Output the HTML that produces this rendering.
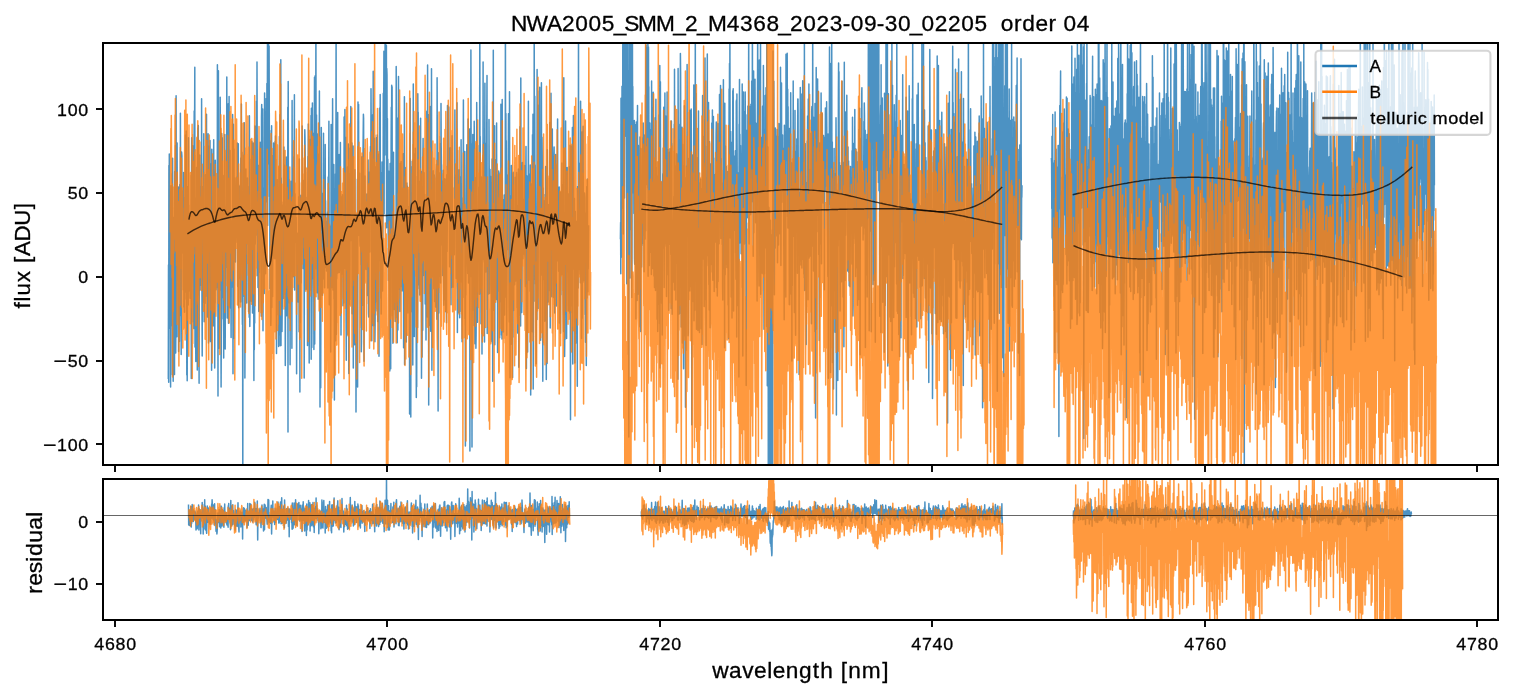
<!DOCTYPE html>
<html lang="en"><head><meta charset="utf-8"><title>NWA2005 order 04</title>
<style>
html,body{margin:0;padding:0;background:#fff;}
body{width:1513px;height:696px;overflow:hidden;}
svg{display:block;}
text{font-family:"Liberation Sans",sans-serif;white-space:pre;fill:#000;stroke:#000;stroke-width:.3px;filter:grayscale(1);}
.tk{font-size:17.2px;}
.lb{font-size:21.3px;}
.a{fill:none;stroke:#1f77b4;stroke-opacity:.8;stroke-linejoin:round;}
.b{fill:none;stroke:#ff7f0e;stroke-opacity:.8;stroke-linejoin:round;}
.m{fill:none;stroke:#000;stroke-opacity:.7;stroke-width:1.45;stroke-linejoin:round;}
.sp{fill:none;stroke:#000;stroke-width:2;}
.t{stroke:#000;stroke-width:1.9;}
</style></head>
<body>
<svg width="1513" height="696" viewBox="0 0 1513 696">
<rect width="1513" height="696" fill="#fff"/>
<defs><clipPath id="ct"><rect x="103.0" y="43.0" width="1395.0" height="422.0"/></clipPath><clipPath id="cr"><rect x="103.0" y="479.0" width="1395.0" height="141.0"/></clipPath></defs>
<g clip-path="url(#ct)" stroke-width="1.50">
<path class="a" d="M168.3 378.9L168.5 265.1L168.7 382.3L168.9 165.5L169.1 261.7L169.3 154.1L169.5 245.8L169.7 328.3L169.9 233.2L170.1 243.3L170.4 297.8L170.6 387.1L170.8 197.2L171 185.8L171.2 218.4L171.4 257.4L171.6 208.1L171.8 289.6L172 325.9L172.2 173.7L172.4 374.8L172.6 158.2L172.8 292.8L173 275.4L173.2 381.3L173.4 217.2L173.6 263.2L173.8 297.1L174 323.4L174.3 243.5L174.5 374.6L174.7 171.5L174.9 191.2L175.1 259.5L175.3 192.4L175.5 145.4L175.7 352.9L175.9 315L176.1 95.8L176.3 316.6L176.5 330.4L176.7 171.8L176.9 336.8L177.1 142.9L177.3 211.3L177.5 234.5L177.7 279.5L178 272.9L178.2 261.1L178.4 187L178.6 351.5L178.8 291.4L179 209.1L179.2 207.1L179.4 341.5L179.6 289.4L179.8 184.4L180 219.3L180.2 315.4L180.4 113.3L180.6 187.2L180.8 294.6L181 163.1L181.2 354.5L181.4 170.3L181.6 152L181.9 155.8L182.1 248.6L182.3 218L182.5 193.6L182.7 253.3L182.9 191.3L183.1 263L183.3 289.8L183.5 270.2L183.7 172.4L183.9 307.1L184.1 256.8L184.3 302.5L184.5 312.2L184.7 219.4L184.9 299.2L185.1 197.5L185.3 285.8L185.5 135.1L185.8 292.1L186 247.6L186.2 131L186.4 268.7L186.6 209.3L186.8 375L187 259.3L187.2 380.8L187.4 295.9L187.6 186.4L187.8 266.6L188 262.2L188.2 304.9L188.4 137.7L188.6 227.8L188.8 205.2L189 261.3L189.2 258.7L189.4 267.3L189.7 291.2L189.9 232.4L190.1 298.3L190.3 217.7L190.5 215.8L190.7 267.8L190.9 257.5L191.1 175.6L191.3 378.4L191.5 176.1L191.7 137.8L191.9 322L192.1 279.8L192.3 270.4L192.5 199.2L192.7 145.8L192.9 227.5L193.1 239.4L193.3 243.3L193.6 248.9L193.8 328.4L194 166L194.2 110.9L194.4 215.5L194.6 126.3L194.8 67.3L195 347L195.2 253.8L195.4 198L195.6 214.2L195.8 361.6L196 319L196.2 302.8L196.4 263.6L196.6 167.4L196.8 231.9L197 175.3L197.3 370L197.5 168.3L197.7 150.4L197.9 128L198.1 294.8L198.3 125.6L198.5 281.2L198.7 259.1L198.9 225.3L199.1 383.3L199.3 201.9L199.5 272.9L199.7 155L199.9 184.7L200.1 290L200.3 186.5L200.5 236.4L200.7 285.2L200.9 244.1L201.2 210.5L201.4 242L201.6 98.7L201.8 219.4L202 309.7L202.2 356L202.4 284.8L202.6 248.3L202.8 249.1L203 186.4L203.2 302.3L203.4 298.2L203.6 201.5L203.8 133.7L204 266.6L204.2 321.7L204.4 207.3L204.6 255L204.8 264.7L205.1 303.2L205.3 271.3L205.5 174.8L205.7 293.4L205.9 216.8L206.1 238.6L206.3 296L206.5 114.3L206.7 294.2L206.9 164.4L207.1 197.5L207.3 317.1L207.5 316.6L207.7 181.1L207.9 167.1L208.1 133.8L208.3 178.6L208.5 343.1L208.7 248.1L209 169L209.2 226.7L209.4 145.9L209.6 229.4L209.8 282.2L210 140.6L210.2 293.6L210.4 341.6L210.6 297.5L210.8 197.9L211 298.2L211.2 169.1L211.4 163.7L211.6 370.3L211.8 149.2L212 180.4L212.2 217.3L212.4 240.4L212.7 323.4L212.9 287.7L213.1 325.9L213.3 286.1L213.5 253.8L213.7 139.8L213.9 243.8L214.1 184.4L214.3 185L214.5 214.3L214.7 367.9L214.9 301.5L215.1 303.3L215.3 160.2L215.5 233.3L215.7 218.4L215.9 253.1L216.1 289.7L216.3 223.6L216.6 241.1L216.8 278.1L217 260.6L217.2 287.6L217.4 64.8L217.6 166L217.8 222.2L218 396L218.2 158.9L218.4 70.8L218.6 277.2L218.8 209.9L219 169.6L219.2 348.3L219.4 200.6L219.6 290.2L219.8 247.6L220 273.7L220.2 97.2L220.5 220.8L220.7 202L220.9 277.7L221.1 387.1L221.3 333.3L221.5 317.5L221.7 133.5L221.9 245.8L222.1 215.6L222.3 137.7L222.5 252.6L222.7 297.5L222.9 252.9L223.1 291.4L223.3 319.1L223.5 206.5L223.7 357.9L223.9 175.5L224.1 216.6L224.4 227.6L224.6 202.6L224.8 134.6L225 298.3L225.2 348.9L225.4 262.5L225.6 237.8L225.8 207.1L226 259.4L226.2 267.3L226.4 218.9L226.6 192.4L226.8 77L227 228.1L227.2 317.9L227.4 233.8L227.6 134L227.8 178.9L228 130.6L228.3 103.8L228.5 323.2L228.7 240.5L228.9 258.3L229.1 96.6L229.3 263.2L229.5 272.6L229.7 306.8L229.9 164.9L230.1 150.5L230.3 308.1L230.5 269.2L230.7 211L230.9 275.9L231.1 337.5L231.3 248.2L231.5 261.8L231.7 287L232 275L232.2 220.5L232.4 234.3L232.6 114.4L232.8 148.5L233 373.8L233.2 191.5L233.4 124.2L233.6 311.2L233.8 338.5L234 148.9L234.2 230.8L234.4 215.4L234.6 210L234.8 177.7L235 178.4L235.2 198.8L235.4 261.9L235.6 217.1L235.9 242.4L236.1 237.8L236.3 216.7L236.5 189.4L236.7 177.1L236.9 206L237.1 227.3L237.3 143L237.5 181.5L237.7 286.4L237.9 179.7L238.1 235.4L238.3 143.8L238.5 302.5L238.7 307.7L238.9 243.1L239.1 235.4L239.3 255.3L239.5 219.9L239.8 186.2L240 278.4L240.2 185.2L240.4 252.1L240.6 302.1L240.8 157.9L241 219.2L241.2 228.4L241.4 104L241.6 198.7L241.8 231.7L242 152.2L242.2 285.7L242.4 324.6L242.6 313.6L242.8 490L243 210.3L243.2 296.8L243.4 247.2L243.7 155.1L243.9 171.9L244.1 203.7L244.3 122.7L244.5 225.9L244.7 229.1L244.9 378.1L245.1 245.2L245.3 309.5L245.5 260.4L245.7 186.1L245.9 169L246.1 192.7L246.3 206.9L246.5 297.6L246.7 303L246.9 203.1L247.1 211.9L247.4 178L247.6 215.3L247.8 244.1L248 192.6L248.2 235.8L248.4 187L248.6 311.8L248.8 241.4L249 190.7L249.2 317.3L249.4 115.7L249.6 218.5L249.8 326.5L250 306.9L250.2 278.9L250.4 224.4L250.6 294.3L250.8 275.2L251 298.8L251.3 159.3L251.5 301.3L251.7 166L251.9 141.2L252.1 226.1L252.3 221.9L252.5 312.9L252.7 212.3L252.9 248.4L253.1 158.2L253.3 143.1L253.5 201.9L253.7 266.2L253.9 380.5L254.1 154.7L254.3 349.8L254.5 207.1L254.7 323.1L254.9 126.1L255.2 244.3L255.4 237.3L255.6 196L255.8 207.8L256 226.3L256.2 235.1L256.4 101.3L256.6 141.9L256.8 167.1L257 61.9L257.2 134.8L257.4 275.4L257.6 246.5L257.8 165.3L258 287.4L258.2 225.8L258.4 165.6L258.6 266.3L258.8 311.4L259.1 203.8L259.3 272.6L259.5 244.5L259.7 246.5L259.9 148.7L260.1 142.2L260.3 158.1L260.5 245.1L260.7 222.2L260.9 215.1L261.1 302.6L261.3 316.2L261.5 116.7L261.7 104.4L261.9 199.5L262.1 251.3L262.3 259L262.5 211.1L262.7 109L263 330.7L263.2 188L263.4 245.7L263.6 227.3L263.8 208.3L264 286L264.2 293.5L264.4 153.2L264.6 93.1L264.8 190.1L265 242.2L265.2 240.6L265.4 234.1L265.6 273.8L265.8 262.6L266 157.2L266.2 98.6L266.4 187L266.7 201.8L266.9 83.4L267.1 158.3L267.3 128.1L267.5 37.2L267.7 225.6L267.9 13L268.1 13L268.3 21.6L268.5 13L268.7 163.8L268.9 78.9L269.1 45.9L269.3 114.2L269.5 196.6L269.7 130.4L269.9 288.8L270.1 151.2L270.3 184.2L270.6 141.2L270.8 325.6L271 317.5L271.2 207.6L271.4 176L271.6 125.8L271.8 307.5L272 261.5L272.2 262.9L272.4 204.3L272.6 296.4L272.8 227.5L273 155.4L273.2 171.7L273.4 241.8L273.6 142.9L273.8 258.1L274 167.5L274.2 196.3L274.5 192.3L274.7 205.1L274.9 258.8L275.1 141.2L275.3 182.6L275.5 136.1L275.7 191.9L275.9 159.6L276.1 234.5L276.3 255.1L276.5 353.5L276.7 193.5L276.9 314.9L277.1 188.6L277.3 179.7L277.5 267.9L277.7 294.5L277.9 299.8L278.1 260.7L278.4 235.8L278.6 346.5L278.8 192.4L279 166.8L279.2 181.7L279.4 136.6L279.6 178.9L279.8 334.8L280 114.7L280.2 345.8L280.4 119.1L280.6 299L280.8 59.7L281 345.4L281.2 178L281.4 239L281.6 220L281.8 202L282 331.5L282.3 299L282.5 221.8L282.7 258.1L282.9 290.7L283.1 205.1L283.3 284.6L283.5 298.3L283.7 185.1L283.9 147L284.1 249L284.3 165L284.5 255.3L284.7 206.9L284.9 294.7L285.1 288.1L285.3 365.4L285.5 311.4L285.7 262.2L286 184.4L286.2 156.9L286.4 262L286.6 315.7L286.8 286.4L287 217.1L287.2 188.3L287.4 304.6L287.6 243.5L287.8 107.2L288 432L288.2 81.4L288.4 173.5L288.6 198.6L288.8 266.9L289 189.6L289.2 179.4L289.4 223.9L289.6 303.2L289.9 203.6L290.1 364.8L290.3 244.2L290.5 192.5L290.7 197.3L290.9 181.2L291.1 270.8L291.3 206.6L291.5 215.1L291.7 183.4L291.9 348.2L292.1 100.5L292.3 203.3L292.5 252.1L292.7 247.5L292.9 228.8L293.1 276.7L293.3 242.9L293.5 212.7L293.8 156.7L294 248.6L294.2 153.2L294.4 94.8L294.6 290.1L294.8 208.5L295 193.7L295.2 213L295.4 216.9L295.6 205L295.8 213.9L296 241.9L296.2 217.5L296.4 260.7L296.6 373.8L296.8 290.6L297 257.2L297.2 233.2L297.4 250.8L297.7 277.7L297.9 255.4L298.1 301.9L298.3 295.6L298.5 214.1L298.7 196.8L298.9 257.7L299.1 331.7L299.3 158.9L299.5 254.6L299.7 223.1L299.9 392L300.1 212.6L300.3 322.9L300.5 292.6L300.7 236L300.9 195.2L301.1 283L301.4 248.3L301.6 200.3L301.8 201.5L302 242.4L302.2 126.1L302.4 217.4L302.6 209.5L302.8 192.3L303 268.4L303.2 180.6L303.4 240.5L303.6 203L303.8 202.7L304 196.8L304.2 378.1L304.4 232.3L304.6 176.4L304.8 129.8L305 137.5L305.3 166.9L305.5 197.2L305.7 214.1L305.9 289.4L306.1 197.2L306.3 248.9L306.5 224.3L306.7 262.8L306.9 256.8L307.1 228.1L307.3 220L307.5 345.6L307.7 232.8L307.9 156.6L308.1 190.7L308.3 123.9L308.5 186.5L308.7 136.1L308.9 289.3L309.2 363L309.4 243.3L309.6 178.9L309.8 180L310 146.7L310.2 139.5L310.4 210.5L310.6 289.9L310.8 201.2L311 115.4L311.2 359.3L311.4 108.2L311.6 264.8L311.8 347.4L312 302.4L312.2 276.5L312.4 102.9L312.6 278.4L312.8 180.7L313.1 225L313.3 133.6L313.5 146.1L313.7 161L313.9 349.6L314.1 168L314.3 137.2L314.5 77.2L314.7 343.9L314.9 270.1L315.1 191.3L315.3 75.6L315.5 156.4L315.7 174.9L315.9 13L316.1 168.7L316.3 269.1L316.5 115.1L316.7 203.3L317 292.7L317.2 185.9L317.4 133.9L317.6 275.5L317.8 264.6L318 245.7L318.2 299.2L318.4 195.9L318.6 250.8L318.8 153.9L319 209.4L319.2 230.8L319.4 90.9L319.6 187.8L319.8 271.6L320 407L320.2 180.9L320.4 233.3L320.7 387.7L320.9 288.5L321.1 191.9L321.3 127.4L321.5 203.8L321.7 228.5L321.9 295.1L322.1 193.3L322.3 278.8L322.5 295.3L322.7 211.7L322.9 274.8L323.1 203.8L323.3 228.2L323.5 133.3L323.7 229.3L323.9 279L324.1 261.9L324.3 211.8L324.6 287.7L324.8 190.8L325 212.6L325.2 144.4L325.4 267.4L325.6 200.7L325.8 240.6L326 238.1L326.2 226.3L326.4 244.9L326.6 271.1L326.8 221.4L327 259.4L327.2 236.9L327.4 261L327.6 212.1L327.8 287.9L328 263.6L328.2 176.9L328.5 217L328.7 182.6L328.9 121.2L329.1 214.1L329.3 304.8L329.5 266.8L329.7 226.1L329.9 251.9L330.1 265.6L330.3 298.5L330.5 276.1L330.7 352L330.9 294.7L331.1 124.5L331.3 234.5L331.5 287.7L331.7 214.9L331.9 135.1L332.1 229.6L332.4 190.8L332.6 98.8L332.8 219.3L333 290.1L333.2 268.6L333.4 268.1L333.6 236.8L333.8 164.6L334 298.9L334.2 213.6L334.4 400L334.6 237.6L334.8 328.1L335 256.6L335.2 247.5L335.4 174L335.6 340.8L335.8 279.6L336.1 13L336.3 334.4L336.5 157.9L336.7 278.9L336.9 273.2L337.1 121.8L337.3 247.9L337.5 200.5L337.7 112.5L337.9 273.1L338.1 215.4L338.3 223.4L338.5 270.7L338.7 231.5L338.9 252.9L339.1 154.6L339.3 272.6L339.5 206L339.7 167.6L340 205.9L340.2 270.4L340.4 142.4L340.6 266.3L340.8 204.8L341 335L341.2 268.9L341.4 245.8L341.6 274.2L341.8 196.7L342 254.5L342.2 215.7L342.4 194.7L342.6 241.9L342.8 219.6L343 305.7L343.2 245.2L343.4 247.1L343.6 217L343.9 303L344.1 117L344.3 117.2L344.5 156.4L344.7 228L344.9 109.4L345.1 162.9L345.3 268.4L345.5 259.5L345.7 137.2L345.9 269.9L346.1 322.4L346.3 360.3L346.5 238L346.7 245.5L346.9 220.6L347.1 334.4L347.3 260.5L347.5 167L347.8 281.2L348 187.4L348.2 265.6L348.4 144L348.6 219.5L348.8 373.4L349 148.1L349.2 242.7L349.4 304.7L349.6 211.4L349.8 299.5L350 258.9L350.2 185.6L350.4 173.5L350.6 240.8L350.8 106.6L351 139.3L351.2 240.5L351.4 143L351.7 209.6L351.9 142.9L352.1 313.7L352.3 289.5L352.5 258.4L352.7 240.2L352.9 189.8L353.1 146.1L353.3 368L353.5 270.1L353.7 215.7L353.9 258.2L354.1 294L354.3 318.6L354.5 344.8L354.7 278.8L354.9 169.7L355.1 232.7L355.4 262.4L355.6 221.4L355.8 233L356 412L356.2 343.7L356.4 216L356.6 346.4L356.8 292.6L357 255.5L357.2 364.7L357.4 179.3L357.6 387.1L357.8 233.7L358 102L358.2 178.5L358.4 235.4L358.6 104.5L358.8 217.6L359 195.5L359.3 178.4L359.5 189.2L359.7 173.3L359.9 240.7L360.1 246.1L360.3 217.9L360.5 231.4L360.7 247.7L360.9 265.1L361.1 242.2L361.3 351.7L361.5 341.2L361.7 157.6L361.9 156.7L362.1 158.8L362.3 278.3L362.5 187.6L362.7 305.3L362.9 166.2L363.2 132.7L363.4 114.3L363.6 118.2L363.8 199.8L364 361.2L364.2 274.2L364.4 235.4L364.6 180.5L364.8 205.2L365 176L365.2 200.9L365.4 240L365.6 269L365.8 203.7L366 269.4L366.2 222.3L366.4 202.2L366.6 255.5L366.8 194L367.1 232.5L367.3 225.8L367.5 295.5L367.7 221.9L367.9 250.4L368.1 159.9L368.3 212.2L368.5 313.1L368.7 316.9L368.9 272.4L369.1 191.3L369.3 173.5L369.5 172L369.7 190L369.9 252L370.1 178.6L370.3 157.4L370.5 146.4L370.8 177.4L371 88.7L371.2 123L371.4 159.3L371.6 203.3L371.8 340.7L372 282L372.2 242.3L372.4 114.9L372.6 190.4L372.8 272.7L373 318.7L373.2 71.2L373.4 325.8L373.6 214.4L373.8 293.9L374 185.3L374.2 222.9L374.4 138.3L374.7 233.8L374.9 341.8L375.1 324.8L375.3 289L375.5 166.9L375.7 209L375.9 183L376.1 253.2L376.3 301.5L376.5 137.8L376.7 186.6L376.9 297.8L377.1 311.1L377.3 135L377.5 221.2L377.7 321.6L377.9 321.2L378.1 199.2L378.3 309.6L378.6 255.5L378.8 154L379 356.2L379.2 195.9L379.4 218.2L379.6 108.1L379.8 189.2L380 172.6L380.2 94.6L380.4 260.5L380.6 172.5L380.8 298.2L381 204.2L381.2 313.9L381.4 231.2L381.6 212.7L381.8 211.1L382 162L382.2 188.9L382.5 290.9L382.7 276.6L382.9 217.1L383.1 204.3L383.3 93.2L383.5 149L383.7 112.7L383.9 51.3L384.1 213.7L384.3 85.5L384.5 59.9L384.7 151.9L384.9 155.1L385.1 37.9L385.3 13L385.5 13L385.7 13L385.9 91.7L386.1 98.3L386.4 45.4L386.6 227.7L386.8 68.6L387 74.5L387.2 194.9L387.4 118.4L387.6 223L387.8 159.2L388 175.3L388.2 233.5L388.4 280.6L388.6 171.1L388.8 216.3L389 262.2L389.2 288.2L389.4 339L389.6 214L389.8 371L390.1 163.5L390.3 295.5L390.5 356.3L390.7 368.7L390.9 219L391.1 143.2L391.3 107.2L391.5 193.3L391.7 85.3L391.9 164.7L392.1 86.7L392.3 254.3L392.5 316.1L392.7 214.9L392.9 343.3L393.1 200.5L393.3 277.9L393.5 152.2L393.7 245.9L394 291.4L394.2 255.2L394.4 309.4L394.6 240.3L394.8 234.9L395 241.3L395.2 321.4L395.4 258.2L395.6 263.8L395.8 243.8L396 317.5L396.2 66.6L396.4 180.5L396.6 231.6L396.8 237.9L397 117.9L397.2 342.7L397.4 241L397.6 187.7L397.9 330L398.1 297L398.3 120.3L398.5 76.4L398.7 164.7L398.9 289.3L399.1 286.5L399.3 251.7L399.5 286L399.7 213.5L399.9 311.6L400.1 287.4L400.3 163.5L400.5 223L400.7 232.7L400.9 286.4L401.1 161.6L401.3 222.1L401.5 266.6L401.8 193.4L402 290.9L402.2 280.2L402.4 187.9L402.6 225.3L402.8 241L403 225.2L403.2 153.7L403.4 174.2L403.6 347.7L403.8 197.3L404 263.4L404.2 191.9L404.4 96.7L404.6 364.4L404.8 169.3L405 232.6L405.2 167.6L405.5 197.4L405.7 219L405.9 194.3L406.1 257.7L406.3 342L406.5 202.7L406.7 309.8L406.9 182.9L407.1 254.1L407.3 185.9L407.5 223.4L407.7 222.1L407.9 313L408.1 272.7L408.3 258.6L408.5 206.8L408.7 285.7L408.9 287.2L409.1 239.4L409.4 189.7L409.6 414L409.8 133.4L410 297.5L410.2 98.6L410.4 305.5L410.6 166.5L410.8 417L411 196.5L411.2 271.8L411.4 192.9L411.6 284.8L411.8 299.4L412 291.1L412.2 161.2L412.4 312.1L412.6 189L412.8 364.9L413 198L413.3 84L413.5 294.4L413.7 211.3L413.9 153.7L414.1 159L414.3 336.5L414.5 213.5L414.7 202L414.9 238.2L415.1 257.5L415.3 148.2L415.5 242.6L415.7 176.6L415.9 224.5L416.1 232.2L416.3 397.4L416.5 309.6L416.7 386.8L416.9 207.4L417.2 291.8L417.4 242.2L417.6 327.6L417.8 93.7L418 135.5L418.2 112.2L418.4 284.7L418.6 169.9L418.8 248L419 248.5L419.2 207.6L419.4 288.8L419.6 211.4L419.8 294.9L420 181.2L420.2 258.3L420.4 271.1L420.6 118.3L420.8 236L421.1 203.2L421.3 171.3L421.5 378.2L421.7 288.1L421.9 304.5L422.1 357L422.3 275.4L422.5 186.6L422.7 330.2L422.9 156.1L423.1 138.6L423.3 251.3L423.5 275.6L423.7 175.5L423.9 194.1L424.1 172.7L424.3 259.5L424.5 224L424.8 194.6L425 218.6L425.2 303.9L425.4 218.5L425.6 214.9L425.8 200.7L426 339.9L426.2 266.3L426.4 315.2L426.6 249.1L426.8 111.2L427 195.2L427.2 238.2L427.4 317.1L427.6 65L427.8 276.3L428 311.2L428.2 149.9L428.4 114.8L428.7 405.1L428.9 223.3L429.1 172.7L429.3 235.1L429.5 298.2L429.7 171.2L429.9 325.6L430.1 106.5L430.3 216.4L430.5 227.7L430.7 331.3L430.9 215.3L431.1 216.9L431.3 202.1L431.5 68.8L431.7 189.4L431.9 370.3L432.1 214.2L432.3 277.3L432.6 203.2L432.8 241.5L433 206.8L433.2 170.7L433.4 253.1L433.6 174.7L433.8 288.8L434 268.5L434.2 175.1L434.4 177.6L434.6 301.4L434.8 291.5L435 202.1L435.2 214.2L435.4 206.5L435.6 306.9L435.8 272.9L436 253.2L436.2 172.1L436.5 164.2L436.7 278.3L436.9 319.2L437.1 77.7L437.3 135.4L437.5 260L437.7 211.4L437.9 173L438.1 411L438.3 152.8L438.5 273.4L438.7 201.2L438.9 313.1L439.1 213.8L439.3 276.3L439.5 200.5L439.7 172.8L439.9 193L440.2 227.8L440.4 143.5L440.6 283L440.8 223L441 103.5L441.2 146L441.4 164.2L441.6 165.4L441.8 234.5L442 214L442.2 245.3L442.4 186.2L442.6 275.6L442.8 187.1L443 180.9L443.2 249L443.4 170.2L443.6 273.4L443.8 305.3L444.1 275.7L444.3 178.7L444.5 196.6L444.7 255.6L444.9 213.3L445.1 298.6L445.3 299.8L445.5 285.5L445.7 311.8L445.9 179L446.1 190.5L446.3 255.8L446.5 322.7L446.7 174.7L446.9 211.9L447.1 251.5L447.3 218.7L447.5 105.5L447.7 193.5L448 199L448.2 203.5L448.4 168.4L448.6 210.2L448.8 106.9L449 172.9L449.2 193.1L449.4 220.6L449.6 266.7L449.8 190.1L450 252.3L450.2 206.4L450.4 147.8L450.6 232.2L450.8 248L451 304.8L451.2 219.7L451.4 241.4L451.6 287.5L451.9 233.9L452.1 135.7L452.3 186.9L452.5 264.6L452.7 219L452.9 250.8L453.1 287.3L453.3 238.7L453.5 233.5L453.7 217L453.9 239.5L454.1 217.7L454.3 254.7L454.5 212.1L454.7 226.2L454.9 110L455.1 217.8L455.3 175.1L455.5 186.9L455.8 209.6L456 208.7L456.2 278.6L456.4 246L456.6 214.4L456.8 169.6L457 102.7L457.2 225L457.4 332.5L457.6 150.6L457.8 285.5L458 196.5L458.2 180.5L458.4 312.6L458.6 267.6L458.8 188.4L459 248.6L459.2 169.7L459.5 285.3L459.7 317.8L459.9 176.7L460.1 311.5L460.3 206.6L460.5 237L460.7 281.7L460.9 248.3L461.1 139.7L461.3 205.4L461.5 197.7L461.7 241.7L461.9 267.2L462.1 341.7L462.3 301L462.5 203.8L462.7 226.9L462.9 297.4L463.1 211L463.4 99.9L463.6 196.2L463.8 191.3L464 232.2L464.2 176.3L464.4 163.6L464.6 190.8L464.8 151.5L465 318.8L465.2 267.1L465.4 446L465.6 214.1L465.8 295.2L466 264.6L466.2 236.8L466.4 221.2L466.6 177.6L466.8 144.7L467 228.2L467.3 240.3L467.5 263.4L467.7 273.6L467.9 264.5L468.1 118.9L468.3 133.1L468.5 282.9L468.7 281.2L468.9 170L469.1 169.9L469.3 229.8L469.5 129.1L469.7 177L469.9 451L470.1 201.5L470.3 258.8L470.5 140L470.7 276.5L470.9 50L471.2 177.2L471.4 267.9L471.6 143.7L471.8 162.4L472 447L472.2 219.9L472.4 183.1L472.6 232.1L472.8 134.4L473 219.5L473.2 310.1L473.4 273L473.6 277L473.8 243.1L474 325.6L474.2 121.3L474.4 158.5L474.6 280.6L474.9 343.8L475.1 267.7L475.3 177.8L475.5 213L475.7 227.4L475.9 348.3L476.1 335.5L476.3 305.5L476.5 303.6L476.7 102.4L476.9 145.6L477.1 223L477.3 212.2L477.5 322.2L477.7 283.7L477.9 250.6L478.1 259.3L478.3 220.1L478.5 217.7L478.8 186.9L479 229.9L479.2 145.6L479.4 294.3L479.6 205L479.8 13L480 176.2L480.2 136.6L480.4 209.4L480.6 216.5L480.8 205L481 323.7L481.2 211L481.4 177.1L481.6 268.1L481.8 227.6L482 354.1L482.2 233.8L482.4 183.2L482.7 259.6L482.9 259L483.1 62L483.3 250.1L483.5 143.1L483.7 233L483.9 245.4L484.1 262.2L484.3 171.8L484.5 342.1L484.7 161.8L484.9 83.2L485.1 259.5L485.3 167.5L485.5 143.3L485.7 272L485.9 161.9L486.1 247.9L486.3 207.9L486.6 157.6L486.8 118.7L487 75.6L487.2 333.4L487.4 290.6L487.6 242.2L487.8 243.5L488 260.2L488.2 240.3L488.4 293.9L488.6 216.8L488.8 281.1L489 119.5L489.2 164.4L489.4 209L489.6 293.6L489.8 284.2L490 169.6L490.2 192.5L490.5 176.2L490.7 200.5L490.9 230.3L491.1 238.3L491.3 222.1L491.5 340L491.7 183.1L491.9 341.8L492.1 159L492.3 174.3L492.5 233.9L492.7 381.3L492.9 199.1L493.1 232.4L493.3 50.2L493.5 235.9L493.7 196.2L493.9 264.4L494.2 310.5L494.4 176.7L494.6 125.7L494.8 344.7L495 198.3L495.2 235.7L495.4 174.5L495.6 207.7L495.8 159.7L496 236.7L496.2 211.8L496.4 299.6L496.6 122.9L496.8 254.2L497 174.4L497.2 198.5L497.4 184.5L497.6 352.5L497.8 272L498.1 267.5L498.3 291.1L498.5 210L498.7 171.1L498.9 210.8L499.1 172.8L499.3 204.3L499.5 259.5L499.7 337.7L499.9 253.1L500.1 301.9L500.3 296.1L500.5 272.5L500.7 264.6L500.9 104.2L501.1 218.1L501.3 184.1L501.5 335.1L501.7 209.2L502 338.9L502.2 99.6L502.4 274.8L502.6 277.8L502.8 233.4L503 207.2L503.2 267L503.4 332.1L503.6 199.5L503.8 210.6L504 238.7L504.2 195L504.4 288.7L504.6 314.9L504.8 272.6L505 243.1L505.2 254.9L505.4 13L505.6 164.8L505.9 113.4L506.1 297.3L506.3 140.8L506.5 234.9L506.7 335.3L506.9 280.1L507.1 230.6L507.3 175.2L507.5 180L507.7 238.8L507.9 249.6L508.1 211.9L508.3 154.2L508.5 113.7L508.7 198.7L508.9 176.1L509.1 306.1L509.3 322.1L509.5 91.7L509.8 233.2L510 377.7L510.2 320.4L510.4 195.8L510.6 290.9L510.8 234.5L511 240.1L511.2 344.3L511.4 165.5L511.6 300.8L511.8 174.5L512 258.3L512.2 215.7L512.4 227.4L512.6 377.5L512.8 173.2L513 337.2L513.2 172.3L513.5 224.8L513.7 310.4L513.9 227.8L514.1 242.6L514.3 219.6L514.5 223.5L514.7 284.8L514.9 272.8L515.1 177.3L515.3 276.1L515.5 250L515.7 280.9L515.9 268.4L516.1 266.4L516.3 189.2L516.5 172.6L516.7 274L516.9 240L517.1 307.7L517.4 291.5L517.6 333.1L517.8 205.5L518 207.2L518.2 230.4L518.4 169L518.6 274.8L518.8 367.3L519 279.5L519.2 315.6L519.4 186.9L519.6 287L519.8 246.9L520 126.7L520.2 217.2L520.4 176.2L520.6 326L520.8 78L521 185.7L521.3 236.7L521.5 165.6L521.7 312.4L521.9 301.5L522.1 255.3L522.3 192.9L522.5 162.4L522.7 249.3L522.9 258.8L523.1 247.9L523.3 217.9L523.5 254.3L523.7 199.2L523.9 252L524.1 248.4L524.3 214.8L524.5 165.4L524.7 188.6L524.9 255.2L525.2 258.7L525.4 286.4L525.6 218.1L525.8 176.8L526 146.5L526.2 233.2L526.4 368.4L526.6 177.4L526.8 243.3L527 176.1L527.2 305L527.4 220.5L527.6 352L527.8 243.1L528 210.5L528.2 215.4L528.4 101.2L528.6 220.6L528.9 280L529.1 196.4L529.3 235.1L529.5 174.6L529.7 221.4L529.9 186L530.1 291.2L530.3 165L530.5 215.5L530.7 395.1L530.9 248.2L531.1 223.7L531.3 183.9L531.5 209.2L531.7 215.7L531.9 318.2L532.1 311.5L532.3 331.8L532.5 134.7L532.8 213.2L533 114.3L533.2 389.1L533.4 256.5L533.6 165.7L533.8 190.4L534 301.3L534.2 21.5L534.4 149.3L534.6 170.8L534.8 96.3L535 279.2L535.2 164.9L535.4 202.8L535.6 284.1L535.8 243.3L536 302.8L536.2 363.8L536.4 245.8L536.7 231.3L536.9 319.5L537.1 69.6L537.3 179.5L537.5 234.5L537.7 104.9L537.9 260.2L538.1 308.5L538.3 195.4L538.5 139.4L538.7 213.3L538.9 222.9L539.1 138.6L539.3 90.9L539.5 147L539.7 87.2L539.9 185.5L540.1 259.7L540.3 300.6L540.6 340.2L540.8 184.4L541 139.6L541.2 226.6L541.4 82.7L541.6 168.6L541.8 274.9L542 137.3L542.2 154.3L542.4 183.5L542.6 195.6L542.8 381.2L543 188.1L543.2 241.2L543.4 234.2L543.6 203.1L543.8 200.8L544 279.6L544.2 265.2L544.5 210.6L544.7 321.3L544.9 250.3L545.1 194.5L545.3 274.1L545.5 287.5L545.7 166.5L545.9 233.1L546.1 222.1L546.3 379.5L546.5 279.6L546.7 203L546.9 256.9L547.1 363.5L547.3 149.8L547.5 286.9L547.7 297.8L547.9 204.5L548.2 302.1L548.4 208.5L548.6 255.8L548.8 284.5L549 204.4L549.2 223.3L549.4 290.5L549.6 204.8L549.8 122.5L550 146.4L550.2 328L550.4 234.5L550.6 285.8L550.8 205.3L551 93.2L551.2 190.8L551.4 151L551.6 232.7L551.8 296.8L552.1 224.5L552.3 128.9L552.5 200L552.7 243.5L552.9 234L553.1 197.5L553.3 216L553.5 297.6L553.7 252.2L553.9 153.9L554.1 147L554.3 265.3L554.5 285.7L554.7 313L554.9 254L555.1 260.8L555.3 251.3L555.5 213.2L555.7 154.6L556 285.8L556.2 202.5L556.4 306.1L556.6 209.4L556.8 165L557 257.6L557.2 224.8L557.4 163.1L557.6 119.1L557.8 260.7L558 197.8L558.2 255.7L558.4 250.4L558.6 271.2L558.8 224.4L559 250.1L559.2 187.1L559.4 322.9L559.6 207.5L559.9 309.4L560.1 245.6L560.3 282L560.5 333.2L560.7 192L560.9 294.9L561.1 207.1L561.3 261.2L561.5 222.3L561.7 252.7L561.9 163L562.1 274.5L562.3 184.5L562.5 262.8L562.7 241.2L562.9 223.1L563.1 292.2L563.3 311.6L563.6 331.6L563.8 77.8L564 308.3L564.2 247.2L564.4 234.6L564.6 356.4L564.8 335.1L565 339.7L565.2 212.7L565.4 296.6L565.6 121L565.8 184.8L566 215.3L566.2 226.5L566.4 180.1L566.6 338.5L566.8 237.9L567 174L567.2 167.6L567.5 251.4L567.7 221.1L567.9 271.5L568.1 207.3L568.3 275.4L568.5 310.9L568.7 193.7L568.9 286.4L569.1 257.7L569.3 264.2L569.5 166.5L569.7 306.7L569.9 313.3L570.1 145.3L570.3 283.6L570.5 419.7L570.7 239L570.9 312.9L571.1 248.9L571.4 146.3L571.6 305.7L571.8 290.3L572 232.4L572.2 224L572.4 127.5L572.6 334.4L572.8 363.9L573 215L573.2 262.4L573.4 115.6L573.6 213.8L573.8 268.9L574 200.3L574.2 201.4L574.4 198.4L574.6 243.3L574.8 363L575 296.3L575.3 211.6L575.5 270.3L575.7 343.2L575.9 221L576.1 221.4L576.3 293.7L576.5 238.1L576.7 272L576.9 241L577.1 226.2L577.3 386.3L577.5 186.8L577.7 215.7L577.9 273.3L578.1 288L578.3 233.1L578.5 13L578.7 239.2L578.9 218.6L579.2 269.4L579.4 163.5L579.6 218.5L579.8 264.2L580 274.3L580.2 234.8L580.4 282.8L580.6 101.2L580.8 235.6L581 192.1L581.2 272.7L581.4 266.6L581.6 338.5L581.8 187.2L582 131.9L582.2 318.3L582.4 238.6L582.6 216L582.9 282.2L583.1 126.3L583.3 201.3L583.5 239.5L583.7 233.4L583.9 244.7L584.1 280.5L584.3 240.2L584.5 193L584.7 196.8L584.9 260.8L585.1 314.6L585.3 226L585.5 342.3L585.7 213.2L585.9 213L586.1 238.2L586.3 365.5L586.5 199.6L586.8 186.6L587 298L587.2 271.5L587.4 179L587.6 263L587.8 291.7L588 239.2L588.2 269L588.4 251.1L588.6 225.3"/>
<path class="a" d="M620.4 239.3L620.6 222.5L620.8 273.7L621 98.2L621.2 139.8L621.4 257.2L621.6 100.6L621.8 200.4L622 86.2L622.2 182.9L622.4 161.3L622.6 202.9L622.8 30.8L623 208.5L623.1 40.2L623.3 233.9L623.5 13L623.7 41.2L623.9 65.1L624.1 50.6L624.3 13L624.5 198L624.7 136.9L624.9 56.3L625.1 136.5L625.3 13L625.5 58.5L625.7 133L625.9 13L626.1 13L626.3 115.4L626.5 13L626.7 283.7L626.9 55L627.1 13L627.3 221.3L627.5 211.8L627.7 13L627.9 44L628.1 13L628.2 97.6L628.4 354.4L628.6 158.4L628.8 437.1L629 70.4L629.2 266.5L629.4 158.4L629.6 181.4L629.8 13L630 278L630.2 65.6L630.4 142.6L630.6 171.3L630.8 13L631 13L631.2 229.5L631.4 181.2L631.6 86.5L631.8 297.6L632 243L632.2 127.2L632.4 14.7L632.6 148.5L632.8 86.6L633 156L633.2 152.8L633.3 192.8L633.5 165.3L633.7 150.3L633.9 213.6L634.1 185L634.3 120.6L634.5 258L634.7 264.3L634.9 213L635.1 184.9L635.3 124.7L635.5 217.2L635.7 200.3L635.9 319L636.1 264.5L636.3 121.9L636.5 160.5L636.7 248.8L636.9 134.3L637.1 300.5L637.3 156.2L637.5 105.5L637.7 268.3L637.9 233.9L638.1 294.3L638.3 229.7L638.4 145.6L638.6 179.3L638.8 202.9L639 236.5L639.2 203.5L639.4 225L639.6 306.7L639.8 326.7L640 136.9L640.2 270.8L640.4 176.5L640.6 331.5L640.8 202.1L641 148.5L641.2 245.3L641.4 235.6L641.6 267.1L641.8 234.1L642 245.5L642.2 194.7L642.4 243.7L642.6 173.3L642.8 137.7L643 169.3L643.2 122.9L643.4 235.6L643.6 176.4L643.7 196.1L643.9 192.5L644.1 271.8L644.3 135.1L644.5 233.9L644.7 234.1L644.9 177.4L645.1 238.9L645.3 156.1L645.5 156.6L645.7 230.7L645.9 61.3L646.1 45L646.3 66.4L646.5 184.4L646.7 53.6L646.9 64.9L647.1 78.7L647.3 47.5L647.5 146.2L647.7 188L647.9 13L648.1 276.2L648.3 112L648.5 47L648.7 137.3L648.8 86.8L649 208.3L649.2 264.7L649.4 265.5L649.6 140.9L649.8 123.1L650 159.1L650.2 129.7L650.4 241L650.6 252.2L650.8 148.1L651 144.2L651.2 160.3L651.4 274.5L651.6 81L651.8 257.8L652 266.6L652.2 267.7L652.4 260.9L652.6 268.6L652.8 185.7L653 161.8L653.2 92.2L653.4 174.5L653.6 224.5L653.8 223.4L653.9 276.1L654.1 200.7L654.3 248.7L654.5 287.6L654.7 220.5L654.9 196.2L655.1 117.7L655.3 148.8L655.5 290.4L655.7 230L655.9 99.3L656.1 229.5L656.3 167.5L656.5 279.1L656.7 176.1L656.9 211.6L657.1 319.3L657.3 274.2L657.5 239.9L657.7 331.6L657.9 306.4L658.1 162.1L658.3 210.9L658.5 241.9L658.7 304.3L658.9 200.1L659 115L659.2 258.5L659.4 199.9L659.6 323.7L659.8 65.6L660 368L660.2 171.3L660.4 81.7L660.6 222.1L660.8 285.6L661 199.7L661.2 286.2L661.4 182.3L661.6 303.2L661.8 196L662 244.2L662.2 335L662.4 249.1L662.6 188.9L662.8 173.8L663 248L663.2 147.9L663.4 203.5L663.6 185.3L663.8 107.3L664 239.4L664.2 287.6L664.3 196.7L664.5 123.8L664.7 246.3L664.9 92.9L665.1 176.2L665.3 211.1L665.5 181.8L665.7 115.9L665.9 243.4L666.1 220.6L666.3 202.9L666.5 296.6L666.7 192.8L666.9 250.2L667.1 91.9L667.3 248.9L667.5 160.1L667.7 266.1L667.9 149.4L668.1 275.1L668.3 208.6L668.5 278.7L668.7 310.2L668.9 241.5L669.1 152.6L669.3 244.6L669.4 160.4L669.6 236.5L669.8 165.3L670 148.8L670.2 161.6L670.4 241.1L670.6 208L670.8 254.4L671 182L671.2 308.5L671.4 121.1L671.6 208.2L671.8 143.6L672 232.7L672.2 314.2L672.4 226.2L672.6 282.6L672.8 250.5L673 224.5L673.2 282L673.4 225.7L673.6 215L673.8 196.6L674 256L674.2 124.2L674.4 290L674.5 69.2L674.7 206.6L674.9 258.8L675.1 167.3L675.3 235.2L675.5 166.6L675.7 177.8L675.9 299.9L676.1 259.7L676.3 170.9L676.5 153.8L676.7 263.3L676.9 155.5L677.1 244L677.3 218.8L677.5 169.6L677.7 266.3L677.9 379.3L678.1 68.5L678.3 156.3L678.5 181.6L678.7 165.5L678.9 314.2L679.1 201.1L679.3 247L679.5 244.8L679.6 313.6L679.8 124.3L680 188.2L680.2 129L680.4 53.5L680.6 71.9L680.8 153.3L681 169.2L681.2 327L681.4 227.3L681.6 199.8L681.8 130.9L682 127.2L682.2 253.9L682.4 342.9L682.6 144.2L682.8 211L683 217.4L683.2 165.4L683.4 330.7L683.6 368.7L683.8 315.2L684 336.3L684.2 267.8L684.4 105.8L684.6 183.3L684.8 196.6L684.9 215.8L685.1 306L685.3 177.8L685.5 407.2L685.7 208.7L685.9 245.6L686.1 350.4L686.3 279.7L686.5 166L686.7 199.6L686.9 213.8L687.1 64.6L687.3 207L687.5 181.2L687.7 200.4L687.9 237.7L688.1 335.8L688.3 333.3L688.5 252L688.7 158.6L688.9 176.4L689.1 273.9L689.3 171.5L689.5 186L689.7 110.3L689.9 291L690 227.3L690.2 285.9L690.4 270.9L690.6 248.4L690.8 251.3L691 286.6L691.2 108.9L691.4 155.5L691.6 233.2L691.8 424.8L692 189.5L692.2 229.1L692.4 155L692.6 240.5L692.8 209.3L693 205.5L693.2 295.9L693.4 301.6L693.6 222.6L693.8 84.9L694 320.7L694.2 291.2L694.4 186L694.6 241.6L694.8 310.2L695 127.6L695.1 152.4L695.3 34.1L695.5 221.9L695.7 134.5L695.9 93.5L696.1 127.1L696.3 264.9L696.5 329.2L696.7 210.6L696.9 281.4L697.1 258.7L697.3 157.7L697.5 323.2L697.7 245.1L697.9 330.5L698.1 204.1L698.3 276.7L698.5 111L698.7 224.6L698.9 199.5L699.1 293.1L699.3 329.7L699.5 332.4L699.7 243.1L699.9 251.1L700.1 182.7L700.2 213.7L700.4 199.6L700.6 178.9L700.8 249.3L701 198.7L701.2 328.7L701.4 189.1L701.6 212.6L701.8 226.4L702 344.5L702.2 201.4L702.4 196.2L702.6 95.5L702.8 206.7L703 258.9L703.2 201.7L703.4 231.5L703.6 226.7L703.8 136.6L704 197.8L704.2 306.5L704.4 196.1L704.6 206.9L704.8 110.1L705 58.1L705.2 299.4L705.4 146L705.5 178.1L705.7 282.3L705.9 281.4L706.1 345.4L706.3 254.4L706.5 246L706.7 265.8L706.9 259.6L707.1 122.9L707.3 54.1L707.5 204.9L707.7 255.6L707.9 171.3L708.1 207.7L708.3 202.1L708.5 102.5L708.7 267.2L708.9 284.8L709.1 198.9L709.3 310L709.5 141.7L709.7 289L709.9 267.3L710.1 327.8L710.3 164L710.5 180.8L710.6 209.2L710.8 264.7L711 264.4L711.2 245.1L711.4 179L711.6 184.3L711.8 123.1L712 212.3L712.2 271.9L712.4 110L712.6 252.4L712.8 280.2L713 278.4L713.2 193.6L713.4 116.5L713.6 207.1L713.8 158.1L714 202.9L714.2 291.6L714.4 235L714.6 174.5L714.8 241.8L715 200.6L715.2 194.6L715.4 225.2L715.6 242.1L715.7 173.8L715.9 232.4L716.1 134.3L716.3 122.1L716.5 287.5L716.7 171L716.9 167.7L717.1 142.6L717.3 296L717.5 278.1L717.7 159.5L717.9 123.5L718.1 281.6L718.3 210.9L718.5 178.2L718.7 155.9L718.9 134.4L719.1 243.8L719.3 209.6L719.5 94.6L719.7 138.6L719.9 181.2L720.1 136.8L720.3 201.1L720.5 85.5L720.7 144.8L720.8 238.5L721 217.6L721.2 158.4L721.4 182.8L721.6 183.4L721.8 206.2L722 224.7L722.2 244.6L722.4 182.9L722.6 286.7L722.8 300.1L723 238.3L723.2 138.7L723.4 79.7L723.6 186.4L723.8 268.6L724 252.2L724.2 180.3L724.4 215.5L724.6 347.7L724.8 103.2L725 265.4L725.2 274.7L725.4 145.9L725.6 199.2L725.8 244.6L725.9 173.6L726.1 264.2L726.3 166.4L726.5 242.8L726.7 201.7L726.9 267.4L727.1 258.7L727.3 212.9L727.5 234.5L727.7 171.6L727.9 197.1L728.1 305.1L728.3 185.9L728.5 300.5L728.7 338.7L728.9 191.9L729.1 88.9L729.3 165.7L729.5 63.5L729.7 208.5L729.9 27.5L730.1 140.2L730.3 238.1L730.5 218L730.7 131.5L730.9 196.5L731.1 195.6L731.2 297L731.4 219.2L731.6 142.6L731.8 166.3L732 318.1L732.2 159.8L732.4 181.2L732.6 215.9L732.8 90.7L733 182.7L733.2 88.7L733.4 160.3L733.6 311.1L733.8 180.4L734 176.2L734.2 175.8L734.4 156.2L734.6 230.3L734.8 179.5L735 211.1L735.2 202.7L735.4 150.7L735.6 253L735.8 241.6L736 279.3L736.2 250.1L736.3 101.6L736.5 100L736.7 337L736.9 94.1L737.1 145L737.3 199L737.5 191.4L737.7 305.4L737.9 231.7L738.1 172.9L738.3 223.4L738.5 200.3L738.7 279.5L738.9 377L739.1 124.3L739.3 131.3L739.5 79.4L739.7 242.9L739.9 134.3L740.1 213.4L740.3 147.8L740.5 145.5L740.7 161.2L740.9 169.8L741.1 253.8L741.3 220.1L741.4 251.2L741.6 200.4L741.8 236.6L742 245.6L742.2 83.9L742.4 287.6L742.6 106.1L742.8 356.1L743 286.2L743.2 176.2L743.4 92L743.6 161.3L743.8 121.7L744 201.9L744.2 170.9L744.4 244L744.6 130.2L744.8 111.7L745 217L745.2 92.1L745.4 176.7L745.6 125.7L745.8 114.8L746 283.7L746.2 385.6L746.4 163.1L746.5 164L746.7 130.5L746.9 184.5L747.1 168.6L747.3 217.8L747.5 143L747.7 182.1L747.9 105.9L748.1 164.2L748.3 184.6L748.5 165.2L748.7 13L748.9 199.7L749.1 243.9L749.3 137.5L749.5 182.3L749.7 106.5L749.9 130.2L750.1 173.3L750.3 148.1L750.5 160.5L750.7 214.8L750.9 104.3L751.1 211L751.3 150.3L751.5 139.7L751.7 80.9L751.8 201.8L752 101.3L752.2 188.5L752.4 14.3L752.6 184.8L752.8 108.7L753 107.7L753.2 256.2L753.4 84.5L753.6 71.1L753.8 232.8L754 156.3L754.2 90.2L754.4 113.1L754.6 195.8L754.8 185.9L755 79.3L755.2 131.1L755.4 180.1L755.6 222.8L755.8 213.1L756 123.2L756.2 159.5L756.4 125.1L756.6 213.5L756.8 215.8L756.9 250.5L757.1 301L757.3 145.6L757.5 101.4L757.7 22.9L757.9 157.5L758.1 172.6L758.3 185.6L758.5 98L758.7 129.7L758.9 268.9L759.1 286.1L759.3 59.9L759.5 255.5L759.7 143.3L759.9 91.9L760.1 135.8L760.3 228L760.5 16.1L760.7 294.2L760.9 229.1L761.1 264.1L761.3 137.2L761.5 208.5L761.7 257.4L761.9 154.5L762 273.1L762.2 213.7L762.4 239.5L762.6 106.2L762.8 194.8L763 170.9L763.2 274L763.4 65.4L763.6 107.4L763.8 252.3L764 329.2L764.2 182.7L764.4 274L764.6 202.3L764.8 212.9L765 247.9L765.2 95.5L765.4 194.4L765.6 203L765.8 232.5L766 87.7L766.2 134.9L766.4 243.5L766.6 326.5L766.8 40.6L767 135.7L767.1 151.3L767.3 385.7L767.5 306.2L767.7 168.4L767.9 147L768.1 215.9L768.3 490L768.5 207.1L768.7 490L768.9 207.4L769.1 490L769.3 210.5L769.5 490L769.7 224.9L769.9 490L770.1 256.9L770.3 490L770.5 220.2L770.7 490L770.9 234.4L771.1 490L771.3 248.5L771.5 490L771.7 249.3L771.9 490L772.1 239.4L772.3 490L772.4 229.9L772.6 490L772.8 231.8L773 51L773.2 179.4L773.4 235.6L773.6 98.6L773.8 81.3L774 132L774.2 254.7L774.4 294.7L774.6 142.5L774.8 248.4L775 201.8L775.2 247.9L775.4 127.9L775.6 158.8L775.8 194L776 162.2L776.2 136.4L776.4 171.2L776.6 222.1L776.8 236.1L777 151.7L777.2 129.4L777.4 170.6L777.5 262.7L777.7 229.8L777.9 191L778.1 137.1L778.3 154.9L778.5 244.9L778.7 213.7L778.9 123.6L779.1 128.3L779.3 162.6L779.5 217.3L779.7 124.2L779.9 233.7L780.1 201.1L780.3 221.9L780.5 67.3L780.7 149.3L780.9 265.4L781.1 222.2L781.3 141.3L781.5 83L781.7 162.1L781.9 202.2L782.1 137.6L782.3 190.9L782.5 170.9L782.6 134.9L782.8 181.7L783 157.6L783.2 148.3L783.4 157.4L783.6 205.9L783.8 247.1L784 273.1L784.2 319.8L784.4 125.2L784.6 263.6L784.8 159L785 209.2L785.2 194.6L785.4 257.5L785.6 205.1L785.8 297L786 54.3L786.2 160.5L786.4 127.5L786.6 90.2L786.8 125.8L787 112.3L787.2 53.3L787.4 124L787.6 216.7L787.7 89.2L787.9 228.1L788.1 106.8L788.3 192.2L788.5 150.9L788.7 217.2L788.9 222.1L789.1 178.8L789.3 304.5L789.5 128.5L789.7 304.8L789.9 187.1L790.1 168.1L790.3 154.3L790.5 143.6L790.7 92.8L790.9 154.9L791.1 294L791.3 176.3L791.5 175.9L791.7 163.1L791.9 360.9L792.1 174.1L792.3 285.4L792.5 195.4L792.7 219.5L792.9 169.8L793 193.2L793.2 81L793.4 209.3L793.6 236.3L793.8 130.9L794 155L794.2 139.9L794.4 312.6L794.6 230.4L794.8 201.3L795 110.4L795.2 296.9L795.4 300L795.6 335.2L795.8 205.5L796 190.5L796.2 207.1L796.4 151.3L796.6 217.5L796.8 139.1L797 182.1L797.2 201.2L797.4 273.3L797.6 140.5L797.8 99L798 99.1L798.1 109.5L798.3 197.7L798.5 192.6L798.7 252.7L798.9 215.9L799.1 374.6L799.3 204.5L799.5 259.3L799.7 192L799.9 205.8L800.1 196.8L800.3 87.6L800.5 261L800.7 171L800.9 265.1L801.1 93.9L801.3 201.8L801.5 258.4L801.7 194.1L801.9 267.9L802.1 168.3L802.3 259.7L802.5 179.5L802.7 80.8L802.9 137.2L803.1 186.4L803.2 133.5L803.4 130.4L803.6 129.2L803.8 274L804 203.9L804.2 277.8L804.4 34.3L804.6 290.4L804.8 210.3L805 197.6L805.2 143.5L805.4 216.4L805.6 194.9L805.8 281.5L806 202.3L806.2 344.6L806.4 186.1L806.6 182.4L806.8 242.7L807 207.5L807.2 140.9L807.4 177.5L807.6 116L807.8 245.2L808 299.8L808.2 139.4L808.3 99L808.5 247L808.7 249L808.9 83.9L809.1 257.9L809.3 194.2L809.5 227L809.7 171.9L809.9 256.3L810.1 190.7L810.3 212.2L810.5 169.3L810.7 239.8L810.9 133.2L811.1 225.6L811.3 204.7L811.5 323.8L811.7 111L811.9 106.5L812.1 177.5L812.3 149.6L812.5 246L812.7 15.7L812.9 157.2L813.1 208.1L813.3 117.1L813.5 271L813.6 187.3L813.8 131L814 142.4L814.2 178.2L814.4 117.2L814.6 130.1L814.8 331.6L815 103.4L815.2 157L815.4 173.5L815.6 418.1L815.8 223.3L816 289.3L816.2 67.4L816.4 329.3L816.6 112.2L816.8 145.3L817 231.7L817.2 169.1L817.4 143.3L817.6 79.1L817.8 189.8L818 215.2L818.2 161.5L818.4 91.4L818.6 138.7L818.7 254.6L818.9 217L819.1 208.3L819.3 340.5L819.5 224.2L819.7 297.7L819.9 143.1L820.1 160.9L820.3 219.3L820.5 243.7L820.7 204.3L820.9 191.1L821.1 93.1L821.3 163.2L821.5 263.8L821.7 144.7L821.9 144.5L822.1 173.4L822.3 113.4L822.5 187L822.7 174.3L822.9 188L823.1 202.9L823.3 193.8L823.5 135.6L823.7 199.5L823.8 137.1L824 175.1L824.2 176.5L824.4 289.8L824.6 140.1L824.8 159.5L825 186.4L825.2 191.1L825.4 108.1L825.6 158L825.8 163.4L826 146.4L826.2 185.8L826.4 171.4L826.6 101.7L826.8 127L827 210.9L827.2 184.7L827.4 214.3L827.6 237.9L827.8 276.4L828 133.9L828.2 187.7L828.4 378.3L828.6 264.1L828.8 140.1L828.9 161.4L829.1 186.5L829.3 136.6L829.5 47L829.7 196.9L829.9 146.1L830.1 204.9L830.3 202.2L830.5 372.4L830.7 224.5L830.9 63.6L831.1 244.9L831.3 305.7L831.5 293.9L831.7 13L831.9 158.5L832.1 155.8L832.3 141.9L832.5 362.5L832.7 187.1L832.9 294.1L833.1 170.9L833.3 273L833.5 389L833.7 184.3L833.9 251.4L834.1 148.6L834.2 258.1L834.4 231.2L834.6 290.4L834.8 274.7L835 173.8L835.2 332.2L835.4 188.4L835.6 234.8L835.8 189.6L836 117.8L836.2 156.5L836.4 415L836.6 192.5L836.8 190.3L837 278.7L837.2 236.4L837.4 244.3L837.6 243.3L837.8 380.4L838 207.1L838.2 246.2L838.4 91.6L838.6 63L838.8 211.8L839 71.7L839.2 171.1L839.3 239.6L839.5 162.5L839.7 192.4L839.9 261.9L840.1 311L840.3 281.6L840.5 165.8L840.7 240.4L840.9 275.5L841.1 178.7L841.3 246.7L841.5 281.8L841.7 182.4L841.9 95.6L842.1 81.3L842.3 183.6L842.5 166.6L842.7 232.6L842.9 223.5L843.1 297L843.3 209.8L843.5 162.2L843.7 217.9L843.9 346.8L844.1 257.5L844.3 62.3L844.4 222.1L844.6 218.3L844.8 217.8L845 280.6L845.2 136.2L845.4 112L845.6 235.2L845.8 224.8L846 191.1L846.2 159.9L846.4 185.2L846.6 197.4L846.8 95.3L847 187.8L847.2 184.9L847.4 150.8L847.6 270.9L847.8 251.1L848 147L848.2 202.5L848.4 179.7L848.6 161.1L848.8 272.6L849 220.1L849.2 285.7L849.4 170.6L849.5 286.1L849.7 237.6L849.9 190.2L850.1 286.7L850.3 225.2L850.5 166.6L850.7 227.3L850.9 205.7L851.1 193.1L851.3 189.7L851.5 211.4L851.7 209.1L851.9 263.9L852.1 150.8L852.3 251.3L852.5 117.3L852.7 161L852.9 316L853.1 305.6L853.3 173.9L853.5 239.1L853.7 143.4L853.9 229.7L854.1 225L854.3 188.5L854.5 173.9L854.7 224L854.8 109.4L855 231.4L855.2 243.5L855.4 188.8L855.6 276.6L855.8 149.1L856 267.7L856.2 201.5L856.4 267.7L856.6 211.8L856.8 151.9L857 196.1L857.2 161.5L857.4 268.3L857.6 305.3L857.8 194.6L858 286.9L858.2 180.8L858.4 227.6L858.6 299.4L858.8 275.9L859 129.6L859.2 268L859.4 257.9L859.6 108.2L859.8 286.7L859.9 224.1L860.1 354.7L860.3 199.3L860.5 200.6L860.7 207.1L860.9 138.2L861.1 194.1L861.3 210.1L861.5 226.1L861.7 93.1L861.9 87.8L862.1 191.6L862.3 197.8L862.5 210.6L862.7 172.4L862.9 196.9L863.1 240.1L863.3 210.9L863.5 234.3L863.7 178.8L863.9 121.4L864.1 227.7L864.3 103.1L864.5 115.2L864.7 158.8L864.9 216L865 181.3L865.2 130.3L865.4 347.4L865.6 139.3L865.8 151.9L866 267.6L866.2 192.5L866.4 194.7L866.6 274.8L866.8 193L867 134.4L867.2 296.9L867.4 164.3L867.6 140L867.8 210.7L868 156.7L868.2 107.7L868.4 13L868.6 217.6L868.8 113.4L869 134.8L869.2 330.7L869.4 216.4L869.6 80.2L869.8 110.6L870 30.4L870.1 143.8L870.3 231.1L870.5 15.6L870.7 76.7L870.9 175.2L871.1 101.3L871.3 331.8L871.5 123L871.7 13L871.9 127.1L872.1 13L872.3 13L872.5 99.2L872.7 13L872.9 13L873.1 284.5L873.3 227.9L873.5 13L873.7 280.5L873.9 221.9L874.1 253.2L874.3 13L874.5 162.5L874.7 13L874.9 13L875.1 165.9L875.3 342.3L875.4 153.3L875.6 24.8L875.8 165.7L876 13L876.2 111.9L876.4 13L876.6 123.5L876.8 24L877 170.5L877.2 102.5L877.4 18.6L877.6 25.9L877.8 80.8L878 164.5L878.2 76.6L878.4 182.5L878.6 149L878.8 13L879 190.8L879.2 124.6L879.4 136.5L879.6 152.2L879.8 316.2L880 128.1L880.2 191.3L880.4 144.2L880.5 116.2L880.7 105.3L880.9 332.4L881.1 64.8L881.3 198.8L881.5 147.5L881.7 98.9L881.9 246.6L882.1 195.8L882.3 97.9L882.5 139.6L882.7 302.2L882.9 205.1L883.1 198.8L883.3 165.5L883.5 251.1L883.7 218.9L883.9 225.5L884.1 134.5L884.3 352.2L884.5 93.3L884.7 124.3L884.9 139.7L885.1 305.6L885.3 269.5L885.5 236.8L885.6 98.1L885.8 208.7L886 38.7L886.2 106.9L886.4 276.5L886.6 116.9L886.8 149.8L887 196.7L887.2 206.4L887.4 13L887.6 318.6L887.8 365.9L888 164.7L888.2 180.9L888.4 93.8L888.6 229.9L888.8 211L889 254.8L889.2 251.3L889.4 184L889.6 168.3L889.8 208.7L890 316.9L890.2 219.2L890.4 235.2L890.6 165L890.7 321.5L890.9 216.2L891.1 160.1L891.3 306.5L891.5 223.5L891.7 179.9L891.9 32.3L892.1 350.4L892.3 180.8L892.5 85.3L892.7 228.7L892.9 224.7L893.1 192.4L893.3 181.6L893.5 178.9L893.7 317.6L893.9 272.5L894.1 132.4L894.3 104.7L894.5 266.7L894.7 199L894.9 121.8L895.1 171.3L895.3 170.8L895.5 136.1L895.7 242.4L895.9 165.9L896 125.6L896.2 95.3L896.4 230.7L896.6 284.1L896.8 44.1L897 169.4L897.2 311.2L897.4 246.9L897.6 151.3L897.8 313.4L898 217.8L898.2 246.3L898.4 300L898.6 209L898.8 334.5L899 234.2L899.2 273.9L899.4 266L899.6 356.4L899.8 175.4L900 146.5L900.2 120.4L900.4 227.8L900.6 171.7L900.8 210.9L901 337.7L901.1 184L901.3 206.8L901.5 135.6L901.7 221.8L901.9 161.6L902.1 215.3L902.3 187.3L902.5 159.3L902.7 74.8L902.9 278.6L903.1 262.1L903.3 275.4L903.5 233.8L903.7 181.2L903.9 259L904.1 164.5L904.3 199.3L904.5 175.8L904.7 174.2L904.9 169L905.1 193.7L905.3 253.5L905.5 232L905.7 204.3L905.9 207.2L906.1 97.2L906.2 317.4L906.4 278.4L906.6 236.5L906.8 158.3L907 141.3L907.2 275.7L907.4 308.1L907.6 110.9L907.8 356.2L908 313.7L908.2 390L908.4 173L908.6 130.4L908.8 159.3L909 254.7L909.2 85.7L909.4 183.7L909.6 240.4L909.8 283.1L910 193.4L910.2 238.4L910.4 218.1L910.6 199L910.8 226.2L911 222L911.2 316.6L911.3 265.7L911.5 334.8L911.7 273.2L911.9 260.6L912.1 251.1L912.3 98.8L912.5 240.3L912.7 13L912.9 207.3L913.1 234.1L913.3 180.3L913.5 293.2L913.7 220.7L913.9 158.7L914.1 297.3L914.3 124.6L914.5 207.4L914.7 149.1L914.9 240.2L915.1 206.6L915.3 213.7L915.5 318.5L915.7 259.8L915.9 247.7L916.1 267.5L916.3 143.8L916.5 296.3L916.6 207.8L916.8 326.9L917 95.1L917.2 198L917.4 216.9L917.6 214.8L917.8 256.1L918 185.4L918.2 83.2L918.4 158.7L918.6 160.8L918.8 260.2L919 227.6L919.2 203.8L919.4 248.5L919.6 252.8L919.8 205.4L920 205.7L920.2 287.3L920.4 225.2L920.6 228.6L920.8 318.7L921 251.9L921.2 228.5L921.4 246.2L921.6 170.1L921.7 251.2L921.9 41.3L922.1 285.9L922.3 285.6L922.5 275.4L922.7 204.3L922.9 223.6L923.1 237.2L923.3 140.9L923.5 41.5L923.7 245.1L923.9 128.5L924.1 278.6L924.3 205.7L924.5 110L924.7 199.5L924.9 197.6L925.1 142.8L925.3 228.3L925.5 298.1L925.7 157.5L925.9 204.1L926.1 160.8L926.3 311.4L926.5 275.3L926.7 245.6L926.8 242.1L927 228.9L927.2 229.5L927.4 193.8L927.6 259.8L927.8 213.2L928 264.3L928.2 125.9L928.4 320.3L928.6 214.1L928.8 382.6L929 165.7L929.2 236.5L929.4 274.4L929.6 194.4L929.8 49.5L930 125.6L930.2 167.7L930.4 287.9L930.6 133.6L930.8 196.4L931 237.7L931.2 203.7L931.4 130.1L931.6 259.6L931.8 266L931.9 333.7L932.1 236.2L932.3 209.4L932.5 398.6L932.7 343.3L932.9 262.5L933.1 278.3L933.3 156.5L933.5 228.3L933.7 150.9L933.9 170.6L934.1 188.1L934.3 247.5L934.5 206.4L934.7 148.1L934.9 215.1L935.1 204.2L935.3 313.6L935.5 233.8L935.7 129.7L935.9 216.5L936.1 301.9L936.3 292.8L936.5 334.3L936.7 207.1L936.9 132.7L937 240.5L937.2 55.9L937.4 188.2L937.6 221.5L937.8 322.6L938 263.2L938.2 147.9L938.4 65.6L938.6 191.4L938.8 233.5L939 129.3L939.2 247.8L939.4 233.1L939.6 319.6L939.8 120.4L940 179.8L940.2 244L940.4 174.7L940.6 180.4L940.8 274.1L941 159.3L941.2 321.5L941.4 206.3L941.6 198.9L941.8 112.3L942 150.1L942.2 182.2L942.3 294.9L942.5 207.8L942.7 203.9L942.9 238.6L943.1 306.2L943.3 282.1L943.5 333.7L943.7 331.6L943.9 279.7L944.1 263.6L944.3 247.5L944.5 143.8L944.7 174.7L944.9 186.7L945.1 277.5L945.3 186L945.5 229.8L945.7 331.5L945.9 189.9L946.1 194.7L946.3 147.1L946.5 337.6L946.7 312.6L946.9 262.1L947.1 331.3L947.3 238.8L947.4 215.4L947.6 422.9L947.8 252.4L948 194.9L948.2 103.2L948.4 264.2L948.6 250L948.8 155.6L949 295.9L949.2 194L949.4 91.7L949.6 288.5L949.8 206.4L950 297.4L950.2 195.9L950.4 255.7L950.6 370.2L950.8 187.3L951 203.7L951.2 129.5L951.4 322.7L951.6 132.8L951.8 248.2L952 244.4L952.2 138.8L952.4 201.1L952.5 110.7L952.7 46.2L952.9 180.1L953.1 102.5L953.3 243.2L953.5 156.7L953.7 113.4L953.9 167.1L954.1 224.9L954.3 233.3L954.5 259.5L954.7 231.7L954.9 122.2L955.1 240.4L955.3 238.7L955.5 69.2L955.7 178.1L955.9 318L956.1 171.4L956.3 283L956.5 185.9L956.7 305.2L956.9 318.3L957.1 200.3L957.3 156.8L957.5 185.9L957.6 253.8L957.8 212.4L958 199.7L958.2 259.5L958.4 222.2L958.6 59.1L958.8 218.4L959 221.2L959.2 280.7L959.4 247.5L959.6 171.4L959.8 133.1L960 286.7L960.2 287.9L960.4 99.2L960.6 216.3L960.8 281L961 180.9L961.2 239.8L961.4 71.7L961.6 176.8L961.8 196.9L962 224.6L962.2 142.1L962.4 261.6L962.6 200.2L962.8 173.8L962.9 266.3L963.1 207.1L963.3 385.6L963.5 98.5L963.7 219.5L963.9 252.8L964.1 194L964.3 277.1L964.5 166.4L964.7 304.2L964.9 208.7L965.1 246.5L965.3 221.2L965.5 317.1L965.7 299.1L965.9 239.7L966.1 245.2L966.3 259.6L966.5 263.2L966.7 159.2L966.9 270.7L967.1 247.7L967.3 206.3L967.5 282.3L967.7 212.7L967.9 321.3L968 330.4L968.2 168.9L968.4 13L968.6 295L968.8 129.8L969 249.4L969.2 281.8L969.4 253.6L969.6 289.3L969.8 233.2L970 176.1L970.2 195.7L970.4 241.5L970.6 108.7L970.8 152.5L971 232.1L971.2 195.9L971.4 233.7L971.6 183.8L971.8 253.4L972 188.1L972.2 196.9L972.4 246.1L972.6 313.6L972.8 344.7L973 224.3L973.1 233.9L973.3 297.4L973.5 250L973.7 229.5L973.9 146.1L974.1 192L974.3 149.1L974.5 182.5L974.7 272.9L974.9 132.3L975.1 234.4L975.3 355.1L975.5 257.2L975.7 136.9L975.9 217L976.1 247.2L976.3 290.1L976.5 155.6L976.7 265.1L976.9 217.9L977.1 194.6L977.3 141.3L977.5 177.5L977.7 291.8L977.9 261.9L978.1 232.7L978.2 291.6L978.4 243.1L978.6 201.8L978.8 133.2L979 200.3L979.2 115.9L979.4 141.1L979.6 300.6L979.8 335.8L980 184.8L980.2 226.8L980.4 212.6L980.6 208.3L980.8 237.3L981 292.5L981.2 96L981.4 209L981.6 244.4L981.8 147.3L982 256.2L982.2 217.8L982.4 174.8L982.6 407.8L982.8 118.8L983 186.5L983.2 173.8L983.4 201.6L983.5 26.7L983.7 249L983.9 160.2L984.1 168.5L984.3 236.5L984.5 128.6L984.7 243.9L984.9 277.7L985.1 236.8L985.3 218.5L985.5 138.9L985.7 213L985.9 198.8L986.1 248.4L986.3 240.8L986.5 160.2L986.7 273.5L986.9 245.1L987.1 122.2L987.3 133.1L987.5 244.3L987.7 279.8L987.9 220.3L988.1 294.5L988.3 191.5L988.5 196.4L988.6 199.6L988.8 221.7L989 224.2L989.2 218.7L989.4 363L989.6 301.7L989.8 216.9L990 86.4L990.2 198.6L990.4 223L990.6 212L990.8 217L991 290L991.2 329.2L991.4 155.9L991.6 225.8L991.8 197.1L992 172.6L992.2 138.8L992.4 249L992.6 21.6L992.8 165.7L993 101.4L993.2 232L993.4 123.4L993.6 13L993.7 14.1L993.9 203.8L994.1 293.5L994.3 323.2L994.5 235.8L994.7 264.3L994.9 169.8L995.1 166.5L995.3 57.5L995.5 150.2L995.7 69.1L995.9 43.3L996.1 64.1L996.3 13L996.5 13L996.7 13L996.9 152.3L997.1 212.9L997.3 391.2L997.5 165.9L997.7 159.3L997.9 263.9L998.1 128.7L998.3 57.4L998.5 162.6L998.7 251L998.8 13L999 13L999.2 13L999.4 313.3L999.6 149.2L999.8 57.9L1000 13L1000.2 274.4L1000.4 87.3L1000.6 197.1L1000.8 160L1001 13L1001.2 84.2L1001.4 287.4L1001.6 13L1001.8 172.5L1002 22.3L1002.2 13L1002.4 13L1002.6 89.1L1002.8 357.8L1003 13L1003.2 191.6L1003.4 312.7L1003.6 235.1L1003.8 376.5L1004 210.7L1004.1 167.3L1004.3 115.5L1004.5 143.3L1004.7 85.7L1004.9 235.4L1005.1 186.8L1005.3 108.7L1005.5 13L1005.7 109.2L1005.9 39.6L1006.1 201.8L1006.3 287.6L1006.5 85.5L1006.7 269L1006.9 13L1007.1 199.5L1007.3 13L1007.5 150.8L1007.7 127.7L1007.9 118L1008.1 323.3L1008.3 228L1008.5 243.9L1008.7 167.1L1008.9 153.4L1009.1 238.9L1009.2 88.9L1009.4 301.2L1009.6 351.1L1009.8 267.5L1010 120.2L1010.2 230L1010.4 277.7L1010.6 187.2L1010.8 252.3L1011 120.4L1011.2 193.6L1011.4 231.8L1011.6 29.1L1011.8 248.4L1012 305.9L1012.2 119.3L1012.4 307.3L1012.6 212L1012.8 261.3L1013 223L1013.2 179.7L1013.4 138L1013.6 241.9L1013.8 117L1014 248.3L1014.2 215.3L1014.3 286.4L1014.5 121.7L1014.7 166.8L1014.9 255.7L1015.1 182.4L1015.3 279L1015.5 185.4L1015.7 172.2L1015.9 141.9L1016.1 127L1016.3 85.4L1016.5 191.7L1016.7 164.4L1016.9 227.8L1017.1 57.9L1017.3 271.7L1017.5 228.8L1017.7 195.3L1017.9 178L1018.1 149.5L1018.3 352.9L1018.5 195.2L1018.7 208.5L1018.9 316.2L1019.1 223.3L1019.3 216.8L1019.4 161.5L1019.6 375.5L1019.8 145L1020 238.6L1020.2 224.3L1020.4 222.1L1020.6 204.2L1020.8 201.8L1021 58.7L1021.2 156L1021.4 239.7L1021.6 194.4L1021.8 197.9L1022 185.2"/>
<path class="a" d="M1051.4 158L1051.6 163L1051.8 208.8L1052 136.2L1052.1 238.1L1052.3 157.8L1052.5 239.2L1052.7 114.4L1052.9 262.7L1053.1 226.9L1053.3 163L1053.5 172.8L1053.6 200.1L1053.8 208.9L1054 250L1054.2 192.8L1054.4 296.2L1054.6 160.4L1054.8 352.4L1055 166.2L1055.1 112.1L1055.3 266.8L1055.5 265.9L1055.7 261.2L1055.9 279.9L1056.1 149.3L1056.3 166.4L1056.5 225.6L1056.6 215.6L1056.8 188.6L1057 284.5L1057.2 191.2L1057.4 167L1057.6 169.9L1057.8 181.5L1057.9 275L1058.1 145.6L1058.3 353.1L1058.5 189.2L1058.7 189.7L1058.9 436.6L1059.1 145.2L1059.3 185.1L1059.4 200L1059.6 199.6L1059.8 105.5L1060 208.8L1060.2 128.3L1060.4 97.6L1060.6 70.9L1060.8 308.2L1060.9 227L1061.1 191.1L1061.3 195.6L1061.5 197.7L1061.7 208L1061.9 289.9L1062.1 206.3L1062.3 201.3L1062.4 177.2L1062.6 292.6L1062.8 131.9L1063 284.6L1063.2 283.1L1063.4 253.7L1063.6 123.1L1063.7 248.8L1063.9 190.7L1064.1 192L1064.3 109.1L1064.5 172.5L1064.7 194.1L1064.9 214.8L1065.1 185.1L1065.2 205.1L1065.4 184.9L1065.6 175.1L1065.8 221.5L1066 254.5L1066.2 166.9L1066.4 97.1L1066.6 151.6L1066.7 239L1066.9 284.1L1067.1 98.2L1067.3 265.8L1067.5 206.5L1067.7 180.1L1067.9 162.3L1068.1 260.8L1068.2 129.1L1068.4 201.7L1068.6 178L1068.8 237.6L1069 185.3L1069.2 133.7L1069.4 271.5L1069.5 280.8L1069.7 190.3L1069.9 171.8L1070.1 182.9L1070.3 250.6L1070.5 328.2L1070.7 184.1L1070.9 178.5L1071 169.8L1071.2 149.5L1071.4 173.1L1071.6 190.3L1071.8 46L1072 318.9L1072.2 107.7L1072.4 208.2L1072.5 163.9L1072.7 84.2L1072.9 280.6L1073.1 85.2L1073.3 193.1L1073.5 169.8L1073.7 99.6L1073.9 77.1L1074 219.3L1074.2 202.2L1074.4 277.4L1074.6 84.2L1074.8 157.2L1075 58.2L1075.2 141.5L1075.3 92.5L1075.5 299.3L1075.7 236.4L1075.9 245.8L1076.1 190.7L1076.3 265.1L1076.5 186L1076.7 69.2L1076.8 178.1L1077 324.5L1077.2 317.9L1077.4 30.8L1077.6 223.1L1077.8 313L1078 118.5L1078.2 59.7L1078.3 191.6L1078.5 222.9L1078.7 67L1078.9 55.3L1079.1 109.9L1079.3 110.7L1079.5 192.3L1079.7 315.8L1079.8 130.3L1080 180.3L1080.2 302.7L1080.4 194L1080.6 59.7L1080.8 13L1081 189.4L1081.1 155L1081.3 146.5L1081.5 208L1081.7 13L1081.9 110.7L1082.1 190L1082.3 130.8L1082.5 102.9L1082.6 65.5L1082.8 117.5L1083 147.1L1083.2 245L1083.4 136.5L1083.6 46.7L1083.8 438.4L1084 192.8L1084.1 41.8L1084.3 160.5L1084.5 111.1L1084.7 241.7L1084.9 205.6L1085.1 124.5L1085.3 100.2L1085.5 145.9L1085.6 175.6L1085.8 189L1086 184.5L1086.2 310.2L1086.4 139.3L1086.6 83.5L1086.8 149.4L1086.9 13L1087.1 235.7L1087.3 166.7L1087.5 312L1087.7 219.6L1087.9 219.9L1088.1 181.8L1088.3 312.5L1088.4 285.1L1088.6 149.8L1088.8 219.2L1089 236L1089.2 136.7L1089.4 222.4L1089.6 182.2L1089.8 226.6L1089.9 186.8L1090.1 95.5L1090.3 119.4L1090.5 97.7L1090.7 257.6L1090.9 124.8L1091.1 276.6L1091.3 175.7L1091.4 239.3L1091.6 154.8L1091.8 207.9L1092 252.8L1092.2 290.5L1092.4 102L1092.6 56.2L1092.7 256L1092.9 164.8L1093.1 141.3L1093.3 203L1093.5 252.1L1093.7 96.8L1093.9 263.4L1094.1 127.7L1094.2 227.7L1094.4 236.3L1094.6 286.7L1094.8 183.1L1095 262L1095.2 196.2L1095.4 89.3L1095.6 212.2L1095.7 170.2L1095.9 98L1096.1 201.8L1096.3 95.1L1096.5 172.2L1096.7 293.7L1096.9 191.7L1097.1 83.9L1097.2 246.1L1097.4 120.6L1097.6 89.3L1097.8 245L1098 221.7L1098.2 170.5L1098.4 13L1098.5 13L1098.7 283.4L1098.9 36.3L1099.1 165.6L1099.3 145.7L1099.5 281.6L1099.7 77.9L1099.9 312.4L1100 202L1100.2 208.3L1100.4 145.5L1100.6 159.8L1100.8 328.1L1101 230.4L1101.2 100.4L1101.4 284.4L1101.5 247.1L1101.7 204.8L1101.9 158.7L1102.1 179.8L1102.3 101.3L1102.5 348.6L1102.7 328.8L1102.9 157.1L1103 321.3L1103.2 59.7L1103.4 177.1L1103.6 63L1103.8 195.2L1104 198.1L1104.2 274.8L1104.4 219.1L1104.5 312.1L1104.7 94.1L1104.9 246.9L1105.1 14.9L1105.3 332.6L1105.5 209.7L1105.7 162L1105.8 273.4L1106 93.1L1106.2 276.5L1106.4 118.5L1106.6 256.8L1106.8 127.1L1107 19.4L1107.2 224.4L1107.3 124.7L1107.5 97.3L1107.7 206.6L1107.9 236.4L1108.1 163.2L1108.3 190.6L1108.5 244.2L1108.7 222.9L1108.8 245.8L1109 397.7L1109.2 210.9L1109.4 128.8L1109.6 305.1L1109.8 233.9L1110 179.2L1110.2 172.3L1110.3 246L1110.5 182.3L1110.7 194.7L1110.9 126.1L1111.1 196.1L1111.3 248.8L1111.5 244.3L1111.6 214.2L1111.8 42.6L1112 177.1L1112.2 145.8L1112.4 278.8L1112.6 129L1112.8 241.1L1113 81.9L1113.1 200.3L1113.3 244.4L1113.5 223L1113.7 276.9L1113.9 116.3L1114.1 117.1L1114.3 152.8L1114.5 173.4L1114.6 206.6L1114.8 191.9L1115 208.8L1115.2 293.7L1115.4 108.3L1115.6 252.1L1115.8 148.5L1116 265.1L1116.1 191.1L1116.3 228.7L1116.5 174.2L1116.7 111L1116.9 101.1L1117.1 167.8L1117.3 148.2L1117.4 279.7L1117.6 243.2L1117.8 58.6L1118 162.4L1118.2 196.1L1118.4 197.4L1118.6 44.1L1118.8 59.1L1118.9 231.8L1119.1 185.2L1119.3 254.7L1119.5 192.4L1119.7 159.5L1119.9 156.9L1120.1 114L1120.3 268.5L1120.4 293.1L1120.6 135.5L1120.8 13L1121 98.7L1121.2 354.7L1121.4 244.2L1121.6 183.7L1121.8 105.9L1121.9 326.8L1122.1 124L1122.3 142.4L1122.5 64.4L1122.7 261.1L1122.9 315.4L1123.1 138.8L1123.2 262.2L1123.4 225.6L1123.6 182.1L1123.8 176.1L1124 345L1124.2 196.4L1124.4 283.3L1124.6 128.3L1124.7 122.7L1124.9 181.9L1125.1 191.8L1125.3 120.1L1125.5 183.3L1125.7 216.8L1125.9 206.6L1126.1 211.9L1126.2 123.6L1126.4 417.6L1126.6 128.1L1126.8 218.5L1127 208L1127.2 93.7L1127.4 183.1L1127.6 13L1127.7 176.8L1127.9 209L1128.1 262.6L1128.3 255.2L1128.5 215.8L1128.7 59L1128.9 158.1L1129 77.7L1129.2 262.7L1129.4 201.6L1129.6 94.2L1129.8 287.1L1130 158.5L1130.2 45.5L1130.4 287L1130.5 199.5L1130.7 291.5L1130.9 13L1131.1 41.8L1131.3 43.3L1131.5 138.5L1131.7 209.6L1131.9 52.8L1132 212.7L1132.2 194.3L1132.4 212.5L1132.6 143.4L1132.8 230.7L1133 105.9L1133.2 299.6L1133.4 265.2L1133.5 89.6L1133.7 86.4L1133.9 187.2L1134.1 158.3L1134.3 293.6L1134.5 62.1L1134.7 158.6L1134.8 270.4L1135 190.2L1135.2 109.4L1135.4 107.4L1135.6 204.6L1135.8 184.7L1136 157.9L1136.2 217.9L1136.3 266.3L1136.5 60.7L1136.7 267.8L1136.9 167.4L1137.1 74.3L1137.3 267.5L1137.5 85.8L1137.7 117.7L1137.8 292.8L1138 140.9L1138.2 286.4L1138.4 202.9L1138.6 220.9L1138.8 247.6L1139 97.2L1139.2 266.4L1139.3 231L1139.5 210.1L1139.7 352.9L1139.9 333.2L1140.1 375L1140.3 85.2L1140.5 36.3L1140.6 121L1140.8 297.5L1141 148L1141.2 164.2L1141.4 163.2L1141.6 138.5L1141.8 247.2L1142 139.9L1142.1 278.3L1142.3 246.7L1142.5 198.7L1142.7 96.5L1142.9 126.2L1143.1 191.9L1143.3 382.4L1143.5 127.7L1143.6 102.2L1143.8 199.3L1144 161.2L1144.2 234.7L1144.4 295.5L1144.6 96.7L1144.8 222.9L1145 242.8L1145.1 249.3L1145.3 206.2L1145.5 141.7L1145.7 237.7L1145.9 183.5L1146.1 251.7L1146.3 104L1146.4 181L1146.6 83.4L1146.8 121.8L1147 350.4L1147.2 326.7L1147.4 213.8L1147.6 114.3L1147.8 151.3L1147.9 323.7L1148.1 308.7L1148.3 170L1148.5 260.9L1148.7 197.1L1148.9 144.1L1149.1 214.7L1149.3 282.2L1149.4 239.5L1149.6 280.7L1149.8 235.6L1150 207.5L1150.2 292.9L1150.4 312.1L1150.6 187.2L1150.8 177.5L1150.9 127.4L1151.1 138.1L1151.3 155.6L1151.5 194.3L1151.7 304.8L1151.9 212.2L1152.1 171.8L1152.2 186.3L1152.4 55.7L1152.6 213.6L1152.8 119.9L1153 77.3L1153.2 169.3L1153.4 266.5L1153.6 182.1L1153.7 209.3L1153.9 235.4L1154.1 164.7L1154.3 270.4L1154.5 143.7L1154.7 273.5L1154.9 126.3L1155.1 205.3L1155.2 195.4L1155.4 181L1155.6 223.9L1155.8 149.8L1156 298.1L1156.2 117.8L1156.4 359.3L1156.6 139.9L1156.7 194.5L1156.9 108.1L1157.1 193.6L1157.3 166.2L1157.5 228.4L1157.7 167L1157.9 196.6L1158 164.4L1158.2 186.3L1158.4 210.8L1158.6 247L1158.8 186.4L1159 201.4L1159.2 160.6L1159.4 186.2L1159.5 92.9L1159.7 164.1L1159.9 167.4L1160.1 115.5L1160.3 155.3L1160.5 202.1L1160.7 155.4L1160.9 182.3L1161 142.9L1161.2 137.8L1161.4 201.7L1161.6 241.7L1161.8 103.1L1162 289.4L1162.2 202.4L1162.4 205.1L1162.5 128.3L1162.7 152.1L1162.9 156.7L1163.1 98.8L1163.3 136.7L1163.5 221.5L1163.7 200.2L1163.8 246.3L1164 162.2L1164.2 33.2L1164.4 196.5L1164.6 114.9L1164.8 193.3L1165 118.8L1165.2 156.3L1165.3 354.4L1165.5 166.8L1165.7 180.1L1165.9 226.4L1166.1 218.6L1166.3 93.8L1166.5 329.2L1166.7 243.3L1166.8 165.4L1167 168.9L1167.2 328.7L1167.4 102.7L1167.6 13L1167.8 113.1L1168 192.6L1168.2 97.2L1168.3 365.4L1168.5 236.2L1168.7 129.4L1168.9 178.8L1169.1 201.4L1169.3 267.1L1169.5 140.7L1169.6 246L1169.8 190.9L1170 151.9L1170.2 154.2L1170.4 101.9L1170.6 227.6L1170.8 47.9L1171 210.2L1171.1 186.3L1171.3 243.2L1171.5 133.5L1171.7 229.1L1171.9 236.3L1172.1 138.2L1172.3 175.7L1172.5 108.4L1172.6 234.5L1172.8 230.9L1173 233.2L1173.2 150.1L1173.4 174.1L1173.6 230L1173.8 251.9L1174 179L1174.1 64.1L1174.3 73.2L1174.5 109.2L1174.7 169L1174.9 44.5L1175.1 301.4L1175.3 47L1175.4 116.6L1175.6 281.9L1175.8 68.1L1176 353.1L1176.2 19.8L1176.4 63.5L1176.6 296.4L1176.8 256.3L1176.9 273L1177.1 248.9L1177.3 130.1L1177.5 248.4L1177.7 157.4L1177.9 213.1L1178.1 174.4L1178.3 335.6L1178.4 173.1L1178.6 250.4L1178.8 151.3L1179 166.8L1179.2 199.8L1179.4 122.4L1179.6 301.6L1179.8 159.4L1179.9 161.8L1180.1 211.1L1180.3 265.5L1180.5 159.1L1180.7 126.5L1180.9 282L1181.1 129.2L1181.2 123.9L1181.4 169L1181.6 30.6L1181.8 266.5L1182 240.1L1182.2 141.2L1182.4 72.4L1182.6 239.7L1182.7 81.6L1182.9 161.5L1183.1 13L1183.3 72.4L1183.5 181.4L1183.7 138.9L1183.9 233L1184.1 132.6L1184.2 110.4L1184.4 192.6L1184.6 158.8L1184.8 91.6L1185 237.7L1185.2 263.6L1185.4 91.8L1185.6 258.2L1185.7 134.8L1185.9 102.2L1186.1 199.2L1186.3 182.4L1186.5 151.4L1186.7 163.4L1186.9 89L1187 280.3L1187.2 213.3L1187.4 124.2L1187.6 13L1187.8 144.9L1188 128.3L1188.2 91.5L1188.4 225.7L1188.5 105L1188.7 156L1188.9 262.8L1189.1 101.8L1189.3 274L1189.5 13L1189.7 199.4L1189.9 230.6L1190 224.8L1190.2 79.5L1190.4 141.2L1190.6 187L1190.8 197.1L1191 151.5L1191.2 54.6L1191.4 268.9L1191.5 205L1191.7 146.6L1191.9 18.4L1192.1 160L1192.3 294L1192.5 209.7L1192.7 13L1192.8 376.5L1193 185.3L1193.2 245.9L1193.4 181.8L1193.6 95.7L1193.8 181.1L1194 46.3L1194.2 200.2L1194.3 190.3L1194.5 119.6L1194.7 419.2L1194.9 198.5L1195.1 124L1195.3 296.6L1195.5 302.5L1195.7 84.2L1195.8 208.8L1196 131.7L1196.2 116.3L1196.4 130.1L1196.6 254.7L1196.8 208.3L1197 220.1L1197.2 193.3L1197.3 193.5L1197.5 186.3L1197.7 162.6L1197.9 92L1198.1 232.6L1198.3 170.1L1198.5 244.5L1198.7 136.1L1198.8 161L1199 115.6L1199.2 305L1199.4 246L1199.6 222.7L1199.8 199.6L1200 146.4L1200.1 184L1200.3 103.8L1200.5 173.6L1200.7 86.6L1200.9 155.4L1201.1 192.2L1201.3 170.2L1201.5 164.9L1201.6 13L1201.8 218.1L1202 13L1202.2 56.8L1202.4 267.1L1202.6 269L1202.8 353.5L1203 235.5L1203.1 165.4L1203.3 220.9L1203.5 117.6L1203.7 91.8L1203.9 82.7L1204.1 211.2L1204.3 106.3L1204.5 95.9L1204.6 312.5L1204.8 93.6L1205 193.9L1205.2 13L1205.4 160.4L1205.6 144.8L1205.8 72.9L1205.9 307.5L1206.1 179.2L1206.3 183.4L1206.5 272.6L1206.7 165.5L1206.9 41.8L1207.1 85.4L1207.3 180.4L1207.4 211L1207.6 181.6L1207.8 184.3L1208 178.2L1208.2 147.2L1208.4 215.1L1208.6 277.6L1208.8 117.9L1208.9 13L1209.1 290.5L1209.3 109.1L1209.5 225.9L1209.7 264.3L1209.9 144L1210.1 148.8L1210.3 74.8L1210.4 15.3L1210.6 177.7L1210.8 187.3L1211 99.2L1211.2 196L1211.4 295.2L1211.6 169L1211.7 104.9L1211.9 253.6L1212.1 126.2L1212.3 151.2L1212.5 108.1L1212.7 236.3L1212.9 263.3L1213.1 296.1L1213.2 207.4L1213.4 88.1L1213.6 357.1L1213.8 135L1214 357.3L1214.2 125.2L1214.4 208.4L1214.6 88.1L1214.7 220.8L1214.9 136.8L1215.1 328.8L1215.3 158.8L1215.5 190.4L1215.7 163.2L1215.9 210.4L1216.1 274.7L1216.2 259.9L1216.4 219.2L1216.6 215.2L1216.8 160.9L1217 50.4L1217.2 247.9L1217.4 264.2L1217.5 296L1217.7 111.8L1217.9 356.7L1218.1 115.6L1218.3 56.1L1218.5 195.1L1218.7 166.5L1218.9 255.4L1219 191.5L1219.2 166L1219.4 302.5L1219.6 176.8L1219.8 173.3L1220 289L1220.2 207.1L1220.4 186.1L1220.5 225.1L1220.7 233.3L1220.9 251.2L1221.1 121.3L1221.3 241.9L1221.5 96.3L1221.7 277.2L1221.9 311.7L1222 103.1L1222.2 126.8L1222.4 205.5L1222.6 168.5L1222.8 187.4L1223 256.7L1223.2 278.8L1223.3 37L1223.5 174.7L1223.7 13L1223.9 111.4L1224.1 282.3L1224.3 59.8L1224.5 213.7L1224.7 176.7L1224.8 163.4L1225 162.4L1225.2 200L1225.4 171.3L1225.6 178.6L1225.8 60.4L1226 242.5L1226.2 128L1226.3 48.1L1226.5 73.2L1226.7 123.1L1226.9 268.1L1227.1 269L1227.3 238.3L1227.5 51L1227.7 181.8L1227.8 245.7L1228 238.6L1228.2 102.6L1228.4 126L1228.6 258.3L1228.8 13L1229 290.5L1229.1 159.8L1229.3 124.9L1229.5 172.1L1229.7 149.5L1229.9 96.8L1230.1 182.1L1230.3 201.5L1230.5 74.4L1230.6 156L1230.8 168.9L1231 261.3L1231.2 93L1231.4 116.6L1231.6 141.9L1231.8 304.6L1232 91.1L1232.1 284.3L1232.3 76.5L1232.5 237.1L1232.7 187.4L1232.9 145.6L1233.1 141L1233.3 157.5L1233.5 155.8L1233.6 190.2L1233.8 157.9L1234 232L1234.2 326.8L1234.4 194.1L1234.6 189.3L1234.8 138.8L1234.9 200.3L1235.1 247.6L1235.3 135.2L1235.5 117.4L1235.7 359.6L1235.9 189.3L1236.1 48.8L1236.3 83.8L1236.4 218.8L1236.6 266.1L1236.8 102.6L1237 170.9L1237.2 64.5L1237.4 201.2L1237.6 175.2L1237.8 70.7L1237.9 190.2L1238.1 200.4L1238.3 166.5L1238.5 68L1238.7 39.3L1238.9 161.1L1239.1 126.9L1239.3 168.7L1239.4 173L1239.6 165.1L1239.8 309.8L1240 263.1L1240.2 212.1L1240.4 262.1L1240.6 113.4L1240.7 267.9L1240.9 178.9L1241.1 163.5L1241.3 212.5L1241.5 252.1L1241.7 84.8L1241.9 358.5L1242.1 237.5L1242.2 58.8L1242.4 162.2L1242.6 164.3L1242.8 128.8L1243 53.1L1243.2 228L1243.4 148.5L1243.6 149.6L1243.7 13L1243.9 115.8L1244.1 13L1244.3 483.6L1244.5 109.8L1244.7 133.3L1244.9 61.7L1245.1 151.8L1245.2 267.9L1245.4 218.6L1245.6 213L1245.8 100.9L1246 250.4L1246.2 372.5L1246.4 363L1246.5 84.8L1246.7 230.4L1246.9 232.6L1247.1 319.9L1247.3 172.5L1247.5 297.6L1247.7 116.2L1247.9 280.8L1248 254.9L1248.2 167.5L1248.4 234.4L1248.6 181.4L1248.8 183.7L1249 192.9L1249.2 238.2L1249.4 156L1249.5 224.9L1249.7 192.8L1249.9 116.1L1250.1 270.5L1250.3 148.5L1250.5 260.6L1250.7 199.1L1250.9 213.9L1251 241.5L1251.2 184.9L1251.4 280.3L1251.6 126.6L1251.8 90.9L1252 148.8L1252.2 197.1L1252.3 243.3L1252.5 245.5L1252.7 261.8L1252.9 158.6L1253.1 328.9L1253.3 166.9L1253.5 256.7L1253.7 183.4L1253.8 13L1254 60.6L1254.2 295.1L1254.4 203.3L1254.6 205.2L1254.8 283.4L1255 165.4L1255.2 198.2L1255.3 232.7L1255.5 189.3L1255.7 223.2L1255.9 120.1L1256.1 394L1256.3 44.6L1256.5 183.7L1256.7 134.4L1256.8 61.7L1257 316.2L1257.2 224.4L1257.4 82.5L1257.6 187.3L1257.8 97.3L1258 178L1258.1 138.6L1258.3 365.3L1258.5 130.9L1258.7 162.5L1258.9 277.8L1259.1 230.1L1259.3 66.1L1259.5 222.6L1259.6 148.3L1259.8 124.2L1260 71.3L1260.2 212.3L1260.4 13L1260.6 228.1L1260.8 298.5L1261 104.1L1261.1 123.3L1261.3 341.9L1261.5 179.4L1261.7 221.7L1261.9 286L1262.1 291L1262.3 165.5L1262.5 164.2L1262.6 160.2L1262.8 161.9L1263 158L1263.2 228.9L1263.4 130L1263.6 122.7L1263.8 141.3L1263.9 138.1L1264.1 384.7L1264.3 59.7L1264.5 257.5L1264.7 80.7L1264.9 193.7L1265.1 73.1L1265.3 129.1L1265.4 154.6L1265.6 195.9L1265.8 163.2L1266 200.5L1266.2 261.8L1266.4 167.2L1266.6 228.1L1266.8 76.3L1266.9 264.6L1267.1 232.9L1267.3 317.5L1267.5 253.9L1267.7 152.8L1267.9 245.5L1268.1 99.2L1268.3 63L1268.4 193.3L1268.6 255.2L1268.8 260.2L1269 155.6L1269.2 265.7L1269.4 205.8L1269.6 177.6L1269.7 116.9L1269.9 324.2L1270.1 106.8L1270.3 105L1270.5 153.6L1270.7 204.9L1270.9 110.8L1271.1 182.3L1271.2 181.2L1271.4 84.1L1271.6 256.7L1271.8 74.5L1272 226L1272.2 108.5L1272.4 348.3L1272.6 226.3L1272.7 335L1272.9 287.7L1273.1 47.6L1273.3 89.2L1273.5 175.3L1273.7 131.8L1273.9 332.7L1274.1 167L1274.2 233.1L1274.4 144.6L1274.6 256L1274.8 149.7L1275 249.3L1275.2 132.6L1275.4 387.6L1275.5 262.6L1275.7 241.7L1275.9 240.6L1276.1 176.6L1276.3 125.2L1276.5 111.1L1276.7 197.3L1276.9 108.1L1277 297.4L1277.2 207.5L1277.4 322.3L1277.6 171.8L1277.8 196L1278 185.5L1278.2 258.5L1278.4 182L1278.5 108.6L1278.7 277L1278.9 134L1279.1 126.6L1279.3 113.5L1279.5 262.4L1279.7 94.9L1279.9 247.7L1280 337.5L1280.2 191.6L1280.4 139.6L1280.6 268.8L1280.8 198.8L1281 114.2L1281.2 188.5L1281.3 164.5L1281.5 68.3L1281.7 149.2L1281.9 313.9L1282.1 280.2L1282.3 221.5L1282.5 240.9L1282.7 210.2L1282.8 200.8L1283 92.7L1283.2 191.4L1283.4 110L1283.6 220.2L1283.8 104.7L1284 260L1284.2 85.8L1284.3 170.7L1284.5 204.4L1284.7 74.6L1284.9 140.7L1285.1 210.9L1285.3 210.5L1285.5 149.4L1285.7 118.5L1285.8 102.8L1286 203L1286.2 152.5L1286.4 372.2L1286.6 365.4L1286.8 169.4L1287 156.4L1287.1 213.5L1287.3 246.1L1287.5 299.1L1287.7 52.3L1287.9 278.8L1288.1 183L1288.3 145.5L1288.5 134.7L1288.6 92.4L1288.8 267.9L1289 98.2L1289.2 192.4L1289.4 267.7L1289.6 162.8L1289.8 158.9L1290 167.9L1290.1 321.8L1290.3 114.7L1290.5 201.9L1290.7 299.8L1290.9 217.7L1291.1 23.4L1291.3 169.3L1291.5 177.1L1291.6 355.8L1291.8 192L1292 131.1L1292.2 169.5L1292.4 231.9L1292.6 159.7L1292.8 227L1293 93.1L1293.1 174L1293.3 142.2L1293.5 162.5L1293.7 254.5L1293.9 159.3L1294.1 142.8L1294.3 315.3L1294.4 220.8L1294.6 210.5L1294.8 88.3L1295 180.8L1295.2 160.5L1295.4 195.7L1295.6 179.1L1295.8 151.2L1295.9 80.4L1296.1 157.9L1296.3 74.6L1296.5 289.6L1296.7 138L1296.9 241.5L1297.1 140L1297.3 184.6L1297.4 13L1297.6 87L1297.8 166.6L1298 208.5L1298.2 224.1L1298.4 319.1L1298.6 236.2L1298.8 55.7L1298.9 100.1L1299.1 265.6L1299.3 165.6L1299.5 293.4L1299.7 151.7L1299.9 129.2L1300.1 154.9L1300.2 116.9L1300.4 175.8L1300.6 346.8L1300.8 62L1301 296.4L1301.2 132.6L1301.4 120.9L1301.6 117.8L1301.7 143.1L1301.9 207.6L1302.1 137.6L1302.3 210.4L1302.5 121.3L1302.7 271.9L1302.9 217.5L1303.1 122.9L1303.2 98.4L1303.4 226.1L1303.6 345.6L1303.8 33.5L1304 240.3L1304.2 149.7L1304.4 198.4L1304.6 164.6L1304.7 82.1L1304.9 205.8L1305.1 272.9L1305.3 188.6L1305.5 234.8L1305.7 157.9L1305.9 83.9L1306 135.7L1306.2 238.2L1306.4 248.9L1306.6 325.1L1306.8 138L1307 160.1L1307.2 143.8L1307.4 246.2L1307.5 90.8L1307.7 183.4L1307.9 240.4L1308.1 175.8L1308.3 236.6L1308.5 245.1L1308.7 268.6L1308.9 215.2L1309 200.2L1309.2 174.5L1309.4 167L1309.6 179.6L1309.8 150.8L1310 171.2L1310.2 148.2L1310.4 212.1L1310.5 176.8L1310.7 260.7L1310.9 223.9L1311.1 207.6L1311.3 252.1L1311.5 144.4L1311.7 93.1L1311.8 223.1L1312 175.5L1312.2 194.1L1312.4 259.6L1312.6 177.3L1312.8 206.1L1313 168.8L1313.2 199.4L1313.3 103.1L1313.5 140.7L1313.7 151.4L1313.9 159.3L1314.1 368.4L1314.3 215.1L1314.5 354.1L1314.7 204.6L1314.8 92.5L1315 206.3L1315.2 159.9L1315.4 375.6L1315.6 150.3L1315.8 192.6L1316 265.9L1316.2 245.4L1316.3 61.3L1316.5 223.1L1316.7 222L1316.9 167.6L1317.1 99.7L1317.3 279.3L1317.5 104.5L1317.6 231.1L1317.8 275.3L1318 155.7L1318.2 106.6L1318.4 114.3L1318.6 142.1L1318.8 81.7L1319 181.2L1319.1 265L1319.3 139.2L1319.5 226.4L1319.7 133.6L1319.9 168.1L1320.1 167.3L1320.3 366.3L1320.5 347.4L1320.6 243.2L1320.8 20.2L1321 146.2L1321.2 180.4L1321.4 249.7L1321.6 13L1321.8 180.1L1322 76.6L1322.1 241.1L1322.3 232.9L1322.5 229.3L1322.7 283.3L1322.9 172L1323.1 142.5L1323.3 131.3L1323.4 260L1323.6 118.3L1323.8 261.8L1324 119.4L1324.2 247.6L1324.4 105.2L1324.6 232.9L1324.8 267.2L1324.9 141.9L1325.1 168.3L1325.3 164.1L1325.5 123.6L1325.7 148.5L1325.9 214.4L1326.1 239.5L1326.3 75.9L1326.4 352L1326.6 167.6L1326.8 139.7L1327 249L1327.2 292.4L1327.4 77.1L1327.6 138.2L1327.8 248L1327.9 339.8L1328.1 236.4L1328.3 238.5L1328.5 322.9L1328.7 275.9L1328.9 157.1L1329.1 210.6L1329.2 253.8L1329.4 316.8L1329.6 156.6L1329.8 198.8L1330 250.6L1330.2 86.2L1330.4 75.8L1330.6 259.5L1330.7 126.3L1330.9 130.2L1331.1 148.7L1331.3 281.8L1331.5 162.4L1331.7 179.4L1331.9 265L1332.1 238.8L1332.2 258.8L1332.4 274.4L1332.6 255.6L1332.8 244.6L1333 408.7L1333.2 182L1333.4 84.2L1333.6 205.7L1333.7 325L1333.9 217.6L1334.1 322.9L1334.3 273.3L1334.5 59.3L1334.7 139.9L1334.9 164.5L1335 147.6L1335.2 149.6L1335.4 233.7L1335.6 225.3L1335.8 197.8L1336 236.3L1336.2 260.8L1336.4 179.1L1336.5 167.3L1336.7 325.7L1336.9 213.7L1337.1 272.2L1337.3 217.7L1337.5 202.8L1337.7 295L1337.9 275.7L1338 219.7L1338.2 232.3L1338.4 180.6L1338.6 181.7L1338.8 85.5L1339 158.2L1339.2 257.3L1339.4 178.4L1339.5 163.4L1339.7 185.6L1339.9 113.7L1340.1 140.2L1340.3 196.1L1340.5 316.7L1340.7 217.4L1340.8 178.1L1341 157.4L1341.2 72.5L1341.4 109.4L1341.6 174.2L1341.8 203L1342 163.4L1342.2 182L1342.3 111.8L1342.5 322.5L1342.7 159.9L1342.9 164.4L1343.1 185.4L1343.3 111.7L1343.5 195.1L1343.7 283.6L1343.8 326.8L1344 180.5L1344.2 276.8L1344.4 124.3L1344.6 270.1L1344.8 211.7L1345 227L1345.2 230.6L1345.3 141.3L1345.5 142.8L1345.7 131.3L1345.9 148.3L1346.1 208.2L1346.3 218.3L1346.5 100.7L1346.6 319.8L1346.8 186.1L1347 128.7L1347.2 135.3L1347.4 69.5L1347.6 203.4L1347.8 229.3L1348 219.3L1348.1 163.6L1348.3 289.5L1348.5 233.9L1348.7 235L1348.9 67.5L1349.1 215.2L1349.3 124L1349.5 156L1349.6 123.6L1349.8 220.4L1350 93.8L1350.2 67.2L1350.4 243.4L1350.6 169.6L1350.8 128L1351 350.1L1351.1 210.6L1351.3 191L1351.5 330.3L1351.7 317.6L1351.9 302.8L1352.1 166.2L1352.3 257.7L1352.4 191.8L1352.6 203.3L1352.8 206.7L1353 199.7L1353.2 188.8L1353.4 230.4L1353.6 193.3L1353.8 281L1353.9 151.8L1354.1 235.5L1354.3 217.5L1354.5 342.2L1354.7 247.6L1354.9 220.4L1355.1 154.1L1355.3 163.4L1355.4 120.1L1355.6 219.8L1355.8 155L1356 117.9L1356.2 260.1L1356.4 295.9L1356.6 241.5L1356.8 143.5L1356.9 282.4L1357.1 173.1L1357.3 168.6L1357.5 206.9L1357.7 137.2L1357.9 195.5L1358.1 113.9L1358.2 157.1L1358.4 176.1L1358.6 103.8L1358.8 89.3L1359 140.8L1359.2 239L1359.4 187.3L1359.6 206L1359.7 164L1359.9 167.4L1360.1 147.6L1360.3 29.4L1360.5 123.6L1360.7 143.9L1360.9 193.4L1361.1 225.6L1361.2 241.6L1361.4 258.4L1361.6 291.4L1361.8 126.2L1362 158.3L1362.2 204.2L1362.4 87.1L1362.6 169.8L1362.7 159.9L1362.9 180.8L1363.1 160.6L1363.3 193.4L1363.5 118.1L1363.7 158.1L1363.9 283.1L1364 200.9L1364.2 42.5L1364.4 140.1L1364.6 165.7L1364.8 200.8L1365 182.9L1365.2 280.1L1365.4 341.3L1365.5 136L1365.7 18.9L1365.9 175.4L1366.1 196.9L1366.3 133.3L1366.5 110.8L1366.7 218L1366.9 201L1367 122.8L1367.2 197.3L1367.4 43L1367.6 198.1L1367.8 187.1L1368 337.2L1368.2 82.7L1368.4 124.6L1368.5 103.1L1368.7 308.2L1368.9 172.3L1369.1 132.4L1369.3 242.7L1369.5 13L1369.7 184L1369.8 28.9L1370 227.1L1370.2 330.8L1370.4 273.5L1370.6 107.7L1370.8 169.5L1371 206.3L1371.2 199.4L1371.3 260.3L1371.5 214.2L1371.7 260.6L1371.9 163.2L1372.1 150.7L1372.3 189.4L1372.5 249.7L1372.7 93.5L1372.8 265.9L1373 32.1L1373.2 198.5L1373.4 210.8L1373.6 209L1373.8 223.7L1374 150.8L1374.2 252.7L1374.3 195.4L1374.5 139.4L1374.7 165.9L1374.9 193L1375.1 244L1375.3 241.3L1375.5 213.4L1375.6 212.8L1375.8 172L1376 247.5L1376.2 140.6L1376.4 95.9L1376.6 244.5L1376.8 290L1377 243.8L1377.1 288.4L1377.3 182.7L1377.5 99.7L1377.7 169.4L1377.9 282.5L1378.1 171.6L1378.3 172.1L1378.5 108.6L1378.6 89L1378.8 210.3L1379 294.8L1379.2 191.8L1379.4 85.3L1379.6 204.4L1379.8 130.6L1380 192.8L1380.1 282.9L1380.3 153.5L1380.5 165.1L1380.7 199.7L1380.9 89.6L1381.1 116.3L1381.3 246.6L1381.4 278.5L1381.6 161.1L1381.8 81L1382 160L1382.2 219.3L1382.4 120.6L1382.6 309.4L1382.8 117.9L1382.9 241.4L1383.1 120.3L1383.3 338.5L1383.5 67.4L1383.7 111.3L1383.9 217.2L1384.1 180.1L1384.3 26.4L1384.4 41.5L1384.6 204.6L1384.8 173.2L1385 161.2L1385.2 71.9L1385.4 171.4L1385.6 65.3L1385.8 60.6L1385.9 111.1L1386.1 186.6L1386.3 286.1L1386.5 51.2L1386.7 188.5L1386.9 133.1L1387.1 88.6L1387.3 171.4L1387.4 169.2L1387.6 265.8L1387.8 229.9L1388 172.6L1388.2 110.2L1388.4 233.9L1388.6 232.7L1388.7 166.4L1388.9 13L1389.1 267.1L1389.3 126.1L1389.5 190.7L1389.7 213.8L1389.9 188.5L1390.1 205.8L1390.2 162.2L1390.4 207.1L1390.6 106.7L1390.8 285.2L1391 225.4L1391.2 198L1391.4 36.7L1391.6 122.6L1391.7 135.5L1391.9 196.7L1392.1 260.1L1392.3 231.5L1392.5 117L1392.7 166.7L1392.9 42.1L1393.1 223.4L1393.2 273.8L1393.4 198.5L1393.6 253.1L1393.8 221.8L1394 67.6L1394.2 65L1394.4 227.3L1394.5 224.8L1394.7 360.8L1394.9 122.1L1395.1 219.3L1395.3 181.7L1395.5 271.6L1395.7 174.7L1395.9 112.8L1396 228.1L1396.2 269.1L1396.4 233.6L1396.6 167L1396.8 156.2L1397 166.8L1397.2 137.8L1397.4 128.2L1397.5 207.2L1397.7 297.9L1397.9 242L1398.1 184.7L1398.3 218.4L1398.5 149.7L1398.7 278.1L1398.9 210.6L1399 33.2L1399.2 94.8L1399.4 172.9L1399.6 104.5L1399.8 185.1L1400 100L1400.2 94.7L1400.3 179L1400.5 279.5L1400.7 208.2L1400.9 180.4L1401.1 207.5L1401.3 203.5L1401.5 111.4L1401.7 285.6L1401.8 108.8L1402 51L1402.2 220.1L1402.4 193.2L1402.6 310.6L1402.8 70L1403 13L1403.2 107.8L1403.3 102L1403.5 111.8L1403.7 212.5L1403.9 142.3L1404.1 277.1L1404.3 188.2L1404.5 203.6L1404.7 160.3L1404.8 226.5L1405 13L1405.2 163.1L1405.4 141.2L1405.6 169.9L1405.8 231.6L1406 286.1L1406.1 137.5L1406.3 121.8L1406.5 188.3L1406.7 292.9L1406.9 204.2L1407.1 150.7L1407.3 256.8L1407.5 112.3L1407.6 133.7L1407.8 243.9L1408 51.1L1408.2 13L1408.4 136.3L1408.6 86.4L1408.8 166L1409 288.4L1409.1 112.7L1409.3 116.3L1409.5 100.3L1409.7 245.2L1409.9 29.6L1410.1 224.6L1410.3 133L1410.5 288.1L1410.6 73L1410.8 151.2L1411 218L1411.2 196.4L1411.4 108.4L1411.6 161.9L1411.8 68.1L1411.9 323.1L1412.1 218.6L1412.3 201.7L1412.5 161.7L1412.7 13L1412.9 230.2L1413.1 183.1L1413.3 296.7L1413.4 185L1413.6 175.8L1413.8 202.9L1414 113.2L1414.2 350L1414.4 107.3L1414.6 161.2L1414.8 364.2L1414.9 180.9L1415.1 79.2L1415.3 71L1415.5 122L1415.7 136.2L1415.9 90.1L1416.1 129.9L1416.3 163.3L1416.4 195.3L1416.6 141.4L1416.8 258.2L1417 181.4L1417.2 107.3L1417.4 241.1L1417.6 209.8L1417.7 173.9L1417.9 120.9L1418.1 171.9L1418.3 225.2L1418.5 71.4L1418.7 52.8L1418.9 64.3L1419.1 98.6L1419.2 93.2L1419.4 214.5L1419.6 238.2L1419.8 144.1L1420 182.6L1420.2 94.8L1420.4 97.9L1420.6 178.7L1420.7 92.8L1420.9 115.4L1421.1 168.3L1421.3 95L1421.5 144.9L1421.7 116.5L1421.9 249.5L1422.1 31.7L1422.2 147.7L1422.4 128.4L1422.6 286.6L1422.8 153L1423 172.8L1423.2 232.1L1423.4 153.4L1423.5 156.2L1423.7 170.9L1423.9 185.1L1424.1 52.2L1424.3 224.3L1424.5 201.8L1424.7 157.8L1424.9 107.7L1425 138.3L1425.2 152L1425.4 194L1425.6 152.5L1425.8 99.7L1426 117.1L1426.2 156.2L1426.4 127.7L1426.5 260.7L1426.7 222.2L1426.9 133.4L1427.1 182.3L1427.3 117.6L1427.5 62.5L1427.7 168.1L1427.9 69.5L1428 126.6L1428.2 116.1L1428.4 221.2L1428.6 99.3L1428.8 300.2L1429 212.4L1429.2 234L1429.3 177.7L1429.5 162.7L1429.7 256.8L1429.9 200.7L1430.1 231.4L1430.3 123.2L1430.5 268.7L1430.7 288.4L1430.8 287.3L1431 202.9L1431.2 101.6L1431.4 237.5L1431.6 167.9L1431.8 189.9L1432 160.1L1432.2 163.3L1432.3 147.8L1432.5 107.1L1432.7 159.6L1432.9 290.7L1433.1 200.6L1433.3 274.2L1433.5 129.3L1433.7 220.2L1433.8 114L1434 210.7L1434.2 95.1L1434.4 185.2"/>
<path class="b" d="M170.3 232.5L170.5 194.9L170.7 159.9L170.9 128.6L171.1 264.3L171.3 115.4L171.5 148.3L171.7 233.8L171.9 221.1L172.1 277.4L172.4 183.9L172.6 377.1L172.8 234.4L173 247.4L173.2 311.4L173.4 218.3L173.6 239.8L173.8 253L174 187L174.2 198.1L174.4 236L174.6 218.2L174.8 214.8L175 115.1L175.2 239.3L175.4 98.5L175.6 251.1L175.8 235.8L176 226.8L176.3 240.8L176.5 265.4L176.7 181.4L176.9 197.7L177.1 324.5L177.3 172.3L177.5 201.5L177.7 244.3L177.9 227.8L178.1 244.9L178.3 247.2L178.5 201.8L178.7 247.9L178.9 366.1L179.1 259.5L179.3 244L179.5 233.9L179.7 189.6L180 305.3L180.2 248.3L180.4 147.5L180.6 241.6L180.8 267.9L181 204.2L181.2 238L181.4 158.3L181.6 233L181.8 254.7L182 307.6L182.2 247.8L182.4 189.5L182.6 188.1L182.8 347.9L183 238.1L183.2 221L183.4 329.1L183.6 327.6L183.9 307.3L184.1 236.4L184.3 208.1L184.5 247.2L184.7 110.3L184.9 208.9L185.1 339.9L185.3 216.5L185.5 269.1L185.7 282L185.9 100L186.1 333.7L186.3 137.9L186.5 159.9L186.7 181.4L186.9 300L187.1 314.8L187.3 114.3L187.5 320.1L187.8 270.3L188 224.6L188.2 278.8L188.4 167.6L188.6 299.9L188.8 356.3L189 124.9L189.2 231.4L189.4 193.3L189.6 206.9L189.8 247.5L190 280.8L190.2 299.1L190.4 323.8L190.6 172.5L190.8 252.5L191 270.9L191.2 192.4L191.4 307.6L191.7 293.7L191.9 217L192.1 124.3L192.3 378.4L192.5 134.4L192.7 343.5L192.9 174.5L193.1 248.8L193.3 261.9L193.5 177.2L193.7 161.5L193.9 254.1L194.1 239.5L194.3 194.6L194.5 223L194.7 152.3L194.9 188.9L195.1 149.8L195.3 246.1L195.6 155.4L195.8 217.7L196 325.6L196.2 297L196.4 246.9L196.6 301.1L196.8 138L197 137.2L197.2 150.3L197.4 242.4L197.6 189.5L197.8 120.7L198 304.3L198.2 284.8L198.4 239.6L198.6 366.4L198.8 273L199 223.1L199.3 140.5L199.5 253.6L199.7 239.6L199.9 141.9L200.1 277.6L200.3 197L200.5 211.4L200.7 202.8L200.9 202.1L201.1 245.8L201.3 234.3L201.5 290.4L201.7 177.8L201.9 238L202.1 229L202.3 164.2L202.5 218.9L202.7 173.1L202.9 191.5L203.2 254.3L203.4 234.5L203.6 311.3L203.8 201.1L204 242.6L204.2 215.9L204.4 194.7L204.6 172.2L204.8 292.1L205 146.2L205.2 339.2L205.4 229L205.6 108L205.8 235.1L206 271.2L206.2 218.4L206.4 388.2L206.6 230.1L206.8 187.6L207.1 140.6L207.3 190.5L207.5 263L207.7 206.4L207.9 169.5L208.1 205.9L208.3 208.5L208.5 197.6L208.7 359.8L208.9 238.3L209.1 340.3L209.3 134.9L209.5 217.5L209.7 251.2L209.9 234.4L210.1 202.1L210.3 176.9L210.5 247.5L210.7 244L211 310.1L211.2 274.9L211.4 223.3L211.6 252.6L211.8 213.3L212 231.7L212.2 362.9L212.4 165.4L212.6 153.9L212.8 314.1L213 209.8L213.2 190.2L213.4 268L213.6 195.9L213.8 176.7L214 241.9L214.2 312L214.4 282.4L214.7 210.2L214.9 252.9L215.1 235.4L215.3 164.6L215.5 191.8L215.7 271.6L215.9 316.3L216.1 303.3L216.3 258.4L216.5 253L216.7 173.8L216.9 281.9L217.1 243.4L217.3 203L217.5 193.3L217.7 188.6L217.9 208.8L218.1 268.5L218.3 303.4L218.6 228.4L218.8 211.2L219 291.1L219.2 253.7L219.4 141.1L219.6 226.9L219.8 354.5L220 206.7L220.2 180.3L220.4 261.4L220.6 261.5L220.8 114.7L221 184.9L221.2 128.2L221.4 281.1L221.6 134.9L221.8 188.5L222 263.7L222.2 214.2L222.5 251.3L222.7 222.6L222.9 211.7L223.1 161L223.3 203.7L223.5 225.2L223.7 269.9L223.9 115.2L224.1 300.1L224.3 259.8L224.5 170.2L224.7 312.6L224.9 219.1L225.1 150.6L225.3 161.3L225.5 252.1L225.7 227L225.9 229L226.1 161.6L226.4 170.3L226.6 201.3L226.8 212.1L227 285.8L227.2 239.2L227.4 256.3L227.6 135.6L227.8 229.1L228 219.6L228.2 305.6L228.4 178.3L228.6 232.9L228.8 228.3L229 283.9L229.2 323L229.4 232.2L229.6 242L229.8 197.6L230 111.8L230.3 189.6L230.5 217.5L230.7 252.9L230.9 106.5L231.1 212.7L231.3 278.6L231.5 222.3L231.7 188.9L231.9 281.1L232.1 263.6L232.3 141.6L232.5 119.1L232.7 210.8L232.9 270.1L233.1 176.8L233.3 260.1L233.5 250.9L233.7 140.3L234 225.3L234.2 152.9L234.4 190.4L234.6 263.1L234.8 379.9L235 246.9L235.2 64.8L235.4 236.2L235.6 239.1L235.8 232.3L236 167.4L236.2 248.3L236.4 153.9L236.6 118.9L236.8 178.4L237 212.5L237.2 209.5L237.4 305.1L237.6 282.6L237.9 180.3L238.1 263L238.3 177.4L238.5 299.8L238.7 164.1L238.9 344.7L239.1 281.3L239.3 240.6L239.5 208.1L239.7 206.8L239.9 210.9L240.1 248L240.3 190.9L240.5 172.7L240.7 307.1L240.9 214L241.1 95.2L241.3 118.7L241.5 273.7L241.8 198.4L242 247L242.2 220.2L242.4 280L242.6 224.8L242.8 265.4L243 123.2L243.2 223.1L243.4 175.5L243.6 123L243.8 205L244 294.5L244.2 282L244.4 262.2L244.6 168.1L244.8 234.7L245 155.2L245.2 184.6L245.4 352.6L245.7 148.1L245.9 239.4L246.1 102.6L246.3 148.8L246.5 191L246.7 199.1L246.9 243.5L247.1 162.3L247.3 254.3L247.5 181.3L247.7 263.7L247.9 116L248.1 203.3L248.3 275.2L248.5 223.1L248.7 147.1L248.9 313.5L249.1 195.1L249.4 293.3L249.6 300.3L249.8 254.9L250 243L250.2 194.9L250.4 264.3L250.6 139.5L250.8 161.8L251 149.2L251.2 179.9L251.4 304.2L251.6 138.4L251.8 138.6L252 249.6L252.2 226.1L252.4 155.6L252.6 179.7L252.8 196.9L253 244.6L253.3 207.4L253.5 293.8L253.7 245.4L253.9 230.6L254.1 181.9L254.3 138.8L254.5 197L254.7 95.6L254.9 189.9L255.1 305.7L255.3 277.6L255.5 248.5L255.7 210.8L255.9 275.9L256.1 248L256.3 175L256.5 267.9L256.7 230.8L256.9 202.1L257.2 219.3L257.4 228.6L257.6 205.5L257.8 213.1L258 200.1L258.2 191.5L258.4 252L258.6 245.9L258.8 260.3L259 126.6L259.2 203.5L259.4 343.7L259.6 189.4L259.8 235.8L260 220.7L260.2 259.5L260.4 246.6L260.6 148.4L260.8 269.2L261.1 312.7L261.3 198.9L261.5 256L261.7 306.3L261.9 319.6L262.1 302.3L262.3 218.4L262.5 312.6L262.7 222.5L262.9 230.9L263.1 246L263.3 302.7L263.5 249L263.7 223.1L263.9 240.9L264.1 214.9L264.3 196.9L264.5 288.7L264.7 284.4L265 196.8L265.2 275.7L265.4 239.9L265.6 210L265.8 266.5L266 343.2L266.2 303.6L266.4 433L266.6 292.7L266.8 337.6L267 350.3L267.2 149.2L267.4 398.5L267.6 390.6L267.8 269.3L268 292.3L268.2 490L268.4 314.5L268.7 317.7L268.9 373.9L269.1 400.4L269.3 291L269.5 323.3L269.7 345L269.9 388.7L270.1 265.6L270.3 246.3L270.5 296.5L270.7 361.8L270.9 260L271.1 133.5L271.3 412L271.5 304.3L271.7 257.4L271.9 353.3L272.1 148.6L272.3 301.7L272.6 250.1L272.8 307.8L273 245.6L273.2 359.2L273.4 253.4L273.6 363.9L273.8 418L274 201.2L274.2 250.7L274.4 187L274.6 331.8L274.8 208.1L275 230.4L275.2 329.3L275.4 159.6L275.6 111.3L275.8 123.4L276 339.1L276.2 308.4L276.5 217.5L276.7 122.1L276.9 295.2L277.1 168.2L277.3 261L277.5 144.9L277.7 330.4L277.9 238.9L278.1 324.3L278.3 216.6L278.5 166.2L278.7 265.6L278.9 254.6L279.1 300.3L279.3 178.1L279.5 244L279.7 157.3L279.9 64L280.1 83.4L280.4 314.9L280.6 84L280.8 235.2L281 216.7L281.2 210.1L281.4 241.5L281.6 235.1L281.8 184.2L282 242L282.2 263.5L282.4 192.6L282.6 185.7L282.8 213L283 189.4L283.2 150.4L283.4 120.3L283.6 208.6L283.8 189.9L284 309.1L284.3 189.9L284.5 164.4L284.7 216.4L284.9 306.3L285.1 150.6L285.3 292.2L285.5 277L285.7 288L285.9 202.8L286.1 204.8L286.3 166.3L286.5 273.3L286.7 189.8L286.9 221.9L287.1 187.6L287.3 246.2L287.5 257.7L287.7 285.4L288 279.4L288.2 296.5L288.4 200.1L288.6 298.6L288.8 204.5L289 279.1L289.2 318.1L289.4 306.4L289.6 211L289.8 167.1L290 231.5L290.2 330.6L290.4 191.7L290.6 215.1L290.8 255.7L291 280.9L291.2 201.8L291.4 269.9L291.6 209.9L291.9 301.6L292.1 299.9L292.3 254.4L292.5 197.3L292.7 209.4L292.9 287.5L293.1 196.7L293.3 260.5L293.5 170.3L293.7 140.8L293.9 148.6L294.1 275.8L294.3 167.7L294.5 229L294.7 189.4L294.9 241.3L295.1 275.7L295.3 184.6L295.5 217.3L295.8 183L296 242.7L296.2 185.5L296.4 129L296.6 314.3L296.8 249.9L297 241.2L297.2 175.8L297.4 205.8L297.6 211L297.8 155.1L298 264.3L298.2 231.8L298.4 284L298.6 256.1L298.8 235.6L299 121L299.2 123.1L299.4 173.3L299.7 339.4L299.9 197.8L300.1 216.3L300.3 337.5L300.5 203.4L300.7 226.9L300.9 244.2L301.1 210.6L301.3 264.6L301.5 182.8L301.7 378.3L301.9 55L302.1 188.3L302.3 257.5L302.5 264L302.7 158L302.9 248.1L303.1 195.7L303.4 229.7L303.6 206.5L303.8 174L304 237.1L304.2 202L304.4 181.8L304.6 145.2L304.8 258.2L305 225.9L305.2 156.4L305.4 238.2L305.6 172.9L305.8 291.3L306 267.8L306.2 185.1L306.4 214.4L306.6 249.7L306.8 167.9L307 212.8L307.3 240.6L307.5 268.3L307.7 308.3L307.9 263.5L308.1 250.7L308.3 341.6L308.5 152L308.7 58.3L308.9 205.1L309.1 235.2L309.3 130.3L309.5 231.9L309.7 174.4L309.9 246.7L310.1 146.7L310.3 210.7L310.5 225.3L310.7 296L310.9 273.4L311.2 170.7L311.4 131.2L311.6 185.2L311.8 152.5L312 263.5L312.2 195.8L312.4 231.3L312.6 255.9L312.8 136.4L313 159.9L313.2 225.7L313.4 159.4L313.6 209.3L313.8 249.9L314 293.1L314.2 198.1L314.4 245.4L314.6 329.9L314.8 185L315.1 197.8L315.3 225.6L315.5 219.1L315.7 233.8L315.9 197L316.1 296.7L316.3 216.6L316.5 186.2L316.7 228.6L316.9 231.9L317.1 165.3L317.3 237.9L317.5 162.7L317.7 194.9L317.9 146.4L318.1 175.9L318.3 198.7L318.5 122.9L318.7 249.7L319 259.1L319.2 311L319.4 260.3L319.6 247.8L319.8 137.1L320 250.1L320.2 186.2L320.4 179.1L320.6 185L320.8 307.6L321 233.9L321.2 264.3L321.4 247.9L321.6 266.3L321.8 254.6L322 260.5L322.2 285.2L322.4 321.3L322.7 261.9L322.9 280.4L323.1 251.5L323.3 292.9L323.5 287.7L323.7 179.6L323.9 271.8L324.1 235.1L324.3 189.2L324.5 275.1L324.7 273.8L324.9 443L325.1 255.6L325.3 276.3L325.5 286.9L325.7 275.4L325.9 312L326.1 217.9L326.3 372.1L326.6 334.9L326.8 346L327 274.7L327.2 317.9L327.4 247.7L327.6 327.2L327.8 319.1L328 402L328.2 183.4L328.4 299.3L328.6 371.6L328.8 342.6L329 388.9L329.2 416.1L329.4 283.5L329.6 224.2L329.8 425L330 288.1L330.2 304.5L330.5 337.1L330.7 374.2L330.9 336.6L331.1 490L331.3 277.3L331.5 333.1L331.7 398L331.9 323.6L332.1 248.7L332.3 331.4L332.5 389.2L332.7 391L332.9 277.6L333.1 339.3L333.3 275.4L333.5 242.7L333.7 221.8L333.9 377.7L334.1 233.7L334.4 269.7L334.6 372.1L334.8 210.9L335 303.8L335.2 213L335.4 375L335.6 308.7L335.8 270.1L336 305.5L336.2 204.6L336.4 239.6L336.6 275.3L336.8 345.1L337 293.2L337.2 310.8L337.4 245.2L337.6 272.8L337.8 213.8L338.1 322L338.3 308L338.5 326.5L338.7 372.9L338.9 232.9L339.1 185.3L339.3 300.2L339.5 263.4L339.7 220.1L339.9 250.9L340.1 226.7L340.3 315.4L340.5 166.8L340.7 243.8L340.9 287.1L341.1 290L341.3 313L341.5 239.3L341.7 191.8L342 250.2L342.2 256.7L342.4 277.1L342.6 183.2L342.8 272.2L343 220.2L343.2 298.9L343.4 168.4L343.6 212.4L343.8 236L344 378.8L344.2 278.4L344.4 265L344.6 173L344.8 306.4L345 224.7L345.2 308.3L345.4 232.9L345.6 291.1L345.9 223.1L346.1 253.1L346.3 249.6L346.5 107.3L346.7 243L346.9 154.4L347.1 270L347.3 254.6L347.5 80.8L347.7 318.2L347.9 335.7L348.1 267.1L348.3 159.8L348.5 274.8L348.7 213.9L348.9 192.4L349.1 274.7L349.3 394.7L349.5 123.9L349.8 134.4L350 192.9L350.2 150.1L350.4 306L350.6 127.8L350.8 208.4L351 263.4L351.2 253.4L351.4 180.7L351.6 286.2L351.8 107.9L352 346.9L352.2 251.6L352.4 246.9L352.6 285.4L352.8 198.8L353 214.1L353.2 243.9L353.4 156.7L353.7 261.4L353.9 279.7L354.1 199.6L354.3 164.1L354.5 180.2L354.7 333.3L354.9 63.7L355.1 188.2L355.3 229.9L355.5 212.1L355.7 342.7L355.9 260.9L356.1 270.1L356.3 260.5L356.5 240.2L356.7 379L356.9 212.9L357.1 275.7L357.4 233L357.6 212.2L357.8 146.7L358 236L358.2 270.1L358.4 191.6L358.6 273.6L358.8 206.5L359 142.3L359.2 269.7L359.4 198L359.6 362.6L359.8 222L360 327.6L360.2 321.1L360.4 147.8L360.6 194.5L360.8 249.4L361 196.1L361.3 234L361.5 195.9L361.7 245.5L361.9 252.2L362.1 153L362.3 289L362.5 268.2L362.7 329.6L362.9 157.6L363.1 328.9L363.3 208.2L363.5 300.6L363.7 184.2L363.9 294.6L364.1 366.1L364.3 186.3L364.5 148.5L364.7 281.9L364.9 205.1L365.2 139.5L365.4 235.5L365.6 220.4L365.8 214.8L366 283.6L366.2 209.2L366.4 331L366.6 201.7L366.8 303.7L367 246.4L367.2 138.4L367.4 147.8L367.6 255.9L367.8 262.1L368 185.5L368.2 258.6L368.4 239.9L368.6 266.7L368.8 238L369.1 183.7L369.3 264.2L369.5 348.3L369.7 247.6L369.9 251.9L370.1 152.3L370.3 173.8L370.5 193.4L370.7 262.7L370.9 340.8L371.1 322.9L371.3 289.3L371.5 240L371.7 131.7L371.9 198.7L372.1 141.2L372.3 312.5L372.5 121.8L372.8 216.4L373 323.6L373.2 276.9L373.4 159.4L373.6 213.8L373.8 349L374 260.3L374.2 233.7L374.4 313.2L374.6 13L374.8 252.1L375 134.9L375.2 232.4L375.4 251.3L375.6 238.9L375.8 248.9L376 279.4L376.2 162.8L376.4 242.5L376.7 208.9L376.9 309.1L377.1 237.4L377.3 315L377.5 108.4L377.7 291L377.9 353.7L378.1 229L378.3 291.5L378.5 286.2L378.7 253.8L378.9 151.8L379.1 168.4L379.3 270.8L379.5 230.2L379.7 190.4L379.9 206.3L380.1 199L380.3 221.9L380.6 338.6L380.8 293.7L381 206.8L381.2 201.7L381.4 273.8L381.6 293.7L381.8 236.8L382 264.9L382.2 336.9L382.4 320.2L382.6 184.3L382.8 268.1L383 242.4L383.2 327.8L383.4 267.3L383.6 238.5L383.8 335.5L384 326.5L384.2 308.2L384.5 391.1L384.7 359.5L384.9 315.4L385.1 313.3L385.3 223L385.5 269.3L385.7 365.6L385.9 303.6L386.1 377.6L386.3 233.9L386.5 490L386.7 326.8L386.9 361.1L387.1 405L387.3 490L387.5 341.8L387.7 385L387.9 490L388.1 326.7L388.4 248.2L388.6 440L388.8 235.8L389 355.3L389.2 300.1L389.4 221.3L389.6 291L389.8 257.7L390 279.6L390.2 234.4L390.4 319.1L390.6 311.7L390.8 273.7L391 306.2L391.2 266.3L391.4 229L391.6 298.5L391.8 304.8L392.1 327.5L392.3 279.2L392.5 276.3L392.7 243.2L392.9 248.9L393.1 211.8L393.3 253.8L393.5 342.3L393.7 195.6L393.9 226.4L394.1 302L394.3 272.4L394.5 237.3L394.7 250.5L394.9 295L395.1 255.6L395.3 313.5L395.5 319.6L395.7 307.1L396 214.7L396.2 343.1L396.4 246.6L396.6 301.2L396.8 297.3L397 248.6L397.2 206.9L397.4 206.6L397.6 280.9L397.8 237.4L398 305.4L398.2 193.2L398.4 323.1L398.6 180.3L398.8 299L399 295.1L399.2 149.9L399.4 230.5L399.6 90.1L399.9 178.2L400.1 268.6L400.3 287.8L400.5 202.2L400.7 154.8L400.9 246.4L401.1 338.6L401.3 124.9L401.5 266L401.7 279.3L401.9 206.7L402.1 265.5L402.3 149.1L402.5 244.4L402.7 134.1L402.9 197.7L403.1 191.6L403.3 225.7L403.5 272.5L403.8 282.9L404 218.7L404.2 188.5L404.4 204.6L404.6 240.5L404.8 290.7L405 365.6L405.2 176.7L405.4 263.4L405.6 169.6L405.8 359L406 239L406.2 214.6L406.4 232.6L406.6 103.3L406.8 218.6L407 332.2L407.2 223.7L407.5 335.2L407.7 320.7L407.9 295.2L408.1 286.8L408.3 187.6L408.5 321.8L408.7 200.9L408.9 356.9L409.1 280.4L409.3 260.7L409.5 228.7L409.7 91L409.9 240L410.1 318.8L410.3 298.5L410.5 258.1L410.7 374.5L410.9 284.4L411.1 295.4L411.4 211.7L411.6 257.1L411.8 296.6L412 212.5L412.2 173.6L412.4 194.8L412.6 159.2L412.8 208L413 144.5L413.2 191.7L413.4 132L413.6 209.3L413.8 253.5L414 111.6L414.2 251.6L414.4 194.3L414.6 198.1L414.8 123.2L415 270L415.3 230.2L415.5 165.6L415.7 276.3L415.9 67L416.1 327L416.3 250L416.5 53.1L416.7 233L416.9 271.1L417.1 291.6L417.3 196.8L417.5 342.4L417.7 266.8L417.9 265L418.1 195.3L418.3 159.9L418.5 221L418.7 206.1L418.9 192.1L419.2 243L419.4 126.1L419.6 252.5L419.8 212L420 272.2L420.2 301.2L420.4 169L420.6 176.1L420.8 250.2L421 173.8L421.2 220.6L421.4 261.3L421.6 357.5L421.8 234.1L422 261.6L422.2 263L422.4 256.6L422.6 156.9L422.8 214.9L423.1 254.9L423.3 189.9L423.5 148.2L423.7 260.7L423.9 156.1L424.1 164.1L424.3 293.5L424.5 156.5L424.7 184.8L424.9 192.3L425.1 75.3L425.3 196.4L425.5 226.7L425.7 270.1L425.9 188.2L426.1 231L426.3 214.5L426.5 118.5L426.8 199.5L427 281.6L427.2 327.3L427.4 213.8L427.6 197.1L427.8 219.8L428 254.2L428.2 214.8L428.4 225.2L428.6 258.8L428.8 387.1L429 122.8L429.2 192.5L429.4 92.2L429.6 283.4L429.8 257.7L430 257L430.2 147.9L430.4 192.8L430.7 207.2L430.9 189.7L431.1 278.1L431.3 245.5L431.5 224.8L431.7 240.1L431.9 267.7L432.1 176.5L432.3 151.7L432.5 347.5L432.7 291.7L432.9 141.1L433.1 194.2L433.3 203.5L433.5 157.9L433.7 193.1L433.9 375.6L434.1 285.9L434.3 279.8L434.6 229L434.8 254.1L435 143.9L435.2 311.3L435.4 178.8L435.6 237.3L435.8 223.3L436 288.1L436.2 180.3L436.4 204.3L436.6 190.7L436.8 160.5L437 242.4L437.2 336.8L437.4 349.4L437.6 287.7L437.8 293.3L438 166.1L438.2 279.7L438.5 181.9L438.7 212.7L438.9 287.5L439.1 112.1L439.3 246.8L439.5 245.1L439.7 136.8L439.9 247L440.1 292.7L440.3 171.1L440.5 398.8L440.7 314.2L440.9 240.7L441.1 192L441.3 326.2L441.5 271.2L441.7 266.8L441.9 223.5L442.2 203L442.4 245L442.6 234.5L442.8 227.4L443 173.8L443.2 255.6L443.4 329.3L443.6 138.3L443.8 236.3L444 209.6L444.2 322.1L444.4 228L444.6 188.2L444.8 257.9L445 129.4L445.2 272.2L445.4 228.4L445.6 310.9L445.8 111.6L446.1 224L446.3 166.2L446.5 316.4L446.7 334.6L446.9 199.2L447.1 170.9L447.3 312.8L447.5 284.3L447.7 246.2L447.9 207.1L448.1 179.2L448.3 100.3L448.5 217.3L448.7 346.3L448.9 164.1L449.1 232.5L449.3 261.8L449.5 279.4L449.7 462L450 160.9L450.2 184.6L450.4 273.5L450.6 55L450.8 137.9L451 254.5L451.2 254.6L451.4 234.7L451.6 216.4L451.8 195.5L452 192.6L452.2 258.9L452.4 130.6L452.6 311.8L452.8 63.8L453 207.5L453.2 210.3L453.4 188L453.6 261.1L453.9 199.1L454.1 348.8L454.3 257.6L454.5 207.2L454.7 211L454.9 240.4L455.1 220.6L455.3 209L455.5 164L455.7 309.9L455.9 289.7L456.1 285.9L456.3 180.1L456.5 244L456.7 88.5L456.9 246.2L457.1 128.9L457.3 256.3L457.5 282.3L457.8 264.5L458 220.9L458.2 184.6L458.4 298.8L458.6 287.9L458.8 273.8L459 314L459.2 225.4L459.4 147.2L459.6 251.1L459.8 288.9L460 255.3L460.2 210.8L460.4 232.6L460.6 261.6L460.8 243L461 277.7L461.2 253.3L461.5 314.1L461.7 311L461.9 282.5L462.1 338.6L462.3 302.2L462.5 219.8L462.7 215.8L462.9 462L463.1 277.9L463.3 152.9L463.5 184.5L463.7 230.8L463.9 330.6L464.1 337.7L464.3 224.1L464.5 210L464.7 270.3L464.9 204.4L465.1 213.2L465.4 324L465.6 291.9L465.8 401.6L466 441L466.2 209.3L466.4 308.4L466.6 281.9L466.8 246.4L467 259.7L467.2 338.7L467.4 272.5L467.6 247.3L467.8 257.5L468 260.9L468.2 98.5L468.4 277.4L468.6 321L468.8 334.6L469 306L469.3 335L469.5 302.4L469.7 189.8L469.9 328.7L470.1 289L470.3 246.8L470.5 307.6L470.7 359.6L470.9 334.5L471.1 330.1L471.3 212.5L471.5 318.3L471.7 315.5L471.9 192.3L472.1 272.6L472.3 344.7L472.5 418L472.7 377.8L472.9 181.6L473.2 208.5L473.4 350.4L473.6 362.6L473.8 261.9L474 300.1L474.2 218.3L474.4 265.7L474.6 227.7L474.8 158L475 149.3L475.2 264L475.4 158.8L475.6 326.2L475.8 143.1L476 141.4L476.2 306.3L476.4 182.9L476.6 297.4L476.9 143.6L477.1 235.8L477.3 258.2L477.5 175.6L477.7 120L477.9 291.6L478.1 231.7L478.3 304.4L478.5 307.5L478.7 195.6L478.9 175.2L479.1 173L479.3 413.8L479.5 152.5L479.7 227.7L479.9 292.6L480.1 152.9L480.3 288.5L480.5 204.7L480.8 228.9L481 259.8L481.2 177.5L481.4 223.4L481.6 162.7L481.8 333.8L482 307.7L482.2 254.9L482.4 342.1L482.6 160L482.8 155.2L483 197.1L483.2 154L483.4 144.4L483.6 157L483.8 335.7L484 250.8L484.2 219.3L484.4 218.6L484.7 180.9L484.9 177.1L485.1 230.4L485.3 276.3L485.5 295.8L485.7 327.6L485.9 230.4L486.1 309.4L486.3 205L486.5 241.5L486.7 251.1L486.9 266.2L487.1 201.9L487.3 212.2L487.5 177.1L487.7 211.9L487.9 202.5L488.1 251.6L488.3 326.8L488.6 309.3L488.8 359L489 421L489.2 384.5L489.4 352.8L489.6 429.3L489.8 309.9L490 283.3L490.2 251.5L490.4 325.8L490.6 342.4L490.8 343.7L491 279.4L491.2 221.6L491.4 329.5L491.6 209.9L491.8 279.1L492 292.2L492.2 321.2L492.5 102L492.7 330.8L492.9 275.3L493.1 203.8L493.3 318L493.5 227.4L493.7 203.8L493.9 225.8L494.1 407L494.3 254.1L494.5 285.8L494.7 143.3L494.9 228L495.1 237.2L495.3 233.5L495.5 298.5L495.7 302.3L495.9 293.7L496.2 240.2L496.4 241.3L496.6 222.8L496.8 257.8L497 222.2L497.2 163.9L497.4 171.4L497.6 251.3L497.8 197.8L498 237.7L498.2 249L498.4 229.2L498.6 302L498.8 373L499 272.4L499.2 371.8L499.4 190.5L499.6 260.3L499.8 174.5L500.1 231.5L500.3 242.3L500.5 233.2L500.7 213.5L500.9 328.5L501.1 238.3L501.3 168.2L501.5 309.4L501.7 330.6L501.9 316.2L502.1 299.6L502.3 120.7L502.5 244.7L502.7 272.4L502.9 229.4L503.1 361.9L503.3 312.6L503.5 260.1L503.7 276.7L504 268.4L504.2 338L504.4 291.6L504.6 323.7L504.8 219.2L505 342.9L505.2 209.9L505.4 372.8L505.6 397.9L505.8 490L506 184.7L506.2 343.2L506.4 255.9L506.6 241.1L506.8 430.8L507 490L507.2 406.1L507.4 324.5L507.6 362.5L507.9 278.3L508.1 259.3L508.3 490L508.5 160.9L508.7 265.8L508.9 329.5L509.1 419.7L509.3 307L509.5 415.5L509.7 381.5L509.9 398.6L510.1 303.7L510.3 283L510.5 379.4L510.7 291.2L510.9 384.2L511.1 341.7L511.3 199.5L511.5 208.9L511.8 295.5L512 263.6L512.2 379.4L512.4 296.1L512.6 195.5L512.8 137.6L513 214.6L513.2 217.7L513.4 299.4L513.6 269.1L513.8 216.5L514 294.4L514.2 185L514.4 338.6L514.6 365.7L514.8 145.6L515 280.4L515.2 172.6L515.5 251.5L515.7 157.9L515.9 355.1L516.1 329.4L516.3 192.3L516.5 251.3L516.7 180.9L516.9 129.2L517.1 175.6L517.3 229.6L517.5 298.2L517.7 323.5L517.9 188.9L518.1 180L518.3 174.3L518.5 324.7L518.7 155.4L518.9 284L519.1 382.5L519.4 338.2L519.6 234.7L519.8 262L520 103.9L520.2 229.4L520.4 278.6L520.6 221.7L520.8 217L521 246.3L521.2 221.7L521.4 252.3L521.6 170.8L521.8 301.8L522 191.9L522.2 239.8L522.4 246.4L522.6 178.6L522.8 265.7L523 127.9L523.3 209L523.5 194.7L523.7 188.2L523.9 314.6L524.1 93.4L524.3 268.6L524.5 284.7L524.7 311.1L524.9 279.2L525.1 330.5L525.3 298.2L525.5 211.8L525.7 348.1L525.9 391.1L526.1 313.9L526.3 284.7L526.5 337.6L526.7 307.8L526.9 357.7L527.2 342.4L527.4 299.5L527.6 235.6L527.8 266L528 286.2L528.2 302.9L528.4 242.8L528.6 332.5L528.8 260.7L529 232.3L529.2 198.7L529.4 296.2L529.6 196.6L529.8 181.9L530 342.1L530.2 306.9L530.4 273.5L530.6 240.8L530.9 186.6L531.1 389L531.3 300.1L531.5 264.8L531.7 156L531.9 273.5L532.1 247.1L532.3 252.2L532.5 191.6L532.7 192L532.9 340.7L533.1 232.2L533.3 168.7L533.5 264.4L533.7 170.3L533.9 229.6L534.1 162.3L534.3 222.4L534.5 238.9L534.8 230L535 255.1L535.2 284.9L535.4 366.1L535.6 339.2L535.8 327.7L536 319.9L536.2 291.2L536.4 262.1L536.6 377.2L536.8 281.9L537 220.7L537.2 249.6L537.4 311.1L537.6 248.4L537.8 221.9L538 77.3L538.2 186.3L538.4 274.5L538.7 252.4L538.9 186.3L539.1 298.3L539.3 193.6L539.5 343.5L539.7 215.2L539.9 186.9L540.1 265.7L540.3 211.8L540.5 306.8L540.7 337.7L540.9 230.2L541.1 252.8L541.3 208.6L541.5 217.8L541.7 245.9L541.9 243.5L542.1 332.8L542.3 279.1L542.6 169.4L542.8 195.3L543 284.4L543.2 338L543.4 342.5L543.6 134.1L543.8 263.7L544 344.7L544.2 285.1L544.4 243.2L544.6 328.1L544.8 331.8L545 364.8L545.2 269.6L545.4 197.5L545.6 239.5L545.8 202.4L546 232.4L546.2 205.8L546.5 86.2L546.7 311.1L546.9 362.2L547.1 138.8L547.3 124.6L547.5 249.9L547.7 181.9L547.9 175.9L548.1 179.4L548.3 226.4L548.5 261.5L548.7 183L548.9 304.8L549.1 205.7L549.3 258.4L549.5 226.8L549.7 79.9L549.9 293.1L550.2 209.4L550.4 316.7L550.6 216.8L550.8 186.4L551 103.8L551.2 249.7L551.4 207.3L551.6 207.7L551.8 169.4L552 202L552.2 281.7L552.4 333L552.6 240.3L552.8 233.3L553 359.3L553.2 300.1L553.4 204.1L553.6 181L553.8 205L554.1 304L554.3 263.7L554.5 179.2L554.7 155.3L554.9 201.6L555.1 346.2L555.3 323.4L555.5 230.8L555.7 241.5L555.9 174.4L556.1 174.7L556.3 259L556.5 163.9L556.7 192.1L556.9 283.1L557.1 129.7L557.3 239.2L557.5 219.5L557.7 329.1L558 286.7L558.2 321.9L558.4 226L558.6 227.7L558.8 219.7L559 258.5L559.2 394L559.4 230.3L559.6 191L559.8 228.4L560 234.2L560.2 220.3L560.4 231.5L560.6 345.7L560.8 278.9L561 206.5L561.2 128.1L561.4 229.3L561.6 275.8L561.9 247.9L562.1 140.7L562.3 49.1L562.5 199.8L562.7 290.8L562.9 285.9L563.1 386.1L563.3 333.8L563.5 167.7L563.7 324.5L563.9 148.5L564.1 338.6L564.3 272.7L564.5 310L564.7 245.6L564.9 250.7L565.1 147.8L565.3 161.6L565.6 226.8L565.8 225.4L566 264.4L566.2 193.6L566.4 311.5L566.6 272.1L566.8 255.9L567 171.2L567.2 193.6L567.4 219.9L567.6 252.6L567.8 242.8L568 324.3L568.2 294.6L568.4 311.6L568.6 131.3L568.8 271.6L569 262.5L569.2 319.2L569.5 198.7L569.7 227.3L569.9 297.8L570.1 280.7L570.3 138L570.5 310.5L570.7 223.5L570.9 234.1L571.1 256.3L571.3 331.5L571.5 351.9L571.7 196.4L571.9 144.2L572.1 281.1L572.3 217.4L572.5 257.4L572.7 325.9L572.9 260.5L573.1 243.2L573.4 330.8L573.6 249.5L573.8 136.3L574 215.9L574.2 279.6L574.4 218.7L574.6 106.5L574.8 168.6L575 416L575.2 354.4L575.4 284L575.6 314.7L575.8 98.1L576 188.3L576.2 318.1L576.4 206.4L576.6 222.5L576.8 285.9L577 188.8L577.3 218.5L577.5 207.9L577.7 324.9L577.9 277.9L578.1 306.3L578.3 211.2L578.5 276.5L578.7 172.5L578.9 205.1L579.1 221.6L579.3 276.7L579.5 227.5L579.7 237.8L579.9 275.6L580.1 210.1L580.3 369.7L580.5 228.9L580.7 155L580.9 240.8L581.2 223.5L581.4 363L581.6 200.6L581.8 283.9L582 109.4L582.2 273.6L582.4 293.8L582.6 209.7L582.8 363.4L583 229.7L583.2 261.1L583.4 173.2L583.6 404L583.8 259.7L584 113.8L584.2 258.1L584.4 255.2L584.6 298.8L584.9 249.6L585.1 239.7L585.3 120.1L585.5 203.1L585.7 144L585.9 216.8L586.1 253.1L586.3 243.4L586.5 356.2L586.7 180L586.9 247.8L587.1 196.1L587.3 243.8L587.5 210.1L587.7 285.6L587.9 332.9L588.1 136.5L588.3 225.3L588.5 275.2L588.8 47.9L589 93.9L589.2 294.7L589.4 278.7L589.6 175.6L589.8 245.7L590 103.3L590.2 270.4L590.4 329L590.6 271.9"/>
<path class="b" d="M622.4 233.8L622.6 186.7L622.8 369.4L623 353L623.2 341.9L623.4 369.4L623.6 343.4L623.8 417.9L624 119.2L624.2 403.2L624.4 284.6L624.6 307.4L624.8 495L625 363.8L625.1 478.8L625.3 296.8L625.5 495L625.7 495L625.9 341.5L626.1 495L626.3 495L626.5 448L626.7 455.8L626.9 495L627.1 495L627.3 495L627.5 193.5L627.7 386.8L627.9 495L628.1 495L628.3 445.4L628.5 325.8L628.7 495L628.9 255.5L629.1 379.1L629.3 495L629.5 495L629.7 495L629.9 495L630.1 377.5L630.2 495L630.4 495L630.6 457.3L630.8 494.7L631 495L631.2 343.1L631.4 125.7L631.6 231.6L631.8 294.1L632 431.8L632.2 321.2L632.4 352.7L632.6 388.8L632.8 364.4L633 272L633.2 276.3L633.4 392.7L633.6 369.7L633.8 341.9L634 364.2L634.2 307.7L634.4 321.7L634.6 293.5L634.8 440L635 189.8L635.2 184.1L635.3 390.7L635.5 325.6L635.7 238L635.9 133.1L636.1 174.8L636.3 345.3L636.5 342L636.7 386L636.9 281.5L637.1 201L637.3 156.6L637.5 197.2L637.7 209.5L637.9 211.4L638.1 272.3L638.3 196.2L638.5 317.9L638.7 325.4L638.9 339.1L639.1 303.2L639.3 366.4L639.5 293.4L639.7 211.3L639.9 289.3L640.1 155.2L640.3 177L640.4 262.1L640.6 115.1L640.8 132.4L641 170.3L641.2 199.8L641.4 195L641.6 391.5L641.8 182.3L642 102.9L642.2 220.5L642.4 188.8L642.6 208.6L642.8 222.9L643 177.7L643.2 144.3L643.4 213.6L643.6 208.9L643.8 305.9L644 204.9L644.2 441.6L644.4 172.1L644.6 216.7L644.8 152.5L645 161.3L645.2 95L645.4 199.5L645.6 13L645.7 334.8L645.9 260.4L646.1 258.8L646.3 339.4L646.5 357.9L646.7 422.8L646.9 347.5L647.1 146.8L647.3 171.3L647.5 495L647.7 138.4L647.9 266L648.1 383.3L648.3 351L648.5 310.7L648.7 273L648.9 309.8L649.1 190.7L649.3 257.9L649.5 210.2L649.7 260.5L649.9 275.3L650.1 199.1L650.3 346L650.5 179.3L650.7 262.2L650.8 313.2L651 208.5L651.2 380.9L651.4 352.5L651.6 135.9L651.8 224.6L652 305L652.2 182.3L652.4 276.4L652.6 371.9L652.8 238.5L653 197.2L653.2 283.4L653.4 436.4L653.6 93.8L653.8 337.6L654 495L654.2 330.5L654.4 206.7L654.6 159.8L654.8 163.1L655 158.1L655.2 282.8L655.4 355L655.6 321.2L655.8 283.3L655.9 120.7L656.1 301.5L656.3 300.3L656.5 401.1L656.7 188.4L656.9 363.1L657.1 328.5L657.3 162L657.5 344.4L657.7 254.5L657.9 216.1L658.1 191.2L658.3 16.5L658.5 218L658.7 236.2L658.9 399.6L659.1 297.5L659.3 216.5L659.5 147.7L659.7 187L659.9 292.6L660.1 294.2L660.3 348.4L660.5 387L660.7 204.8L660.9 190.6L661 275.1L661.2 181.4L661.4 221.7L661.6 181.9L661.8 310.7L662 363.8L662.2 305.5L662.4 210.7L662.6 266.2L662.8 268.3L663 397.2L663.2 484.2L663.4 262.3L663.6 110.2L663.8 296.1L664 325.1L664.2 148.5L664.4 210.2L664.6 147.9L664.8 298.2L665 483.8L665.2 164.9L665.4 338.8L665.6 160.1L665.8 255.4L666 206.5L666.2 258L666.3 220.2L666.5 293.3L666.7 325.5L666.9 177.4L667.1 218L667.3 411.9L667.5 286.3L667.7 180.8L667.9 335.8L668.1 225.4L668.3 348.8L668.5 45.3L668.7 190.1L668.9 288.2L669.1 313.3L669.3 217.3L669.5 258.4L669.7 302.5L669.9 221.5L670.1 266.5L670.3 170.9L670.5 273.7L670.7 121.1L670.9 378.2L671.1 319.6L671.3 260.8L671.4 271.5L671.6 193.7L671.8 303.9L672 198.9L672.2 150.8L672.4 146.1L672.6 196.1L672.8 382.3L673 128.8L673.2 205.4L673.4 219.2L673.6 200.2L673.8 192.2L674 386.9L674.2 151.2L674.4 192L674.6 396.5L674.8 139L675 155.7L675.2 106L675.4 204.4L675.6 217.3L675.8 284.8L676 370.9L676.2 215.6L676.4 432.2L676.5 266.1L676.7 109.4L676.9 283L677.1 361.8L677.3 177.9L677.5 209.3L677.7 423.1L677.9 298.5L678.1 300.7L678.3 163L678.5 227L678.7 355.4L678.9 289.7L679.1 330.2L679.3 212.8L679.5 171.4L679.7 295.1L679.9 300.2L680.1 202.6L680.3 305.1L680.5 220.3L680.7 261.3L680.9 274.4L681.1 380.3L681.3 473.3L681.5 329.8L681.6 217.5L681.8 188.1L682 348L682.2 218.8L682.4 288.6L682.6 128.3L682.8 312.5L683 183.8L683.2 326.1L683.4 353.2L683.6 272.7L683.8 277.9L684 267.5L684.2 100.4L684.4 123.4L684.6 339.7L684.8 189.1L685 318.8L685.2 197.2L685.4 71L685.6 340.4L685.8 167L686 292.6L686.2 489.7L686.4 207.7L686.6 271.3L686.8 212.4L686.9 391.5L687.1 291.9L687.3 181.8L687.5 136.2L687.7 191.2L687.9 172.5L688.1 175.1L688.3 112.4L688.5 377.5L688.7 327.8L688.9 87.4L689.1 15.9L689.3 166.8L689.5 186.7L689.7 289.6L689.9 207L690.1 299.7L690.3 192.8L690.5 340.4L690.7 192.3L690.9 226.8L691.1 341L691.3 174.9L691.5 151.9L691.7 346L691.9 172.1L692 407.2L692.2 495L692.4 335.8L692.6 276L692.8 201.6L693 344.2L693.2 192.8L693.4 298.2L693.6 173.4L693.8 173.7L694 357.3L694.2 146L694.4 447.5L694.6 186.8L694.8 388.2L695 312.1L695.2 427.2L695.4 181.5L695.6 291.8L695.8 338.9L696 154.5L696.2 221L696.4 84.8L696.6 441.2L696.8 401L697 375.5L697.1 304.2L697.3 128.6L697.5 157.9L697.7 462.3L697.9 211.8L698.1 342.7L698.3 228.2L698.5 255.9L698.7 394.7L698.9 366.8L699.1 315.7L699.3 495L699.5 419.6L699.7 173.1L699.9 429.9L700.1 268.9L700.3 419.2L700.5 425.4L700.7 211L700.9 258.5L701.1 187.9L701.3 177.3L701.5 290.5L701.7 347.3L701.9 116L702.1 334L702.2 123.9L702.4 246.1L702.6 153.2L702.8 304.5L703 204.1L703.2 177.6L703.4 385L703.6 46.1L703.8 196.4L704 219L704.2 218.5L704.4 167.2L704.6 207.8L704.8 181.6L705 325.2L705.2 459.9L705.4 163L705.6 378.7L705.8 80.9L706 205.1L706.2 320.6L706.4 399.6L706.6 369.3L706.8 327.6L707 379L707.2 366.3L707.4 193.5L707.5 322.6L707.7 428.7L707.9 121.9L708.1 356.5L708.3 339.2L708.5 319.1L708.7 215.8L708.9 110.2L709.1 218.7L709.3 154.1L709.5 143.5L709.7 368.8L709.9 339.7L710.1 230.9L710.3 278.3L710.5 223.5L710.7 495L710.9 361.5L711.1 329.3L711.3 320.8L711.5 182.5L711.7 164.8L711.9 129.3L712.1 166.1L712.3 284.6L712.5 258.9L712.6 206.9L712.8 359.4L713 272.7L713.2 193.1L713.4 303.8L713.6 204.6L713.8 476.5L714 300.9L714.2 280.6L714.4 209.3L714.6 213.8L714.8 261.4L715 351.8L715.2 316.4L715.4 290.4L715.6 152.6L715.8 495L716 279.8L716.2 370.5L716.4 170.2L716.6 309.9L716.8 303.9L717 162.1L717.2 229L717.4 305.9L717.6 379.1L717.7 340.3L717.9 114.2L718.1 223.2L718.3 211.3L718.5 326.6L718.7 288.5L718.9 356.2L719.1 326.3L719.3 410.5L719.5 142.4L719.7 194.5L719.9 163.2L720.1 192.5L720.3 309L720.5 338L720.7 291L720.9 386L721.1 495L721.3 221.4L721.5 448.1L721.7 89.3L721.9 258.8L722.1 170.2L722.3 226.6L722.5 334.8L722.7 407.7L722.8 404.7L723 293.9L723.2 291.2L723.4 296.2L723.6 426.7L723.8 352.3L724 190.6L724.2 494.7L724.4 366.9L724.6 260.1L724.8 182.9L725 180.1L725.2 261.4L725.4 313.6L725.6 350.4L725.8 183.1L726 125.3L726.2 328.3L726.4 213.2L726.6 332.6L726.8 301.1L727 217.2L727.2 339.9L727.4 305.8L727.6 264.5L727.8 193.7L727.9 337.3L728.1 165.2L728.3 321.6L728.5 125.5L728.7 279.4L728.9 273.3L729.1 342.5L729.3 155L729.5 278.6L729.7 268.3L729.9 229.1L730.1 195.1L730.3 282.6L730.5 207.6L730.7 495L730.9 165.3L731.1 314.2L731.3 195L731.5 340.1L731.7 207.3L731.9 298.6L732.1 224.2L732.3 363.1L732.5 401.2L732.7 321.6L732.9 184.8L733.1 202.9L733.2 190.1L733.4 362.7L733.6 210.6L733.8 207.7L734 311.2L734.2 241.1L734.4 236.6L734.6 252.5L734.8 378.4L735 395.4L735.2 313.8L735.4 217.7L735.6 184.9L735.8 212L736 401.8L736.2 357.8L736.4 253.8L736.6 384.9L736.8 174.5L737 246.9L737.2 312.4L737.4 346.9L737.6 361L737.8 416.1L738 199.2L738.2 237.4L738.3 379.1L738.5 423.4L738.7 297.4L738.9 296.9L739.1 259.6L739.3 263.1L739.5 466.1L739.7 396.7L739.9 398L740.1 396.8L740.3 495L740.5 477.1L740.7 276.7L740.9 261.4L741.1 329.7L741.3 383.6L741.5 383.4L741.7 433.6L741.9 187.4L742.1 368.2L742.3 340.3L742.5 366L742.7 473.4L742.9 345.2L743.1 214.9L743.3 317.7L743.4 208.5L743.6 385.4L743.8 321.3L744 379.4L744.2 429.7L744.4 373L744.6 180.4L744.8 167.8L745 459.9L745.2 325.8L745.4 296.7L745.6 323.7L745.8 495L746 394.3L746.2 495L746.4 495L746.6 495L746.8 495L747 330.1L747.2 335.4L747.4 493.1L747.6 228.9L747.8 439L748 495L748.2 222.9L748.4 495L748.5 487.3L748.7 80.8L748.9 311L749.1 388.9L749.3 227.3L749.5 164.1L749.7 163.1L749.9 300.8L750.1 125.2L750.3 495L750.5 495L750.7 196.1L750.9 286.7L751.1 415.9L751.3 257.7L751.5 179.1L751.7 318.2L751.9 170L752.1 365L752.3 383.1L752.5 382.2L752.7 435.9L752.9 355.3L753.1 245.9L753.3 340.1L753.5 249.5L753.7 258.9L753.8 137.7L754 147.8L754.2 150.8L754.4 150L754.6 363.8L754.8 314.3L755 392.1L755.2 339.3L755.4 209L755.6 176.1L755.8 495L756 175.4L756.2 316L756.4 183.3L756.6 261.5L756.8 229.3L757 385.3L757.2 285.5L757.4 407L757.6 277.6L757.8 195.2L758 260.2L758.2 270.9L758.4 456.2L758.6 147.5L758.8 294.4L758.9 300.3L759.1 295.7L759.3 134.5L759.5 115.4L759.7 336.6L759.9 90.4L760.1 235.3L760.3 135.3L760.5 201.7L760.7 210.7L760.9 297.2L761.1 230.7L761.3 166.9L761.5 328.6L761.7 438.7L761.9 341.2L762.1 325.7L762.3 270.8L762.5 263.7L762.7 198.5L762.9 148.3L763.1 277.1L763.3 157.6L763.5 195.9L763.7 212.2L763.9 144.2L764 149.7L764.2 227.5L764.4 134.6L764.6 308.9L764.8 351.4L765 266.6L765.2 186.4L765.4 203.2L765.6 331.8L765.8 370.7L766 191.1L766.2 224L766.4 140.7L766.6 237.6L766.8 178.8L767 223.4L767.2 18L767.4 332.2L767.6 18L767.8 306.3L768 18L768.2 299.9L768.4 18L768.6 293L768.8 18L769 344.3L769.1 18L769.3 326.6L769.5 18L769.7 317.9L769.9 18L770.1 303.4L770.3 18L770.5 294.6L770.7 18L770.9 307.8L771.1 18L771.3 304.2L771.5 18L771.7 306.9L771.9 18L772.1 310.2L772.3 18L772.5 309.4L772.7 18L772.9 323.6L773.1 18L773.3 330.2L773.5 18L773.7 316.2L773.9 218L774.1 344.1L774.3 285.6L774.4 493.8L774.6 405.2L774.8 427.7L775 495L775.2 495L775.4 495L775.6 219.7L775.8 377.1L776 284.4L776.2 333.8L776.4 495L776.6 186L776.8 405.9L777 277.7L777.2 306.8L777.4 346L777.6 44.7L777.8 402.7L778 495L778.2 403.8L778.4 191.9L778.6 222.5L778.8 254.5L779 428.2L779.2 322.6L779.4 185.2L779.5 396.9L779.7 311.5L779.9 350.4L780.1 478.9L780.3 211.1L780.5 320.4L780.7 317.1L780.9 165.3L781.1 495L781.3 495L781.5 495L781.7 163L781.9 384.3L782.1 284.3L782.3 244.3L782.5 325.1L782.7 273.4L782.9 150.5L783.1 280.8L783.3 413.6L783.5 429.1L783.7 385.3L783.9 266.3L784.1 495L784.3 160.6L784.5 480.5L784.6 274.7L784.8 360.5L785 260.9L785.2 215.9L785.4 443L785.6 338.4L785.8 174.5L786 315.5L786.2 332.2L786.4 326.2L786.6 414.4L786.8 291.1L787 207.3L787.2 209.7L787.4 196.1L787.6 280.7L787.8 223.4L788 370.9L788.2 289.5L788.4 364L788.6 147.9L788.8 195.7L789 289.8L789.2 214.6L789.4 301.3L789.6 243.4L789.7 417.1L789.9 495L790.1 399.7L790.3 333.5L790.5 402.2L790.7 134L790.9 343.9L791.1 287.3L791.3 302.6L791.5 186.7L791.7 208.1L791.9 315L792.1 399.5L792.3 341.4L792.5 158.9L792.7 271.8L792.9 495L793.1 188L793.3 202.7L793.5 150.8L793.7 269.2L793.9 130.1L794.1 187.2L794.3 358.1L794.5 267.7L794.7 213L794.9 217L795 278.6L795.2 313L795.4 183.6L795.6 201.2L795.8 342.9L796 345.7L796.2 212.2L796.4 171.2L796.6 220L796.8 372.7L797 179.6L797.2 269.5L797.4 188.3L797.6 222.2L797.8 355.1L798 172.5L798.2 360.3L798.4 215.5L798.6 191.8L798.8 157.5L799 317.2L799.2 266.5L799.4 225L799.6 197.3L799.8 380.1L800 221.9L800.1 293.5L800.3 230.9L800.5 441.8L800.7 201L800.9 186.2L801.1 172.9L801.3 308.5L801.5 429.4L801.7 171.7L801.9 356.6L802.1 262.4L802.3 209.9L802.5 474.7L802.7 367.6L802.9 217.9L803.1 186L803.3 196.4L803.5 367.5L803.7 290.7L803.9 162.3L804.1 206.5L804.3 75.8L804.5 150.9L804.7 265.7L804.9 256.4L805.1 220.9L805.2 217.4L805.4 306.2L805.6 374.1L805.8 332L806 202L806.2 293L806.4 324.3L806.6 220.5L806.8 228.2L807 264.8L807.2 231.6L807.4 129.7L807.6 306.1L807.8 277.2L808 312.7L808.2 194.4L808.4 364.5L808.6 361.8L808.8 292.7L809 228.2L809.2 348.1L809.4 361.3L809.6 94.4L809.8 283.5L810 373.9L810.2 120.1L810.3 149L810.5 201.3L810.7 195L810.9 269.2L811.1 263.6L811.3 311.7L811.5 131.8L811.7 179.8L811.9 351L812.1 189.2L812.3 200.9L812.5 270L812.7 261.1L812.9 288.5L813.1 376L813.3 215L813.5 183.5L813.7 232.2L813.9 312.6L814.1 286.3L814.3 146.8L814.5 403.3L814.7 131.2L814.9 297.9L815.1 138.9L815.3 279.6L815.5 263.6L815.6 259.9L815.8 263.2L816 162.4L816.2 211.2L816.4 284.4L816.6 300L816.8 373.1L817 188.8L817.2 148.3L817.4 468.7L817.6 256.1L817.8 173.6L818 258L818.2 199.2L818.4 91.5L818.6 276.7L818.8 152.6L819 226.1L819.2 263.9L819.4 228.3L819.6 164.4L819.8 366.4L820 371.8L820.2 114.6L820.4 269L820.6 134.1L820.7 259.4L820.9 281L821.1 112.2L821.3 316.2L821.5 223.9L821.7 212.6L821.9 224.5L822.1 112.8L822.3 134.2L822.5 282.4L822.7 163L822.9 205.2L823.1 217.2L823.3 276.5L823.5 161.7L823.7 294.7L823.9 351.6L824.1 229.3L824.3 295.5L824.5 274.5L824.7 257L824.9 287.3L825.1 347.3L825.3 309.2L825.5 202.8L825.7 385.1L825.8 315.4L826 297.4L826.2 337.1L826.4 169.5L826.6 312.9L826.8 195.4L827 149.8L827.2 348.3L827.4 261.2L827.6 360.4L827.8 407.1L828 260.9L828.2 481.1L828.4 176.1L828.6 212.3L828.8 217.2L829 235.5L829.2 278.8L829.4 463.8L829.6 441.3L829.8 461.7L830 292.2L830.2 378.6L830.4 368.5L830.6 199.1L830.8 362.9L830.9 224.4L831.1 377.5L831.3 169.1L831.5 241.9L831.7 188.9L831.9 178.3L832.1 347.5L832.3 269.5L832.5 254L832.7 333.4L832.9 413.8L833.1 310.4L833.3 196.2L833.5 312.6L833.7 318.6L833.9 162.6L834.1 283.2L834.3 311.1L834.5 298.4L834.7 318.4L834.9 259.1L835.1 214.4L835.3 191.2L835.5 255L835.7 261.5L835.9 176.5L836.1 276.2L836.2 352.5L836.4 218.9L836.6 176.7L836.8 137L837 266.6L837.2 184.3L837.4 226.3L837.6 256.3L837.8 201.3L838 326.8L838.2 351.2L838.4 190.5L838.6 176.1L838.8 270.3L839 288.5L839.2 339.9L839.4 230.1L839.6 369.5L839.8 197.4L840 285L840.2 195.8L840.4 190.3L840.6 328.6L840.8 222.7L841 269.7L841.2 295.6L841.3 204.4L841.5 135.9L841.7 81.1L841.9 284.3L842.1 426.7L842.3 294.8L842.5 221.4L842.7 291.9L842.9 195.5L843.1 203.7L843.3 325.4L843.5 320.5L843.7 185.8L843.9 280.2L844.1 326.5L844.3 136.2L844.5 266.5L844.7 305.7L844.9 228L845.1 156.6L845.3 326L845.5 197.6L845.7 203.5L845.9 269.7L846.1 260.8L846.3 372.6L846.4 166.8L846.6 224.4L846.8 200.8L847 268.2L847.2 155.6L847.4 131.1L847.6 190.4L847.8 259.8L848 222.1L848.2 211.4L848.4 192.7L848.6 221.3L848.8 166.1L849 219.4L849.2 280.8L849.4 226.5L849.6 228.1L849.8 256.2L850 194.1L850.2 295.5L850.4 257.4L850.6 330.3L850.8 253.9L851 312.5L851.2 184.4L851.4 365.6L851.5 290.6L851.7 269.8L851.9 334.8L852.1 200.9L852.3 195.3L852.5 224.2L852.7 267.4L852.9 260.5L853.1 168.6L853.3 179.6L853.5 263.2L853.7 276.3L853.9 280.7L854.1 220.4L854.3 223.3L854.5 278.1L854.7 328.6L854.9 193.5L855.1 224.6L855.3 178.8L855.5 322.2L855.7 335.2L855.9 149.8L856.1 202.8L856.3 371.6L856.5 390.4L856.7 208L856.8 294.2L857 294.4L857.2 396.1L857.4 209.7L857.6 319.9L857.8 183.1L858 308L858.2 303.3L858.4 125.4L858.6 96.2L858.8 340.5L859 185.6L859.2 151.2L859.4 75L859.6 274.7L859.8 367.5L860 378.9L860.2 284.6L860.4 209.8L860.6 118.7L860.8 228.5L861 284.8L861.2 160.8L861.4 357.8L861.6 213.4L861.8 198.7L861.9 336.3L862.1 327.5L862.3 161.2L862.5 224.8L862.7 365.9L862.9 202.6L863.1 416L863.3 199L863.5 170.9L863.7 295.6L863.9 192.6L864.1 355.6L864.3 285.9L864.5 352.5L864.7 195.1L864.9 360.8L865.1 461.9L865.3 281.8L865.5 249.7L865.7 367.5L865.9 492.7L866.1 168.8L866.3 201.1L866.5 352.1L866.7 330.1L866.9 243.5L867 182.9L867.2 379.1L867.4 380.4L867.6 418.2L867.8 220.6L868 374.8L868.2 325.6L868.4 338.6L868.6 454.8L868.8 87.1L869 262L869.2 455.5L869.4 464.2L869.6 470L869.8 142.9L870 403L870.2 406.5L870.4 489.3L870.6 432.9L870.8 495L871 495L871.2 495L871.4 495L871.6 199.8L871.8 368L872 323.5L872.1 303.6L872.3 487.8L872.5 495L872.7 482.7L872.9 495L873.1 495L873.3 330.6L873.5 287.9L873.7 495L873.9 495L874.1 275.1L874.3 495L874.5 495L874.7 221.9L874.9 495L875.1 495L875.3 337.5L875.5 273.4L875.7 440.4L875.9 495L876.1 336.3L876.3 411L876.5 142.6L876.7 384.4L876.9 476.6L877.1 425.3L877.3 356.3L877.4 495L877.6 323.3L877.8 403.2L878 286L878.2 400.7L878.4 332.7L878.6 391.8L878.8 495L879 456.7L879.2 472.4L879.4 291.3L879.6 211.6L879.8 321.5L880 372.5L880.2 193.5L880.4 401.5L880.6 286L880.8 302.6L881 170.9L881.2 190.1L881.4 372.7L881.6 286.9L881.8 199.4L882 206.3L882.2 180.5L882.4 332.8L882.5 312.1L882.7 218.2L882.9 220.1L883.1 260.4L883.3 155.2L883.5 151.6L883.7 172.5L883.9 360.1L884.1 180.3L884.3 329.7L884.5 184.8L884.7 111.1L884.9 160.8L885.1 388L885.3 207.4L885.5 229.6L885.7 200.7L885.9 219.1L886.1 180L886.3 283L886.5 262.8L886.7 270.3L886.9 158.8L887.1 189.6L887.3 105.1L887.5 95.2L887.6 202.1L887.8 183.3L888 363L888.2 315.5L888.4 223.2L888.6 174.4L888.8 178.6L889 358.5L889.2 280.8L889.4 296.9L889.6 374.4L889.8 130.1L890 114.7L890.2 459.7L890.4 160.4L890.6 175.7L890.8 61L891 379.8L891.2 440.6L891.4 391L891.6 187.6L891.8 174.3L892 325.4L892.2 205.2L892.4 423.6L892.6 273.8L892.7 322.6L892.9 275.4L893.1 420.4L893.3 336.6L893.5 257.5L893.7 472.6L893.9 158.5L894.1 265.6L894.3 350L894.5 214.3L894.7 137.2L894.9 285.1L895.1 414.4L895.3 282.1L895.5 203.2L895.7 310.5L895.9 166.5L896.1 151.4L896.3 338.3L896.5 412.3L896.7 228.3L896.9 395.5L897.1 228.7L897.3 208.1L897.5 134.9L897.7 127.4L897.9 402.1L898 228.4L898.2 318.9L898.4 162.6L898.6 382.8L898.8 136.4L899 100.4L899.2 278.9L899.4 360L899.6 328.6L899.8 289.2L900 281.8L900.2 320.9L900.4 289.4L900.6 320.3L900.8 273.8L901 175.9L901.2 281.9L901.4 206.1L901.6 220.4L901.8 197.9L902 195.7L902.2 201.5L902.4 214.7L902.6 230.3L902.8 264.6L903 228.8L903.1 152L903.3 409L903.5 299.6L903.7 188.1L903.9 161.7L904.1 154L904.3 202.8L904.5 215L904.7 338.5L904.9 286.4L905.1 265.9L905.3 295.2L905.5 156.8L905.7 302.9L905.9 352L906.1 56.2L906.3 297.2L906.5 150.5L906.7 163L906.9 206.6L907.1 340.5L907.3 380.8L907.5 193.2L907.7 169L907.9 306L908.1 176.9L908.2 466.4L908.4 280.5L908.6 212.1L908.8 227.9L909 192.9L909.2 203.9L909.4 281.8L909.6 259.6L909.8 357.7L910 175.3L910.2 299.2L910.4 200.9L910.6 300.6L910.8 184.8L911 353.8L911.2 141.7L911.4 326L911.6 219L911.8 274.7L912 328.3L912.2 339.7L912.4 363.6L912.6 203.7L912.8 360.8L913 273.4L913.2 379.3L913.3 257.5L913.5 221.7L913.7 332.5L913.9 316L914.1 255L914.3 349.3L914.5 257.1L914.7 244L914.9 345.3L915.1 315L915.3 214.5L915.5 300.7L915.7 255.8L915.9 347.6L916.1 270.4L916.3 227.1L916.5 226.2L916.7 223.5L916.9 260.2L917.1 204L917.3 229.7L917.5 268.5L917.7 206.2L917.9 288.6L918.1 167.4L918.3 320.9L918.5 252.2L918.6 206.7L918.8 308.8L919 312L919.2 215.5L919.4 295.2L919.6 144.9L919.8 338L920 258.7L920.2 217.5L920.4 208.8L920.6 194.6L920.8 300.8L921 170.8L921.2 302.2L921.4 191.1L921.6 327.7L921.8 174.5L922 205.5L922.2 311.3L922.4 267L922.6 315.3L922.8 215.1L923 295.2L923.2 310.5L923.4 284.7L923.6 66.3L923.7 277.2L923.9 270.2L924.1 146.2L924.3 216.8L924.5 178.1L924.7 202.7L924.9 198.2L925.1 311.8L925.3 262L925.5 335L925.7 303.3L925.9 267.2L926.1 325.1L926.3 368.1L926.5 190.1L926.7 340.5L926.9 226.4L927.1 263.7L927.3 171.1L927.5 300L927.7 312.4L927.9 307.9L928.1 170.3L928.3 194L928.5 283.7L928.7 124.9L928.8 303.7L929 230.9L929.2 122.3L929.4 296.6L929.6 305.6L929.8 162.1L930 275.3L930.2 312.8L930.4 300.6L930.6 140.1L930.8 228.2L931 270.3L931.2 269L931.4 142.2L931.6 314.4L931.8 162.5L932 204.3L932.2 332.5L932.4 344.7L932.6 320.4L932.8 294.8L933 308.1L933.2 172.8L933.4 209.2L933.6 270.4L933.8 200.6L933.9 281.2L934.1 68.6L934.3 261.9L934.5 224.7L934.7 133.8L934.9 267.9L935.1 225.2L935.3 186.6L935.5 283.4L935.7 171.5L935.9 268L936.1 388.5L936.3 263.5L936.5 173.4L936.7 299.5L936.9 351.4L937.1 402.7L937.3 425.1L937.5 192.2L937.7 282.2L937.9 339.4L938.1 325.3L938.3 278.1L938.5 287.2L938.7 163.1L938.9 310.2L939 264.1L939.2 380.4L939.4 163.8L939.6 230.1L939.8 125.9L940 189.7L940.2 184.6L940.4 141.9L940.6 200.9L940.8 325.5L941 202.9L941.2 198.6L941.4 137.5L941.6 257.6L941.8 321.6L942 290.5L942.2 305.3L942.4 190.7L942.6 265.1L942.8 326L943 265.7L943.2 225.6L943.4 185.3L943.6 323.6L943.8 133.9L944 395.7L944.2 291.9L944.3 221.6L944.5 223.1L944.7 359.5L944.9 321.6L945.1 264.9L945.3 274.7L945.5 392L945.7 225.5L945.9 203.3L946.1 269.8L946.3 310.2L946.5 392.7L946.7 95.2L946.9 456.5L947.1 220.3L947.3 276.6L947.5 322.8L947.7 137.6L947.9 192.5L948.1 203.3L948.3 275.9L948.5 279.7L948.7 265.1L948.9 319.1L949.1 262.3L949.3 173.8L949.4 224.6L949.6 349.4L949.8 135L950 275.6L950.2 324.1L950.4 282L950.6 143L950.8 231L951 285.6L951.2 152.9L951.4 334L951.6 279.5L951.8 358.6L952 175L952.2 333.7L952.4 214.5L952.6 208.2L952.8 307.8L953 173.3L953.2 383.9L953.4 199.1L953.6 220.4L953.8 157.2L954 116.7L954.2 349L954.4 185.8L954.5 294.1L954.7 202.1L954.9 235.4L955.1 201.3L955.3 240.2L955.5 203.2L955.7 410.3L955.9 218.4L956.1 221.7L956.3 339.6L956.5 233.7L956.7 312L956.9 296.3L957.1 72.8L957.3 366.2L957.5 182.8L957.7 335.4L957.9 450.5L958.1 337.4L958.3 348.4L958.5 324.9L958.7 347L958.9 256.3L959.1 202.1L959.3 282.1L959.5 375.5L959.6 262.9L959.8 254.6L960 259.3L960.2 410.1L960.4 375.7L960.6 94.3L960.8 399.4L961 437.9L961.2 337.8L961.4 237.6L961.6 418L961.8 202.5L962 266.7L962.2 240.5L962.4 295.9L962.6 353.7L962.8 297.8L963 305.2L963.2 300.8L963.4 157.3L963.6 258.1L963.8 191.9L964 278L964.2 206.8L964.4 270.5L964.6 276.3L964.8 124.1L964.9 280.6L965.1 318.9L965.3 144.1L965.5 208L965.7 287.7L965.9 322.5L966.1 152L966.3 163.2L966.5 347.4L966.7 268.9L966.9 298.7L967.1 187.3L967.3 290.6L967.5 339.1L967.7 314.6L967.9 223.6L968.1 303.8L968.3 166.3L968.5 281.5L968.7 276.7L968.9 149.3L969.1 305.1L969.3 351.7L969.5 272.5L969.7 301L969.9 175L970 240.3L970.2 289L970.4 166.4L970.6 185.6L970.8 336.8L971 195.1L971.2 320.2L971.4 237.4L971.6 386.2L971.8 280.8L972 341.2L972.2 270.1L972.4 219L972.6 304.9L972.8 358.4L973 266.2L973.2 321.9L973.4 237.9L973.6 326.9L973.8 273.4L974 320L974.2 299.5L974.4 288.5L974.6 220L974.8 176.1L975 270.9L975.1 235.2L975.3 318.9L975.5 186.4L975.7 263.6L975.9 287.6L976.1 319.9L976.3 379L976.5 233.8L976.7 315.5L976.9 318.6L977.1 280.6L977.3 153.5L977.5 219.5L977.7 213.8L977.9 331.9L978.1 354.5L978.3 299.7L978.5 269.7L978.7 322.2L978.9 309.6L979.1 123.1L979.3 221.9L979.5 291.3L979.7 309.2L979.9 201.5L980.1 277L980.2 212.2L980.4 363.2L980.6 274.6L980.8 202.5L981 228.7L981.2 199.9L981.4 366L981.6 203.3L981.8 309.1L982 333.4L982.2 158L982.4 368.8L982.6 269.8L982.8 207.4L983 311.5L983.2 324.3L983.4 401.5L983.6 277.4L983.8 347.7L984 272.5L984.2 138.5L984.4 179.7L984.6 398.1L984.8 219.3L985 422.8L985.2 336.4L985.4 279.3L985.5 228.8L985.7 225.1L985.9 443.6L986.1 103.7L986.3 185.8L986.5 161.5L986.7 175.8L986.9 181.9L987.1 215.2L987.3 232.7L987.5 495L987.7 189.7L987.9 218.8L988.1 178.8L988.3 165.7L988.5 279.9L988.7 228L988.9 121.2L989.1 319.2L989.3 165.4L989.5 117.4L989.7 184.3L989.9 400.8L990.1 236L990.3 280.7L990.5 304.2L990.6 452L990.8 391.3L991 201.1L991.2 325.7L991.4 231L991.6 305.9L991.8 166.5L992 290.5L992.2 209.6L992.4 323.5L992.6 373.4L992.8 407.4L993 336.4L993.2 175.5L993.4 329L993.6 327.4L993.8 235L994 459.6L994.2 495L994.4 380L994.6 130.8L994.8 229.4L995 240.7L995.2 395.4L995.4 408.8L995.6 203.7L995.7 310.8L995.9 364.9L996.1 251.3L996.3 427.2L996.5 243.2L996.7 155.6L996.9 378.5L997.1 387.7L997.3 470.6L997.5 376.1L997.7 457.4L997.9 189.5L998.1 375L998.3 358.2L998.5 394.3L998.7 462.1L998.9 495L999.1 452.9L999.3 320.2L999.5 495L999.7 495L999.9 327.6L1000.1 495L1000.3 451.7L1000.5 269.5L1000.7 369.2L1000.8 369.9L1001 290.6L1001.2 150.3L1001.4 316.7L1001.6 495L1001.8 465.4L1002 371.3L1002.2 495L1002.4 495L1002.6 495L1002.8 495L1003 495L1003.2 495L1003.4 464.6L1003.6 469.9L1003.8 373.7L1004 495L1004.2 446.8L1004.4 495L1004.6 441.2L1004.8 435.1L1005 495L1005.2 368.6L1005.4 354L1005.6 384.4L1005.8 434.4L1006 374.2L1006.1 171.4L1006.3 393.8L1006.5 386.5L1006.7 289.1L1006.9 318.8L1007.1 385.3L1007.3 324.2L1007.5 427.1L1007.7 304L1007.9 277.3L1008.1 450.9L1008.3 343.5L1008.5 203.9L1008.7 317.9L1008.9 319.3L1009.1 155.7L1009.3 225.1L1009.5 326.2L1009.7 182.9L1009.9 322.9L1010.1 213.6L1010.3 201L1010.5 226.1L1010.7 251L1010.9 312.8L1011.1 419.4L1011.2 194.3L1011.4 202.3L1011.6 180.4L1011.8 232.2L1012 216.4L1012.2 185.5L1012.4 350.7L1012.6 236.6L1012.8 214.5L1013 244.2L1013.2 282.4L1013.4 309.3L1013.6 340.6L1013.8 283.8L1014 196.2L1014.2 366.8L1014.4 198.8L1014.6 224.9L1014.8 211.3L1015 301L1015.2 243.2L1015.4 342L1015.6 250L1015.8 293.7L1016 147.6L1016.2 222.8L1016.3 240.9L1016.5 104.3L1016.7 308.3L1016.9 305.4L1017.1 234.1L1017.3 495L1017.5 493.2L1017.7 493.1L1017.9 226.6L1018.1 448.7L1018.3 452.8L1018.5 479.6L1018.7 475.4L1018.9 332.6L1019.1 495L1019.3 220L1019.5 179.8L1019.7 495L1019.9 495L1020.1 495L1020.3 495L1020.5 495L1020.7 495L1020.9 495L1021.1 473.3L1021.3 333.5L1021.4 381.2L1021.6 495L1021.8 495L1022 495L1022.2 430.5L1022.4 280.6L1022.6 468L1022.8 460.1L1023 389.2L1023.2 309L1023.4 428.4L1023.6 378L1023.8 333.8L1024 425.4"/>
<path class="b" d="M1053.4 239.1L1053.6 217.9L1053.8 310.7L1054 287.5L1054.1 407.5L1054.3 323.7L1054.5 229.3L1054.7 354.7L1054.9 270.4L1055.1 227.4L1055.3 313.3L1055.5 198.4L1055.6 369.8L1055.8 127.8L1056 358.7L1056.2 269.4L1056.4 284.6L1056.6 331.8L1056.8 250.8L1057 289.1L1057.1 265.6L1057.3 212.6L1057.5 270.6L1057.7 322.1L1057.9 330.2L1058.1 363.2L1058.3 271.7L1058.5 337.4L1058.6 264.7L1058.8 363.9L1059 349.5L1059.2 236.8L1059.4 228.5L1059.6 345.4L1059.8 342L1059.9 286.7L1060.1 361.4L1060.3 245.5L1060.5 228L1060.7 250L1060.9 375.9L1061.1 195.5L1061.3 208.8L1061.4 162.4L1061.6 113.4L1061.8 350.4L1062 372L1062.2 220.8L1062.4 336L1062.6 319.4L1062.8 200L1062.9 99.6L1063.1 166.2L1063.3 278.9L1063.5 365.6L1063.7 377.2L1063.9 396.2L1064.1 336L1064.3 349L1064.4 320.4L1064.6 248.4L1064.8 279.4L1065 258.1L1065.2 411.7L1065.4 390.3L1065.6 386.8L1065.7 235.3L1065.9 272.7L1066.1 332.5L1066.3 370.6L1066.5 268.4L1066.7 224.5L1066.9 137.6L1067.1 370.3L1067.2 467L1067.4 217.5L1067.6 362L1067.8 431L1068 389.4L1068.2 377.8L1068.4 234.4L1068.6 361.9L1068.7 481.5L1068.9 102.8L1069.1 197.9L1069.3 430.8L1069.5 340.7L1069.7 469.9L1069.9 335.9L1070.1 159.3L1070.2 331.1L1070.4 164.5L1070.6 244.2L1070.8 373.2L1071 283.5L1071.2 212L1071.4 333.7L1071.5 173.9L1071.7 316.8L1071.9 340.6L1072.1 393.1L1072.3 348.4L1072.5 358.1L1072.7 244.7L1072.9 355.5L1073 363.8L1073.2 404.4L1073.4 238.5L1073.6 217.6L1073.8 284.6L1074 321.5L1074.2 249.9L1074.4 234.1L1074.5 366.4L1074.7 233.4L1074.9 347.3L1075.1 232.6L1075.3 317.6L1075.5 495L1075.7 289L1075.9 285.7L1076 195.7L1076.2 365.7L1076.4 221L1076.6 387.5L1076.8 285.3L1077 345.2L1077.2 273.6L1077.3 243.9L1077.5 161.6L1077.7 339.5L1077.9 224.3L1078.1 371.6L1078.3 285.7L1078.5 285.5L1078.7 330.3L1078.8 495L1079 254.3L1079.2 190L1079.4 336.9L1079.6 323.8L1079.8 110.8L1080 470.3L1080.2 185.5L1080.3 226.3L1080.5 390.7L1080.7 375.3L1080.9 324.6L1081.1 275.7L1081.3 186.7L1081.5 245.6L1081.7 164.1L1081.8 277.5L1082 266.2L1082.2 355.4L1082.4 391.1L1082.6 339.8L1082.8 323.5L1083 458L1083.1 349L1083.3 315L1083.5 372.2L1083.7 229.1L1083.9 338L1084.1 182.6L1084.3 338.4L1084.5 399.3L1084.6 316.6L1084.8 232.2L1085 155L1085.2 450.6L1085.4 146.8L1085.6 354.6L1085.8 370.7L1086 355.4L1086.1 336.9L1086.3 193.4L1086.5 392.7L1086.7 434.2L1086.9 285.5L1087.1 286.7L1087.3 315.3L1087.5 447.1L1087.6 208.6L1087.8 281.5L1088 210.3L1088.2 413.6L1088.4 425.7L1088.6 281.5L1088.8 183.3L1088.9 219.9L1089.1 169.3L1089.3 361.9L1089.5 193.2L1089.7 188L1089.9 246.4L1090.1 383L1090.3 275.7L1090.4 143.7L1090.6 407.2L1090.8 127.3L1091 288.2L1091.2 349.2L1091.4 344.6L1091.6 216.6L1091.8 212.9L1091.9 353.4L1092.1 202.8L1092.3 412.8L1092.5 268.2L1092.7 161L1092.9 393.6L1093.1 329.9L1093.3 249.2L1093.4 323L1093.6 257.6L1093.8 320.8L1094 458.2L1094.2 157.4L1094.4 328.1L1094.6 480.4L1094.7 288.6L1094.9 333.4L1095.1 439.8L1095.3 394.4L1095.5 356.4L1095.7 335.3L1095.9 289.7L1096.1 399.4L1096.2 344.4L1096.4 358.9L1096.6 292.2L1096.8 244.8L1097 332.5L1097.2 376.1L1097.4 359.6L1097.6 188.2L1097.7 366.3L1097.9 236.7L1098.1 466.7L1098.3 223.6L1098.5 367.3L1098.7 242.7L1098.9 323.3L1099.1 348.3L1099.2 289.8L1099.4 324.3L1099.6 275.8L1099.8 481L1100 471.3L1100.2 244.9L1100.4 278.7L1100.5 260.7L1100.7 250.9L1100.9 424.5L1101.1 323.5L1101.3 291.5L1101.5 286.2L1101.7 398.9L1101.9 254.4L1102 227.7L1102.2 199.3L1102.4 212.1L1102.6 321.1L1102.8 254.8L1103 348.8L1103.2 231L1103.4 277.1L1103.5 381.6L1103.7 192L1103.9 336.2L1104.1 246.9L1104.3 417.8L1104.5 346L1104.7 106.4L1104.9 364.6L1105 330.4L1105.2 456.4L1105.4 334.1L1105.6 286.7L1105.8 436.9L1106 254.7L1106.2 331.3L1106.4 287.7L1106.5 271.4L1106.7 339.4L1106.9 294.8L1107.1 333.1L1107.3 374.1L1107.5 494.8L1107.7 261.5L1107.8 259.7L1108 178L1108.2 429.1L1108.4 371.1L1108.6 238.3L1108.8 431L1109 138.4L1109.2 232.1L1109.3 266.8L1109.5 458.8L1109.7 419.8L1109.9 254.8L1110.1 297.3L1110.3 261.5L1110.5 392.3L1110.7 285.5L1110.8 289.9L1111 173.8L1111.2 341.9L1111.4 331.6L1111.6 188.8L1111.8 207.3L1112 329.8L1112.2 364.3L1112.3 375.4L1112.5 434L1112.7 262.6L1112.9 196.7L1113.1 242.3L1113.3 389.3L1113.5 265L1113.6 495L1113.8 215.7L1114 342.6L1114.2 271.9L1114.4 434.9L1114.6 165.8L1114.8 376.7L1115 392.7L1115.1 256.9L1115.3 381.8L1115.5 327.4L1115.7 339L1115.9 286.2L1116.1 293.3L1116.3 363.2L1116.5 373.7L1116.6 357L1116.8 384L1117 259.5L1117.2 274.3L1117.4 412.1L1117.6 365.5L1117.8 145.6L1118 224.8L1118.1 215.7L1118.3 368.7L1118.5 267.6L1118.7 343.4L1118.9 301.2L1119.1 276.4L1119.3 352.8L1119.4 259.5L1119.6 380.5L1119.8 342.1L1120 332.9L1120.2 400.2L1120.4 229.5L1120.6 334.5L1120.8 167.5L1120.9 402.9L1121.1 333.8L1121.3 370.9L1121.5 299L1121.7 384.6L1121.9 335L1122.1 357.6L1122.3 370L1122.4 284.3L1122.6 195.1L1122.8 291.9L1123 216L1123.2 298.2L1123.4 465.2L1123.6 276L1123.8 244.9L1123.9 332L1124.1 397.3L1124.3 365.2L1124.5 368.3L1124.7 345L1124.9 208.1L1125.1 263.5L1125.2 420L1125.4 290.3L1125.6 236.5L1125.8 188.2L1126 222.7L1126.2 222.1L1126.4 286.6L1126.6 333.1L1126.7 349.4L1126.9 284.9L1127.1 232.5L1127.3 415.1L1127.5 423.2L1127.7 324.4L1127.9 251.8L1128.1 288.8L1128.2 322.4L1128.4 408.1L1128.6 295.2L1128.8 264.3L1129 332.1L1129.2 462.6L1129.4 495L1129.6 396.5L1129.7 244L1129.9 350.5L1130.1 143.1L1130.3 325.5L1130.5 295.8L1130.7 204.5L1130.9 286.5L1131 387.2L1131.2 134.3L1131.4 189.1L1131.6 219.6L1131.8 274.8L1132 122.6L1132.2 495L1132.4 338.5L1132.5 208.9L1132.7 342.1L1132.9 282.6L1133.1 299.8L1133.3 377L1133.5 283.3L1133.7 344.9L1133.9 234.7L1134 478.6L1134.2 442.1L1134.4 229.8L1134.6 374.6L1134.8 269.6L1135 245L1135.2 383.1L1135.4 458.3L1135.5 297L1135.7 323L1135.9 392.7L1136.1 286L1136.3 179.3L1136.5 123.2L1136.7 380.4L1136.8 348.4L1137 343.6L1137.2 423.9L1137.4 325.2L1137.6 236.1L1137.8 217.4L1138 468.1L1138.2 399.6L1138.3 328.4L1138.5 333.7L1138.7 336.9L1138.9 442.1L1139.1 198.7L1139.3 216.4L1139.5 326L1139.7 335.7L1139.8 260.6L1140 272.2L1140.2 370.3L1140.4 291.1L1140.6 271.5L1140.8 281L1141 231.2L1141.2 389.5L1141.3 404.9L1141.5 348L1141.7 334.2L1141.9 413.4L1142.1 371.4L1142.3 361.2L1142.5 221.6L1142.6 450.8L1142.8 275.7L1143 255.9L1143.2 451.8L1143.4 258.1L1143.6 191L1143.8 332.5L1144 356.1L1144.1 324.6L1144.3 487.8L1144.5 185.2L1144.7 477.6L1144.9 289.7L1145.1 287.1L1145.3 372.8L1145.5 254.1L1145.6 358.9L1145.8 371.6L1146 365.4L1146.2 327.6L1146.4 468.2L1146.6 433.7L1146.8 268.9L1147 393L1147.1 376.8L1147.3 239.6L1147.5 340.7L1147.7 246.1L1147.9 227.5L1148.1 396.1L1148.3 341.7L1148.4 229.6L1148.6 340.3L1148.8 297.9L1149 395.8L1149.2 223.6L1149.4 334.1L1149.6 210.4L1149.8 300.9L1149.9 409.7L1150.1 208.4L1150.3 248L1150.5 244.8L1150.7 369.4L1150.9 351L1151.1 377.3L1151.3 201L1151.4 281.9L1151.6 214.3L1151.8 359.1L1152 234.6L1152.2 495L1152.4 217.8L1152.6 492.6L1152.8 279L1152.9 253.1L1153.1 338.6L1153.3 396.4L1153.5 250.5L1153.7 358.6L1153.9 364.3L1154.1 340.4L1154.2 299.8L1154.4 327L1154.6 401L1154.8 261.9L1155 394.4L1155.2 297.4L1155.4 448.3L1155.6 408.6L1155.7 460.1L1155.9 394.8L1156.1 274.3L1156.3 323.1L1156.5 374.3L1156.7 248.6L1156.9 339.4L1157.1 427L1157.2 274.6L1157.4 352.6L1157.6 376.4L1157.8 250.3L1158 289.2L1158.2 357.5L1158.4 469.3L1158.6 254L1158.7 292.9L1158.9 301.7L1159.1 250.4L1159.3 326.6L1159.5 185.7L1159.7 281.5L1159.9 270.4L1160 233.8L1160.2 287L1160.4 327.9L1160.6 271.6L1160.8 417L1161 353.2L1161.2 272.7L1161.4 288.8L1161.5 330.8L1161.7 428.1L1161.9 297.4L1162.1 474.5L1162.3 346.1L1162.5 329.9L1162.7 439L1162.9 425L1163 195.1L1163.2 326.9L1163.4 359.9L1163.6 245.5L1163.8 237.4L1164 433.1L1164.2 389.7L1164.4 283L1164.5 251.7L1164.7 294.4L1164.9 286.7L1165.1 259.4L1165.3 206.5L1165.5 279.6L1165.7 334.2L1165.8 261L1166 363.9L1166.2 375L1166.4 260.3L1166.6 215.6L1166.8 278L1167 343.5L1167.2 209.6L1167.3 211.4L1167.5 193.7L1167.7 277.7L1167.9 480.8L1168.1 263.5L1168.3 420.5L1168.5 440.7L1168.7 231.7L1168.8 285.9L1169 325.5L1169.2 298.1L1169.4 286.8L1169.6 212.6L1169.8 203.8L1170 440.8L1170.2 333.5L1170.3 402.3L1170.5 323.5L1170.7 492.2L1170.9 205.7L1171.1 281.6L1171.3 354.9L1171.5 320.7L1171.6 289.7L1171.8 371.4L1172 344.4L1172.2 167.8L1172.4 322.5L1172.6 277.7L1172.8 346.5L1173 107L1173.1 365.3L1173.3 327.2L1173.5 348.4L1173.7 253.9L1173.9 429.5L1174.1 246.4L1174.3 273.7L1174.5 224L1174.6 234.5L1174.8 361.1L1175 175.9L1175.2 343.5L1175.4 373.4L1175.6 296L1175.8 344.2L1176 367.3L1176.1 329.2L1176.3 188.7L1176.5 349.9L1176.7 415.7L1176.9 370.6L1177.1 385.1L1177.3 336L1177.4 410.1L1177.6 191.3L1177.8 242.4L1178 460L1178.2 339.5L1178.4 387.9L1178.6 268.6L1178.8 254.4L1178.9 320.6L1179.1 351.3L1179.3 335.4L1179.5 327.6L1179.7 291.4L1179.9 285.3L1180.1 286.2L1180.3 268.2L1180.4 268.3L1180.6 332.2L1180.8 359.1L1181 277.1L1181.2 232.5L1181.4 376.7L1181.6 286.6L1181.8 220.9L1181.9 405.5L1182.1 363.3L1182.3 295.1L1182.5 293.1L1182.7 269.7L1182.9 277.7L1183.1 242.6L1183.2 265.9L1183.4 383.1L1183.6 360.9L1183.8 195.5L1184 319.9L1184.2 336.3L1184.4 329L1184.6 348.9L1184.7 270.8L1184.9 378.5L1185.1 225.1L1185.3 360.6L1185.5 260.2L1185.7 322.9L1185.9 402.2L1186.1 287.5L1186.2 393.6L1186.4 281.2L1186.6 339.4L1186.8 419.6L1187 293.3L1187.2 301.3L1187.4 384.2L1187.6 295.1L1187.7 268L1187.9 384.3L1188.1 353.4L1188.3 375.6L1188.5 254.8L1188.7 348.4L1188.9 269.6L1189 401L1189.2 345.3L1189.4 413.5L1189.6 343.1L1189.8 279.6L1190 250.1L1190.2 277.9L1190.4 374.4L1190.5 238.9L1190.7 374.1L1190.9 442.5L1191.1 423.3L1191.3 277.2L1191.5 289.6L1191.7 173.4L1191.9 283.4L1192 346L1192.2 341.1L1192.4 269.8L1192.6 293.7L1192.8 401.9L1193 194L1193.2 133.8L1193.4 221L1193.5 195.8L1193.7 212.1L1193.9 279.3L1194.1 296.8L1194.3 233.4L1194.5 194.9L1194.7 278.7L1194.8 277.5L1195 255.8L1195.2 457.6L1195.4 438L1195.6 241.5L1195.8 495L1196 431.5L1196.2 264L1196.3 262.6L1196.5 250.9L1196.7 409.2L1196.9 396.1L1197.1 267.6L1197.3 323.7L1197.5 226.4L1197.7 258.2L1197.8 205.8L1198 356.5L1198.2 187.3L1198.4 345.3L1198.6 495L1198.8 258.6L1199 331.1L1199.2 351.7L1199.3 248.7L1199.5 399.1L1199.7 247.2L1199.9 277.1L1200.1 495L1200.3 337.1L1200.5 190.7L1200.7 212.9L1200.8 495L1201 327.2L1201.2 255.3L1201.4 251.5L1201.6 432.2L1201.8 319.1L1202 412.2L1202.1 139.4L1202.3 495L1202.5 231.4L1202.7 371L1202.9 280.7L1203.1 495L1203.3 338.9L1203.5 379.9L1203.6 198.2L1203.8 235.6L1204 265.7L1204.2 365.9L1204.4 390L1204.6 352.5L1204.8 326.2L1205 275.3L1205.1 203.2L1205.3 409.8L1205.5 435.5L1205.7 351.9L1205.9 273.7L1206.1 292.8L1206.3 359.8L1206.5 434.1L1206.6 232L1206.8 348.1L1207 352.2L1207.2 228.2L1207.4 154.2L1207.6 418.4L1207.8 217L1207.9 345L1208.1 495L1208.3 372.8L1208.5 162L1208.7 480.4L1208.9 365.2L1209.1 360.4L1209.3 279.7L1209.4 206.5L1209.6 237.4L1209.8 198.3L1210 384.9L1210.2 381.3L1210.4 182.8L1210.6 380.3L1210.8 225.9L1210.9 326.5L1211.1 383.7L1211.3 473.2L1211.5 495L1211.7 191.6L1211.9 252.8L1212.1 367.4L1212.3 168.1L1212.4 194.1L1212.6 418.7L1212.8 338L1213 210.8L1213.2 273.4L1213.4 395.1L1213.6 229.9L1213.7 411.4L1213.9 288.6L1214.1 383.7L1214.3 376L1214.5 258L1214.7 378.3L1214.9 405.9L1215.1 358.7L1215.2 184.1L1215.4 273.6L1215.6 288.6L1215.8 367.5L1216 393.6L1216.2 350.4L1216.4 184.6L1216.6 458L1216.7 399.2L1216.9 487.8L1217.1 411L1217.3 475.7L1217.5 264.2L1217.7 381.3L1217.9 222.7L1218.1 292.7L1218.2 352.7L1218.4 260.5L1218.6 157.5L1218.8 284.6L1219 273L1219.2 272.4L1219.4 332.7L1219.5 331L1219.7 261.9L1219.9 245.1L1220.1 267.9L1220.3 150L1220.5 425.2L1220.7 202.5L1220.9 202.4L1221 418.8L1221.2 364.2L1221.4 367.8L1221.6 402.8L1221.8 348.5L1222 361.2L1222.2 336.1L1222.4 461.5L1222.5 372.2L1222.7 381.3L1222.9 214.9L1223.1 279.5L1223.3 119.8L1223.5 471.7L1223.7 252.4L1223.9 267.6L1224 378.9L1224.2 259.8L1224.4 206.1L1224.6 265.2L1224.8 462L1225 280.7L1225.2 282.3L1225.3 426.9L1225.5 226.7L1225.7 181.8L1225.9 107.6L1226.1 184.7L1226.3 265.9L1226.5 363.2L1226.7 224.5L1226.8 208.4L1227 278.3L1227.2 211.2L1227.4 126.9L1227.6 390.7L1227.8 293.4L1228 270.8L1228.2 279.9L1228.3 430.9L1228.5 204.2L1228.7 390.5L1228.9 168.8L1229.1 338.4L1229.3 398.2L1229.5 163.3L1229.7 372.4L1229.8 370.6L1230 329.5L1230.2 461.9L1230.4 357.8L1230.6 232.2L1230.8 211.4L1231 203.2L1231.1 404.6L1231.3 388.3L1231.5 335.6L1231.7 337.2L1231.9 233.1L1232.1 495L1232.3 355.8L1232.5 172.8L1232.6 263.3L1232.8 254L1233 335.6L1233.2 379.5L1233.4 455.2L1233.6 455.4L1233.8 402.2L1234 455.4L1234.1 238.6L1234.3 283.2L1234.5 495L1234.7 142.3L1234.9 235.6L1235.1 271L1235.3 254.7L1235.5 165.3L1235.6 185.7L1235.8 452.1L1236 419.8L1236.2 238.1L1236.4 241.3L1236.6 141.1L1236.8 267.4L1236.9 263.4L1237.1 257.8L1237.3 185L1237.5 234.6L1237.7 495L1237.9 362L1238.1 356.6L1238.3 462.6L1238.4 371.4L1238.6 197.4L1238.8 399.5L1239 283.3L1239.2 434.6L1239.4 271.9L1239.6 188L1239.8 268.5L1239.9 264.6L1240.1 289.1L1240.3 355L1240.5 231.8L1240.7 273.7L1240.9 341.7L1241.1 495L1241.3 356.9L1241.4 166.5L1241.6 292.8L1241.8 236.1L1242 71.5L1242.2 224.5L1242.4 360.1L1242.6 436.2L1242.7 189.2L1242.9 332.3L1243.1 452.2L1243.3 223.7L1243.5 284.7L1243.7 111.8L1243.9 264.1L1244.1 329.5L1244.2 317.8L1244.4 290.3L1244.6 235.4L1244.8 259.1L1245 384L1245.2 374.4L1245.4 228.1L1245.6 176.7L1245.7 241.6L1245.9 292L1246.1 423.6L1246.3 325.4L1246.5 429.2L1246.7 348L1246.9 234.7L1247.1 335.4L1247.2 247.4L1247.4 372.9L1247.6 330.7L1247.8 186.8L1248 425.6L1248.2 335.7L1248.4 215L1248.5 398.9L1248.7 254.3L1248.9 382.7L1249.1 407.4L1249.3 428.6L1249.5 243.3L1249.7 264.2L1249.9 242.3L1250 442.1L1250.2 354.9L1250.4 290.2L1250.6 352.3L1250.8 124.3L1251 362L1251.2 233.2L1251.4 317.7L1251.5 272.3L1251.7 122.1L1251.9 332.9L1252.1 184.5L1252.3 391.4L1252.5 410.2L1252.7 369.8L1252.9 264L1253 325.5L1253.2 382.5L1253.4 217.3L1253.6 280.5L1253.8 199.1L1254 257.4L1254.2 257.9L1254.3 290.9L1254.5 362.8L1254.7 366.1L1254.9 263.6L1255.1 280.7L1255.3 429.6L1255.5 225.5L1255.7 226L1255.8 368.4L1256 192.1L1256.2 350.2L1256.4 389.5L1256.6 367.4L1256.8 182.7L1257 227.4L1257.2 469.4L1257.3 176.1L1257.5 382.1L1257.7 270L1257.9 230.1L1258.1 396.9L1258.3 204.5L1258.5 400.5L1258.7 429.1L1258.8 235.6L1259 243.2L1259.2 249.9L1259.4 320.3L1259.6 328.1L1259.8 424L1260 148.1L1260.1 184.8L1260.3 410.7L1260.5 263.7L1260.7 243.8L1260.9 254L1261.1 220.8L1261.3 347L1261.5 213.8L1261.6 390.1L1261.8 279.2L1262 374.4L1262.2 196.3L1262.4 251.6L1262.6 286.8L1262.8 349.1L1263 427L1263.1 318L1263.3 251.2L1263.5 278.6L1263.7 327.5L1263.9 79.7L1264.1 439.5L1264.3 292.7L1264.5 165.3L1264.6 400.7L1264.8 335L1265 399.4L1265.2 261.5L1265.4 269.4L1265.6 324.8L1265.8 405.3L1265.9 426.2L1266.1 165.5L1266.3 318.9L1266.5 468.6L1266.7 366.1L1266.9 245.9L1267.1 150.9L1267.3 317.6L1267.4 255.1L1267.6 365.3L1267.8 349.2L1268 278L1268.2 422.4L1268.4 360L1268.6 410.1L1268.8 245.8L1268.9 390.4L1269.1 238.2L1269.3 385.5L1269.5 338.8L1269.7 317.1L1269.9 253.6L1270.1 258L1270.3 329.8L1270.4 220.2L1270.6 376.4L1270.8 216.8L1271 475.1L1271.2 406.9L1271.4 355.8L1271.6 269.5L1271.7 335.8L1271.9 316.6L1272.1 351.8L1272.3 330.5L1272.5 272.7L1272.7 379.9L1272.9 262.4L1273.1 414.9L1273.2 273.6L1273.4 376.1L1273.6 287L1273.8 412.6L1274 280.5L1274.2 275.8L1274.4 290.5L1274.6 319.8L1274.7 222.1L1274.9 278.4L1275.1 330.6L1275.3 358.5L1275.5 282.1L1275.7 255.9L1275.9 377.3L1276.1 318.6L1276.2 275.3L1276.4 175.3L1276.6 193.4L1276.8 322.4L1277 329.9L1277.2 261.9L1277.4 292.2L1277.5 259.9L1277.7 334.1L1277.9 170.3L1278.1 259L1278.3 238.2L1278.5 358.3L1278.7 337L1278.9 416.8L1279 272.2L1279.2 345.8L1279.4 351.8L1279.6 409.7L1279.8 251.2L1280 261.6L1280.2 328.5L1280.4 213.4L1280.5 349L1280.7 292.2L1280.9 345L1281.1 272.8L1281.3 393.3L1281.5 268.9L1281.7 356.2L1281.9 180.5L1282 422.3L1282.2 332L1282.4 251.8L1282.6 224.5L1282.8 203.6L1283 272.3L1283.2 248.8L1283.3 238.3L1283.5 352.3L1283.7 251.2L1283.9 341.4L1284.1 248.6L1284.3 423.3L1284.5 377.3L1284.7 347.5L1284.8 347.6L1285 424.3L1285.2 292.6L1285.4 352.2L1285.6 292.3L1285.8 318.7L1286 375.7L1286.2 495L1286.3 368.2L1286.5 402.3L1286.7 265.5L1286.9 467L1287.1 145.1L1287.3 184L1287.5 266.8L1287.7 210.4L1287.8 248.5L1288 254.3L1288.2 100.8L1288.4 206.3L1288.6 247.8L1288.8 250.5L1289 400.3L1289.1 236.2L1289.3 170.3L1289.5 467.5L1289.7 240.2L1289.9 185.9L1290.1 322.4L1290.3 189.6L1290.5 215.4L1290.6 471.2L1290.8 330.6L1291 279.2L1291.2 334.8L1291.4 495L1291.6 269L1291.8 357.4L1292 247.2L1292.1 458.9L1292.3 243.1L1292.5 462.9L1292.7 289L1292.9 286.6L1293.1 155.2L1293.3 174.1L1293.5 177L1293.6 213.8L1293.8 266.9L1294 295.7L1294.2 221.7L1294.4 366.6L1294.6 258.8L1294.8 320.8L1295 266.2L1295.1 327.6L1295.3 180.1L1295.5 170L1295.7 290.3L1295.9 409.6L1296.1 339.7L1296.3 342L1296.4 253.6L1296.6 248.3L1296.8 228.5L1297 430.2L1297.2 443.1L1297.4 426.4L1297.6 192.8L1297.8 408.2L1297.9 423.2L1298.1 249.5L1298.3 320.2L1298.5 366.3L1298.7 297L1298.9 235.9L1299.1 289.8L1299.3 222.8L1299.4 181.3L1299.6 320.1L1299.8 264.1L1300 324.9L1300.2 260.5L1300.4 295.7L1300.6 389.8L1300.8 368.9L1300.9 229.4L1301.1 236.5L1301.3 390.4L1301.5 387.7L1301.7 433.6L1301.9 332.3L1302.1 351.7L1302.2 252L1302.4 350L1302.6 339.5L1302.8 448.3L1303 201.6L1303.2 416.1L1303.4 286.7L1303.6 495L1303.7 332.5L1303.9 200.5L1304.1 248.1L1304.3 208.8L1304.5 405.7L1304.7 358.4L1304.9 232.3L1305.1 320.6L1305.2 296.8L1305.4 459.1L1305.6 328.1L1305.8 290.1L1306 291.3L1306.2 212.7L1306.4 439.5L1306.6 209.1L1306.7 410.2L1306.9 232.8L1307.1 325L1307.3 211L1307.5 213L1307.7 322.9L1307.9 474L1308 325.6L1308.2 223.6L1308.4 367.2L1308.6 238.6L1308.8 298.9L1309 321.2L1309.2 286.1L1309.4 377.7L1309.5 242.1L1309.7 206L1309.9 380.5L1310.1 341.8L1310.3 288.3L1310.5 258.2L1310.7 370.8L1310.9 284.3L1311 273.1L1311.2 255.8L1311.4 240.8L1311.6 334.1L1311.8 350.9L1312 242.5L1312.2 291.9L1312.4 429.5L1312.5 334.6L1312.7 331.8L1312.9 218.8L1313.1 322.6L1313.3 439.8L1313.5 102.5L1313.7 332.1L1313.8 347.8L1314 329.8L1314.2 213.2L1314.4 402.3L1314.6 412.6L1314.8 279.4L1315 258.8L1315.2 275.2L1315.3 372.5L1315.5 363.4L1315.7 338.7L1315.9 363.1L1316.1 399.9L1316.3 490L1316.5 286.9L1316.7 321.1L1316.8 291.3L1317 183.9L1317.2 265.5L1317.4 295.7L1317.6 169.8L1317.8 488.3L1318 372L1318.2 329.6L1318.3 208.8L1318.5 411.2L1318.7 353.9L1318.9 214L1319.1 191L1319.3 441.3L1319.5 495L1319.6 210.6L1319.8 319.4L1320 338.5L1320.2 284.1L1320.4 260.8L1320.6 292.3L1320.8 327.4L1321 196L1321.1 325.7L1321.3 339.3L1321.5 361.4L1321.7 281.6L1321.9 322.1L1322.1 470.3L1322.3 326.4L1322.5 186.1L1322.6 495L1322.8 327L1323 262.6L1323.2 265.8L1323.4 183.3L1323.6 264.4L1323.8 351L1324 342.4L1324.1 338.8L1324.3 329.1L1324.5 473.5L1324.7 254.3L1324.9 230.7L1325.1 286.8L1325.3 354.7L1325.4 266.5L1325.6 321.8L1325.8 215.3L1326 390.9L1326.2 326.6L1326.4 217.5L1326.6 285.1L1326.8 328.1L1326.9 206.4L1327.1 373L1327.3 438.8L1327.5 472.8L1327.7 252.8L1327.9 321.9L1328.1 467.9L1328.3 336.3L1328.4 232.2L1328.6 257.4L1328.8 217.5L1329 404.9L1329.2 264.8L1329.4 233.6L1329.6 267.3L1329.8 342L1329.9 416.9L1330.1 205.5L1330.3 402L1330.5 495L1330.7 229.5L1330.9 339.3L1331.1 345.5L1331.2 217.4L1331.4 298.3L1331.6 248.6L1331.8 375.2L1332 263L1332.2 353.3L1332.4 281.1L1332.6 204.6L1332.7 260.4L1332.9 261.6L1333.1 294.7L1333.3 46.3L1333.5 495L1333.7 252.3L1333.9 322.9L1334.1 380.2L1334.2 482.6L1334.4 334.6L1334.6 265.8L1334.8 271.6L1335 369.8L1335.2 280.9L1335.4 361.9L1335.6 396.6L1335.7 333L1335.9 296.9L1336.1 243.1L1336.3 362.9L1336.5 249.5L1336.7 357.8L1336.9 131.8L1337 333L1337.2 388.7L1337.4 287.1L1337.6 166.2L1337.8 261.1L1338 300.1L1338.2 266.9L1338.4 274L1338.5 386.6L1338.7 258.5L1338.9 365.9L1339.1 403.2L1339.3 239.7L1339.5 421.5L1339.7 236.7L1339.9 468.2L1340 341.6L1340.2 342.8L1340.4 217.2L1340.6 348.2L1340.8 236.6L1341 359.6L1341.2 256.6L1341.4 289.1L1341.5 495L1341.7 292.2L1341.9 345.7L1342.1 341.8L1342.3 392.3L1342.5 378.7L1342.7 331.8L1342.8 420.6L1343 253.4L1343.2 293.3L1343.4 244.6L1343.6 465.9L1343.8 297.9L1344 373.2L1344.2 362.2L1344.3 288.1L1344.5 283.9L1344.7 186.1L1344.9 373.4L1345.1 202.4L1345.3 220.1L1345.5 256.6L1345.7 264.5L1345.8 457L1346 256.7L1346.2 360.1L1346.4 268L1346.6 374.7L1346.8 444.3L1347 222.5L1347.2 325.2L1347.3 302.4L1347.5 295.7L1347.7 412.4L1347.9 330L1348.1 363.4L1348.3 280.9L1348.5 442.9L1348.6 261.7L1348.8 389.7L1349 407.3L1349.2 267L1349.4 209.4L1349.6 193.3L1349.8 302.5L1350 297.2L1350.1 474.5L1350.3 302.9L1350.5 495L1350.7 244L1350.9 230.1L1351.1 282.4L1351.3 220.8L1351.5 407L1351.6 220.6L1351.8 244.2L1352 268L1352.2 119.9L1352.4 378.4L1352.6 419.6L1352.8 369.2L1353 189.8L1353.1 239.4L1353.3 347.7L1353.5 351.1L1353.7 300.6L1353.9 370.8L1354.1 162L1354.3 378L1354.4 330.6L1354.6 406.4L1354.8 333.7L1355 331.2L1355.2 393L1355.4 329.8L1355.6 362L1355.8 371.8L1355.9 290.8L1356.1 286.3L1356.3 464.4L1356.5 223.5L1356.7 417.4L1356.9 355.6L1357.1 183.2L1357.3 237.1L1357.4 292.9L1357.6 476L1357.8 290.7L1358 290.2L1358.2 476.7L1358.4 327.5L1358.6 392.6L1358.8 158.1L1358.9 364.8L1359.1 347.3L1359.3 369.3L1359.5 273.1L1359.7 370.1L1359.9 243.4L1360.1 372.3L1360.2 159L1360.4 495L1360.6 437.5L1360.8 415.6L1361 448.6L1361.2 331.3L1361.4 250L1361.6 368L1361.7 423.3L1361.9 262.4L1362.1 226.4L1362.3 426.6L1362.5 495L1362.7 406.5L1362.9 282.5L1363.1 487.3L1363.2 299.4L1363.4 125.5L1363.6 306.1L1363.8 495L1364 239.9L1364.2 495L1364.4 484.3L1364.6 280.7L1364.7 243.4L1364.9 262.7L1365.1 375.9L1365.3 395.4L1365.5 183.4L1365.7 401.7L1365.9 305L1366 246.2L1366.2 215.1L1366.4 191.4L1366.6 495L1366.8 290L1367 202L1367.2 266.6L1367.4 202.1L1367.5 334.4L1367.7 352.4L1367.9 407L1368.1 361.5L1368.3 228L1368.5 301.2L1368.7 230.9L1368.9 355.9L1369 400.3L1369.2 495L1369.4 344L1369.6 400.8L1369.8 366.3L1370 260.5L1370.2 495L1370.4 295.7L1370.5 248L1370.7 231.5L1370.9 135.6L1371.1 346.2L1371.3 424.2L1371.5 374.2L1371.7 179L1371.8 489.7L1372 381.2L1372.2 269.8L1372.4 474.9L1372.6 182.9L1372.8 448.1L1373 262.6L1373.2 182.6L1373.3 336L1373.5 447.6L1373.7 395.5L1373.9 282.5L1374.1 212L1374.3 375.3L1374.5 399.2L1374.7 464.8L1374.8 424.8L1375 381.6L1375.2 443.3L1375.4 250.8L1375.6 294.9L1375.8 261.4L1376 346.5L1376.2 390.6L1376.3 413.1L1376.5 363L1376.7 271L1376.9 214.5L1377.1 214.7L1377.3 340.3L1377.5 266.9L1377.6 370.3L1377.8 299.4L1378 237.2L1378.2 306.5L1378.4 293.3L1378.6 303.4L1378.8 437.2L1379 365.4L1379.1 200.7L1379.3 239.5L1379.5 254.9L1379.7 495L1379.9 308L1380.1 256.5L1380.3 191.7L1380.5 106.4L1380.6 453.9L1380.8 396.6L1381 332L1381.2 367.3L1381.4 263.7L1381.6 365.7L1381.8 221.7L1382 266.4L1382.1 472.4L1382.3 199.7L1382.5 373.8L1382.7 287.5L1382.9 167L1383.1 432.3L1383.3 299.3L1383.4 280.3L1383.6 249.2L1383.8 243.4L1384 259.2L1384.2 389.5L1384.4 228.5L1384.6 224.7L1384.8 268.4L1384.9 416L1385.1 267.3L1385.3 267.8L1385.5 495L1385.7 273.1L1385.9 269.2L1386.1 275.1L1386.3 373L1386.4 291L1386.6 278.7L1386.8 274.6L1387 413.2L1387.2 432.9L1387.4 269.1L1387.6 381.8L1387.8 337.5L1387.9 416.2L1388.1 284.6L1388.3 302L1388.5 424.5L1388.7 402.4L1388.9 270.1L1389.1 263L1389.3 311.2L1389.4 395L1389.6 273.8L1389.8 306.1L1390 283L1390.2 254L1390.4 227.9L1390.6 387.2L1390.7 249.2L1390.9 382.1L1391.1 170.1L1391.3 350.3L1391.5 215.4L1391.7 353.9L1391.9 441.3L1392.1 381.7L1392.2 312.9L1392.4 257.1L1392.6 270L1392.8 362.6L1393 495L1393.2 298.6L1393.4 281.7L1393.6 392.3L1393.7 313.4L1393.9 353L1394.1 217.1L1394.3 277.1L1394.5 290.8L1394.7 306.6L1394.9 487.1L1395.1 296L1395.2 235.9L1395.4 495L1395.6 307.1L1395.8 306.4L1396 337.6L1396.2 219.5L1396.4 365.4L1396.5 495L1396.7 299.5L1396.9 188.9L1397.1 376.3L1397.3 274.3L1397.5 495L1397.7 364.7L1397.9 318.4L1398 277.3L1398.2 242.4L1398.4 358.1L1398.6 274.3L1398.8 290.3L1399 495L1399.2 259.4L1399.4 289.7L1399.5 386.2L1399.7 438.1L1399.9 312.5L1400.1 387.8L1400.3 409.6L1400.5 347.3L1400.7 255.6L1400.9 286.8L1401 457.5L1401.2 230.4L1401.4 241.6L1401.6 277L1401.8 302.5L1402 382.9L1402.2 340.6L1402.3 289.8L1402.5 382.4L1402.7 495L1402.9 394.4L1403.1 354.9L1403.3 246.3L1403.5 340.7L1403.7 262.5L1403.8 371.8L1404 378.7L1404.2 265.3L1404.4 437L1404.6 353.9L1404.8 313.2L1405 374.1L1405.2 159.5L1405.3 316.5L1405.5 449.2L1405.7 379.7L1405.9 395.5L1406.1 378.2L1406.3 358.8L1406.5 456.1L1406.7 251.9L1406.8 147.2L1407 476.6L1407.2 308L1407.4 226.4L1407.6 362.3L1407.8 119.2L1408 368.3L1408.1 267.9L1408.3 293L1408.5 268.2L1408.7 216.6L1408.9 302L1409.1 315.7L1409.3 365.2L1409.5 289.2L1409.6 312.4L1409.8 342.5L1410 300.1L1410.2 276.7L1410.4 301.4L1410.6 425.1L1410.8 364.6L1411 239.6L1411.1 431.1L1411.3 294.2L1411.5 410L1411.7 373.5L1411.9 375.6L1412.1 368.3L1412.3 452.3L1412.5 314.6L1412.6 301.6L1412.8 140.8L1413 381.3L1413.2 276.6L1413.4 284.3L1413.6 301.2L1413.8 430.9L1413.9 372.5L1414.1 251.6L1414.3 209.4L1414.5 279L1414.7 376.6L1414.9 387.7L1415.1 363.6L1415.3 309.8L1415.4 485.5L1415.6 272.5L1415.8 264.2L1416 232.6L1416.2 443.1L1416.4 352.9L1416.6 311.7L1416.8 271.4L1416.9 144.8L1417.1 488.4L1417.3 218.5L1417.5 386.3L1417.7 416.4L1417.9 352.5L1418.1 348.8L1418.3 257.9L1418.4 274.1L1418.6 264.3L1418.8 288.9L1419 272L1419.2 226.8L1419.4 431.6L1419.6 237.3L1419.7 267.7L1419.9 232.3L1420.1 377.1L1420.3 186L1420.5 219.4L1420.7 456.2L1420.9 217.4L1421.1 281.6L1421.2 434.3L1421.4 200.1L1421.6 383.4L1421.8 446.1L1422 377.2L1422.2 415.7L1422.4 304.7L1422.6 241.4L1422.7 363.4L1422.9 289.4L1423.1 316.2L1423.3 274.6L1423.5 314.3L1423.7 365.5L1423.9 344.9L1424.1 344.6L1424.2 307.8L1424.4 229L1424.6 473.8L1424.8 211.4L1425 371L1425.2 346L1425.4 237.6L1425.5 491.6L1425.7 377.2L1425.9 352.4L1426.1 209.2L1426.3 360.7L1426.5 435.5L1426.7 345.5L1426.9 292.5L1427 273.8L1427.2 405.6L1427.4 302.4L1427.6 360.2L1427.8 244.3L1428 138.9L1428.2 232L1428.4 474.4L1428.5 407.7L1428.7 343.8L1428.9 433.8L1429.1 308.1L1429.3 429.5L1429.5 123.2L1429.7 216.3L1429.9 304.3L1430 207.1L1430.2 308.6L1430.4 372.2L1430.6 391.4L1430.8 349L1431 388.3L1431.2 495L1431.3 247.6L1431.5 359.9L1431.7 402.3L1431.9 306.3L1432.1 494.6L1432.3 216.7L1432.5 285L1432.7 300.4L1432.8 423.1L1433 470L1433.2 447.3L1433.4 286.1L1433.6 495L1433.8 390L1434 245.3L1434.2 231.2L1434.3 270.6L1434.5 464.4L1434.7 275.3L1434.9 382L1435.1 262.5L1435.3 314.8L1435.5 295L1435.7 475.1L1435.8 208.7L1436 263.2L1436.2 363.3L1436.4 355.7"/>
<path class="m" d="M187.4 233.8L189.4 232.6L191.4 231.4L193.4 230.2L195.4 229.1L197.4 228.1L199.4 227.1L201.4 226.2L203.4 225.4L205.4 224.6L207.4 223.9L209.4 223.2L211.4 222.6L213.4 221.9L215.4 221.3L217.4 220.7L219.4 220.1L221.4 219.5L223.4 219.0L225.4 218.5L227.4 218.0L229.4 217.5L231.4 217.1L233.4 216.7L235.4 216.3L237.4 216.0L239.4 215.7L241.4 215.5L243.4 215.3L245.4 215.1L247.4 214.9L249.4 214.7L251.4 214.6L253.4 214.5L255.4 214.4L257.4 214.3L259.4 214.2L261.4 214.2L263.4 214.1L265.4 214.0L267.4 214.0L269.4 214.0L271.4 213.9L273.4 213.9L275.4 213.9L277.4 213.9L279.4 213.9L281.4 213.9L283.4 213.9L285.4 213.9L287.4 213.9L289.4 213.9L291.4 213.9L293.4 213.9L295.4 214.0L297.4 214.0L299.4 214.0L301.4 214.1L303.4 214.1L305.4 214.1L307.4 214.2L309.4 214.2L311.4 214.2L313.4 214.3L315.4 214.3L317.4 214.4L319.4 214.4L321.4 214.4L323.4 214.5L325.4 214.5L327.4 214.5L329.4 214.6L331.4 214.6L333.4 214.6L335.4 214.7L337.4 214.7L339.4 214.8L341.4 214.8L343.4 214.9L345.4 214.9L347.4 215.0L349.4 215.0L351.4 215.1L353.4 215.1L355.4 215.2L357.4 215.3L359.4 215.3L361.4 215.4L363.4 215.4L365.4 215.4L367.4 215.5L369.4 215.5L371.4 215.5L373.4 215.5L375.4 215.5L377.4 215.5L379.4 215.5L381.4 215.5L383.4 215.5L385.4 215.4L387.4 215.4L389.4 215.3L391.4 215.2L393.4 215.1L395.4 215.0L397.4 214.9L399.4 214.8L401.4 214.6L403.4 214.5L405.4 214.4L407.4 214.3L409.4 214.2L411.4 214.0L413.4 213.9L415.4 213.8L417.4 213.7L419.4 213.6L421.4 213.6L423.4 213.5L425.4 213.4L427.4 213.3L429.4 213.2L431.4 213.1L433.4 213.0L435.4 212.9L437.4 212.8L439.4 212.6L441.4 212.5L443.4 212.4L445.4 212.3L447.4 212.1L449.4 212.0L451.4 211.8L453.4 211.7L455.4 211.6L457.4 211.4L459.4 211.3L461.4 211.2L463.4 211.0L465.4 210.9L467.4 210.8L469.4 210.7L471.4 210.6L473.4 210.5L475.4 210.5L477.4 210.4L479.4 210.3L481.4 210.3L483.4 210.2L485.4 210.2L487.4 210.2L489.4 210.1L491.4 210.1L493.4 210.1L495.4 210.1L497.4 210.1L499.4 210.1L501.4 210.1L503.4 210.2L505.4 210.2L507.4 210.3L509.4 210.4L511.4 210.6L513.4 210.8L515.4 211.0L517.4 211.2L519.4 211.4L521.4 211.7L523.4 212.0L525.4 212.3L527.4 212.6L529.4 212.9L531.4 213.2L533.4 213.6L535.4 213.9L537.4 214.3L539.4 214.8L541.4 215.3L543.4 215.8L545.4 216.4L547.4 217.0L549.4 217.6L551.4 218.3L553.4 218.9L555.4 219.6L557.4 220.2L559.4 220.9L561.4 221.6L563.4 222.2L565.4 222.9L567.4 223.6L569.4 224.2L569.8 224.4"/>
<path class="m" d="M188.9 219.6L189.6 216.0L190.3 213.4L191.0 212.1L191.7 211.7L192.4 211.8L193.1 212.2L193.8 212.9L194.5 213.9L195.2 215.0L195.9 215.6L196.6 215.4L197.3 214.5L198.0 213.3L198.7 212.2L199.4 211.2L200.1 210.6L200.8 210.1L201.5 209.8L202.2 209.7L202.9 209.5L203.6 209.2L204.3 208.9L205.0 208.7L205.7 208.5L206.4 208.4L207.1 208.5L207.8 208.7L208.5 209.1L209.2 209.5L209.9 210.2L210.6 211.1L211.3 212.4L212.0 214.1L212.7 216.3L213.4 219.2L214.1 221.6L214.8 222.2L215.5 220.0L216.2 216.5L216.9 213.3L217.6 210.8L218.3 209.2L219.0 208.3L219.7 208.2L220.4 208.7L221.1 209.6L221.8 210.3L222.5 210.5L223.2 210.1L223.9 209.8L224.6 210.2L225.3 211.3L226.0 212.8L226.7 214.1L227.4 214.9L228.1 214.8L228.8 214.1L229.5 213.3L230.2 212.8L230.9 212.5L231.6 212.2L232.3 211.4L233.0 210.4L233.7 209.4L234.4 208.8L235.1 208.6L235.8 208.5L236.5 208.5L237.2 208.2L237.9 207.6L238.6 207.1L239.3 206.7L240.0 206.7L240.7 207.1L241.4 207.8L242.1 208.8L242.8 209.8L243.5 210.6L244.2 211.2L244.9 211.6L245.6 212.3L246.3 213.4L247.0 215.4L247.7 218.4L248.4 220.6L249.1 219.9L249.8 217.1L250.5 214.1L251.2 211.8L251.9 210.6L252.6 210.3L253.3 210.6L254.0 211.1L254.7 211.6L255.4 212.6L256.1 214.4L256.8 216.7L257.5 218.7L258.2 219.9L258.9 220.5L259.6 220.8L260.3 221.1L261.0 222.1L261.7 224.3L262.4 227.8L263.1 232.7L263.8 238.6L264.5 245.3L265.2 252.1L265.9 258.0L266.6 262.2L267.3 264.8L268.0 266.0L268.7 266.2L269.4 265.5L270.1 263.8L270.8 260.4L271.5 255.3L272.2 248.6L272.9 241.4L273.6 235.1L274.3 230.2L275.0 226.5L275.7 223.6L276.4 221.3L277.1 219.4L277.8 217.7L278.5 216.1L279.2 214.6L279.9 213.5L280.6 214.8L281.3 217.6L282.0 219.3L282.7 217.9L283.4 215.7L284.1 215.3L284.8 216.8L285.5 219.8L286.2 223.1L286.9 225.6L287.6 226.8L288.3 226.4L289.0 224.5L289.7 221.5L290.4 217.9L291.1 214.2L291.8 211.0L292.5 208.9L293.2 208.0L293.9 207.7L294.6 207.6L295.3 207.3L296.0 207.1L296.7 206.8L297.4 206.8L298.1 207.0L298.8 207.8L299.5 208.9L300.2 209.9L300.9 209.8L301.6 208.3L302.3 206.1L303.0 204.1L303.7 203.1L304.4 202.6L305.1 202.0L305.8 201.5L306.5 201.6L307.2 202.8L307.9 204.7L308.6 206.9L309.3 209.7L310.0 213.9L310.7 218.1L311.4 218.6L312.1 216.1L312.8 214.7L313.5 215.7L314.2 216.4L314.9 215.3L315.6 213.8L316.3 212.9L317.0 212.7L317.7 213.3L318.4 214.4L319.1 215.7L319.8 216.4L320.5 216.4L321.2 217.5L321.9 221.7L322.6 230.1L323.3 239.6L324.0 248.2L324.7 256.2L325.4 262.1L326.1 264.4L326.8 264.5L327.5 264.1L328.2 263.8L328.9 263.4L329.6 262.9L330.3 262.2L331.0 261.3L331.7 260.3L332.4 259.1L333.1 257.9L333.8 256.7L334.5 255.4L335.2 254.2L335.9 253.3L336.6 252.5L337.3 251.7L338.0 250.4L338.7 248.3L339.4 245.4L340.1 242.1L340.8 239.7L341.5 239.7L342.2 240.8L342.9 240.9L343.6 239.0L344.3 236.1L345.0 233.2L345.7 230.9L346.4 229.0L347.1 227.6L347.8 226.7L348.5 226.4L349.2 226.6L349.9 226.8L350.6 226.8L351.3 226.3L352.0 225.0L352.7 222.9L353.4 220.3L354.1 219.2L354.8 220.2L355.5 221.4L356.2 220.8L356.9 218.4L357.6 216.3L358.3 215.7L359.0 215.0L359.7 212.6L360.4 210.6L361.1 211.6L361.8 215.4L362.5 220.5L363.2 223.9L363.9 223.1L364.6 218.9L365.3 213.2L366.0 209.2L366.7 208.1L367.4 209.8L368.1 212.6L368.8 213.5L369.5 211.9L370.2 209.8L370.9 208.8L371.6 210.8L372.3 214.9L373.0 216.1L373.7 212.2L374.4 208.3L375.1 208.7L375.8 213.9L376.5 221.8L377.2 223.6L377.9 219.6L378.6 217.0L379.3 218.2L380.0 221.1L380.7 227.4L381.4 237.7L382.1 240.7L382.8 251.4L383.5 253.5L384.2 260.2L384.9 263.5L385.6 263.2L386.3 265.2L387.0 265.9L387.7 266.9L388.4 263.1L389.1 258.3L389.8 254.8L390.5 250.5L391.2 245.3L391.9 241.2L392.6 239.4L393.3 238.8L394.0 237.7L394.7 234.7L395.4 229.8L396.1 223.4L396.8 217.1L397.5 212.2L398.2 209.0L398.9 207.3L399.6 206.5L400.3 206.0L401.0 206.1L401.7 208.6L402.4 213.8L403.1 219.0L403.8 221.1L404.5 217.6L405.2 211.9L405.9 210.0L406.6 215.1L407.3 225.3L408.0 232.2L408.7 232.7L409.4 228.3L410.1 219.3L410.8 209.3L411.5 204.5L412.2 203.3L412.9 202.8L413.6 202.1L414.3 201.4L415.0 201.0L415.7 201.3L416.4 202.7L417.1 205.4L417.8 209.3L418.5 211.3L419.2 207.6L419.9 206.9L420.6 214.5L421.3 226.9L422.0 231.1L422.7 220.1L423.4 208.4L424.1 202.1L424.8 200.2L425.5 200.1L426.2 199.9L426.9 199.3L427.6 198.5L428.3 198.3L429.0 200.6L429.7 207.0L430.4 217.2L431.1 224.9L431.8 223.3L432.5 218.1L433.2 214.7L433.9 214.7L434.6 218.7L435.3 226.0L436.0 231.7L436.7 229.6L437.4 223.9L438.1 220.3L438.8 219.8L439.5 221.8L440.2 223.6L440.9 222.6L441.6 220.0L442.3 217.9L443.0 216.0L443.7 212.1L444.4 207.2L445.1 204.0L445.8 203.2L446.5 203.3L447.2 203.8L447.9 205.0L448.6 207.5L449.3 211.8L450.0 217.8L450.7 220.8L451.4 217.6L452.1 214.7L452.8 216.8L453.5 222.9L454.2 229.3L454.9 228.5L455.6 220.9L456.3 212.5L457.0 207.2L457.7 205.9L458.4 205.8L459.1 206.2L459.8 210.2L460.5 219.3L461.2 228.2L461.9 227.7L462.6 223.6L463.3 228.5L464.0 237.0L464.7 241.8L465.4 237.9L466.1 229.2L466.8 225.8L467.5 227.6L468.2 232.8L468.9 240.6L469.6 249.6L470.3 257.0L471.0 260.3L471.7 257.9L472.4 252.1L473.1 245.3L473.8 238.0L474.5 230.5L475.2 223.9L475.9 219.6L476.6 216.7L477.3 214.3L478.0 214.1L478.7 218.4L479.4 226.7L480.1 234.3L480.8 232.2L481.5 223.6L482.2 217.5L482.9 215.6L483.6 217.6L484.3 221.6L485.0 225.3L485.7 226.7L486.4 226.5L487.1 229.7L487.8 238.1L488.5 247.7L489.2 255.1L489.9 258.8L490.6 258.4L491.3 255.3L492.0 250.7L492.7 245.4L493.4 239.5L494.1 234.1L494.8 230.0L495.5 228.1L496.2 228.5L496.9 229.4L497.6 228.5L498.3 226.5L499.0 225.9L499.7 228.1L500.4 232.4L501.1 237.3L501.8 242.7L502.5 248.4L503.2 254.1L503.9 259.0L504.6 262.6L505.3 265.0L506.0 266.2L506.7 266.5L507.4 266.5L508.1 266.1L508.8 265.1L509.5 263.1L510.2 259.8L510.9 255.4L511.6 250.2L512.3 244.8L513.0 239.9L513.7 235.6L514.4 231.5L515.1 227.2L515.8 223.0L516.5 219.8L517.2 220.6L517.9 228.4L518.6 237.1L519.3 235.7L520.0 226.4L520.7 218.7L521.4 215.1L522.1 214.8L522.8 215.4L523.5 218.0L524.2 225.2L524.9 235.2L525.6 243.8L526.3 248.3L527.0 246.4L527.7 239.3L528.4 230.7L529.1 223.6L529.8 220.8L530.5 222.0L531.2 223.6L531.9 222.9L532.6 222.1L533.3 224.4L534.0 229.6L534.7 236.6L535.4 242.9L536.1 245.8L536.8 244.3L537.5 240.1L538.2 235.1L538.9 230.5L539.6 226.8L540.3 224.6L541.0 224.8L541.7 227.8L542.4 231.6L543.1 233.6L543.8 233.2L544.5 230.8L545.2 227.3L545.9 223.6L546.6 221.1L547.3 222.7L548.0 229.3L548.7 233.8L549.4 230.5L550.1 222.5L550.8 215.2L551.5 214.1L552.2 219.8L552.9 224.2L553.6 223.1L554.3 217.7L555.0 214.1L555.7 214.3L556.4 217.4L557.1 222.1L557.8 227.2L558.5 232.0L559.2 235.9L559.9 239.3L560.6 242.3L561.3 244.0L562.0 242.0L562.7 234.2L563.4 223.2L564.1 221.9L564.8 229.9L565.5 238.2L566.2 233.5L566.9 223.3L567.6 225.5L568.3 225.1L569.0 222.8L569.7 226.1L569.8 226.5"/>
<path class="m" d="M641.3 209.1L643.3 209.4L645.3 209.6L647.3 209.8L649.3 210.0L651.3 210.1L653.3 210.2L655.3 210.3L657.3 210.2L659.3 210.1L661.3 209.9L663.3 209.7L665.3 209.4L667.3 209.1L669.3 208.8L671.3 208.5L673.3 208.1L675.3 207.8L677.3 207.4L679.3 207.1L681.3 206.7L683.3 206.3L685.3 206.0L687.3 205.6L689.3 205.2L691.3 204.8L693.3 204.4L695.3 204.0L697.3 203.6L699.3 203.2L701.3 202.7L703.3 202.3L705.3 201.8L707.3 201.4L709.3 200.9L711.3 200.5L713.3 200.0L715.3 199.6L717.3 199.2L719.3 198.7L721.3 198.3L723.3 197.8L725.3 197.4L727.3 197.0L729.3 196.6L731.3 196.2L733.3 195.8L735.3 195.4L737.3 195.0L739.3 194.7L741.3 194.3L743.3 194.0L745.3 193.6L747.3 193.3L749.3 193.0L751.3 192.7L753.3 192.5L755.3 192.2L757.3 192.0L759.3 191.8L761.3 191.5L763.3 191.3L765.3 191.1L767.3 191.0L769.3 190.8L771.3 190.6L773.3 190.5L775.3 190.3L777.3 190.2L779.3 190.1L781.3 189.9L783.3 189.8L785.3 189.7L787.3 189.7L789.3 189.6L791.3 189.5L793.3 189.5L795.3 189.5L797.3 189.5L799.3 189.5L801.3 189.6L803.3 189.7L805.3 189.7L807.3 189.8L809.3 190.0L811.3 190.1L813.3 190.2L815.3 190.4L817.3 190.6L819.3 190.8L821.3 191.0L823.3 191.2L825.3 191.4L827.3 191.7L829.3 191.9L831.3 192.2L833.3 192.5L835.3 192.8L837.3 193.2L839.3 193.6L841.3 193.9L843.3 194.4L845.3 194.8L847.3 195.2L849.3 195.7L851.3 196.2L853.3 196.6L855.3 197.1L857.3 197.6L859.3 198.1L861.3 198.6L863.3 199.1L865.3 199.6L867.3 200.1L869.3 200.6L871.3 201.1L873.3 201.5L875.3 202.0L877.3 202.4L879.3 202.9L881.3 203.3L883.3 203.8L885.3 204.2L887.3 204.6L889.3 205.0L891.3 205.4L893.3 205.8L895.3 206.2L897.3 206.6L899.3 206.9L901.3 207.3L903.3 207.6L905.3 207.9L907.3 208.3L909.3 208.6L911.3 208.9L913.3 209.2L915.3 209.5L917.3 209.7L919.3 210.0L921.3 210.2L923.3 210.5L925.3 210.7L927.3 210.9L929.3 211.1L931.3 211.3L933.3 211.4L935.3 211.5L937.3 211.6L939.3 211.7L941.3 211.7L943.3 211.7L945.3 211.6L947.3 211.6L949.3 211.4L951.3 211.3L953.3 211.1L955.3 210.9L957.3 210.6L959.3 210.3L961.3 210.0L963.3 209.6L965.3 209.1L967.3 208.6L969.3 208.1L971.3 207.5L973.3 206.8L975.3 206.0L977.3 205.1L979.3 204.2L981.3 203.2L983.3 202.0L985.3 200.8L987.3 199.5L989.3 198.1L991.3 196.6L993.3 194.9L995.3 193.2L997.3 191.5L999.3 189.7L1001.3 187.8L1002.2 186.9"/>
<path class="m" d="M642.1 204.0L644.1 204.3L646.1 204.7L648.1 205.0L650.1 205.4L652.1 205.7L654.1 206.0L656.1 206.4L658.1 206.7L660.1 207.0L662.1 207.4L664.1 207.7L666.1 208.0L668.1 208.3L670.1 208.5L672.1 208.8L674.1 209.0L676.1 209.2L678.1 209.4L680.1 209.6L682.1 209.7L684.1 209.9L686.1 210.0L688.1 210.1L690.1 210.3L692.1 210.4L694.1 210.5L696.1 210.6L698.1 210.7L700.1 210.8L702.1 210.9L704.1 211.0L706.1 211.0L708.1 211.1L710.1 211.2L712.1 211.3L714.1 211.4L716.1 211.4L718.1 211.5L720.1 211.6L722.1 211.6L724.1 211.7L726.1 211.7L728.1 211.8L730.1 211.8L732.1 211.9L734.1 211.9L736.1 211.9L738.1 212.0L740.1 212.0L742.1 212.0L744.1 212.0L746.1 212.0L748.1 212.0L750.1 212.0L752.1 212.0L754.1 211.9L756.1 211.9L758.1 211.8L760.1 211.8L762.1 211.7L764.1 211.7L766.1 211.6L768.1 211.5L770.1 211.5L772.1 211.4L774.1 211.3L776.1 211.3L778.1 211.2L780.1 211.1L782.1 211.1L784.1 211.0L786.1 210.9L788.1 210.9L790.1 210.8L792.1 210.7L794.1 210.7L796.1 210.6L798.1 210.6L800.1 210.5L802.1 210.4L804.1 210.4L806.1 210.3L808.1 210.3L810.1 210.2L812.1 210.2L814.1 210.1L816.1 210.0L818.1 210.0L820.1 209.9L822.1 209.8L824.1 209.8L826.1 209.7L828.1 209.7L830.1 209.6L832.1 209.5L834.1 209.5L836.1 209.4L838.1 209.4L840.1 209.3L842.1 209.3L844.1 209.2L846.1 209.2L848.1 209.1L850.1 209.1L852.1 209.1L854.1 209.0L856.1 209.0L858.1 208.9L860.1 208.9L862.1 208.9L864.1 208.9L866.1 208.8L868.1 208.8L870.1 208.8L872.1 208.8L874.1 208.8L876.1 208.7L878.1 208.7L880.1 208.7L882.1 208.7L884.1 208.7L886.1 208.7L888.1 208.8L890.1 208.8L892.1 208.8L894.1 208.8L896.1 208.9L898.1 208.9L900.1 209.0L902.1 209.0L904.1 209.1L906.1 209.1L908.1 209.2L910.1 209.3L912.1 209.4L914.1 209.5L916.1 209.6L918.1 209.8L920.1 209.9L922.1 210.1L924.1 210.2L926.1 210.4L928.1 210.6L930.1 210.8L932.1 211.0L934.1 211.2L936.1 211.5L938.1 211.7L940.1 212.0L942.1 212.3L944.1 212.6L946.1 212.9L948.1 213.3L950.1 213.6L952.1 213.9L954.1 214.3L956.1 214.7L958.1 215.1L960.1 215.5L962.1 215.9L964.1 216.3L966.1 216.7L968.1 217.2L970.1 217.6L972.1 218.0L974.1 218.5L976.1 218.9L978.1 219.3L980.1 219.8L982.1 220.2L984.1 220.6L986.1 221.1L988.1 221.5L990.1 221.9L992.1 222.3L994.1 222.8L996.1 223.2L998.1 223.6L1000.1 224.0L1002.1 224.4L1002.2 224.5"/>
<path class="m" d="M1072.7 194.8L1074.7 194.3L1076.7 193.8L1078.7 193.3L1080.7 192.9L1082.7 192.4L1084.7 191.9L1086.7 191.4L1088.7 191.0L1090.7 190.5L1092.7 190.0L1094.7 189.6L1096.7 189.1L1098.7 188.7L1100.7 188.3L1102.7 187.8L1104.7 187.4L1106.7 187.0L1108.7 186.6L1110.7 186.2L1112.7 185.8L1114.7 185.4L1116.7 185.0L1118.7 184.6L1120.7 184.3L1122.7 183.9L1124.7 183.5L1126.7 183.2L1128.7 182.8L1130.7 182.5L1132.7 182.1L1134.7 181.8L1136.7 181.5L1138.7 181.2L1140.7 180.8L1142.7 180.6L1144.7 180.3L1146.7 180.0L1148.7 179.7L1150.7 179.5L1152.7 179.3L1154.7 179.1L1156.7 178.9L1158.7 178.7L1160.7 178.5L1162.7 178.4L1164.7 178.2L1166.7 178.1L1168.7 178.0L1170.7 177.9L1172.7 177.8L1174.7 177.7L1176.7 177.6L1178.7 177.6L1180.7 177.5L1182.7 177.4L1184.7 177.4L1186.7 177.4L1188.7 177.3L1190.7 177.3L1192.7 177.3L1194.7 177.3L1196.7 177.3L1198.7 177.3L1200.7 177.4L1202.7 177.4L1204.7 177.5L1206.7 177.5L1208.7 177.6L1210.7 177.7L1212.7 177.8L1214.7 178.0L1216.7 178.1L1218.7 178.3L1220.7 178.5L1222.7 178.7L1224.7 178.9L1226.7 179.1L1228.7 179.4L1230.7 179.6L1232.7 179.9L1234.7 180.2L1236.7 180.6L1238.7 180.9L1240.7 181.3L1242.7 181.7L1244.7 182.0L1246.7 182.4L1248.7 182.8L1250.7 183.2L1252.7 183.6L1254.7 184.0L1256.7 184.4L1258.7 184.8L1260.7 185.2L1262.7 185.6L1264.7 186.0L1266.7 186.4L1268.7 186.7L1270.7 187.1L1272.7 187.4L1274.7 187.7L1276.7 188.1L1278.7 188.4L1280.7 188.7L1282.7 189.1L1284.7 189.4L1286.7 189.7L1288.7 190.0L1290.7 190.3L1292.7 190.7L1294.7 191.0L1296.7 191.3L1298.7 191.6L1300.7 191.9L1302.7 192.2L1304.7 192.5L1306.7 192.8L1308.7 193.1L1310.7 193.3L1312.7 193.6L1314.7 193.8L1316.7 194.0L1318.7 194.2L1320.7 194.4L1322.7 194.6L1324.7 194.8L1326.7 194.9L1328.7 195.0L1330.7 195.1L1332.7 195.2L1334.7 195.3L1336.7 195.3L1338.7 195.3L1340.7 195.4L1342.7 195.4L1344.7 195.3L1346.7 195.3L1348.7 195.2L1350.7 195.1L1352.7 195.0L1354.7 194.8L1356.7 194.6L1358.7 194.3L1360.7 194.0L1362.7 193.7L1364.7 193.2L1366.7 192.8L1368.7 192.2L1370.7 191.7L1372.7 191.0L1374.7 190.4L1376.7 189.7L1378.7 188.9L1380.7 188.1L1382.7 187.3L1384.7 186.4L1386.7 185.5L1388.7 184.5L1390.7 183.4L1392.7 182.2L1394.7 181.0L1396.7 179.6L1398.7 178.2L1400.7 176.7L1402.7 175.1L1404.7 173.5L1406.7 171.8L1408.7 170.1L1410.7 168.4L1412.3 166.9"/>
<path class="m" d="M1073.5 245.7L1075.5 246.5L1077.5 247.3L1079.5 248.1L1081.5 248.9L1083.5 249.6L1085.5 250.3L1087.5 251.0L1089.5 251.7L1091.5 252.3L1093.5 252.9L1095.5 253.4L1097.5 253.9L1099.5 254.4L1101.5 254.8L1103.5 255.2L1105.5 255.6L1107.5 255.9L1109.5 256.2L1111.5 256.5L1113.5 256.8L1115.5 257.1L1117.5 257.4L1119.5 257.6L1121.5 257.8L1123.5 258.0L1125.5 258.2L1127.5 258.4L1129.5 258.5L1131.5 258.6L1133.5 258.7L1135.5 258.8L1137.5 258.9L1139.5 258.9L1141.5 258.9L1143.5 258.9L1145.5 258.9L1147.5 258.9L1149.5 258.8L1151.5 258.8L1153.5 258.7L1155.5 258.6L1157.5 258.5L1159.5 258.5L1161.5 258.3L1163.5 258.2L1165.5 258.1L1167.5 258.0L1169.5 257.9L1171.5 257.7L1173.5 257.6L1175.5 257.4L1177.5 257.3L1179.5 257.1L1181.5 257.0L1183.5 256.8L1185.5 256.7L1187.5 256.5L1189.5 256.3L1191.5 256.2L1193.5 256.0L1195.5 255.8L1197.5 255.7L1199.5 255.5L1201.5 255.3L1203.5 255.2L1205.5 255.0L1207.5 254.9L1209.5 254.7L1211.5 254.5L1213.5 254.4L1215.5 254.2L1217.5 254.1L1219.5 254.0L1221.5 253.8L1223.5 253.7L1225.5 253.5L1227.5 253.4L1229.5 253.3L1231.5 253.2L1233.5 253.1L1235.5 252.9L1237.5 252.8L1239.5 252.7L1241.5 252.6L1243.5 252.5L1245.5 252.5L1247.5 252.4L1249.5 252.3L1251.5 252.2L1253.5 252.2L1255.5 252.1L1257.5 252.1L1259.5 252.0L1261.5 252.0L1263.5 251.9L1265.5 251.9L1267.5 251.9L1269.5 251.9L1271.5 251.9L1273.5 252.0L1275.5 252.0L1277.5 252.0L1279.5 252.1L1281.5 252.1L1283.5 252.2L1285.5 252.3L1287.5 252.4L1289.5 252.5L1291.5 252.6L1293.5 252.7L1295.5 252.8L1297.5 252.9L1299.5 253.1L1301.5 253.3L1303.5 253.4L1305.5 253.6L1307.5 253.8L1309.5 254.1L1311.5 254.3L1313.5 254.6L1315.5 254.9L1317.5 255.2L1319.5 255.5L1321.5 255.8L1323.5 256.1L1325.5 256.5L1327.5 256.9L1329.5 257.3L1331.5 257.6L1333.5 258.0L1335.5 258.5L1337.5 258.9L1339.5 259.3L1341.5 259.7L1343.5 260.1L1345.5 260.6L1347.5 261.0L1349.5 261.5L1351.5 261.9L1353.5 262.4L1355.5 262.9L1357.5 263.4L1359.5 263.9L1361.5 264.4L1363.5 264.9L1365.5 265.4L1367.5 266.0L1369.5 266.5L1371.5 267.1L1373.5 267.6L1375.5 268.2L1377.5 268.8L1379.5 269.4L1381.5 270.0L1383.5 270.6L1385.5 271.2L1387.5 271.8L1389.5 272.5L1391.5 273.1L1393.5 273.8L1395.5 274.4L1397.5 275.1L1399.5 275.7L1401.5 276.4L1402.4 276.6"/>
</g>
<g clip-path="url(#cr)" stroke-width="1.5">
<path class="a" d="M188.5 504.6L188.7 525.1L188.9 513.5L189.1 520.5L189.3 514.6L189.5 515.7L189.7 525.6L189.9 515.1L190.2 510.1L190.4 522.7L190.6 524.2L190.8 506.6L191 507.8L191.2 527.1L191.4 522L191.6 523.5L191.8 517.4L192 517.9L192.2 504.5L192.4 508.8L192.6 513L192.8 519.9L193.1 509.2L193.3 521.4L193.5 513.6L193.7 517.5L193.9 511.6L194.1 514.2L194.3 519.5L194.5 518L194.7 514.2L194.9 511L195.1 518.6L195.3 512.2L195.5 512.6L195.7 517.3L196 530L196.2 514L196.4 524.7L196.6 527.8L196.8 515.1L197 515.9L197.2 528.8L197.4 524.5L197.6 511.6L197.8 518.3L198 525.4L198.2 511.7L198.4 512L198.6 505L198.9 530L199.1 518L199.3 508.8L199.5 515.1L199.7 514.4L199.9 511L200.1 509.8L200.3 523.8L200.5 524.3L200.7 533.7L200.9 512.4L201.1 520.6L201.3 515L201.5 515.2L201.8 513.1L202 510.9L202.2 502.6L202.4 515.3L202.6 504.4L202.8 518.6L203 512.6L203.2 534.1L203.4 514.6L203.6 509.3L203.8 515L204 518.7L204.2 510.7L204.4 517.6L204.7 499.8L204.9 529L205.1 521.4L205.3 506.1L205.5 530.1L205.7 512.2L205.9 523.2L206.1 523L206.3 520L206.5 531.8L206.7 533.3L206.9 513.5L207.1 509.6L207.3 506L207.6 514.7L207.8 515.9L208 511.9L208.2 522.6L208.4 515.2L208.6 508L208.8 513.6L209 514.2L209.2 519.7L209.4 513L209.6 514.3L209.8 523.9L210 513.9L210.2 518.3L210.5 524.3L210.7 519.4L210.9 507.8L211.1 518.6L211.3 511.3L211.5 508.2L211.7 504.1L211.9 510.3L212.1 499.7L212.3 503.6L212.5 517.9L212.7 515.5L212.9 507.4L213.1 519.6L213.4 505.1L213.6 520.2L213.8 518.9L214 507L214.2 524.8L214.4 522L214.6 503.7L214.8 516.8L215 516.6L215.2 509.6L215.4 523.3L215.6 512.8L215.8 522.2L216 531.2L216.3 519.8L216.5 522.7L216.7 530L216.9 534L217.1 532.2L217.3 528.2L217.5 521.8L217.7 518.2L217.9 512.9L218.1 519.8L218.3 515.3L218.5 519.6L218.7 522.5L218.9 519.6L219.2 509.5L219.4 510.3L219.6 526.7L219.8 510.6L220 522.2L220.2 520.2L220.4 525.2L220.6 513.2L220.8 528L221 505.9L221.2 506.8L221.4 506.5L221.6 523.7L221.8 512.8L222.1 525.9L222.3 509.6L222.5 518.2L222.7 514.7L222.9 514.5L223.1 510.8L223.3 512.5L223.5 519.7L223.7 525.1L223.9 527.2L224.1 507.8L224.3 519.1L224.5 516.1L224.7 503.9L225 520.4L225.2 515.2L225.4 513.2L225.6 516.6L225.8 516.6L226 518L226.2 522.7L226.4 512.4L226.6 524L226.8 521.4L227 525L227.2 519.8L227.4 518.9L227.6 518.9L227.9 523.6L228.1 527.2L228.3 505.7L228.5 507.6L228.7 503.6L228.9 516.4L229.1 514.6L229.3 511.8L229.5 519.5L229.7 514.3L229.9 514.7L230.1 507.9L230.3 520.3L230.5 529.7L230.8 500.4L231 521.2L231.2 523.1L231.4 525.7L231.6 506.1L231.8 525.8L232 514.8L232.2 520.7L232.4 515.8L232.6 506.8L232.8 504.8L233 524.3L233.2 511.7L233.4 517.1L233.7 510.7L233.9 513.6L234.1 519.6L234.3 515.6L234.5 519L234.7 525.5L234.9 518.9L235.1 530.1L235.3 520.1L235.5 514.9L235.7 509.5L235.9 509.8L236.1 519.1L236.3 517.5L236.6 510.6L236.8 526.3L237 513.8L237.2 526.4L237.4 514.9L237.6 518.4L237.8 510.9L238 502.7L238.2 515.7L238.4 516.5L238.6 518.6L238.8 529.4L239 532L239.2 520.7L239.5 517L239.7 516.3L239.9 513.7L240.1 511.1L240.3 518.6L240.5 517.8L240.7 516.9L240.9 527.1L241.1 512.7L241.3 519.1L241.5 513.1L241.7 522.4L241.9 512.3L242.1 524.4L242.4 519.8L242.6 539.1L242.8 514.5L243 521L243.2 510.2L243.4 508.1L243.6 507.9L243.8 514.7L244 521.9L244.2 519.3L244.4 508.5L244.6 509.7L244.8 514.3L245 510L245.3 518.7L245.5 520.4L245.7 514.9L245.9 510.5L246.1 518.4L246.3 511.4L246.5 511.6L246.7 516L246.9 514.3L247.1 527.6L247.3 512.6L247.5 514.9L247.7 503.5L247.9 521.3L248.2 525.3L248.4 512.2L248.6 517.9L248.8 519.3L249 515L249.2 519L249.4 520.5L249.6 514.9L249.8 503.5L250 512.1L250.2 512L250.4 514.3L250.6 505.7L250.8 504.3L251.1 519.9L251.3 520.5L251.5 508.5L251.7 512.8L251.9 512.2L252.1 515L252.3 515.8L252.5 509.4L252.7 522.1L252.9 510.9L253.1 517.5L253.3 519.8L253.5 508.4L253.7 519.8L254 516L254.2 517.7L254.4 512.9L254.6 516.1L254.8 502.3L255 508.4L255.2 511.2L255.4 509.2L255.6 516.4L255.8 514.2L256 522.1L256.2 524.8L256.4 508.7L256.6 523.4L256.9 513.9L257.1 520.2L257.3 501.1L257.5 520.4L257.7 539.9L257.9 519.4L258.1 518.8L258.3 517.8L258.5 517.6L258.7 513.9L258.9 512.4L259.1 514.3L259.3 512.3L259.5 510L259.8 510.7L260 508.3L260.2 511L260.4 520.2L260.6 511L260.8 521.5L261 527.6L261.2 522.8L261.4 512.5L261.6 522.3L261.8 518.1L262 504.9L262.2 513.6L262.4 513.8L262.7 514.2L262.9 518.8L263.1 509.1L263.3 511.2L263.5 531.1L263.7 524L263.9 514L264.1 507.6L264.3 504.2L264.5 529.8L264.7 516.5L264.9 506.5L265.1 504.9L265.3 513.4L265.5 518.3L265.8 517.5L266 515.2L266.2 507.5L266.4 512L266.6 511.7L266.8 516L267 521.1L267.2 524.3L267.4 512.8L267.6 523.8L267.8 511.5L268 499.6L268.2 517.4L268.4 513.3L268.7 500.1L268.9 519.2L269.1 519L269.3 522.2L269.5 516.8L269.7 515.9L269.9 515.2L270.1 516.7L270.3 516L270.5 515.9L270.7 523.6L270.9 522.8L271.1 507.3L271.3 505.2L271.6 534.1L271.8 521.6L272 515.1L272.2 507.5L272.4 506.4L272.6 512.4L272.8 500.9L273 516.9L273.2 512.7L273.4 511.8L273.6 510.9L273.8 515.2L274 522L274.2 512.3L274.5 514L274.7 524.4L274.9 518.5L275.1 508.3L275.3 511.6L275.5 522.5L275.7 519.1L275.9 512.6L276.1 519.1L276.3 517L276.5 516.5L276.7 513.4L276.9 510.5L277.1 508.2L277.4 519.5L277.6 510.6L277.8 511.4L278 502L278.2 517.6L278.4 515.7L278.6 517.3L278.8 523.1L279 509.4L279.2 523.1L279.4 506.6L279.6 514.8L279.8 507.1L280 507.5L280.3 516.8L280.5 501.9L280.7 521.6L280.9 510.8L281.1 523.7L281.3 505.5L281.5 502.7L281.7 497.8L281.9 512.8L282.1 508.8L282.3 523.3L282.5 509.6L282.7 514.6L282.9 521.8L283.2 514.5L283.4 516.9L283.6 516.7L283.8 506L284 519.1L284.2 522.4L284.4 527.8L284.6 500.1L284.8 514.4L285 520.5L285.2 520.3L285.4 513.3L285.6 520.8L285.8 515.8L286.1 523.2L286.3 520.4L286.5 508.8L286.7 518.7L286.9 513.5L287.1 520.1L287.3 517.9L287.5 510.2L287.7 512.1L287.9 507.9L288.1 510.2L288.3 518.4L288.5 526.5L288.7 516.1L289 517.1L289.2 536.8L289.4 509L289.6 519.7L289.8 513L290 516.9L290.2 512.8L290.4 517.7L290.6 510.1L290.8 518.6L291 518.5L291.2 519.3L291.4 511.7L291.6 522.7L291.9 518L292.1 529.2L292.3 503L292.5 529.1L292.7 521.7L292.9 512.4L293.1 528.3L293.3 522.8L293.5 520.4L293.7 512.8L293.9 507.3L294.1 502.9L294.3 513.9L294.5 522.8L294.8 524.8L295 513.5L295.2 510.5L295.4 510.2L295.6 499.7L295.8 512.1L296 519.7L296.2 521.8L296.4 521.4L296.6 509.9L296.8 524.9L297 525.5L297.2 508.8L297.4 509.8L297.7 504L297.9 508.9L298.1 513L298.3 507.9L298.5 503.2L298.7 512.4L298.9 502.4L299.1 519.7L299.3 515L299.5 513.2L299.7 511L299.9 521.3L300.1 513.1L300.3 505.2L300.6 509.3L300.8 508.9L301 513.5L301.2 519.9L301.4 520.1L301.6 512.9L301.8 511.2L302 531.4L302.2 505.2L302.4 511.4L302.6 509.3L302.8 515.2L303 512.4L303.2 501.8L303.5 520.4L303.7 507.3L303.9 511.7L304.1 515L304.3 514.4L304.5 516.6L304.7 531.1L304.9 512L305.1 511.7L305.3 508.5L305.5 522.7L305.7 521.9L305.9 522.9L306.1 512.5L306.4 535.5L306.6 514.6L306.8 504.1L307 529.9L307.2 521.7L307.4 526L307.6 517.9L307.8 512.5L308 524.8L308.2 518.8L308.4 521.9L308.6 500.6L308.8 515L309 509.4L309.3 509.6L309.5 514.1L309.7 513.4L309.9 502.7L310.1 530.9L310.3 510L310.5 518.6L310.7 513L310.9 526L311.1 504.9L311.3 516.6L311.5 525.2L311.7 509.1L311.9 504.7L312.2 508.1L312.4 525L312.6 517.7L312.8 509.7L313 502.5L313.2 512.1L313.4 526.8L313.6 508L313.8 520.1L314 515.5L314.2 532.4L314.4 509.7L314.6 515.8L314.8 516.5L315.1 507.9L315.3 518.4L315.5 509.2L315.7 506.4L315.9 513.7L316.1 498L316.3 518.7L316.5 515.3L316.7 505.1L316.9 514L317.1 514L317.3 513.7L317.5 509.1L317.7 512.6L318 520.7L318.2 517.6L318.4 522.4L318.6 514.1L318.8 533.8L319 528L319.2 517.4L319.4 520.3L319.6 521.3L319.8 512.1L320 510.9L320.2 515.2L320.4 514.7L320.6 513.6L320.9 528.7L321.1 518.5L321.3 511.3L321.5 511.7L321.7 520.3L321.9 500L322.1 527.5L322.3 527.3L322.5 526.3L322.7 512.1L322.9 528.1L323.1 523.4L323.3 520.5L323.5 502.3L323.8 500.6L324 510.8L324.2 513.6L324.4 520.9L324.6 522.3L324.8 511.9L325 515.5L325.2 533.1L325.4 519.5L325.6 506.6L325.8 512.6L326 525.4L326.2 509.8L326.4 528.2L326.7 511.4L326.9 516.9L327.1 516.6L327.3 513.5L327.5 526.9L327.7 504.9L327.9 521.7L328.1 513.9L328.3 505.3L328.5 510.5L328.7 524.1L328.9 507.4L329.1 522.1L329.3 510.3L329.6 501.4L329.8 515.7L330 517L330.2 516.3L330.4 521.3L330.6 522.8L330.8 520.1L331 520.8L331.2 530.9L331.4 512.1L331.6 532.7L331.8 505.2L332 504.9L332.2 526.6L332.5 507.4L332.7 504.9L332.9 512.8L333.1 524.7L333.3 526L333.5 519.4L333.7 520L333.9 505.3L334.1 498.1L334.3 511.5L334.5 511.2L334.7 509.4L334.9 520.7L335.1 509.4L335.4 523L335.6 516L335.8 515.2L336 518.9L336.2 508.2L336.4 522.4L336.6 511.8L336.8 519.5L337 512.8L337.2 509.4L337.4 507.6L337.6 504.3L337.8 500.7L338 518L338.3 521L338.5 514.8L338.7 515.3L338.9 507.2L339.1 529.7L339.3 526.8L339.5 510.7L339.7 526.3L339.9 511.7L340.1 513.6L340.3 510.4L340.5 516.3L340.7 524.9L340.9 527.5L341.1 516.9L341.4 519.7L341.6 517.5L341.8 509.7L342 498.4L342.2 507.5L342.4 509.2L342.6 510.7L342.8 519.1L343 514.4L343.2 519.8L343.4 517.2L343.6 511.2L343.8 532.1L344 519L344.3 515.4L344.5 526.7L344.7 514.8L344.9 519.2L345.1 518.4L345.3 524.5L345.5 512.6L345.7 517.1L345.9 512.1L346.1 521.3L346.3 517.7L346.5 505.2L346.7 525.7L346.9 524.9L347.2 508.7L347.4 515L347.6 529.2L347.8 521.2L348 521.1L348.2 516.9L348.4 519.5L348.6 526.3L348.8 528.3L349 516.9L349.2 516.9L349.4 515.6L349.6 516.8L349.8 521.1L350.1 505.6L350.3 497.4L350.5 514.3L350.7 518.3L350.9 515.5L351.1 518.8L351.3 510.7L351.5 516.8L351.7 507.2L351.9 514.1L352.1 504.9L352.3 521.5L352.5 521.8L352.7 512.4L353 508L353.2 519.8L353.4 525.9L353.6 523.2L353.8 519.6L354 509.3L354.2 524L354.4 521.3L354.6 524.4L354.8 501.5L355 513L355.2 506.1L355.4 511.5L355.6 506.4L355.9 519.7L356.1 515.1L356.3 510.9L356.5 512.3L356.7 522.4L356.9 518.9L357.1 506.7L357.3 516.8L357.5 515.2L357.7 517.5L357.9 504L358.1 510.5L358.3 505.8L358.5 513.8L358.8 520L359 509.5L359.2 525.8L359.4 524.5L359.6 509.6L359.8 516.7L360 512.4L360.2 512.3L360.4 528L360.6 510.1L360.8 521.3L361 517L361.2 514.6L361.4 520.6L361.7 517.7L361.9 505.5L362.1 523.3L362.3 519L362.5 518.4L362.7 522L362.9 518.1L363.1 512.5L363.3 511.5L363.5 514.3L363.7 510.7L363.9 520.6L364.1 518.6L364.3 512.2L364.6 525.4L364.8 531.4L365 519.1L365.2 519.8L365.4 516.6L365.6 520L365.8 511.8L366 518.4L366.2 518L366.4 513.9L366.6 512.7L366.8 518L367 508.4L367.2 519.2L367.5 507.8L367.7 512.8L367.9 520.2L368.1 511.6L368.3 519.2L368.5 514.8L368.7 519.7L368.9 514.5L369.1 517.1L369.3 513.7L369.5 513.9L369.7 510.4L369.9 528.4L370.1 520.3L370.4 508.8L370.6 523.5L370.8 514.3L371 517.7L371.2 516.1L371.4 515.1L371.6 520.6L371.8 511.9L372 515.5L372.2 515L372.4 516.1L372.6 504.3L372.8 523.7L373 509.8L373.3 516L373.5 514.9L373.7 522.9L373.9 520.1L374.1 514.5L374.3 518.7L374.5 522.5L374.7 531.7L374.9 519.8L375.1 518.5L375.3 515.5L375.5 521.5L375.7 509.4L375.9 523.4L376.2 516.3L376.4 505.6L376.6 526.1L376.8 504.5L377 524.1L377.2 517.4L377.4 510L377.6 508L377.8 514.7L378 512.1L378.2 515.7L378.4 522L378.6 526.6L378.8 514.5L379.1 508.1L379.3 520.6L379.5 512.4L379.7 524.6L379.9 501L380.1 507.5L380.3 520.5L380.5 511.5L380.7 513.1L380.9 521.9L381.1 521.2L381.3 507.6L381.5 518.2L381.7 507.3L382 510.3L382.2 505.5L382.4 503.4L382.6 506.3L382.8 523.3L383 511.3L383.2 517.9L383.4 511.4L383.6 510.8L383.8 520.8L384 520.4L384.2 531.7L384.4 510.8L384.6 508.3L384.9 517.4L385.1 500.3L385.3 514.1L385.5 508.3L385.7 523.6L385.9 524L386.1 510.7L386.3 510.2L386.5 477.1L386.7 514.3L386.9 514.8L387.1 509L387.3 514.9L387.5 500.2L387.8 524.5L388 524.3L388.2 530L388.4 521.7L388.6 505.7L388.8 521L389 515.3L389.2 518.8L389.4 529.9L389.6 519.8L389.8 525.2L390 510.7L390.2 512.9L390.4 518.8L390.7 512.3L390.9 503.4L391.1 513.9L391.3 515.2L391.5 512.7L391.7 512.5L391.9 515.3L392.1 513L392.3 510.8L392.5 522.6L392.7 513.1L392.9 507L393.1 514L393.3 513.4L393.6 518.6L393.8 502.2L394 526.9L394.2 522.6L394.4 516.3L394.6 518.3L394.8 515.8L395 518.6L395.2 520.3L395.4 521.3L395.6 516.4L395.8 512.6L396 523.7L396.2 502L396.5 499.7L396.7 508L396.9 514.7L397.1 512.2L397.3 512L397.5 516.8L397.7 511.8L397.9 518.7L398.1 509.1L398.3 508.9L398.5 525.6L398.7 520.3L398.9 513.7L399.1 525.7L399.4 509.4L399.6 515.2L399.8 506.2L400 514.5L400.2 521.8L400.4 508.5L400.6 518.8L400.8 520.6L401 502L401.2 505.3L401.4 519.8L401.6 516.5L401.8 521.5L402 507.8L402.3 516.1L402.5 509.3L402.7 523.3L402.9 514.8L403.1 521.9L403.3 523.1L403.5 518.8L403.7 520.4L403.9 529L404.1 515.3L404.3 516.2L404.5 508.6L404.7 523.6L404.9 513.2L405.2 514.2L405.4 507.1L405.6 517.2L405.8 521.7L406 519.4L406.2 519.9L406.4 516.9L406.6 513.7L406.8 523.3L407 515.2L407.2 509.3L407.4 500.8L407.6 515L407.8 525L408.1 516.7L408.3 517.4L408.5 529.1L408.7 518.6L408.9 520L409.1 512L409.3 518.3L409.5 516L409.7 524.5L409.9 515.1L410.1 512.2L410.3 522.9L410.5 515.6L410.7 520.1L411 518L411.2 505.5L411.4 502.9L411.6 515L411.8 508.3L412 506L412.2 526.5L412.4 519.5L412.6 532.9L412.8 528L413 525.9L413.2 521.9L413.4 519.9L413.6 524.4L413.9 509.5L414.1 526.3L414.3 508.8L414.5 512.3L414.7 517.4L414.9 505.9L415.1 519.7L415.3 512.2L415.5 512.3L415.7 515.7L415.9 500.2L416.1 523.5L416.3 524.4L416.5 514.1L416.8 522.9L417 517.6L417.2 516.9L417.4 526.6L417.6 507L417.8 510.1L418 512.8L418.2 525.9L418.4 539.5L418.6 516.5L418.8 514.1L419 516.1L419.2 521L419.4 509.6L419.6 516.8L419.9 514.7L420.1 495.3L420.3 517.4L420.5 503L420.7 515L420.9 503.2L421.1 509.4L421.3 508.7L421.5 507.8L421.7 521.6L421.9 514.6L422.1 536.6L422.3 517.5L422.5 514.5L422.8 518.3L423 526.7L423.2 521.1L423.4 519.8L423.6 524.1L423.8 516.7L424 517.8L424.2 509L424.4 523L424.6 516.9L424.8 504.1L425 522L425.2 527L425.4 518.3L425.7 520.5L425.9 521.1L426.1 521.7L426.3 520.6L426.5 527.5L426.7 519.1L426.9 515.6L427.1 524.4L427.3 504.1L427.5 516.3L427.7 514.7L427.9 517.4L428.1 524.4L428.3 512.1L428.6 524.8L428.8 519.5L429 510.2L429.2 511.2L429.4 510.4L429.6 514.7L429.8 509.7L430 523.1L430.2 512.5L430.4 517.5L430.6 512.6L430.8 507.9L431 509.9L431.2 514.3L431.5 515.5L431.7 512.8L431.9 517.7L432.1 506.3L432.3 518.3L432.5 515.5L432.7 537.9L432.9 516.1L433.1 515.5L433.3 512.4L433.5 520.2L433.7 505.1L433.9 526.9L434.1 523.7L434.4 506.5L434.6 514.6L434.8 519.8L435 510.4L435.2 522.3L435.4 503.5L435.6 509.5L435.8 527.9L436 520.8L436.2 521.5L436.4 519.6L436.6 512.4L436.8 512.9L437 531.5L437.3 513.3L437.5 517.4L437.7 524.9L437.9 529.3L438.1 522.2L438.3 509.2L438.5 512.8L438.7 530.5L438.9 522.4L439.1 525.7L439.3 515.7L439.5 505.9L439.7 517.5L439.9 505.1L440.2 513.5L440.4 523.6L440.6 536.3L440.8 522.5L441 519.2L441.2 521L441.4 523.1L441.6 520.4L441.8 507.8L442 508.3L442.2 526L442.4 510.5L442.6 524L442.8 516.6L443.1 518.5L443.3 522.4L443.5 509.6L443.7 518L443.9 518.4L444.1 502L444.3 507.5L444.5 514.7L444.7 501.5L444.9 516L445.1 520.5L445.3 512.6L445.5 527.8L445.7 513.7L446 518.7L446.2 509.9L446.4 517.2L446.6 515.9L446.8 515L447 530.9L447.2 505.7L447.4 506.6L447.6 513.7L447.8 508.1L448 504.9L448.2 516.2L448.4 522.4L448.6 514L448.9 515.1L449.1 505.7L449.3 515L449.5 526.9L449.7 520L449.9 521.3L450.1 520.2L450.3 523.3L450.5 526.7L450.7 539.3L450.9 517.2L451.1 509.3L451.3 512.6L451.5 503.2L451.8 501.9L452 521.4L452.2 519L452.4 511.7L452.6 523.7L452.8 515.5L453 511.2L453.2 505.4L453.4 520.2L453.6 516.5L453.8 517.6L454 518.2L454.2 513.7L454.4 523.3L454.7 514.1L454.9 536.5L455.1 526L455.3 518.8L455.5 507.1L455.7 503.7L455.9 506L456.1 518.1L456.3 516.2L456.5 522.1L456.7 523.3L456.9 513.9L457.1 513.5L457.3 521L457.6 527.1L457.8 518.6L458 515.1L458.2 518.8L458.4 510.8L458.6 517.2L458.8 522.9L459 515.7L459.2 498.2L459.4 502.8L459.6 533.7L459.8 523.5L460 523.7L460.2 513.1L460.5 528.2L460.7 530.5L460.9 514.8L461.1 507.5L461.3 509.4L461.5 505.8L461.7 519L461.9 526.4L462.1 510.1L462.3 517.5L462.5 511.6L462.7 527.9L462.9 528.9L463.1 528L463.4 521.4L463.6 509.9L463.8 504.4L464 525L464.2 511.3L464.4 512.7L464.6 516.6L464.8 507L465 532L465.2 514L465.4 509.4L465.6 522.7L465.8 525.5L466 517.6L466.3 505.8L466.5 520L466.7 517.9L466.9 507L467.1 522.1L467.3 503.4L467.5 516.5L467.7 489.1L467.9 503.5L468.1 510.5L468.3 501.3L468.5 512.5L468.7 502L468.9 521.7L469.2 508L469.4 513.6L469.6 527.9L469.8 522.6L470 504.6L470.2 517.7L470.4 497.8L470.6 501.7L470.8 515.3L471 512.3L471.2 512.8L471.4 513.9L471.6 513.1L471.8 540L472.1 491.4L472.3 515.1L472.5 506.6L472.7 511.7L472.9 503.7L473.1 507.9L473.3 517.7L473.5 518.3L473.7 504.4L473.9 531.9L474.1 523L474.3 527L474.5 513L474.7 519.2L475 507.5L475.2 500L475.4 517.2L475.6 502.9L475.8 513.8L476 519.2L476.2 524.2L476.4 508.3L476.6 518.5L476.8 528.7L477 520.5L477.2 516.5L477.4 518.1L477.6 518.9L477.9 518.4L478.1 513.5L478.3 521.3L478.5 499.3L478.7 521.5L478.9 511.8L479.1 511.6L479.3 517.8L479.5 519.6L479.7 512.4L479.9 505.1L480.1 513.4L480.3 522.2L480.5 516.6L480.8 516.6L481 510.6L481.2 530.6L481.4 517.4L481.6 516.2L481.8 514.1L482 524.9L482.2 508.5L482.4 500L482.6 518.3L482.8 516.4L483 511.7L483.2 523.2L483.4 518.7L483.7 523.6L483.9 513.5L484.1 516.8L484.3 500.4L484.5 523.4L484.7 508.9L484.9 514.3L485.1 518.3L485.3 502.8L485.5 508.4L485.7 524.1L485.9 511.3L486.1 514.9L486.3 513.8L486.6 501.5L486.8 522.1L487 526.1L487.2 498L487.4 518.1L487.6 521L487.8 512.3L488 514.5L488.2 510L488.4 514.5L488.6 516.8L488.8 504.9L489 511.6L489.2 512L489.5 515.8L489.7 505.4L489.9 531.9L490.1 516.4L490.3 515.2L490.5 512.4L490.7 514.1L490.9 516.8L491.1 513.1L491.3 500.3L491.5 519.3L491.7 518.7L491.9 511.4L492.1 502.4L492.4 506.8L492.6 516.7L492.8 508.8L493 523.9L493.2 506.1L493.4 507.1L493.6 527.5L493.8 524.6L494 506.5L494.2 505.6L494.4 520.4L494.6 518.3L494.8 513.2L495 518L495.2 511.6L495.5 492.5L495.7 518.9L495.9 516.5L496.1 528.1L496.3 504.1L496.5 513.5L496.7 513.5L496.9 515.5L497.1 517.2L497.3 505.7L497.5 513.4L497.7 513.2L497.9 522L498.1 518.9L498.4 514.6L498.6 525L498.8 512.1L499 528.4L499.2 524.8L499.4 506.8L499.6 523.6L499.8 526.6L500 523L500.2 512.7L500.4 517.3L500.6 524.3L500.8 508.9L501 506.9L501.3 511.7L501.5 516.6L501.7 518.1L501.9 504.1L502.1 525.8L502.3 512L502.5 512.6L502.7 519.6L502.9 513.4L503.1 511.7L503.3 521.7L503.5 507.9L503.7 517.6L503.9 511.9L504.2 502.3L504.4 515.3L504.6 516.1L504.8 506.7L505 502.5L505.2 512.6L505.4 524.9L505.6 507.9L505.8 519.6L506 518L506.2 527.7L506.4 502.6L506.6 509.6L506.8 519.6L507.1 526.2L507.3 513.2L507.5 520.6L507.7 518L507.9 515.3L508.1 513.4L508.3 505.7L508.5 510.6L508.7 516.6L508.9 519.2L509.1 517.4L509.3 507.9L509.5 517.5L509.7 508.6L510 518L510.2 512.8L510.4 518.3L510.6 509.8L510.8 515.3L511 511.6L511.2 511.4L511.4 515L511.6 524.5L511.8 510.2L512 511.8L512.2 531.5L512.4 509.4L512.6 524L512.9 515.9L513.1 514.3L513.3 511.3L513.5 516L513.7 522.1L513.9 514.2L514.1 518.9L514.3 508.9L514.5 517L514.7 505.9L514.9 520.1L515.1 522.8L515.3 520.8L515.5 508.6L515.8 521.2L516 513.9L516.2 519.5L516.4 522.7L516.6 526.6L516.8 509.5L517 524.4L517.2 520L517.4 512.3L517.6 523.9L517.8 510.3L518 518.1L518.2 512L518.4 508.9L518.7 509.2L518.9 508.9L519.1 506.8L519.3 520.2L519.5 519.5L519.7 509.6L519.9 509.1L520.1 513.9L520.3 519.5L520.5 521.7L520.7 507.6L520.9 516.4L521.1 523.8L521.3 518L521.6 519.5L521.8 514.8L522 500.1L522.2 505L522.4 508.4L522.6 513.1L522.8 519L523 520.1L523.2 513.3L523.4 521.8L523.6 524L523.8 526.5L524 532.6L524.2 514.9L524.5 512.5L524.7 514.4L524.9 509L525.1 516.3L525.3 523.2L525.5 516.1L525.7 522.2L525.9 513.3L526.1 519.8L526.3 516.4L526.5 512L526.7 512.9L526.9 516.6L527.1 521.9L527.4 521.8L527.6 518.1L527.8 511.2L528 517.1L528.2 522.1L528.4 508.3L528.6 519.6L528.8 516.9L529 526.4L529.2 506.8L529.4 518.1L529.6 518.8L529.8 525.5L530 493.1L530.3 515.8L530.5 527L530.7 521.4L530.9 511L531.1 527.8L531.3 535.3L531.5 523.7L531.7 505.6L531.9 513.9L532.1 513.2L532.3 522.4L532.5 523.5L532.7 516.4L532.9 514.1L533.2 530.7L533.4 509.5L533.6 515.6L533.8 514.2L534 520.7L534.2 505.9L534.4 499.8L534.6 505.9L534.8 508.5L535 526.2L535.2 500.3L535.4 524.6L535.6 508.1L535.8 516.9L536.1 514.4L536.3 513.9L536.5 516.9L536.7 512.7L536.9 515.4L537.1 516.1L537.3 502L537.5 516.5L537.7 528.9L537.9 530.2L538.1 535.2L538.3 507L538.5 512L538.7 524.5L539 527.8L539.2 503.8L539.4 519.5L539.6 523.2L539.8 517.6L540 513.7L540.2 531L540.4 513.9L540.6 500.6L540.8 508.6L541 511.1L541.2 508.1L541.4 507.9L541.6 525.7L541.9 522.4L542.1 531.9L542.3 510.2L542.5 516.9L542.7 512.6L542.9 508.1L543.1 526.5L543.3 524.3L543.5 511.6L543.7 509.9L543.9 513.8L544.1 516.6L544.3 513.5L544.5 521.8L544.8 542.4L545 511.6L545.2 509.9L545.4 515.3L545.6 513.2L545.8 524.7L546 522.1L546.2 519.6L546.4 522.5L546.6 534.3L546.8 524L547 513.8L547.2 519.3L547.4 510L547.7 518.5L547.9 506.8L548.1 515.8L548.3 524.7L548.5 507.9L548.7 518.7L548.9 518.4L549.1 520.3L549.3 514L549.5 532L549.7 525L549.9 506.9L550.1 522.3L550.3 517.5L550.6 518.2L550.8 517.7L551 513.2L551.2 510.2L551.4 513.6L551.6 508.2L551.8 525L552 496.4L552.2 534.5L552.4 503.3L552.6 524.7L552.8 520.3L553 507.6L553.2 506.6L553.5 518.9L553.7 505.4L553.9 523.6L554.1 508.9L554.3 502.8L554.5 502.3L554.7 505.2L554.9 514.4L555.1 497.2L555.3 523L555.5 511.7L555.7 518.8L555.9 514L556.1 522.8L556.4 513L556.6 512.8L556.8 506.9L557 500.4L557.2 505L557.4 503.8L557.6 510.4L557.8 510.3L558 521.1L558.2 519.4L558.4 521.4L558.6 503.5L558.8 511L559 527.6L559.3 520.7L559.5 521.6L559.7 513.2L559.9 525.3L560.1 510.1L560.3 496.8L560.5 513.9L560.7 514.8L560.9 532.7L561.1 517.7L561.3 510.7L561.5 519L561.7 518.8L561.9 526.2L562.2 524.4L562.4 504.4L562.6 516.6L562.8 507.9L563 520.7L563.2 509L563.4 510.2L563.6 510.6L563.8 530.4L564 509.5L564.2 514.9L564.4 518.8L564.6 523.5L564.8 510.8L565.1 504.6L565.3 509.2L565.5 541.5L565.7 527.4L565.9 522.2L566.1 508.6L566.3 506.5L566.5 509L566.7 527.8L566.9 511.1L567.1 516.7L567.3 514.6L567.5 518.3L567.7 524L568 505.5L568.2 516.2L568.4 512.4L568.6 513L568.8 517.2L569 509.5L569.2 501.7L569.4 516.3"/>
<path class="a" d="M641.3 511.5L641.5 516.4L641.7 510.8L641.9 511L642.1 509.5L642.3 512L642.5 514.9L642.7 519.1L642.9 514.5L643.1 508.4L643.3 511.5L643.5 505.2L643.7 516.2L643.9 512.2L644.1 510.7L644.3 508.7L644.5 504.9L644.7 511.1L644.9 514L645.1 515.3L645.2 515.5L645.4 514.9L645.6 513L645.8 509.1L646 510.7L646.2 517.9L646.4 521.9L646.6 510.9L646.8 515.8L647 512L647.2 513.9L647.4 514L647.6 513.8L647.8 516.4L648 518.8L648.2 517.9L648.4 514.7L648.6 513.8L648.8 508.5L649 515.9L649.2 524L649.4 514.6L649.6 509.8L649.8 513.4L650 513.6L650.2 514.8L650.4 516.2L650.6 518.8L650.8 509.5L651 515L651.2 513.2L651.4 517.2L651.6 502.4L651.8 511.4L652 520.5L652.2 512L652.4 512.3L652.6 512.9L652.7 511L652.9 514.9L653.1 509.4L653.3 511.5L653.5 516.5L653.7 518.8L653.9 510.3L654.1 508.7L654.3 508.7L654.5 512.9L654.7 506.5L654.9 507.4L655.1 518.4L655.3 521.8L655.5 502.1L655.7 520L655.9 510.4L656.1 512.1L656.3 523.3L656.5 521.6L656.7 516.3L656.9 506.7L657.1 509.8L657.3 512.1L657.5 502.5L657.7 520L657.9 512.6L658.1 512.3L658.3 508.6L658.5 507.6L658.7 515.1L658.9 512.8L659.1 506.8L659.3 512.2L659.5 523L659.7 522.8L659.9 514.7L660.1 522L660.2 520.2L660.4 512.6L660.6 518.5L660.8 512L661 513.5L661.2 510.9L661.4 507.8L661.6 520.4L661.8 520L662 515.2L662.2 516.4L662.4 511.9L662.6 512.8L662.8 523L663 511.8L663.2 518.3L663.4 513.8L663.6 516.3L663.8 523.1L664 511L664.2 513.6L664.4 519.8L664.6 518.8L664.8 516L665 512.1L665.2 515.8L665.4 512.9L665.6 522L665.8 506.5L666 512.1L666.2 519.5L666.4 512.3L666.6 515.2L666.8 512.5L667 508.4L667.2 511.9L667.4 512.7L667.6 513.6L667.7 522.2L667.9 517L668.1 508.2L668.3 508.7L668.5 512.6L668.7 506L668.9 525.2L669.1 513.8L669.3 517.3L669.5 519.4L669.7 509L669.9 513.7L670.1 516.8L670.3 516.8L670.5 517.6L670.7 513.6L670.9 513.8L671.1 515.5L671.3 513.5L671.5 509.6L671.7 510.3L671.9 520.7L672.1 513.2L672.3 518.9L672.5 515.3L672.7 520.3L672.9 515.6L673.1 512.1L673.3 512.6L673.5 512.7L673.7 517.9L673.9 509.6L674.1 518.2L674.3 515.1L674.5 517.9L674.7 515.2L674.9 508.1L675.1 515.7L675.2 506.2L675.4 515.1L675.6 516.3L675.8 512.3L676 511.4L676.2 516.3L676.4 507.3L676.6 514.6L676.8 515.3L677 513.2L677.2 515L677.4 513.1L677.6 520L677.8 512.2L678 517.4L678.2 512.4L678.4 516.3L678.6 520.1L678.8 517.3L679 509.9L679.2 515.8L679.4 514.7L679.6 511.4L679.8 509.6L680 509.9L680.2 509.9L680.4 513.2L680.6 516.2L680.8 519.8L681 516.4L681.2 517.3L681.4 515.3L681.6 516.9L681.8 513.6L682 507.8L682.2 500.2L682.4 517.6L682.6 511L682.7 523.9L682.9 511.5L683.1 522.9L683.3 515.3L683.5 514.1L683.7 508.4L683.9 520L684.1 522.2L684.3 511.8L684.5 525.5L684.7 510L684.9 508.7L685.1 512.9L685.3 510.9L685.5 514.3L685.7 514L685.9 510.6L686.1 524.4L686.3 516.8L686.5 521L686.7 514.8L686.9 519.9L687.1 513.2L687.3 519L687.5 510L687.7 508.2L687.9 520.6L688.1 521.8L688.3 513.8L688.5 514.8L688.7 516L688.9 508.1L689.1 518.4L689.3 507.9L689.5 514.7L689.7 514.2L689.9 509L690.1 510.8L690.2 510.4L690.4 520.2L690.6 513.9L690.8 515.5L691 514.1L691.2 509.9L691.4 521.2L691.6 517.5L691.8 510.7L692 521.2L692.2 507.5L692.4 520.4L692.6 508L692.8 515.5L693 512.1L693.2 514.3L693.4 522.4L693.6 512.8L693.8 505.4L694 512L694.2 521.7L694.4 510.9L694.6 511.7L694.8 499.9L695 515.5L695.2 515.9L695.4 510.6L695.6 513.8L695.8 512.4L696 512.8L696.2 519.5L696.4 512.6L696.6 509.5L696.8 513.9L697 506.1L697.2 510.5L697.4 513.9L697.6 514.1L697.7 513.1L697.9 513.9L698.1 515L698.3 507.4L698.5 514L698.7 514.7L698.9 510.5L699.1 510.9L699.3 515.3L699.5 517.3L699.7 519.9L699.9 514L700.1 512.3L700.3 512.4L700.5 515.8L700.7 515.8L700.9 509.9L701.1 510.4L701.3 517.8L701.5 511.5L701.7 508.9L701.9 508.6L702.1 513L702.3 517.3L702.5 515.6L702.7 513.2L702.9 516.1L703.1 509.4L703.3 513.6L703.5 505.3L703.7 515.1L703.9 513.3L704.1 516L704.3 508.4L704.5 519.7L704.7 513.1L704.9 517.8L705.1 513.3L705.2 510.4L705.4 517.4L705.6 515.6L705.8 512.4L706 512.3L706.2 516.4L706.4 515L706.6 516.2L706.8 509L707 512.8L707.2 510.2L707.4 517.4L707.6 511.1L707.8 512.1L708 508.7L708.2 515.6L708.4 509.4L708.6 510.9L708.8 518.5L709 512.7L709.2 514.6L709.4 507.3L709.6 506.1L709.8 511.7L710 514.7L710.2 517L710.4 514.4L710.6 514.5L710.8 521.8L711 506L711.2 512.5L711.4 510.7L711.6 515.5L711.8 517L712 510.4L712.2 511.2L712.4 508.3L712.6 516.8L712.7 512.2L712.9 514L713.1 512.2L713.3 510.4L713.5 517.6L713.7 510.4L713.9 513.8L714.1 513.8L714.3 507.6L714.5 509.2L714.7 517.8L714.9 516L715.1 514.2L715.3 514.7L715.5 506.9L715.7 513.7L715.9 512.8L716.1 519.2L716.3 510.2L716.5 512.8L716.7 506.6L716.9 513.8L717.1 511.4L717.3 518L717.5 517.6L717.7 516.4L717.9 511.8L718.1 508.8L718.3 511.7L718.5 514.9L718.7 513.3L718.9 515.4L719.1 512.5L719.3 509.6L719.5 515.9L719.7 515.3L719.9 508.7L720.1 510.6L720.3 512.4L720.4 512.2L720.6 516.5L720.8 518.8L721 514.6L721.2 519L721.4 507.1L721.6 520.2L721.8 508.7L722 510.8L722.2 522.3L722.4 511L722.6 513.9L722.8 515.1L723 513.1L723.2 513.4L723.4 508.8L723.6 509.2L723.8 512L724 508.6L724.2 504.8L724.4 510.7L724.6 524.9L724.8 515.4L725 509.9L725.2 509.2L725.4 513.2L725.6 509.7L725.8 513.3L726 517.6L726.2 509.6L726.4 522.4L726.6 510L726.8 517L727 515.5L727.2 517.2L727.4 515.1L727.6 523.1L727.8 515L727.9 512.2L728.1 506.4L728.3 512.7L728.5 510.6L728.7 522.9L728.9 522.8L729.1 509.5L729.3 510.5L729.5 517.1L729.7 512.5L729.9 510L730.1 511.7L730.3 514.6L730.5 516.4L730.7 506.7L730.9 506.1L731.1 510.2L731.3 515L731.5 516.1L731.7 507.5L731.9 514L732.1 515.5L732.3 516.9L732.5 508.6L732.7 520.4L732.9 511.2L733.1 518.6L733.3 513.2L733.5 515.2L733.7 516.2L733.9 515.3L734.1 515.1L734.3 508.9L734.5 516.4L734.7 509.8L734.9 513.8L735.1 513L735.3 504.2L735.4 520.4L735.6 510.4L735.8 513.8L736 516.6L736.2 508L736.4 507.9L736.6 510.3L736.8 509.6L737 514.3L737.2 512.5L737.4 512.9L737.6 515.6L737.8 516.2L738 507.7L738.2 516.2L738.4 513L738.6 514.6L738.8 517.2L739 514.5L739.2 523.5L739.4 517.4L739.6 512.4L739.8 518.7L740 512L740.2 512.9L740.4 510.8L740.6 514.6L740.8 509.8L741 504L741.2 507.3L741.4 515.4L741.6 512.9L741.8 515.1L742 516.6L742.2 515.1L742.4 513.9L742.6 511.3L742.8 507.9L742.9 511.9L743.1 509.7L743.3 513.4L743.5 506.6L743.7 515.4L743.9 514.3L744.1 509.2L744.3 509.2L744.5 516.5L744.7 505.5L744.9 514.7L745.1 510.3L745.3 511.8L745.5 516.1L745.7 517.4L745.9 513.7L746.1 513.5L746.3 509.5L746.5 515.8L746.7 515.8L746.9 511.2L747.1 523.7L747.3 517.7L747.5 508.7L747.7 511.6L747.9 513.6L748.1 511.6L748.3 514.6L748.5 514.8L748.7 512.8L748.9 515.8L749.1 507.6L749.3 505.3L749.5 512.7L749.7 515.4L749.9 515.2L750.1 512.3L750.3 512.1L750.4 512.8L750.6 516.7L750.8 517.7L751 511.3L751.2 513.9L751.4 514.2L751.6 519.4L751.8 511.4L752 516.1L752.2 510L752.4 505.9L752.6 515.8L752.8 517.9L753 508.5L753.2 516.4L753.4 516.5L753.6 515.6L753.8 510.7L754 516L754.2 517.1L754.4 511.1L754.6 514.7L754.8 514.4L755 514.6L755.2 515.5L755.4 511.4L755.6 513.8L755.8 515.8L756 512.5L756.2 519.2L756.4 508.3L756.6 511.5L756.8 517.4L757 511.5L757.2 514.3L757.4 517.8L757.6 512.4L757.8 513.5L757.9 518.6L758.1 510.2L758.3 513.4L758.5 517.5L758.7 519.4L758.9 506.5L759.1 518.8L759.3 519.9L759.5 511.7L759.7 515.6L759.9 519.5L760.1 504.5L760.3 513.2L760.5 517L760.7 514.7L760.9 510.8L761.1 515.9L761.3 511.1L761.5 513.1L761.7 518.1L761.9 514.6L762.1 517.4L762.3 513.9L762.5 509.2L762.7 510.4L762.9 520.6L763.1 520.3L763.3 521.4L763.5 508.6L763.7 516.5L763.9 510L764.1 509.9L764.3 518L764.5 507.6L764.7 512.3L764.9 511.6L765.1 508.2L765.3 515L765.4 510.3L765.6 518.3L765.8 507.7L766 520.1L766.2 520.9L766.4 519.1L766.6 515.4L766.8 515.8L767 520.6L767.2 519.9L767.4 515.3L767.6 513.6L767.8 523.4L768 517.8L768.2 511.6L768.4 524.3L768.6 529.3L768.8 521L769 525.3L769.2 524.7L769.4 528.6L769.6 531.1L769.8 523.1L770 531.5L770.2 542.2L770.4 543.4L770.6 539.4L770.8 530.8L771 546.6L771.2 538.3L771.4 549.1L771.6 551.5L771.8 555.8L772 553L772.2 529.6L772.4 537.2L772.6 532L772.8 535.1L772.9 531.5L773.1 525.7L773.3 520.8L773.5 521.1L773.7 519.7L773.9 510.4L774.1 514.9L774.3 501.2L774.5 518.2L774.7 511.6L774.9 513.6L775.1 507.1L775.3 514.4L775.5 514.9L775.7 510.6L775.9 506.9L776.1 510.2L776.3 506.9L776.5 511L776.7 510.8L776.9 512.5L777.1 507L777.3 513.6L777.5 511.2L777.7 511.4L777.9 515.9L778.1 511.4L778.3 512.2L778.5 509.9L778.7 512.4L778.9 507.9L779.1 519.8L779.3 517.1L779.5 509.9L779.7 518L779.9 514.6L780.1 511.1L780.3 507L780.4 516L780.6 520.7L780.8 509L781 517.8L781.2 511.1L781.4 508.7L781.6 524.6L781.8 519.7L782 507.7L782.2 514L782.4 512.9L782.6 510.9L782.8 521.6L783 516.2L783.2 512.2L783.4 506.4L783.6 515.8L783.8 513L784 515.6L784.2 517.5L784.4 510.1L784.6 517.2L784.8 520.7L785 514.3L785.2 513.9L785.4 512.5L785.6 508L785.8 518.9L786 514.8L786.2 513.7L786.4 512.3L786.6 518.2L786.8 514.2L787 508.3L787.2 526.4L787.4 520.9L787.6 524.2L787.8 516.2L788 509.4L788.1 514.7L788.3 509.4L788.5 508.5L788.7 513.9L788.9 523.7L789.1 501L789.3 520.8L789.5 519.5L789.7 507.5L789.9 515.5L790.1 510.2L790.3 510.9L790.5 515.1L790.7 508.8L790.9 513.4L791.1 514L791.3 509.8L791.5 515.7L791.7 507.4L791.9 502.4L792.1 514.8L792.3 513L792.5 514.5L792.7 507.8L792.9 514.9L793.1 513.2L793.3 509.2L793.5 510.9L793.7 507.7L793.9 511.8L794.1 515.7L794.3 512.3L794.5 514.2L794.7 514.4L794.9 511.8L795.1 515.7L795.3 518.7L795.5 512.1L795.6 507.9L795.8 509.4L796 519L796.2 519.1L796.4 513.8L796.6 506.8L796.8 504.7L797 514.4L797.2 512.5L797.4 511L797.6 512.1L797.8 517.4L798 509.1L798.2 518.8L798.4 511.6L798.6 515L798.8 509.5L799 512.5L799.2 519.3L799.4 517.4L799.6 511.9L799.8 508.6L800 516L800.2 518.4L800.4 515.4L800.6 516.3L800.8 512.5L801 512.6L801.2 512.9L801.4 512.2L801.6 508.2L801.8 510.4L802 513.6L802.2 517.7L802.4 516.8L802.6 517.8L802.8 509.4L803 512.9L803.1 511.1L803.3 514.8L803.5 516.4L803.7 516.1L803.9 512L804.1 509.8L804.3 520.1L804.5 516.9L804.7 515.2L804.9 512.9L805.1 511.3L805.3 513.8L805.5 515.2L805.7 515.1L805.9 511.9L806.1 510.6L806.3 510.1L806.5 509.5L806.7 513.6L806.9 513.3L807.1 513.5L807.3 513.5L807.5 516.7L807.7 515.2L807.9 515.8L808.1 516.9L808.3 511.2L808.5 509.2L808.7 511.2L808.9 508.9L809.1 509.8L809.3 520.2L809.5 517.5L809.7 515.2L809.9 512.3L810.1 506.8L810.3 514.8L810.5 510.3L810.6 507.6L810.8 515.1L811 514.9L811.2 519.3L811.4 513.8L811.6 514.8L811.8 512.6L812 510.9L812.2 518.4L812.4 514.6L812.6 512.6L812.8 519.1L813 519L813.2 513L813.4 510.3L813.6 516.6L813.8 516.3L814 512.3L814.2 506.3L814.4 519.3L814.6 510.4L814.8 514.1L815 505.2L815.2 511.9L815.4 520.7L815.6 502.2L815.8 510.9L816 511L816.2 508.7L816.4 516.2L816.6 512.2L816.8 509.6L817 511.8L817.2 514.5L817.4 511.9L817.6 505.3L817.8 510.4L818 514.4L818.1 509.3L818.3 513.1L818.5 517.6L818.7 507.7L818.9 512.2L819.1 517.3L819.3 519.7L819.5 506.8L819.7 512.2L819.9 514.1L820.1 517.4L820.3 514.7L820.5 515.4L820.7 516.6L820.9 514.5L821.1 517.6L821.3 510.9L821.5 518.7L821.7 521.4L821.9 507.6L822.1 510.6L822.3 513.7L822.5 512L822.7 505.8L822.9 514.6L823.1 515.4L823.3 508.7L823.5 514.1L823.7 514.6L823.9 512.9L824.1 513.4L824.3 518.2L824.5 512.8L824.7 513.3L824.9 508.6L825.1 512.9L825.3 514L825.5 513.2L825.6 514.9L825.8 517.5L826 512L826.2 511L826.4 508.8L826.6 520.7L826.8 513.7L827 511.3L827.2 508.4L827.4 517.4L827.6 514.6L827.8 516.5L828 515.1L828.2 506.3L828.4 514.1L828.6 517.7L828.8 517.3L829 514.7L829.2 516.7L829.4 515.6L829.6 515.7L829.8 519.2L830 508.6L830.2 511.5L830.4 509.3L830.6 518L830.8 507.8L831 510.1L831.2 512.8L831.4 512.4L831.6 518.2L831.8 511L832 516.7L832.2 513.3L832.4 504.8L832.6 509.7L832.8 512.4L833 513L833.1 516.2L833.3 511L833.5 518.4L833.7 521.8L833.9 520.1L834.1 513.2L834.3 517.4L834.5 514.2L834.7 513.3L834.9 515.9L835.1 516.1L835.3 507.9L835.5 508.4L835.7 512.3L835.9 516.5L836.1 515.3L836.3 513.3L836.5 514.9L836.7 518.4L836.9 516.9L837.1 511L837.3 511.8L837.5 511.7L837.7 512.3L837.9 516.6L838.1 510.7L838.3 512.4L838.5 513.1L838.7 514L838.9 509.4L839.1 519.4L839.3 519L839.5 505.2L839.7 522.4L839.9 511.7L840.1 516L840.3 513.4L840.5 509.9L840.6 514L840.8 511.7L841 508.5L841.2 513.4L841.4 515L841.6 514.1L841.8 525.3L842 513.4L842.2 517.9L842.4 514.7L842.6 505.9L842.8 517.8L843 512.2L843.2 522L843.4 518.9L843.6 507.8L843.8 510.5L844 514.8L844.2 514.2L844.4 513.8L844.6 513.3L844.8 515.9L845 516.9L845.2 513.4L845.4 517.9L845.6 518.2L845.8 518L846 510.8L846.2 512.9L846.4 515.4L846.6 516.1L846.8 510.3L847 514.9L847.2 514L847.4 500.4L847.6 512.4L847.8 515.7L848 513.6L848.1 510.6L848.3 510.3L848.5 514.5L848.7 516.5L848.9 510.5L849.1 511.8L849.3 515.4L849.5 516.9L849.7 509.2L849.9 515.5L850.1 512.3L850.3 518.7L850.5 521L850.7 513.7L850.9 515.9L851.1 521.5L851.3 519.8L851.5 516.8L851.7 512.2L851.9 517.1L852.1 512.5L852.3 511.1L852.5 517.8L852.7 511.7L852.9 516.9L853.1 504.4L853.3 510.5L853.5 508.8L853.7 510.3L853.9 509.6L854.1 504.5L854.3 510.6L854.5 509.8L854.7 509.9L854.9 517.3L855.1 515.5L855.3 515.7L855.5 519.1L855.6 507.6L855.8 505.8L856 511.3L856.2 513L856.4 514.2L856.6 513.8L856.8 512.2L857 520.5L857.2 513.6L857.4 508.5L857.6 507.6L857.8 518.6L858 512.6L858.2 507.4L858.4 507.4L858.6 517.6L858.8 509.1L859 516L859.2 508.3L859.4 515.6L859.6 516.9L859.8 512.2L860 514.4L860.2 511.5L860.4 514.3L860.6 514L860.8 513.9L861 513.7L861.2 508.5L861.4 512.3L861.6 511.4L861.8 511.4L862 523.6L862.2 517.7L862.4 508L862.6 516.7L862.8 511.8L863 517L863.2 517L863.3 512.2L863.5 509.1L863.7 514.4L863.9 510.6L864.1 513.7L864.3 507.8L864.5 509.9L864.7 503.9L864.9 510.7L865.1 518.2L865.3 510.3L865.5 508.5L865.7 527.3L865.9 513.7L866.1 508.7L866.3 507.1L866.5 507.8L866.7 514.7L866.9 511L867.1 514.1L867.3 514.5L867.5 508.8L867.7 509.6L867.9 513.9L868.1 510.7L868.3 511.4L868.5 507.9L868.7 511.6L868.9 516.5L869.1 510.2L869.3 511.1L869.5 510.4L869.7 510L869.9 513.8L870.1 510L870.3 514.5L870.5 509.6L870.7 505.9L870.8 511.5L871 507.1L871.2 511.5L871.4 512.3L871.6 511.8L871.8 507.1L872 513.2L872.2 507.5L872.4 507.1L872.6 508L872.8 517.5L873 507.9L873.2 508.5L873.4 509L873.6 507.5L873.8 504.7L874 513.5L874.2 511.3L874.4 509.7L874.6 510.7L874.8 499.7L875 508.3L875.2 510.4L875.4 513.4L875.6 505.6L875.8 507.9L876 508.5L876.2 512.2L876.4 500.6L876.6 514.6L876.8 512.9L877 508.9L877.2 512L877.4 514.7L877.6 510.9L877.8 513.8L878 513.4L878.2 512.7L878.3 510.7L878.5 512.4L878.7 509.2L878.9 522.5L879.1 518.6L879.3 520.7L879.5 509.2L879.7 513.1L879.9 509.5L880.1 508.9L880.3 510.6L880.5 518.5L880.7 505.2L880.9 508.9L881.1 519.1L881.3 509.2L881.5 524.6L881.7 511.1L881.9 521L882.1 519.4L882.3 512.6L882.5 504.8L882.7 511L882.9 506L883.1 518.3L883.3 510.9L883.5 517.4L883.7 515L883.9 514.3L884.1 518.4L884.3 512.6L884.5 509.4L884.7 520.6L884.9 517.6L885.1 516.8L885.3 513.6L885.5 514.9L885.7 505.3L885.8 515.5L886 508.2L886.2 512.5L886.4 516.4L886.6 509.8L886.8 517.3L887 512.7L887.2 517.4L887.4 515.9L887.6 511.2L887.8 510.2L888 513.3L888.2 512.7L888.4 518.7L888.6 517.3L888.8 506.8L889 507.3L889.2 514.1L889.4 513.4L889.6 508.5L889.8 511.1L890 512.6L890.2 524.3L890.4 506.5L890.6 511.6L890.8 512.5L891 514.9L891.2 517.7L891.4 511.7L891.6 513.6L891.8 516.6L892 508.3L892.2 508.2L892.4 507.3L892.6 511.8L892.8 511.1L893 514.1L893.2 514.8L893.3 519L893.5 514L893.7 516.9L893.9 509.2L894.1 511.4L894.3 515L894.5 509L894.7 520.8L894.9 513.7L895.1 511.4L895.3 519.7L895.5 515.9L895.7 514.9L895.9 515.4L896.1 510.4L896.3 512.3L896.5 517.9L896.7 513L896.9 514.2L897.1 510L897.3 513.8L897.5 512.7L897.7 513.2L897.9 512.8L898.1 520L898.3 514.1L898.5 516L898.7 507.4L898.9 514.1L899.1 511.3L899.3 515.3L899.5 515.5L899.7 509.7L899.9 512.3L900.1 510.5L900.3 514.4L900.5 518.6L900.7 509.7L900.8 511.1L901 514.9L901.2 514.3L901.4 516.1L901.6 517.8L901.8 516.5L902 514.3L902.2 514.1L902.4 509.5L902.6 516.9L902.8 512.6L903 516.3L903.2 518.2L903.4 511.6L903.6 509.1L903.8 519.4L904 510L904.2 507.4L904.4 512.1L904.6 515.3L904.8 516.2L905 512.1L905.2 513.6L905.4 507.1L905.6 515.9L905.8 510L906 514L906.2 518.3L906.4 513.1L906.6 510.5L906.8 514.6L907 517.5L907.2 513.1L907.4 512.9L907.6 518L907.8 511L908 510.1L908.2 515L908.3 509.9L908.5 521.2L908.7 514.3L908.9 519.2L909.1 513.9L909.3 516.3L909.5 511.8L909.7 511.6L909.9 514.1L910.1 515.1L910.3 506.7L910.5 517.9L910.7 511.3L910.9 517.8L911.1 510.8L911.3 513.4L911.5 512.9L911.7 509.4L911.9 513L912.1 516.2L912.3 517.2L912.5 511.6L912.7 516.7L912.9 516.4L913.1 515.2L913.3 519.9L913.5 520.6L913.7 512L913.9 512L914.1 514.5L914.3 517.7L914.5 510.6L914.7 525.5L914.9 509.5L915.1 511.8L915.3 515.7L915.5 509.7L915.7 510.3L915.8 516.6L916 517L916.2 512L916.4 519.3L916.6 506.4L916.8 508.9L917 512.7L917.2 516.7L917.4 514.2L917.6 511L917.8 511.7L918 505.7L918.2 510.1L918.4 508L918.6 520.4L918.8 505.5L919 512.9L919.2 515.2L919.4 515.1L919.6 509.4L919.8 509.4L920 510.4L920.2 518.2L920.4 510.5L920.6 515.3L920.8 517.1L921 520.2L921.2 510.2L921.4 514.5L921.6 517.2L921.8 512.1L922 522.4L922.2 512.3L922.4 510.2L922.6 525.2L922.8 511.5L923 517.1L923.2 512.9L923.3 518.4L923.5 509.7L923.7 511.3L923.9 510.2L924.1 518.4L924.3 507.7L924.5 520.2L924.7 515.7L924.9 502.1L925.1 509.9L925.3 514.4L925.5 514.4L925.7 510.2L925.9 512L926.1 512.1L926.3 510.7L926.5 513.8L926.7 514.3L926.9 514.1L927.1 523L927.3 514.2L927.5 513L927.7 514.6L927.9 514.8L928.1 512.3L928.3 522.4L928.5 516.6L928.7 511.1L928.9 503.6L929.1 518.4L929.3 507.8L929.5 519.8L929.7 514.5L929.9 513.5L930.1 519.3L930.3 508.6L930.5 519.2L930.7 513.1L930.9 519.4L931 510.6L931.2 511.5L931.4 518L931.6 514.3L931.8 511.8L932 515L932.2 515.3L932.4 510.6L932.6 512.2L932.8 513.2L933 507.9L933.2 518.3L933.4 506.1L933.6 513.1L933.8 511.7L934 509.2L934.2 512L934.4 513.6L934.6 513.1L934.8 510.1L935 511.3L935.2 518.3L935.4 505.9L935.6 512.4L935.8 511.7L936 514.7L936.2 506.9L936.4 512.4L936.6 519.9L936.8 510L937 518.4L937.2 510.2L937.4 507.7L937.6 514.3L937.8 518.3L938 513.5L938.2 510.6L938.4 505.1L938.5 511.2L938.7 515.1L938.9 515.9L939.1 508.8L939.3 509.3L939.5 516.6L939.7 518.7L939.9 518.9L940.1 516.5L940.3 514.3L940.5 513.7L940.7 513.4L940.9 510.6L941.1 511.6L941.3 516.9L941.5 516.5L941.7 515.8L941.9 511L942.1 515.4L942.3 512.1L942.5 519.8L942.7 505.8L942.9 519.3L943.1 514.7L943.3 517.9L943.5 508L943.7 512L943.9 511.2L944.1 518.3L944.3 516.1L944.5 512L944.7 513.4L944.9 510.2L945.1 514.8L945.3 511.1L945.5 515.9L945.7 515.3L945.9 510.2L946 515.8L946.2 519.1L946.4 512.6L946.6 514.8L946.8 518.2L947 508.5L947.2 520.5L947.4 511.6L947.6 514.2L947.8 512.5L948 519.3L948.2 515.4L948.4 513.3L948.6 516.6L948.8 514.5L949 518.1L949.2 514L949.4 512.9L949.6 516.4L949.8 513.2L950 508.5L950.2 517L950.4 512.4L950.6 516.2L950.8 515.1L951 509.4L951.2 514.9L951.4 516.3L951.6 512.2L951.8 513.3L952 508.8L952.2 512.8L952.4 516.5L952.6 515.3L952.8 511.3L953 511.6L953.2 510.2L953.4 511.2L953.5 511L953.7 512.6L953.9 512.3L954.1 512.5L954.3 512.8L954.5 513.4L954.7 512.1L954.9 514.5L955.1 514.7L955.3 515.6L955.5 513.4L955.7 513.1L955.9 509.2L956.1 519.4L956.3 516.3L956.5 508L956.7 511L956.9 516.6L957.1 517.9L957.3 508.1L957.5 511.7L957.7 508.8L957.9 510L958.1 509.2L958.3 516.8L958.5 512.1L958.7 509.2L958.9 513.7L959.1 511.9L959.3 512.7L959.5 516.2L959.7 511.6L959.9 511.6L960.1 514.5L960.3 508.7L960.5 514.9L960.7 513.4L960.9 507.5L961 518.5L961.2 514.6L961.4 513.5L961.6 504.8L961.8 516.2L962 503.7L962.2 516.6L962.4 513.1L962.6 507.5L962.8 515.1L963 511.1L963.2 513.4L963.4 506L963.6 508.4L963.8 513.6L964 518.1L964.2 510.1L964.4 514.1L964.6 516L964.8 509.4L965 504.8L965.2 517.3L965.4 518L965.6 518.7L965.8 515.7L966 516.4L966.2 510.7L966.4 506.5L966.6 512.1L966.8 516.5L967 522L967.2 514.5L967.4 520.3L967.6 511.2L967.8 503.1L968 509.3L968.2 507.6L968.4 516.1L968.5 512.9L968.7 514.3L968.9 508.4L969.1 514L969.3 519.7L969.5 519.4L969.7 517.6L969.9 513.3L970.1 514L970.3 517L970.5 510L970.7 514.7L970.9 513.3L971.1 511.9L971.3 511.7L971.5 506.2L971.7 512L971.9 517.5L972.1 515.9L972.3 523.4L972.5 525.1L972.7 513.6L972.9 510.5L973.1 513.7L973.3 510.2L973.5 512.1L973.7 510.5L973.9 515.6L974.1 525.6L974.3 512.4L974.5 518.4L974.7 510.7L974.9 509.6L975.1 521.3L975.3 521.6L975.5 511.7L975.7 516.4L975.9 508.8L976 512.6L976.2 510.5L976.4 510.7L976.6 514.6L976.8 506.6L977 508.8L977.2 510.6L977.4 514.9L977.6 510.2L977.8 514.8L978 518.8L978.2 510L978.4 515.7L978.6 513.9L978.8 509.7L979 520L979.2 511.9L979.4 519.3L979.6 514.4L979.8 506.5L980 507.9L980.2 512.9L980.4 509.6L980.6 508.8L980.8 517L981 515.6L981.2 511.4L981.4 515.5L981.6 516.5L981.8 515.7L982 516.7L982.2 515.4L982.4 514.7L982.6 513.2L982.8 510.9L983 520.1L983.2 512.1L983.4 514.1L983.5 515.6L983.7 517.6L983.9 509.6L984.1 509.4L984.3 514.5L984.5 515.6L984.7 504.8L984.9 514.4L985.1 514.1L985.3 518.7L985.5 514.6L985.7 514.5L985.9 519.6L986.1 516.2L986.3 511.1L986.5 513.8L986.7 519.5L986.9 514.3L987.1 512.7L987.3 510.7L987.5 510.6L987.7 519.4L987.9 516.5L988.1 511.7L988.3 509L988.5 513.9L988.7 509.3L988.9 514.9L989.1 514.1L989.3 507.3L989.5 512.9L989.7 513L989.9 519.4L990.1 509.2L990.3 510.1L990.5 511.7L990.7 510L990.9 512.6L991 511.9L991.2 510.6L991.4 508.7L991.6 509.7L991.8 509.5L992 514.9L992.2 512.9L992.4 510.9L992.6 508.5L992.8 513.5L993 506.3L993.2 512L993.4 513.5L993.6 512.4L993.8 511.1L994 513.9L994.2 512L994.4 520.9L994.6 515L994.8 519.4L995 519.3L995.2 506.8L995.4 504.6L995.6 515.5L995.8 517.3L996 514.2L996.2 514.9L996.4 510.6L996.6 509.6L996.8 514.8L997 516.1L997.2 507.3L997.4 517.4L997.6 513.9L997.8 505.9L998 507.2L998.2 516.6L998.4 511.1L998.5 514.8L998.7 518.1L998.9 515.5L999.1 522.4L999.3 515.9L999.5 515.7L999.7 514.3L999.9 511.4L1000.1 518.2L1000.3 511.4L1000.5 511.1L1000.7 516.9L1000.9 511.1L1001.1 515.8L1001.3 508.3L1001.5 518.3L1001.7 511.1L1001.9 503.8L1002.1 524.2L1002.3 517.2"/>
<path class="a" d="M1073.3 516.5L1073.5 510.9L1073.7 518.7L1073.9 522.9L1074.1 515.4L1074.2 517.2L1074.4 512.3L1074.6 519.9L1074.8 508.1L1075 514.3L1075.2 507.9L1075.4 510.1L1075.6 517.9L1075.7 514.7L1075.9 510.8L1076.1 511.1L1076.3 507.5L1076.5 514.8L1076.7 514.7L1076.9 504.9L1077.1 515.6L1077.2 511.7L1077.4 504.3L1077.6 510L1077.8 510.3L1078 507.2L1078.2 505.6L1078.4 514.8L1078.6 520.3L1078.8 508.9L1078.9 516.3L1079.1 516.7L1079.3 516.3L1079.5 510.9L1079.7 516.3L1079.9 510.5L1080.1 512.2L1080.3 515.4L1080.4 514.8L1080.6 519.4L1080.8 511.2L1081 511.9L1081.2 515.7L1081.4 509.5L1081.6 514.2L1081.8 511.5L1082 514.3L1082.1 515.7L1082.3 513.2L1082.5 519.7L1082.7 517.8L1082.9 509.7L1083.1 519.6L1083.3 512.7L1083.5 519.5L1083.6 517.8L1083.8 517.7L1084 512.2L1084.2 513.9L1084.4 507.7L1084.6 510.6L1084.8 518.9L1085 513.2L1085.1 517.8L1085.3 517.2L1085.5 524.4L1085.7 513L1085.9 513.5L1086.1 506.3L1086.3 515.9L1086.5 518.2L1086.7 517.3L1086.8 514.1L1087 504.5L1087.2 513.3L1087.4 518.2L1087.6 508.6L1087.8 513.9L1088 516L1088.2 513.1L1088.3 518.6L1088.5 512.8L1088.7 502.2L1088.9 506.4L1089.1 503.5L1089.3 524.1L1089.5 516.2L1089.7 509.2L1089.8 519.1L1090 516.5L1090.2 518.7L1090.4 515.2L1090.6 512.2L1090.8 519.7L1091 499.4L1091.2 510.3L1091.4 514.6L1091.5 515.8L1091.7 506.7L1091.9 514.7L1092.1 526.3L1092.3 512.9L1092.5 514.6L1092.7 512.3L1092.9 512.9L1093 513.1L1093.2 514.8L1093.4 514.1L1093.6 510.2L1093.8 516.4L1094 510.8L1094.2 509.5L1094.4 517.8L1094.5 517.6L1094.7 520.6L1094.9 517.1L1095.1 516.1L1095.3 519.8L1095.5 513.4L1095.7 519.3L1095.9 510L1096.1 522.3L1096.2 518.1L1096.4 517L1096.6 508.4L1096.8 507.7L1097 510.7L1097.2 511.4L1097.4 511L1097.6 517.2L1097.7 522.4L1097.9 513.8L1098.1 513L1098.3 518L1098.5 514.1L1098.7 505.9L1098.9 509.3L1099.1 511L1099.3 520.3L1099.4 507.1L1099.6 509.4L1099.8 512.7L1100 509.9L1100.2 511L1100.4 512.8L1100.6 510.3L1100.8 519.5L1100.9 510.7L1101.1 520.7L1101.3 515.8L1101.5 512.1L1101.7 512.6L1101.9 513.4L1102.1 516.2L1102.3 517.3L1102.4 519.7L1102.6 512.5L1102.8 518.9L1103 518.6L1103.2 509.6L1103.4 506.8L1103.6 510.3L1103.8 513.3L1104 512.5L1104.1 516.3L1104.3 509.5L1104.5 511L1104.7 512.3L1104.9 514.4L1105.1 508.5L1105.3 511.9L1105.5 510.3L1105.6 512.8L1105.8 513.7L1106 510.9L1106.2 515.3L1106.4 513.4L1106.6 510.1L1106.8 508.6L1107 512.8L1107.1 514.9L1107.3 517.4L1107.5 515.9L1107.7 518.5L1107.9 512L1108.1 509.4L1108.3 511.4L1108.5 511.3L1108.7 512.7L1108.8 517.4L1109 517L1109.2 515.2L1109.4 511.8L1109.6 521.1L1109.8 512.4L1110 512.9L1110.2 518.3L1110.3 520.1L1110.5 517.3L1110.7 506.7L1110.9 514.1L1111.1 520.1L1111.3 509.6L1111.5 511.9L1111.7 512.5L1111.9 521.4L1112 518.2L1112.2 513.8L1112.4 515.3L1112.6 511.9L1112.8 509.5L1113 513.6L1113.2 515L1113.4 514.1L1113.5 516.4L1113.7 515L1113.9 510.5L1114.1 510.4L1114.3 522.7L1114.5 509.4L1114.7 516.2L1114.9 515.4L1115 510L1115.2 507.1L1115.4 510.2L1115.6 514.8L1115.8 503.6L1116 516.1L1116.2 512.7L1116.4 523.5L1116.6 510.5L1116.7 508.8L1116.9 511.8L1117.1 510.2L1117.3 517.1L1117.5 514.3L1117.7 512L1117.9 519.6L1118.1 517.8L1118.2 515.4L1118.4 510.7L1118.6 514.2L1118.8 519.9L1119 515.6L1119.2 511L1119.4 510L1119.6 515.3L1119.7 510L1119.9 506.9L1120.1 510.1L1120.3 517.4L1120.5 513L1120.7 512.9L1120.9 509.2L1121.1 508.5L1121.3 511.6L1121.4 516.7L1121.6 517.8L1121.8 512.9L1122 521L1122.2 508.7L1122.4 521.5L1122.6 513.1L1122.8 512L1122.9 523.7L1123.1 517.5L1123.3 509.4L1123.5 518.9L1123.7 519.6L1123.9 504.7L1124.1 516.9L1124.3 523.2L1124.4 511.2L1124.6 512.2L1124.8 513.8L1125 514L1125.2 524.9L1125.4 515.8L1125.6 515.2L1125.8 515.2L1126 515.3L1126.1 515.5L1126.3 513.6L1126.5 510.2L1126.7 520.8L1126.9 511L1127.1 507.4L1127.3 518.8L1127.5 517.3L1127.6 517.4L1127.8 516.4L1128 516.1L1128.2 513.9L1128.4 514.7L1128.6 520L1128.8 507.8L1129 504.2L1129.2 504.3L1129.3 518.3L1129.5 518.9L1129.7 520.9L1129.9 516.7L1130.1 518.9L1130.3 514.5L1130.5 507.3L1130.7 512.8L1130.8 514.9L1131 516.6L1131.2 511L1131.4 517.5L1131.6 523.1L1131.8 508.1L1132 503.2L1132.2 515.8L1132.3 511.1L1132.5 512.6L1132.7 514.7L1132.9 502.5L1133.1 510.8L1133.3 508.8L1133.5 511.7L1133.7 514L1133.9 518.5L1134 519.2L1134.2 519.1L1134.4 519.1L1134.6 516.2L1134.8 523.2L1135 518.7L1135.2 520.6L1135.4 514.7L1135.5 519.3L1135.7 516.7L1135.9 510L1136.1 500.3L1136.3 511.7L1136.5 516.8L1136.7 503.4L1136.9 511.2L1137 516.3L1137.2 507L1137.4 512.2L1137.6 516.9L1137.8 513.4L1138 514L1138.2 508.7L1138.4 510.3L1138.6 515.1L1138.7 517.6L1138.9 517.5L1139.1 509.6L1139.3 508.2L1139.5 517.8L1139.7 513L1139.9 519.1L1140.1 524.3L1140.2 515.7L1140.4 517.8L1140.6 516.1L1140.8 514L1141 519.1L1141.2 510.8L1141.4 512L1141.6 509.5L1141.7 512.3L1141.9 516.5L1142.1 512L1142.3 511.9L1142.5 513.8L1142.7 511.1L1142.9 512.2L1143.1 517.2L1143.3 509.3L1143.4 513.6L1143.6 517.3L1143.8 514.2L1144 514.6L1144.2 514.8L1144.4 516.6L1144.6 512.4L1144.8 519.8L1144.9 515.4L1145.1 504.7L1145.3 514L1145.5 516L1145.7 513.6L1145.9 510.7L1146.1 507.4L1146.3 515.4L1146.5 512L1146.6 511.6L1146.8 511.6L1147 514.6L1147.2 512.4L1147.4 519.7L1147.6 512L1147.8 520.4L1148 509.7L1148.1 509.2L1148.3 509.1L1148.5 512.7L1148.7 512.3L1148.9 518.6L1149.1 510.5L1149.3 516.9L1149.5 514.6L1149.6 516.6L1149.8 510.2L1150 512.7L1150.2 508.4L1150.4 513.8L1150.6 509L1150.8 511.4L1151 523.2L1151.2 519L1151.3 513.5L1151.5 515.6L1151.7 507.7L1151.9 510.5L1152.1 517.3L1152.3 517.7L1152.5 508.7L1152.7 520.1L1152.8 509.6L1153 515.2L1153.2 511.1L1153.4 511.8L1153.6 516.8L1153.8 508.6L1154 518.2L1154.2 514.7L1154.3 513L1154.5 518.7L1154.7 514.2L1154.9 508L1155.1 514L1155.3 506.2L1155.5 511.4L1155.7 512.3L1155.9 527L1156 516.1L1156.2 515.8L1156.4 514.7L1156.6 517.3L1156.8 516.2L1157 515.7L1157.2 515.4L1157.4 507.8L1157.5 516.5L1157.7 514L1157.9 512.4L1158.1 510.4L1158.3 514.8L1158.5 521.9L1158.7 515.6L1158.9 518.8L1159.1 516.2L1159.2 519L1159.4 516.2L1159.6 514.7L1159.8 516.7L1160 509L1160.2 514.7L1160.4 516.8L1160.6 516L1160.7 516.9L1160.9 513.1L1161.1 517.9L1161.3 515.2L1161.5 517.6L1161.7 513.6L1161.9 512.2L1162.1 509.5L1162.2 513.6L1162.4 514.5L1162.6 512L1162.8 516.8L1163 512.2L1163.2 517.8L1163.4 512.4L1163.6 512.8L1163.8 509.6L1163.9 511.5L1164.1 518.7L1164.3 510.7L1164.5 520.5L1164.7 515.3L1164.9 515.8L1165.1 507.9L1165.3 513.6L1165.4 510.6L1165.6 515.7L1165.8 504.7L1166 520.1L1166.2 510.3L1166.4 509.8L1166.6 512.4L1166.8 515.6L1166.9 507.8L1167.1 511.7L1167.3 514.1L1167.5 511.8L1167.7 519.3L1167.9 506.5L1168.1 507L1168.3 516.3L1168.5 510L1168.6 510.5L1168.8 513.6L1169 513.5L1169.2 517.3L1169.4 516L1169.6 519.6L1169.8 518.5L1170 513.1L1170.1 513.2L1170.3 511.5L1170.5 515.3L1170.7 509L1170.9 516L1171.1 512.7L1171.3 516.3L1171.5 510.8L1171.6 509.6L1171.8 515.9L1172 513.3L1172.2 515L1172.4 512.9L1172.6 510.4L1172.8 511.1L1173 516.9L1173.2 513.7L1173.3 513.5L1173.5 514.8L1173.7 514.7L1173.9 514.6L1174.1 514.1L1174.3 513.4L1174.5 511.7L1174.7 511.1L1174.8 519.6L1175 514.4L1175.2 509L1175.4 516.3L1175.6 514.3L1175.8 514.4L1176 518.3L1176.2 517.4L1176.4 510.6L1176.5 517.4L1176.7 511.4L1176.9 513.6L1177.1 515.1L1177.3 516.3L1177.5 516.5L1177.7 514.3L1177.9 514.2L1178 517.6L1178.2 521.1L1178.4 513.7L1178.6 514.5L1178.8 513.5L1179 517L1179.2 514L1179.4 509L1179.5 512L1179.7 516.8L1179.9 510L1180.1 519.1L1180.3 513.6L1180.5 512.7L1180.7 512.5L1180.9 512.8L1181.1 510.7L1181.2 511.8L1181.4 514.2L1181.6 518.1L1181.8 512.2L1182 516.6L1182.2 513.2L1182.4 508.4L1182.6 510.2L1182.7 511.9L1182.9 512L1183.1 511.8L1183.3 514.6L1183.5 516.3L1183.7 510.7L1183.9 511.4L1184.1 512.4L1184.2 510.6L1184.4 512.7L1184.6 510.3L1184.8 516.5L1185 514.8L1185.2 514.3L1185.4 513.1L1185.6 514.6L1185.8 515.5L1185.9 517.6L1186.1 519.3L1186.3 512.4L1186.5 517.5L1186.7 508.7L1186.9 513.7L1187.1 514.6L1187.3 513L1187.4 510.6L1187.6 514L1187.8 513.6L1188 514.8L1188.2 512.7L1188.4 516L1188.6 516.1L1188.8 510.7L1189 517.8L1189.1 518L1189.3 516L1189.5 509.8L1189.7 510.4L1189.9 512.6L1190.1 515.5L1190.3 514L1190.5 511.1L1190.6 518.6L1190.8 516.4L1191 512.3L1191.2 511.6L1191.4 514.6L1191.6 514.3L1191.8 510.4L1192 511.4L1192.1 509.4L1192.3 517L1192.5 510L1192.7 512.7L1192.9 519.3L1193.1 515.6L1193.3 508.2L1193.5 510.3L1193.7 509.8L1193.8 519L1194 513.1L1194.2 507.3L1194.4 511L1194.6 508.6L1194.8 514.6L1195 508.8L1195.2 520.1L1195.3 514.6L1195.5 512.9L1195.7 508.1L1195.9 513.1L1196.1 513L1196.3 511.6L1196.5 512.6L1196.7 524.1L1196.8 511.3L1197 518.1L1197.2 510.9L1197.4 512.6L1197.6 511.2L1197.8 514.4L1198 511L1198.2 514L1198.4 515.2L1198.5 518.7L1198.7 508L1198.9 521.9L1199.1 512.2L1199.3 517.5L1199.5 507.5L1199.7 508.7L1199.9 512.8L1200 518.9L1200.2 519.5L1200.4 518.8L1200.6 507.4L1200.8 509L1201 511.1L1201.2 512.3L1201.4 519.8L1201.5 515L1201.7 504.1L1201.9 511.2L1202.1 513.5L1202.3 508.9L1202.5 518.7L1202.7 511.7L1202.9 512.4L1203.1 511L1203.2 510.3L1203.4 517.6L1203.6 509.6L1203.8 513.9L1204 517.2L1204.2 510L1204.4 517.8L1204.6 502.9L1204.7 512.2L1204.9 513.1L1205.1 506.3L1205.3 515.9L1205.5 510.2L1205.7 517.5L1205.9 519.3L1206.1 515.6L1206.3 512L1206.4 508.7L1206.6 520.9L1206.8 515.7L1207 517.6L1207.2 515.3L1207.4 512.3L1207.6 517.6L1207.8 510.7L1207.9 520L1208.1 508.6L1208.3 509.4L1208.5 514.7L1208.7 507.2L1208.9 515.3L1209.1 511.1L1209.3 513.7L1209.4 515.2L1209.6 512.7L1209.8 510L1210 515.7L1210.2 513.3L1210.4 520L1210.6 510.2L1210.8 519.2L1211 510.1L1211.1 515.3L1211.3 514.4L1211.5 510.8L1211.7 517L1211.9 510.7L1212.1 512.1L1212.3 517.6L1212.5 510.9L1212.6 512.6L1212.8 515.5L1213 513.9L1213.2 516.8L1213.4 509.3L1213.6 515.5L1213.8 515.2L1214 510.6L1214.1 514.8L1214.3 513.3L1214.5 513.5L1214.7 505L1214.9 516.7L1215.1 513.4L1215.3 508.1L1215.5 515.3L1215.7 514.9L1215.8 516.1L1216 516.4L1216.2 515.9L1216.4 518L1216.6 506.7L1216.8 515.5L1217 507.8L1217.2 507.1L1217.3 509.1L1217.5 515.7L1217.7 511L1217.9 516.9L1218.1 523.1L1218.3 511.1L1218.5 508.8L1218.7 510L1218.8 516.4L1219 507L1219.2 510.2L1219.4 511.6L1219.6 521.4L1219.8 518.1L1220 508.4L1220.2 513.6L1220.4 513.2L1220.5 514.4L1220.7 509L1220.9 515.7L1221.1 509.7L1221.3 511.3L1221.5 506.5L1221.7 510.2L1221.9 522.7L1222 503.1L1222.2 516.6L1222.4 515.7L1222.6 512.3L1222.8 514.2L1223 513.8L1223.2 506.5L1223.4 505.8L1223.6 512.5L1223.7 517.5L1223.9 516.5L1224.1 508.6L1224.3 519.7L1224.5 512L1224.7 518.4L1224.9 511.6L1225.1 515.8L1225.2 517.9L1225.4 510.6L1225.6 518L1225.8 508.7L1226 508.5L1226.2 512.1L1226.4 518L1226.6 512.5L1226.7 508.5L1226.9 506L1227.1 517.5L1227.3 507.9L1227.5 506L1227.7 510L1227.9 508.9L1228.1 512.7L1228.3 519.8L1228.4 513.6L1228.6 514.6L1228.8 517.3L1229 516.9L1229.2 509.2L1229.4 509.2L1229.6 516.3L1229.8 507.6L1229.9 521.4L1230.1 508.2L1230.3 512.9L1230.5 507.5L1230.7 512.7L1230.9 504.2L1231.1 508.4L1231.3 510.6L1231.4 516.2L1231.6 513.7L1231.8 510.8L1232 512.5L1232.2 512.5L1232.4 511.5L1232.6 518.5L1232.8 507.4L1233 514.5L1233.1 523.2L1233.3 518.9L1233.5 514.5L1233.7 518L1233.9 509.9L1234.1 511.2L1234.3 515.7L1234.5 516L1234.6 521L1234.8 510.8L1235 525.6L1235.2 514L1235.4 515.1L1235.6 515.6L1235.8 510.3L1236 516.6L1236.2 509.2L1236.3 515.9L1236.5 512.7L1236.7 514.1L1236.9 516.7L1237.1 517.7L1237.3 518.5L1237.5 517.9L1237.7 516.4L1237.8 516.7L1238 514.9L1238.2 513.7L1238.4 511.5L1238.6 513.3L1238.8 514.8L1239 514.9L1239.2 511.9L1239.3 514.7L1239.5 513.7L1239.7 517.7L1239.9 521.1L1240.1 519.5L1240.3 509.6L1240.5 518.7L1240.7 511.3L1240.9 508.9L1241 511.6L1241.2 509L1241.4 513.5L1241.6 506.2L1241.8 511.1L1242 512.6L1242.2 506.3L1242.4 513.6L1242.5 513.3L1242.7 519L1242.9 520.6L1243.1 522.8L1243.3 508.1L1243.5 517.6L1243.7 505.8L1243.9 508.8L1244 514.7L1244.2 518.1L1244.4 510.8L1244.6 518.2L1244.8 508.2L1245 512.9L1245.2 510.7L1245.4 511.1L1245.6 516.3L1245.7 504.7L1245.9 513.4L1246.1 518.7L1246.3 511.6L1246.5 509.5L1246.7 513.2L1246.9 515.7L1247.1 509.1L1247.2 516L1247.4 527.8L1247.6 510.6L1247.8 511.3L1248 506.8L1248.2 517L1248.4 515.3L1248.6 517.8L1248.7 524.8L1248.9 519L1249.1 510L1249.3 512.6L1249.5 515.5L1249.7 510.9L1249.9 512.5L1250.1 517.7L1250.3 514.8L1250.4 511.5L1250.6 513L1250.8 512.9L1251 509L1251.2 511.3L1251.4 515.7L1251.6 514.3L1251.8 506.4L1251.9 512.4L1252.1 515.5L1252.3 510.1L1252.5 515.2L1252.7 523.8L1252.9 509.6L1253.1 514.4L1253.3 517.2L1253.5 517.2L1253.6 516.6L1253.8 510.2L1254 513.2L1254.2 510.5L1254.4 514.1L1254.6 516L1254.8 516.2L1255 502.9L1255.1 512.4L1255.3 509.1L1255.5 508.5L1255.7 517L1255.9 510.3L1256.1 504.4L1256.3 515.2L1256.5 507.7L1256.6 515L1256.8 510.5L1257 515.8L1257.2 511.4L1257.4 514.7L1257.6 508.4L1257.8 515.5L1258 517.6L1258.2 515.6L1258.3 519.7L1258.5 516L1258.7 516.4L1258.9 511.7L1259.1 515L1259.3 513.4L1259.5 511L1259.7 514.8L1259.8 520.3L1260 511L1260.2 514.3L1260.4 511.5L1260.6 518.7L1260.8 512L1261 513.1L1261.2 513.5L1261.3 514.7L1261.5 508.1L1261.7 512.3L1261.9 512.4L1262.1 512.3L1262.3 512.3L1262.5 515.4L1262.7 509.6L1262.9 515.1L1263 517.8L1263.2 513.2L1263.4 516.6L1263.6 513.9L1263.8 513.5L1264 513.8L1264.2 514L1264.4 511.8L1264.5 515L1264.7 508L1264.9 514.8L1265.1 517.9L1265.3 510.1L1265.5 514.3L1265.7 517.7L1265.9 514.3L1266.1 516.9L1266.2 516.2L1266.4 513.8L1266.6 514.5L1266.8 511.9L1267 507.3L1267.2 514.5L1267.4 515.9L1267.6 512L1267.7 515.1L1267.9 508.8L1268.1 511.2L1268.3 511.5L1268.5 509.5L1268.7 513.5L1268.9 517.5L1269.1 509.3L1269.2 513.2L1269.4 516.7L1269.6 508.6L1269.8 516.9L1270 515L1270.2 512.1L1270.4 511L1270.6 513.1L1270.8 508.4L1270.9 515.7L1271.1 516.6L1271.3 515.1L1271.5 510.9L1271.7 515.5L1271.9 513.6L1272.1 514.2L1272.3 512.2L1272.4 512.9L1272.6 517.7L1272.8 519.7L1273 514L1273.2 517.7L1273.4 511.6L1273.6 510L1273.8 515.4L1273.9 512.8L1274.1 514.2L1274.3 513.1L1274.5 516L1274.7 507L1274.9 519.4L1275.1 510L1275.3 509.2L1275.5 517.3L1275.6 522.3L1275.8 515.5L1276 510.9L1276.2 512.2L1276.4 514.1L1276.6 515.3L1276.8 514.2L1277 509.7L1277.1 515.9L1277.3 508.8L1277.5 508.6L1277.7 519.2L1277.9 515.3L1278.1 513.3L1278.3 511.4L1278.5 512.6L1278.6 519.6L1278.8 515.5L1279 512.4L1279.2 516.5L1279.4 513.6L1279.6 514.8L1279.8 505.3L1280 511.4L1280.2 515.2L1280.3 512.9L1280.5 516.3L1280.7 511.3L1280.9 509.8L1281.1 510.7L1281.3 507.3L1281.5 515.5L1281.7 521.7L1281.8 515.2L1282 509.1L1282.2 512.5L1282.4 510.7L1282.6 514.5L1282.8 512.4L1283 511.3L1283.2 516.8L1283.4 515.2L1283.5 515.4L1283.7 511.5L1283.9 511.9L1284.1 513.2L1284.3 519.8L1284.5 515.9L1284.7 515L1284.9 517.7L1285 511.1L1285.2 512.4L1285.4 506.6L1285.6 513.2L1285.8 513.5L1286 511.8L1286.2 513.6L1286.4 518L1286.5 513.5L1286.7 509.4L1286.9 514.8L1287.1 512.6L1287.3 508.6L1287.5 513.3L1287.7 512.7L1287.9 512.8L1288.1 512.1L1288.2 517.2L1288.4 510.5L1288.6 514.8L1288.8 515.3L1289 513.6L1289.2 515.5L1289.4 509.6L1289.6 512.7L1289.7 518.9L1289.9 505.5L1290.1 511.1L1290.3 507.8L1290.5 513.4L1290.7 514.5L1290.9 505.9L1291.1 513.8L1291.2 510.3L1291.4 507.6L1291.6 503.8L1291.8 513.4L1292 511.6L1292.2 510.8L1292.4 514L1292.6 521L1292.8 514.3L1292.9 512.2L1293.1 511.6L1293.3 517.2L1293.5 515L1293.7 521.3L1293.9 517.4L1294.1 513.1L1294.3 516.3L1294.4 515.3L1294.6 510.1L1294.8 509.8L1295 507.8L1295.2 512.4L1295.4 516.7L1295.6 513.1L1295.8 516.6L1295.9 517.5L1296.1 507.7L1296.3 511.9L1296.5 515.1L1296.7 512.3L1296.9 509.7L1297.1 515.6L1297.3 518.1L1297.5 513.7L1297.6 513.1L1297.8 516.4L1298 512.9L1298.2 513.7L1298.4 515.5L1298.6 514.4L1298.8 512.8L1299 518L1299.1 513.7L1299.3 516.5L1299.5 514.1L1299.7 517.4L1299.9 515.5L1300.1 509.3L1300.3 514L1300.5 505.2L1300.7 514.3L1300.8 508.7L1301 519L1301.2 512.6L1301.4 519L1301.6 507.6L1301.8 510.6L1302 514.1L1302.2 519.7L1302.3 503.2L1302.5 513.9L1302.7 511.5L1302.9 514.1L1303.1 509.8L1303.3 506L1303.5 510.7L1303.7 510.7L1303.8 514.7L1304 520.6L1304.2 512.5L1304.4 509.5L1304.6 509.1L1304.8 517.7L1305 523.6L1305.2 515L1305.4 518L1305.5 505L1305.7 514.5L1305.9 505.8L1306.1 508.6L1306.3 516.5L1306.5 510.9L1306.7 507.4L1306.9 509.9L1307 519.8L1307.2 516.1L1307.4 510.8L1307.6 509L1307.8 507.8L1308 514.8L1308.2 511.5L1308.4 509L1308.5 515.8L1308.7 511.5L1308.9 513.8L1309.1 514.6L1309.3 510.6L1309.5 515.3L1309.7 509.8L1309.9 505.9L1310.1 514L1310.2 517.1L1310.4 514.2L1310.6 512.4L1310.8 516.8L1311 511.8L1311.2 512.9L1311.4 513.6L1311.6 514.3L1311.7 508.6L1311.9 522.4L1312.1 512.5L1312.3 510.7L1312.5 513.2L1312.7 512.9L1312.9 512L1313.1 511.1L1313.3 522.1L1313.4 520L1313.6 512.1L1313.8 504.4L1314 512.5L1314.2 515.4L1314.4 520.8L1314.6 517.3L1314.8 508.8L1314.9 512.7L1315.1 513.9L1315.3 511.4L1315.5 509.5L1315.7 512.9L1315.9 505.3L1316.1 509.9L1316.3 509.2L1316.4 514.3L1316.6 520.4L1316.8 515.2L1317 514.6L1317.2 521.6L1317.4 510.9L1317.6 515L1317.8 519.3L1318 516.2L1318.1 517.7L1318.3 514.3L1318.5 521.5L1318.7 523L1318.9 505.6L1319.1 511.2L1319.3 510.2L1319.5 512.2L1319.6 518L1319.8 514.6L1320 510.1L1320.2 519.8L1320.4 510.1L1320.6 513.1L1320.8 508.7L1321 520.9L1321.1 517.6L1321.3 515.2L1321.5 516.5L1321.7 503.3L1321.9 511.8L1322.1 514.8L1322.3 520L1322.5 506.5L1322.7 510.8L1322.8 515.3L1323 520.1L1323.2 517.9L1323.4 509.7L1323.6 518.4L1323.8 511.3L1324 509.4L1324.2 508.1L1324.3 518.1L1324.5 516.5L1324.7 515L1324.9 514.1L1325.1 512.2L1325.3 513.3L1325.5 520.9L1325.7 506.7L1325.8 515.3L1326 516.2L1326.2 517.8L1326.4 516L1326.6 507.6L1326.8 508.1L1327 510.8L1327.2 507.6L1327.4 513.8L1327.5 510.8L1327.7 518L1327.9 518.2L1328.1 518.9L1328.3 523.5L1328.5 509.5L1328.7 510.3L1328.9 511.2L1329 514.7L1329.2 508.9L1329.4 513.7L1329.6 513.1L1329.8 522.1L1330 507.4L1330.2 509.9L1330.4 514.3L1330.6 510.2L1330.7 515.6L1330.9 512.2L1331.1 512L1331.3 514.6L1331.5 518.9L1331.7 511.6L1331.9 512.7L1332.1 517.4L1332.2 513.3L1332.4 515.7L1332.6 522.7L1332.8 507.8L1333 519.3L1333.2 513.1L1333.4 515.9L1333.6 513.3L1333.7 518.1L1333.9 510.8L1334.1 516.1L1334.3 513.8L1334.5 512.3L1334.7 512.9L1334.9 518.6L1335.1 510.7L1335.3 510.5L1335.4 511.2L1335.6 512.9L1335.8 511.1L1336 512.5L1336.2 514.9L1336.4 511.5L1336.6 509L1336.8 514.6L1336.9 511.2L1337.1 512.6L1337.3 513.9L1337.5 523.9L1337.7 515.7L1337.9 511.9L1338.1 513.2L1338.3 514.9L1338.4 511.5L1338.6 512.8L1338.8 524.7L1339 508L1339.2 518.7L1339.4 523.3L1339.6 516.3L1339.8 521.7L1340 518.3L1340.1 514.8L1340.3 513.9L1340.5 524.4L1340.7 514.7L1340.9 517.8L1341.1 520.7L1341.3 520.9L1341.5 518.5L1341.6 513.9L1341.8 512.7L1342 519.3L1342.2 515.4L1342.4 513.8L1342.6 515.7L1342.8 516.8L1343 505.7L1343.2 513.5L1343.3 518.7L1343.5 508.6L1343.7 518L1343.9 518.2L1344.1 515.9L1344.3 515.5L1344.5 506.8L1344.7 515.6L1344.8 516.3L1345 509.7L1345.2 508.5L1345.4 512.9L1345.6 506.9L1345.8 510.4L1346 517.7L1346.2 509.9L1346.3 515L1346.5 517.6L1346.7 504.8L1346.9 510.7L1347.1 510.5L1347.3 515.8L1347.5 508.7L1347.7 505L1347.9 512.9L1348 511.3L1348.2 510L1348.4 516.2L1348.6 516.6L1348.8 505.8L1349 517.7L1349.2 515.6L1349.4 515.3L1349.5 513.1L1349.7 513.7L1349.9 517.1L1350.1 508.7L1350.3 512.5L1350.5 511.4L1350.7 514.7L1350.9 516.7L1351 520.4L1351.2 510.5L1351.4 518.3L1351.6 513L1351.8 514.4L1352 512.3L1352.2 520.5L1352.4 513L1352.6 510.8L1352.7 521.8L1352.9 506.1L1353.1 512.7L1353.3 512.1L1353.5 516.1L1353.7 519.9L1353.9 516L1354.1 520.9L1354.2 501.4L1354.4 524.4L1354.6 511.7L1354.8 510.9L1355 515.1L1355.2 516.7L1355.4 518.8L1355.6 515.8L1355.7 521L1355.9 506.6L1356.1 516.2L1356.3 517L1356.5 515L1356.7 518.9L1356.9 515.2L1357.1 517.1L1357.3 519.8L1357.4 516.3L1357.6 513L1357.8 510.5L1358 521.4L1358.2 513.8L1358.4 517.6L1358.6 522.3L1358.8 522L1358.9 503.5L1359.1 514.6L1359.3 519.2L1359.5 505.3L1359.7 520.1L1359.9 517.2L1360.1 521.2L1360.3 514.5L1360.5 512.9L1360.6 513.2L1360.8 520.6L1361 514.9L1361.2 516.4L1361.4 511L1361.6 515.3L1361.8 515.2L1362 517.1L1362.1 513.5L1362.3 514.4L1362.5 514.5L1362.7 515.3L1362.9 514.7L1363.1 515.3L1363.3 512.7L1363.5 513.5L1363.6 516.2L1363.8 507.2L1364 510L1364.2 514.2L1364.4 509.5L1364.6 521.6L1364.8 512.3L1365 503.8L1365.2 518.6L1365.3 511.3L1365.5 506L1365.7 511.3L1365.9 515.8L1366.1 512.5L1366.3 514.1L1366.5 530.5L1366.7 516.3L1366.8 516.2L1367 501.7L1367.2 509.9L1367.4 515.3L1367.6 526.4L1367.8 506.6L1368 524.7L1368.2 508.8L1368.3 506L1368.5 516.7L1368.7 512.3L1368.9 516.6L1369.1 513.6L1369.3 513L1369.5 516.3L1369.7 508L1369.9 525.4L1370 508.9L1370.2 512L1370.4 509L1370.6 518L1370.8 521.1L1371 505.1L1371.2 514.7L1371.4 508.1L1371.5 511L1371.7 506.7L1371.9 511.4L1372.1 515.6L1372.3 510.9L1372.5 509.2L1372.7 521.8L1372.9 510.3L1373 519.5L1373.2 519.1L1373.4 507.8L1373.6 516.2L1373.8 515.9L1374 518.1L1374.2 522.3L1374.4 510.6L1374.6 517L1374.7 515L1374.9 509.9L1375.1 517.2L1375.3 508.4L1375.5 510.1L1375.7 512L1375.9 521.4L1376.1 515.6L1376.2 514.1L1376.4 509.4L1376.6 515.3L1376.8 504.8L1377 511.4L1377.2 515.2L1377.4 517L1377.6 514.1L1377.8 516.5L1377.9 508.9L1378.1 515.2L1378.3 504.9L1378.5 518.1L1378.7 515.7L1378.9 513.1L1379.1 517.3L1379.3 509.6L1379.4 506.3L1379.6 515.5L1379.8 519.3L1380 505L1380.2 508.6L1380.4 513.1L1380.6 516.9L1380.8 523.5L1380.9 510.8L1381.1 518.4L1381.3 514.9L1381.5 521.4L1381.7 508.8L1381.9 517.3L1382.1 508.4L1382.3 512.1L1382.5 513.5L1382.6 509.1L1382.8 516.8L1383 521.4L1383.2 520.8L1383.4 515.1L1383.6 517.5L1383.8 518.4L1384 509.1L1384.1 517.6L1384.3 508.8L1384.5 515.5L1384.7 512.5L1384.9 511.3L1385.1 513.2L1385.3 506.6L1385.5 515.5L1385.6 501.4L1385.8 514.8L1386 510.6L1386.2 509.7L1386.4 517.3L1386.6 505.5L1386.8 514.2L1387 509.8L1387.2 510.5L1387.3 514.4L1387.5 513.4L1387.7 510.1L1387.9 517L1388.1 512.3L1388.3 513L1388.5 514.4L1388.7 516.3L1388.8 518.6L1389 512.4L1389.2 509.5L1389.4 512.1L1389.6 512.8L1389.8 511.5L1390 511.5L1390.2 510.9L1390.4 515.7L1390.5 518.7L1390.7 512.9L1390.9 518.7L1391.1 508.5L1391.3 509.7L1391.5 511.9L1391.7 510.5L1391.9 511.8L1392 511L1392.2 519L1392.4 514.8L1392.6 510.8L1392.8 513.4L1393 513.3L1393.2 510.7L1393.4 509.1L1393.5 510.2L1393.7 516.4L1393.9 515.8L1394.1 517.7L1394.3 516.7L1394.5 516.2L1394.7 520.5L1394.9 512.8L1395.1 510.9L1395.2 518.3L1395.4 514L1395.6 512.8L1395.8 511.9L1396 512.6L1396.2 517.9L1396.4 512.4L1396.6 512.8L1396.7 508.9L1396.9 513.9L1397.1 512.1L1397.3 507.2L1397.5 514.5L1397.7 515L1397.9 510.8L1398.1 512.4L1398.2 515L1398.4 519.2L1398.6 512.8L1398.8 511.1L1399 512.6L1399.2 512.8L1399.4 513.5L1399.6 517.1L1399.8 514.4L1399.9 513L1400.1 513.3L1400.3 513.1L1400.5 512.6L1400.7 512.5L1400.9 519.8L1401.1 508.8L1401.3 515L1401.4 519.6L1401.6 513.8L1401.8 512.9L1402 515.9L1402.2 516.1L1402.4 514.3L1402.6 518.3L1402.8 510.2L1402.9 517.8L1403.1 513.5L1403.3 516.4L1403.5 513.9L1403.7 512.9L1403.9 511.1L1404.1 517.1L1404.3 515L1404.5 516.7L1404.6 514.9L1404.8 517L1405 513L1405.2 513.3L1405.4 511L1405.6 514.5L1405.8 513.6L1406 514.5L1406.1 512.6L1406.3 515L1406.5 513.4L1406.7 510.8L1406.9 515.9L1407.1 511.9L1407.3 509.9L1407.5 508.7L1407.7 512.9L1407.8 514L1408 513.4L1408.2 515.4L1408.4 511.2L1408.6 510.7L1408.8 515.3L1409 515.6L1409.2 514.5L1409.3 513.5L1409.5 510.7L1409.7 515.3L1409.9 512.9L1410.1 516.4L1410.3 514.1L1410.5 513.1L1410.7 516.1L1410.8 515.5L1411 515.1L1411.2 511.9L1411.4 513.6L1411.6 514.1"/>
<path class="b" d="M188.9 509.6L189.1 517.7L189.3 509.7L189.5 518.1L189.7 511.6L189.9 520.8L190.1 519.1L190.3 519.2L190.6 526.1L190.8 506L191 521.5L191.2 516.4L191.4 517.2L191.6 511.2L191.8 513.4L192 519.9L192.2 518.9L192.4 521.4L192.6 514.8L192.8 512.7L193 508L193.2 513.7L193.5 513.5L193.7 506.1L193.9 505L194.1 512.9L194.3 509.4L194.5 508.2L194.7 511L194.9 520.5L195.1 517.5L195.3 515.9L195.5 516.9L195.7 517.2L195.9 519.9L196.1 521.7L196.4 519.7L196.6 507.5L196.8 511.8L197 525.1L197.2 523.1L197.4 510.8L197.6 517.8L197.8 516.8L198 524.2L198.2 519.8L198.4 508.1L198.6 517.6L198.8 506.4L199 512.5L199.3 518.1L199.5 512.4L199.7 510.6L199.9 509.8L200.1 513.4L200.3 516.3L200.5 510.5L200.7 517.2L200.9 515.3L201.1 510.8L201.3 518L201.5 520.9L201.7 519.1L201.9 505.2L202.2 516.2L202.4 527L202.6 516.3L202.8 514.1L203 521.1L203.2 525.3L203.4 520.8L203.6 517.6L203.8 513.1L204 508.1L204.2 507L204.4 510.4L204.6 516.8L204.8 519.8L205.1 512.6L205.3 523L205.5 516.6L205.7 507.4L205.9 515.9L206.1 508.7L206.3 512.4L206.5 509.4L206.7 514L206.9 510.2L207.1 512L207.3 519.1L207.5 513.5L207.7 509.4L208 516.6L208.2 512L208.4 520.6L208.6 513.3L208.8 535.3L209 526.9L209.2 522.1L209.4 516.7L209.6 515.3L209.8 506.2L210 512.7L210.2 515.3L210.4 523.1L210.6 529.5L210.9 515.1L211.1 507.6L211.3 518.9L211.5 514.1L211.7 508.7L211.9 524.1L212.1 519.9L212.3 516.6L212.5 522.7L212.7 522.8L212.9 522.2L213.1 506.9L213.3 512.8L213.5 509.2L213.8 508.9L214 510.7L214.2 517.7L214.4 522.2L214.6 525.5L214.8 517.4L215 514.1L215.2 518.2L215.4 510.4L215.6 517.7L215.8 518.5L216 516.1L216.2 510L216.4 511.7L216.7 510.8L216.9 528.2L217.1 519.1L217.3 515.9L217.5 520.6L217.7 522L217.9 503.5L218.1 508.3L218.3 507.4L218.5 509L218.7 513.7L218.9 521.8L219.1 516.6L219.3 514.2L219.6 511.7L219.8 503.8L220 516L220.2 510.3L220.4 510.5L220.6 518.3L220.8 516.2L221 522.7L221.2 518.4L221.4 510.6L221.6 517.4L221.8 507.5L222 507.8L222.2 516.3L222.5 517.1L222.7 522.1L222.9 509.9L223.1 521L223.3 523.2L223.5 511L223.7 525.5L223.9 512.8L224.1 518.9L224.3 520.4L224.5 513.2L224.7 515.6L224.9 519.9L225.1 522.2L225.4 512L225.6 513.4L225.8 515.6L226 515.2L226.2 521.6L226.4 517.2L226.6 512.8L226.8 512.7L227 518.9L227.2 518.6L227.4 514.3L227.6 519.1L227.8 519.2L228 507.5L228.3 513.4L228.5 511.3L228.7 510.7L228.9 519.4L229.1 512.6L229.3 515.7L229.5 519.2L229.7 522.2L229.9 509.2L230.1 522.2L230.3 523.8L230.5 516.7L230.7 513.8L230.9 528.4L231.2 521.1L231.4 510.8L231.6 526.3L231.8 515.3L232 517.5L232.2 505.3L232.4 509.2L232.6 517.4L232.8 518.4L233 518.5L233.2 514L233.4 513.9L233.6 514.2L233.8 516.6L234.1 515.8L234.3 520.3L234.5 532.9L234.7 517.2L234.9 516.4L235.1 505.2L235.3 520.4L235.5 516.7L235.7 531.9L235.9 514.9L236.1 522.9L236.3 514.2L236.5 517.8L236.7 520.9L237 516L237.2 515.2L237.4 516.1L237.6 511.5L237.8 511.4L238 508.1L238.2 513.2L238.4 511.7L238.6 515.7L238.8 517.9L239 523.3L239.2 508.3L239.4 520L239.6 515.2L239.9 516.5L240.1 520.5L240.3 519.5L240.5 513.7L240.7 513.9L240.9 509.1L241.1 515.6L241.3 513.5L241.5 516.1L241.7 505.6L241.9 506.3L242.1 511.4L242.3 522.6L242.5 518.5L242.8 517.8L243 522.5L243.2 518.6L243.4 516.3L243.6 518L243.8 518.5L244 524.7L244.2 524L244.4 524.7L244.6 522.7L244.8 519.1L245 517.1L245.2 521.8L245.4 521.7L245.7 517.3L245.9 518.2L246.1 513.9L246.3 511.2L246.5 521.5L246.7 509.1L246.9 528.4L247.1 521.1L247.3 519.9L247.5 518.8L247.7 512.6L247.9 521.6L248.1 517.2L248.3 511.1L248.6 516.8L248.8 513.7L249 517.3L249.2 513.2L249.4 518.7L249.6 511.2L249.8 514.7L250 517L250.2 512.9L250.4 505.9L250.6 522.1L250.8 513.4L251 518.4L251.2 516.5L251.5 505.1L251.7 507.6L251.9 512.9L252.1 513.5L252.3 515.2L252.5 515.5L252.7 511.5L252.9 517.7L253.1 522.9L253.3 518.6L253.5 520.2L253.7 516.8L253.9 499.5L254.1 512.9L254.4 515.2L254.6 518.2L254.8 503.5L255 522L255.2 515.4L255.4 512.4L255.6 519.9L255.8 513.9L256 513.9L256.2 521.1L256.4 513.8L256.6 515.1L256.8 515.3L257 510.6L257.3 504.6L257.5 526L257.7 520.9L257.9 518.9L258.1 522.7L258.3 518.6L258.5 508.9L258.7 509.1L258.9 518.5L259.1 516.5L259.3 514.8L259.5 521L259.7 520.2L259.9 523L260.2 520L260.4 512.9L260.6 521.4L260.8 510.8L261 514.3L261.2 513.3L261.4 510.2L261.6 506.3L261.8 519L262 512.8L262.2 516.7L262.4 524.2L262.6 519.3L262.8 515.4L263.1 516.1L263.3 516L263.5 516L263.7 523.3L263.9 525.1L264.1 512.2L264.3 522.4L264.5 518.5L264.7 513L264.9 514.2L265.1 513.5L265.3 511.3L265.5 512L265.7 509.1L265.9 512.8L266.2 514L266.4 513.9L266.6 517L266.8 515L267 519.1L267.2 515.5L267.4 517.2L267.6 516.5L267.8 517.6L268 520L268.2 523.6L268.4 527.7L268.6 518.6L268.8 522.8L269.1 524.1L269.3 528.3L269.5 519L269.7 522.4L269.9 519.3L270.1 512.4L270.3 517.7L270.5 521.9L270.7 511.6L270.9 509.8L271.1 508.4L271.3 518.2L271.5 516.7L271.7 509.6L272 515.8L272.2 522.7L272.4 510.4L272.6 517.6L272.8 512.9L273 508.7L273.2 511.3L273.4 520.5L273.6 511.3L273.8 514.3L274 515.7L274.2 512.1L274.4 520L274.6 518.3L274.9 513.1L275.1 509L275.3 503.9L275.5 514L275.7 521.7L275.9 506.5L276.1 529.2L276.3 519.3L276.5 516.4L276.7 517.6L276.9 501.7L277.1 515L277.3 516L277.5 502.8L277.8 513.7L278 517.9L278.2 512.4L278.4 516.8L278.6 515L278.8 504L279 515.1L279.2 506.7L279.4 507.7L279.6 515.6L279.8 514.8L280 515L280.2 515.5L280.4 509.8L280.7 517L280.9 521.1L281.1 510.6L281.3 517.5L281.5 513.1L281.7 505L281.9 522.4L282.1 514.8L282.3 517.7L282.5 518.3L282.7 516L282.9 512.6L283.1 509.6L283.3 525.6L283.6 524.6L283.8 515.8L284 529.2L284.2 514.3L284.4 506.5L284.6 504.8L284.8 518.3L285 521.5L285.2 512.3L285.4 520.8L285.6 523.6L285.8 509.4L286 517.9L286.2 519.7L286.5 511.9L286.7 514.4L286.9 508.4L287.1 514.6L287.3 511.3L287.5 515.4L287.7 514.8L287.9 506.6L288.1 517.2L288.3 514.6L288.5 514.2L288.7 515.1L288.9 514L289.1 516L289.4 518L289.6 519.4L289.8 514.5L290 518.2L290.2 508.9L290.4 516.9L290.6 508.7L290.8 514.8L291 506L291.2 515.1L291.4 505.3L291.6 511.2L291.8 509.3L292 508.7L292.3 508.6L292.5 516.6L292.7 521.2L292.9 516.7L293.1 519.6L293.3 516.1L293.5 517.6L293.7 517.3L293.9 515.4L294.1 514.6L294.3 520L294.5 509.6L294.7 518.6L294.9 509.9L295.2 518.2L295.4 519.1L295.6 527.5L295.8 519.8L296 516.1L296.2 520.1L296.4 523.4L296.6 503.2L296.8 519.6L297 514.4L297.2 518.5L297.4 526.2L297.6 516.6L297.8 520.2L298.1 520.2L298.3 514.9L298.5 513.3L298.7 514.6L298.9 512.1L299.1 509.6L299.3 511.3L299.5 519.4L299.7 518.3L299.9 508.4L300.1 519.9L300.3 515.7L300.5 528.4L300.7 514.8L301 510.6L301.2 521.8L301.4 514.1L301.6 512.4L301.8 512.3L302 514.6L302.2 518.3L302.4 530.7L302.6 526.9L302.8 513.2L303 513.1L303.2 514.6L303.4 517.6L303.6 511.7L303.9 514.1L304.1 523.6L304.3 519.2L304.5 513.7L304.7 521.6L304.9 522.9L305.1 515L305.3 514.4L305.5 505.9L305.7 519.1L305.9 512.1L306.1 512.8L306.3 518.5L306.5 521.2L306.8 510.1L307 506.7L307.2 520.2L307.4 520.6L307.6 517.9L307.8 515.7L308 524.9L308.2 524.4L308.4 510.8L308.6 513.1L308.8 520.2L309 523L309.2 508.2L309.4 513.8L309.7 517.5L309.9 521.9L310.1 515.5L310.3 513.1L310.5 522L310.7 517.4L310.9 515.6L311.1 513.1L311.3 517.9L311.5 516.8L311.7 518.6L311.9 504.5L312.1 520.3L312.3 518.8L312.6 510.1L312.8 509L313 505.6L313.2 512.3L313.4 514.8L313.6 520.4L313.8 519.7L314 508.1L314.2 516.6L314.4 502.4L314.6 523.2L314.8 525L315 516.7L315.2 521.2L315.5 513L315.7 512.7L315.9 513.7L316.1 522.7L316.3 509.5L316.5 511.2L316.7 520.8L316.9 505.5L317.1 502.7L317.3 516.2L317.5 508.2L317.7 516.7L317.9 511.2L318.1 510.5L318.4 511.8L318.6 512L318.8 519.3L319 521.9L319.2 520.4L319.4 518.1L319.6 509.9L319.8 512.2L320 512.4L320.2 520.5L320.4 519.3L320.6 519.1L320.8 520.9L321 521.8L321.3 519.6L321.5 516.6L321.7 511.4L321.9 518L322.1 518L322.3 515.1L322.5 518.2L322.7 522.8L322.9 519.2L323.1 514.1L323.3 516.7L323.5 514.7L323.7 515.9L323.9 513.2L324.2 518.8L324.4 518.6L324.6 518.7L324.8 522.2L325 517.7L325.2 520.3L325.4 521.2L325.6 521.4L325.8 519.4L326 518L326.2 523.4L326.4 514.3L326.6 522.3L326.8 518.1L327.1 512.6L327.3 525.2L327.5 526.1L327.7 516.7L327.9 519.2L328.1 511L328.3 513.5L328.5 530.7L328.7 509.4L328.9 505.6L329.1 520.3L329.3 526.4L329.5 508.9L329.7 509.1L330 510L330.2 508.9L330.4 517.8L330.6 518.3L330.8 518.4L331 511.5L331.2 519.3L331.4 521.1L331.6 509.3L331.8 521.1L332 524.4L332.2 514.1L332.4 513.1L332.6 520.9L332.9 517.6L333.1 514.2L333.3 518.8L333.5 513.7L333.7 506.1L333.9 499.9L334.1 518.6L334.3 519.2L334.5 515.8L334.7 519.3L334.9 520.3L335.1 508.6L335.3 517.3L335.5 515.6L335.8 515.8L336 516.5L336.2 525.7L336.4 506L336.6 514.6L336.8 515.8L337 516.4L337.2 518.9L337.4 517.1L337.6 524.2L337.8 527.3L338 517.9L338.2 523L338.4 527.9L338.7 528.7L338.9 515.9L339.1 525.3L339.3 514.8L339.5 516L339.7 516.3L339.9 515.9L340.1 500.1L340.3 513.1L340.5 523L340.7 515L340.9 517.4L341.1 518.1L341.3 511L341.5 517.2L341.8 504.5L342 510.1L342.2 512.3L342.4 519.7L342.6 516.8L342.8 523.7L343 521.7L343.2 517.3L343.4 523.5L343.6 516.6L343.8 525.9L344 516.6L344.2 513.8L344.4 513.7L344.7 517.2L344.9 508.4L345.1 510.5L345.3 519.3L345.5 519.3L345.7 513.3L345.9 512.4L346.1 518.2L346.3 517.3L346.5 514L346.7 520.7L346.9 510L347.1 519.4L347.3 511L347.6 514.4L347.8 513.7L348 511.7L348.2 522.8L348.4 521.7L348.6 523.2L348.8 525.9L349 518.1L349.2 504.3L349.4 529.7L349.6 515.3L349.8 520.8L350 515.3L350.2 523.5L350.5 520.1L350.7 523.6L350.9 526.3L351.1 521.2L351.3 520.5L351.5 515L351.7 510.1L351.9 522.9L352.1 521.7L352.3 505.8L352.5 507.9L352.7 511.6L352.9 506.9L353.1 516.3L353.4 518L353.6 516.8L353.8 511.8L354 512.6L354.2 517.2L354.4 514.7L354.6 515.8L354.8 524.6L355 514.7L355.2 512.4L355.4 520L355.6 516.6L355.8 519.3L356 522.5L356.3 517.4L356.5 508.2L356.7 515.8L356.9 512.8L357.1 509.4L357.3 517.9L357.5 519.3L357.7 517.5L357.9 529.5L358.1 516.4L358.3 527L358.5 521.5L358.7 517.9L358.9 515.9L359.2 515.3L359.4 515.7L359.6 516.1L359.8 510L360 513.5L360.2 511.5L360.4 508.7L360.6 504.5L360.8 509.4L361 519.8L361.2 516.5L361.4 504.9L361.6 513.5L361.8 513.3L362.1 519.6L362.3 517.3L362.5 519.7L362.7 515.5L362.9 521.7L363.1 516.4L363.3 518.8L363.5 514L363.7 511.4L363.9 521.9L364.1 510.2L364.3 515.5L364.5 519.9L364.7 521.8L365 516.7L365.2 525.2L365.4 518.9L365.6 518.5L365.8 514L366 513.8L366.2 515.1L366.4 521.6L366.6 505.3L366.8 531L367 523.9L367.2 524.6L367.4 520.4L367.6 516.1L367.9 507.9L368.1 514.2L368.3 520.9L368.5 518.3L368.7 513.4L368.9 518.6L369.1 521.3L369.3 513.3L369.5 522L369.7 517.4L369.9 519.4L370.1 519.7L370.3 523.3L370.5 516.9L370.8 520.2L371 511.9L371.2 515.4L371.4 516.9L371.6 525.9L371.8 521.8L372 517.6L372.2 517.5L372.4 511.7L372.6 520L372.8 514L373 508.8L373.2 506.9L373.4 514L373.7 512.8L373.9 503.6L374.1 521.3L374.3 515.9L374.5 526.2L374.7 516L374.9 515.2L375.1 517L375.3 510L375.5 507.3L375.7 507.8L375.9 511.7L376.1 510.9L376.3 498.1L376.6 507.4L376.8 516.9L377 523L377.2 510.6L377.4 516.1L377.6 523.4L377.8 515.5L378 510L378.2 507.2L378.4 524.5L378.6 517.3L378.8 519.9L379 522.9L379.2 514.3L379.5 509.2L379.7 510.7L379.9 509.9L380.1 511.9L380.3 511.8L380.5 501.8L380.7 510.3L380.9 505.6L381.1 520.7L381.3 507.9L381.5 515.1L381.7 511.3L381.9 514.9L382.1 503L382.4 506.3L382.6 510.7L382.8 515.3L383 518.8L383.2 509.2L383.4 514.5L383.6 518.1L383.8 517.5L384 512.3L384.2 526.4L384.4 518L384.6 518.5L384.8 509.1L385 507.2L385.3 516.3L385.5 515.2L385.7 505.6L385.9 509.2L386.1 530.6L386.3 522.2L386.5 521.6L386.7 519.8L386.9 523.4L387.1 511.2L387.3 527.4L387.5 520.9L387.7 526.3L387.9 519.2L388.2 515.8L388.4 514L388.6 521.9L388.8 512L389 513.3L389.2 515.5L389.4 516.2L389.6 520.6L389.8 521.5L390 526.6L390.2 515.2L390.4 512.9L390.6 515.2L390.8 513.3L391.1 514.3L391.3 520.8L391.5 522.9L391.7 521.4L391.9 510.8L392.1 515.3L392.3 515.2L392.5 509.2L392.7 513.3L392.9 515.8L393.1 520.5L393.3 515.3L393.5 510.4L393.7 516L394 524.8L394.2 515.7L394.4 511.5L394.6 505.5L394.8 520.8L395 511.6L395.2 519.8L395.4 522.5L395.6 521.5L395.8 503.5L396 515.5L396.2 513.3L396.4 514.2L396.6 517.3L396.9 514.7L397.1 513.3L397.3 516.4L397.5 518.3L397.7 521.8L397.9 520L398.1 508.1L398.3 520.3L398.5 515.5L398.7 509.6L398.9 522.5L399.1 519.5L399.3 515.8L399.5 516.6L399.8 517L400 515.6L400.2 513.6L400.4 507L400.6 514.4L400.8 512L401 511.9L401.2 507.3L401.4 517.3L401.6 512.6L401.8 502.7L402 526.1L402.2 505.7L402.4 517.2L402.7 515.7L402.9 517.6L403.1 514.1L403.3 519.8L403.5 504.7L403.7 515.4L403.9 509L404.1 516.8L404.3 507.3L404.5 513.5L404.7 513.7L404.9 521.5L405.1 518.5L405.3 521.1L405.6 518.2L405.8 514.5L406 528.4L406.2 514L406.4 512.3L406.6 505.6L406.8 521L407 503.3L407.2 514.4L407.4 518.2L407.6 513.8L407.8 520.4L408 516.5L408.2 522.6L408.5 516.8L408.7 515.3L408.9 524.1L409.1 522.9L409.3 514.3L409.5 528.5L409.7 520.6L409.9 519L410.1 522.2L410.3 512.5L410.5 524.8L410.7 525.1L410.9 514L411.1 517.9L411.4 518.8L411.6 507.6L411.8 521.1L412 509.3L412.2 515.6L412.4 519.2L412.6 505.8L412.8 514.8L413 520.3L413.2 511.9L413.4 518.4L413.6 507.1L413.8 504.2L414 518.9L414.3 526.5L414.5 531.7L414.7 520.6L414.9 522.5L415.1 516L415.3 509.9L415.5 510.2L415.7 516.9L415.9 521.8L416.1 511.7L416.3 513L416.5 510L416.7 518.1L416.9 514.5L417.2 516L417.4 513.2L417.6 520L417.8 527.5L418 513.1L418.2 509.1L418.4 519.7L418.6 515.4L418.8 523.9L419 517.9L419.2 514L419.4 516L419.6 524.3L419.8 522.8L420 516.9L420.3 519.8L420.5 511.7L420.7 512.5L420.9 520.5L421.1 513.7L421.3 518.3L421.5 522.4L421.7 522.4L421.9 530.2L422.1 517.9L422.3 514.7L422.5 512.1L422.7 518.7L422.9 518.2L423.2 516.6L423.4 516.9L423.6 509.6L423.8 523.9L424 516.3L424.2 519L424.4 520L424.6 526.5L424.8 516.2L425 524.4L425.2 523.3L425.4 510.5L425.6 512.1L425.8 514.4L426.1 513.6L426.3 518L426.5 513.4L426.7 512.4L426.9 520.5L427.1 514.9L427.3 512.6L427.5 508.4L427.7 515.8L427.9 517.6L428.1 520.8L428.3 522.1L428.5 523.9L428.7 512.3L429 517L429.2 516.9L429.4 519.2L429.6 514.4L429.8 516L430 521.7L430.2 515.5L430.4 521.5L430.6 516.2L430.8 509L431 512.8L431.2 521L431.4 508.1L431.6 516.7L431.9 513.6L432.1 517.2L432.3 519.2L432.5 510.2L432.7 513.9L432.9 512.1L433.1 509L433.3 519.7L433.5 514.7L433.7 502.8L433.9 511.7L434.1 507.8L434.3 508.1L434.5 510.5L434.8 509L435 503.7L435.2 509.2L435.4 511.1L435.6 517.3L435.8 518.3L436 513.9L436.2 520.5L436.4 517.3L436.6 520.6L436.8 517.2L437 512L437.2 513L437.4 510.2L437.7 524.8L437.9 515.6L438.1 523.1L438.3 515.2L438.5 513.6L438.7 515L438.9 512.3L439.1 512.2L439.3 520.6L439.5 511.9L439.7 521.8L439.9 519.1L440.1 519.8L440.3 524L440.6 524.2L440.8 518.8L441 524.9L441.2 518.2L441.4 514.3L441.6 507.9L441.8 515.7L442 514.5L442.2 516.7L442.4 513.4L442.6 509.9L442.8 519.7L443 510.4L443.2 518.7L443.5 507.1L443.7 515.6L443.9 520.2L444.1 525.4L444.3 515.6L444.5 514.8L444.7 522L444.9 513.4L445.1 507.3L445.3 517.1L445.5 521.4L445.7 517.8L445.9 515.7L446.1 517.5L446.4 515.6L446.6 523.9L446.8 525L447 517.1L447.2 521.9L447.4 514.9L447.6 511.1L447.8 515.2L448 526.7L448.2 524.9L448.4 522.2L448.6 514.8L448.8 523.6L449 519L449.3 519.6L449.5 517L449.7 519.8L449.9 506.7L450.1 510.2L450.3 511.2L450.5 510L450.7 513.8L450.9 511.8L451.1 520.1L451.3 526.4L451.5 518.4L451.7 513.7L451.9 516.3L452.2 519L452.4 513.2L452.6 519L452.8 518.8L453 511L453.2 520.3L453.4 510.7L453.6 517.4L453.8 516L454 516.4L454.2 516.1L454.4 516.1L454.6 514.3L454.8 510.2L455.1 505.7L455.3 512.8L455.5 510.1L455.7 510.9L455.9 513.4L456.1 512.3L456.3 522L456.5 505.3L456.7 510.8L456.9 512.4L457.1 508L457.3 517.6L457.5 510.7L457.7 513.4L458 510.9L458.2 520.9L458.4 511.9L458.6 512.9L458.8 513.7L459 509.9L459.2 518.6L459.4 516.9L459.6 512.1L459.8 520.8L460 518.4L460.2 515.3L460.4 520.4L460.6 516.3L460.9 513.3L461.1 506.7L461.3 515.9L461.5 518.6L461.7 509.1L461.9 505L462.1 515.3L462.3 507.2L462.5 512.2L462.7 519.6L462.9 502.7L463.1 509.6L463.3 519.1L463.5 527.8L463.8 521L464 511.1L464.2 530.2L464.4 517.6L464.6 516.6L464.8 523.6L465 524.3L465.2 517.8L465.4 529.3L465.6 520.5L465.8 517.6L466 519L466.2 512.3L466.4 511.6L466.7 516L466.9 515.8L467.1 511.7L467.3 521.5L467.5 519.5L467.7 515L467.9 517.8L468.1 513.2L468.3 522.7L468.5 520.2L468.7 516.4L468.9 514.9L469.1 521.9L469.3 527.6L469.6 517.9L469.8 513.7L470 519.3L470.2 518.9L470.4 517.5L470.6 519.3L470.8 513.8L471 502L471.2 511L471.4 513.5L471.6 514.4L471.8 508.1L472 516.2L472.2 514.3L472.5 513.8L472.7 516.6L472.9 514.3L473.1 506.2L473.3 507.4L473.5 525.6L473.7 515L473.9 516.5L474.1 519.4L474.3 519.9L474.5 514.4L474.7 513.4L474.9 514.2L475.1 509.2L475.4 516.6L475.6 515.5L475.8 530.2L476 513.3L476.2 516.5L476.4 513.8L476.6 516.3L476.8 517.8L477 518.2L477.2 509.3L477.4 515.2L477.6 513.4L477.8 522.7L478 516.7L478.3 513.5L478.5 505.4L478.7 506.5L478.9 511.4L479.1 522.5L479.3 512.8L479.5 519.4L479.7 515.6L479.9 520.4L480.1 511L480.3 520.3L480.5 510.3L480.7 511.9L480.9 519.5L481.2 522L481.4 525.7L481.6 514.4L481.8 524.9L482 511.2L482.2 516.9L482.4 520.5L482.6 504.9L482.8 513.2L483 507.8L483.2 518.4L483.4 511.6L483.6 508.8L483.8 521.6L484.1 511.3L484.3 513L484.5 515.9L484.7 513.5L484.9 504L485.1 507.9L485.3 519.1L485.5 517.7L485.7 523.3L485.9 514.1L486.1 515.2L486.3 511.7L486.5 505.9L486.7 518.3L487 507.2L487.2 512.1L487.4 518.4L487.6 509.6L487.8 518.1L488 519L488.2 513.6L488.4 513.2L488.6 506.8L488.8 521.4L489 516.2L489.2 516.8L489.4 515.5L489.6 507.6L489.9 512.7L490.1 526.6L490.3 515.6L490.5 520.4L490.7 511.9L490.9 509.6L491.1 511.2L491.3 508.4L491.5 516L491.7 513.3L491.9 513L492.1 506.7L492.3 515.3L492.5 518.3L492.8 525.8L493 518.5L493.2 517L493.4 521.8L493.6 529.1L493.8 523.8L494 515L494.2 514.4L494.4 516.1L494.6 512.5L494.8 516.8L495 515.9L495.2 511.5L495.4 507.1L495.6 520.2L495.9 530.1L496.1 517.4L496.3 514.3L496.5 504.1L496.7 509.1L496.9 508.9L497.1 522L497.3 514.2L497.5 507.6L497.7 521L497.9 518.3L498.1 518.1L498.3 518.5L498.5 510.6L498.8 512.1L499 520.2L499.2 505.6L499.4 511.4L499.6 511.3L499.8 513.5L500 520.2L500.2 514.4L500.4 513.2L500.6 511L500.8 514L501 519.5L501.2 518.7L501.4 514L501.7 509.8L501.9 510.1L502.1 523.2L502.3 517.7L502.5 518.8L502.7 524.4L502.9 508.1L503.1 518L503.3 510.7L503.5 518.3L503.7 518L503.9 514.1L504.1 527.1L504.3 512.7L504.6 513.4L504.8 521.3L505 504.7L505.2 514.7L505.4 520L505.6 511.4L505.8 511.5L506 521.5L506.2 513L506.4 518.1L506.6 519.1L506.8 514.6L507 516.1L507.2 536.7L507.5 518.4L507.7 519.7L507.9 519.8L508.1 519.1L508.3 512.2L508.5 511.7L508.7 514.7L508.9 513.4L509.1 502.7L509.3 508.6L509.5 518.6L509.7 519.5L509.9 512.4L510.1 519.6L510.4 511.4L510.6 507.3L510.8 506.9L511 523.1L511.2 521.9L511.4 516.4L511.6 515.7L511.8 519.6L512 520.7L512.2 513L512.4 520.6L512.6 527.9L512.8 524.3L513 518L513.3 527.5L513.5 510.6L513.7 505.6L513.9 517.7L514.1 506.6L514.3 505.4L514.5 517.4L514.7 519.1L514.9 518.9L515.1 522.2L515.3 518.8L515.5 518.2L515.7 519.3L515.9 520.8L516.2 521.7L516.4 518.4L516.6 514.1L516.8 511.7L517 521.2L517.2 518.5L517.4 513.3L517.6 519.5L517.8 508.5L518 515.2L518.2 516.8L518.4 520.2L518.6 506.4L518.8 504.6L519.1 517.4L519.3 517.7L519.5 518.9L519.7 516.2L519.9 517.6L520.1 524.6L520.3 503.2L520.5 511.3L520.7 507.1L520.9 512.9L521.1 518.1L521.3 513.2L521.5 519.4L521.7 519.1L522 512.8L522.2 512.6L522.4 512.8L522.6 516.1L522.8 517.6L523 519.6L523.2 512.7L523.4 522.5L523.6 520L523.8 524.9L524 527L524.2 526.3L524.4 518.2L524.6 521.6L524.9 509.9L525.1 509.4L525.3 510.9L525.5 505.3L525.7 510.2L525.9 510.3L526.1 512.2L526.3 507.7L526.5 515.7L526.7 515.8L526.9 514.2L527.1 518.7L527.3 511.7L527.5 511.1L527.8 520.4L528 513.1L528.2 508.6L528.4 511L528.6 514.4L528.8 507.7L529 514.4L529.2 509.5L529.4 520.3L529.6 504L529.8 510.8L530 514.5L530.2 514.7L530.4 521.4L530.7 522L530.9 507.3L531.1 512.4L531.3 510.4L531.5 508.8L531.7 517.9L531.9 516.9L532.1 522.3L532.3 507.2L532.5 513.8L532.7 503.9L532.9 511.1L533.1 510.3L533.3 511.9L533.6 518.2L533.8 512.2L534 514.4L534.2 520.1L534.4 518.1L534.6 524.2L534.8 518.2L535 516.1L535.2 522.8L535.4 514.1L535.6 515.6L535.8 511.4L536 514.1L536.2 513.9L536.5 512.2L536.7 520.6L536.9 510.7L537.1 516.5L537.3 511L537.5 512.9L537.7 518.7L537.9 510.8L538.1 513.6L538.3 519.2L538.5 514.6L538.7 522.8L538.9 531.6L539.1 525.8L539.4 516.7L539.6 525.7L539.8 521.2L540 527.1L540.2 513.8L540.4 527.6L540.6 513.9L540.8 506.3L541 506.4L541.2 507.9L541.4 504.3L541.6 512.6L541.8 507.4L542 514.3L542.3 511.2L542.5 512.2L542.7 497.6L542.9 519.6L543.1 520.3L543.3 515.6L543.5 516.5L543.7 515.5L543.9 522.9L544.1 521.9L544.3 512.2L544.5 519L544.7 518.9L544.9 512.4L545.2 516.5L545.4 512.8L545.6 502.8L545.8 510.6L546 511.7L546.2 515.1L546.4 521.4L546.6 503.5L546.8 517.2L547 505.2L547.2 517L547.4 517.2L547.6 519.7L547.8 522L548.1 519.9L548.3 513.7L548.5 515L548.7 514.6L548.9 515.3L549.1 522.5L549.3 518.4L549.5 506.5L549.7 506.6L549.9 506.5L550.1 517.3L550.3 508.2L550.5 513.2L550.7 510.1L551 510.7L551.2 510.7L551.4 516.8L551.6 517.6L551.8 510.4L552 517.4L552.2 515.5L552.4 520.9L552.6 513.7L552.8 513.1L553 518.7L553.2 528.8L553.4 519.3L553.6 506.7L553.9 519.1L554.1 521.1L554.3 513.3L554.5 514.9L554.7 510L554.9 526.9L555.1 520.8L555.3 511L555.5 511.2L555.7 514.6L555.9 525.6L556.1 518.3L556.3 522.1L556.5 512.7L556.8 532L557 515.8L557.2 520L557.4 525.1L557.6 519.7L557.8 514.8L558 527.4L558.2 517.5L558.4 518.9L558.6 512.5L558.8 511.9L559 525.4L559.2 510.5L559.4 505.7L559.7 515.9L559.9 509.9L560.1 513.6L560.3 520.8L560.5 517.4L560.7 512.5L560.9 516.3L561.1 498.8L561.3 518.5L561.5 516.9L561.7 514.3L561.9 507.5L562.1 511.1L562.3 516.6L562.6 514.6L562.8 516.5L563 522.5L563.2 518.1L563.4 518.2L563.6 517.5L563.8 509.1L564 510.5L564.2 502L564.4 518.4L564.6 511.9L564.8 513.9L565 519.1L565.2 514.7L565.5 508.8L565.7 502.4L565.9 509.6L566.1 505.5L566.3 513.4L566.5 514.1L566.7 513.6L566.9 513.1L567.1 514.1L567.3 520.3L567.5 510.7L567.7 514.3L567.9 513.1L568.1 516.8L568.4 522.7L568.6 512.5L568.8 519.3L569 519.2L569.2 518.1L569.4 508.1L569.6 520.6L569.8 524.7"/>
<path class="b" d="M641.7 510.6L641.9 530.2L642.1 497L642.3 531.6L642.5 528.8L642.7 519.8L642.9 534.8L643.1 499.1L643.3 523.9L643.5 522.3L643.7 516.3L643.9 518.4L644.1 507.2L644.3 500.8L644.5 521.2L644.7 521.5L644.9 516L645.1 517.9L645.3 525.7L645.5 529.2L645.6 522.8L645.8 516.2L646 515.9L646.2 504L646.4 518.4L646.6 524.5L646.8 511.9L647 521.2L647.2 509.9L647.4 516.9L647.6 516.4L647.8 519L648 517.6L648.2 525.5L648.4 517.3L648.6 526.2L648.8 530.5L649 514L649.2 511.6L649.4 516.7L649.6 519.1L649.8 522.5L650 520.5L650.2 527.6L650.4 524L650.6 517.6L650.8 518.6L651 524L651.2 531.7L651.4 508.2L651.6 526.2L651.8 513.1L652 528L652.2 528L652.4 518.8L652.6 521.3L652.8 514.4L653 529.8L653.1 523.3L653.3 522.1L653.5 518.8L653.7 546.7L653.9 510.2L654.1 528.2L654.3 530.3L654.5 524.3L654.7 524.7L654.9 515.7L655.1 526.5L655.3 519.3L655.5 527.1L655.7 516.8L655.9 525.9L656.1 519.3L656.3 534.1L656.5 524.2L656.7 529.1L656.9 523.9L657.1 513.5L657.3 520.9L657.5 527.7L657.7 519.1L657.9 539.8L658.1 515.1L658.3 501.3L658.5 524.7L658.7 515.9L658.9 518.8L659.1 511.8L659.3 520.5L659.5 520L659.7 525.9L659.9 512L660.1 529.2L660.3 504.6L660.5 496.3L660.6 524.8L660.8 536.7L661 515.1L661.2 526.4L661.4 520.7L661.6 529.4L661.8 521.3L662 524L662.2 507.3L662.4 516L662.6 532.5L662.8 512.9L663 525.7L663.2 520.8L663.4 513.5L663.6 518.3L663.8 522.8L664 516.2L664.2 514.8L664.4 526.7L664.6 525.5L664.8 524.4L665 526.3L665.2 518.1L665.4 523.1L665.6 529.2L665.8 508.8L666 525L666.2 521.8L666.4 533.7L666.6 520.8L666.8 516L667 519.3L667.2 527.2L667.4 528.7L667.6 517.2L667.8 529.1L668 532L668.1 514.3L668.3 521.2L668.5 524.5L668.7 506.6L668.9 519.4L669.1 520.7L669.3 530.3L669.5 511.6L669.7 521.2L669.9 513.8L670.1 518.3L670.3 519.4L670.5 521.4L670.7 508.1L670.9 520L671.1 519.7L671.3 522.9L671.5 511.5L671.7 511.5L671.9 528.3L672.1 517.8L672.3 522.9L672.5 525.8L672.7 513.6L672.9 525.9L673.1 526.8L673.3 532.3L673.5 515.3L673.7 523L673.9 499.1L674.1 517.2L674.3 520.7L674.5 514.6L674.7 524.9L674.9 517.8L675.1 523.7L675.3 506.4L675.5 527.2L675.6 513.4L675.8 524.2L676 527.3L676.2 519L676.4 517.4L676.6 517.5L676.8 520.3L677 528.7L677.2 515.6L677.4 520.6L677.6 518.6L677.8 526L678 519.7L678.2 529.1L678.4 506L678.6 534.2L678.8 503.3L679 513.7L679.2 516.9L679.4 521.7L679.6 506.6L679.8 511.2L680 522.7L680.2 515.8L680.4 517.7L680.6 520.3L680.8 515.1L681 526.7L681.2 518.4L681.4 514L681.6 526.6L681.8 523.4L682 514.4L682.2 515.2L682.4 517.8L682.6 525.9L682.8 508.7L683 520.8L683.1 514.2L683.3 537L683.5 508.8L683.7 517.3L683.9 521.1L684.1 533.5L684.3 524.9L684.5 530.3L684.7 539.9L684.9 521.7L685.1 519.3L685.3 519.1L685.5 511.9L685.7 505.9L685.9 528.2L686.1 526.3L686.3 511.3L686.5 526.4L686.7 526.6L686.9 528.6L687.1 517.3L687.3 528.1L687.5 516.3L687.7 513L687.9 519L688.1 518.9L688.3 523.7L688.5 513.7L688.7 512.2L688.9 516.3L689.1 517.9L689.3 512.3L689.5 528.1L689.7 519.1L689.9 523.9L690.1 530.1L690.3 527.9L690.5 524.8L690.6 504.7L690.8 520.2L691 505.5L691.2 513.1L691.4 542.3L691.6 505.2L691.8 520L692 517.8L692.2 526.5L692.4 526L692.6 510.7L692.8 523.5L693 513.9L693.2 527.2L693.4 529.4L693.6 528.2L693.8 534.4L694 515.2L694.2 510.7L694.4 514.2L694.6 520.9L694.8 532L695 520.2L695.2 526.2L695.4 517.8L695.6 519.6L695.8 522L696 531.4L696.2 510.4L696.4 534.4L696.6 525.2L696.8 515.9L697 526.4L697.2 521.2L697.4 530.9L697.6 519.7L697.8 531.7L698 522L698.1 525.6L698.3 517.5L698.5 520L698.7 529.1L698.9 523.6L699.1 515.9L699.3 525.1L699.5 530.8L699.7 518.5L699.9 510.3L700.1 524.5L700.3 523L700.5 501.3L700.7 516.9L700.9 522.5L701.1 528.8L701.3 523.6L701.5 514.3L701.7 526.6L701.9 538.2L702.1 525.3L702.3 515.2L702.5 524.7L702.7 520.8L702.9 535L703.1 526.8L703.3 499.4L703.5 530.3L703.7 517L703.9 529.7L704.1 522.4L704.3 513L704.5 523.9L704.7 510L704.9 518.6L705.1 522.8L705.3 506.4L705.5 535.1L705.6 511.5L705.8 528.4L706 523.6L706.2 513.6L706.4 511.3L706.6 537.6L706.8 522.4L707 514.6L707.2 522.9L707.4 517.6L707.6 528.8L707.8 507L708 522.1L708.2 528.5L708.4 515.5L708.6 509.7L708.8 529.9L709 509.9L709.2 511.2L709.4 520.4L709.6 520.7L709.8 536.4L710 502.7L710.2 529L710.4 508.1L710.6 531.2L710.8 521.8L711 513.9L711.2 508.3L711.4 538.1L711.6 514.1L711.8 527.8L712 520.7L712.2 517.2L712.4 508.1L712.6 524.7L712.8 509.7L713 532.4L713.1 521.6L713.3 530L713.5 527.7L713.7 522.5L713.9 524.8L714.1 528.3L714.3 508.2L714.5 521.5L714.7 531.8L714.9 528.1L715.1 516.1L715.3 538.1L715.5 515.6L715.7 524.8L715.9 519.8L716.1 507L716.3 527.8L716.5 524.7L716.7 524.6L716.9 527L717.1 526.4L717.3 518.8L717.5 515.7L717.7 515.8L717.9 512.9L718.1 513.8L718.3 525L718.5 521.8L718.7 526.5L718.9 517.5L719.1 525.6L719.3 514.6L719.5 516.5L719.7 516.2L719.9 524.1L720.1 514.1L720.3 531.1L720.5 522L720.7 520.8L720.8 512.5L721 521.7L721.2 524.8L721.4 519.4L721.6 523.1L721.8 524.9L722 513.8L722.2 530L722.4 513.3L722.6 521L722.8 523.6L723 524.4L723.2 525.4L723.4 522.3L723.6 520.3L723.8 530.9L724 524.4L724.2 509.1L724.4 516.1L724.6 518.5L724.8 515.3L725 521.1L725.2 527.7L725.4 524.2L725.6 515.2L725.8 521.3L726 514.6L726.2 516.8L726.4 521.1L726.6 523.2L726.8 521.6L727 527L727.2 520L727.4 524.1L727.6 515.3L727.8 516.2L728 511.2L728.2 523.4L728.3 520.5L728.5 529.8L728.7 523.9L728.9 525.8L729.1 530.1L729.3 517.1L729.5 514.3L729.7 519.2L729.9 528.2L730.1 523.5L730.3 516L730.5 521.5L730.7 512.1L730.9 515.9L731.1 521.7L731.3 532.6L731.5 514.8L731.7 520.5L731.9 524.2L732.1 515.1L732.3 520.3L732.5 515.5L732.7 525.5L732.9 499.9L733.1 516.8L733.3 515.1L733.5 519.1L733.7 530L733.9 515.4L734.1 525L734.3 525.2L734.5 516.8L734.7 526.1L734.9 519.6L735.1 527.2L735.3 515.7L735.5 524.1L735.7 524.6L735.8 509.6L736 527.8L736.2 505.3L736.4 525.3L736.6 522.7L736.8 535.8L737 525.1L737.2 516.1L737.4 520.9L737.6 520.6L737.8 525.2L738 515.9L738.2 509.2L738.4 523.7L738.6 518.9L738.8 537.5L739 521.5L739.2 531L739.4 524.4L739.6 534.4L739.8 526.8L740 520.3L740.2 517.2L740.4 508.3L740.6 535.4L740.8 523.6L741 545.3L741.2 532L741.4 533.9L741.6 522.6L741.8 518.4L742 525.8L742.2 535.5L742.4 524.1L742.6 532.4L742.8 530.3L743 536.3L743.2 529.7L743.3 543.5L743.5 515.9L743.7 517.7L743.9 522.3L744.1 529.7L744.3 514.4L744.5 529.8L744.7 533.2L744.9 534.6L745.1 536.4L745.3 538.4L745.5 530.1L745.7 524.8L745.9 546.9L746.1 506.1L746.3 531.1L746.5 520L746.7 541.4L746.9 532.1L747.1 541.6L747.3 549.6L747.5 500.9L747.7 528L747.9 525.2L748.1 525.2L748.3 535.5L748.5 536.7L748.7 522.6L748.9 532.5L749.1 520.1L749.3 532.5L749.5 530.9L749.7 528.6L749.9 543.1L750.1 543.9L750.3 531.3L750.5 517.4L750.7 533.8L750.8 555L751 544.4L751.2 535.1L751.4 521.6L751.6 521.4L751.8 543.3L752 539.8L752.2 546.1L752.4 538.1L752.6 532.9L752.8 544.1L753 534.9L753.2 525.4L753.4 538.1L753.6 536.4L753.8 541.4L754 542L754.2 538.6L754.4 545.7L754.6 539.4L754.8 522.5L755 546L755.2 542.2L755.4 530.1L755.6 549.5L755.8 540.2L756 551.7L756.2 522.2L756.4 533.7L756.6 539.9L756.8 548.4L757 539.8L757.2 526.5L757.4 509.4L757.6 526.2L757.8 530.2L758 520.3L758.2 538.7L758.3 524.4L758.5 511.2L758.7 533.8L758.9 531.3L759.1 520.7L759.3 509.5L759.5 517.5L759.7 527.1L759.9 528.1L760.1 520.4L760.3 524.5L760.5 511.2L760.7 528.6L760.9 533.4L761.1 520L761.3 524.8L761.5 528L761.7 523.4L761.9 532.8L762.1 521L762.3 525.9L762.5 517.8L762.7 516L762.9 518.5L763.1 521.1L763.3 520.9L763.5 531.3L763.7 525L763.9 515.5L764.1 524.9L764.3 514.9L764.5 516.3L764.7 521L764.9 514.3L765.1 533.1L765.3 515.9L765.5 512.8L765.7 513.4L765.8 522.5L766 520.5L766.2 517.5L766.4 514L766.6 522.2L766.8 516.1L767 518L767.2 525.6L767.4 517.1L767.6 517.8L767.8 521.2L768 496.9L768.2 516.5L768.4 488.8L768.6 510.1L768.8 480.7L769 509.7L769.2 472.5L769.4 512.3L769.6 464.4L769.8 508.1L770 456.3L770.2 518.3L770.4 449L770.6 510.5L770.8 449L771 513L771.2 449L771.4 512.3L771.6 449L771.8 505L772 449L772.2 509.8L772.4 451.3L772.6 513.8L772.8 459.4L773 516.5L773.2 467.5L773.3 513.5L773.5 475.7L773.7 512L773.9 483.8L774.1 515.2L774.3 491.9L774.5 514.6L774.7 500L774.9 519.4L775.1 520.6L775.3 522.8L775.5 511.1L775.7 521.2L775.9 521L776.1 524.5L776.3 521.1L776.5 513.1L776.7 523.4L776.9 524.8L777.1 521.9L777.3 518.8L777.5 511.7L777.7 524.7L777.9 520.3L778.1 523.5L778.3 518.6L778.5 519L778.7 515.3L778.9 519.5L779.1 515.9L779.3 512.4L779.5 522.4L779.7 522L779.9 522.8L780.1 523.7L780.3 522L780.5 516.7L780.7 521.1L780.8 518.8L781 516.6L781.2 525.3L781.4 514.6L781.6 526.4L781.8 515L782 521.8L782.2 519.7L782.4 514.8L782.6 520.8L782.8 523.7L783 513.5L783.2 525.4L783.4 509.5L783.6 522.2L783.8 525.4L784 532.4L784.2 520.9L784.4 514.1L784.6 515.5L784.8 517L785 518.5L785.2 531.6L785.4 528.1L785.6 511.2L785.8 518.7L786 522.6L786.2 528.7L786.4 521.4L786.6 512.6L786.8 517.4L787 522.8L787.2 511.3L787.4 525.9L787.6 519.4L787.8 507.8L788 518.1L788.2 526.8L788.4 518.2L788.5 516.1L788.7 513.4L788.9 517.3L789.1 519.4L789.3 514L789.5 514.7L789.7 525.8L789.9 520.1L790.1 519L790.3 509.7L790.5 518.6L790.7 517.1L790.9 523.5L791.1 523.1L791.3 529.2L791.5 512.8L791.7 522.5L791.9 518.9L792.1 506.7L792.3 527.7L792.5 519.9L792.7 529.1L792.9 529.2L793.1 506.4L793.3 521.1L793.5 510.1L793.7 512L793.9 516.9L794.1 520.7L794.3 510.3L794.5 518.9L794.7 521.2L794.9 514.7L795.1 518.4L795.3 532.2L795.5 514.4L795.7 506L795.9 541.6L796 512.3L796.2 507.9L796.4 511L796.6 517.3L796.8 527.4L797 520.5L797.2 520.9L797.4 526L797.6 535.6L797.8 520L798 518.6L798.2 531.2L798.4 512.3L798.6 514.6L798.8 517.3L799 526.8L799.2 512.3L799.4 501.1L799.6 519.2L799.8 523.9L800 534.8L800.2 515.8L800.4 521.2L800.6 525.8L800.8 537.6L801 518.3L801.2 511L801.4 527.9L801.6 514.1L801.8 517.2L802 519.2L802.2 512.6L802.4 520.1L802.6 521.8L802.8 517.4L803 510.6L803.2 510.1L803.4 526.3L803.5 519.8L803.7 518.3L803.9 514.8L804.1 523.4L804.3 510.3L804.5 521.6L804.7 512L804.9 530.4L805.1 526.8L805.3 523.2L805.5 517.1L805.7 521.5L805.9 515.8L806.1 518.3L806.3 511.5L806.5 513L806.7 512.4L806.9 529.5L807.1 526.4L807.3 527.3L807.5 518.5L807.7 529.1L807.9 521L808.1 512.5L808.3 508.2L808.5 522.1L808.7 516.8L808.9 523.5L809.1 509.4L809.3 516.2L809.5 536.4L809.7 527.2L809.9 511.4L810.1 515.4L810.3 517.4L810.5 514.8L810.7 523.8L810.9 528.8L811 514.7L811.2 522.3L811.4 516.3L811.6 533.6L811.8 530L812 516.9L812.2 526.2L812.4 511.5L812.6 525.5L812.8 517L813 506.7L813.2 513.3L813.4 528.8L813.6 514.8L813.8 508.1L814 511.1L814.2 523.7L814.4 501.4L814.6 508.2L814.8 512.3L815 509.4L815.2 517L815.4 523.3L815.6 522.2L815.8 517.5L816 513.3L816.2 528L816.4 533.6L816.6 509.6L816.8 518.2L817 511.2L817.2 515.8L817.4 517.9L817.6 520L817.8 512.2L818 519.7L818.2 513.8L818.4 506.1L818.5 518.7L818.7 510.8L818.9 519.4L819.1 508.8L819.3 518L819.5 523.5L819.7 518.6L819.9 518.4L820.1 507.4L820.3 521.5L820.5 520.1L820.7 515.8L820.9 516.8L821.1 510.8L821.3 526.4L821.5 516.4L821.7 509.9L821.9 525.2L822.1 525.3L822.3 516.3L822.5 514.5L822.7 518.4L822.9 518L823.1 517.8L823.3 516L823.5 515.9L823.7 513.3L823.9 516.9L824.1 524.1L824.3 528L824.5 522.6L824.7 528.4L824.9 516.1L825.1 518.6L825.3 524.6L825.5 505.3L825.7 504.2L825.9 521.6L826 514.3L826.2 519.5L826.4 527.6L826.6 514.4L826.8 525.1L827 525.7L827.2 521.6L827.4 509.1L827.6 523L827.8 524.6L828 509.3L828.2 520.1L828.4 522.8L828.6 510.5L828.8 528.2L829 522.5L829.2 523.9L829.4 515.1L829.6 521.4L829.8 509.9L830 525.2L830.2 528.7L830.4 508.5L830.6 522.9L830.8 520.7L831 506.1L831.2 523.9L831.4 515.6L831.6 511.4L831.8 521.7L832 512.3L832.2 521.5L832.4 526.5L832.6 526.7L832.8 518L833 518.8L833.2 519.3L833.4 523.3L833.5 517.6L833.7 526.1L833.9 520.7L834.1 523.4L834.3 522.2L834.5 528.9L834.7 530.7L834.9 525.4L835.1 515.4L835.3 497.9L835.5 506.6L835.7 524.1L835.9 514.7L836.1 521.1L836.3 510.2L836.5 525.4L836.7 507.5L836.9 529.1L837.1 525.3L837.3 524.4L837.5 531.1L837.7 519.4L837.9 516.4L838.1 538.4L838.3 509.4L838.5 529.5L838.7 513.5L838.9 528.1L839.1 511.9L839.3 525.8L839.5 506.8L839.7 534L839.9 537.4L840.1 516.3L840.3 528.3L840.5 511.9L840.7 527.5L840.9 525L841 528.7L841.2 527.9L841.4 519.2L841.6 517.4L841.8 521.4L842 531.9L842.2 509.3L842.4 526.5L842.6 516.1L842.8 510.2L843 515.5L843.2 506.7L843.4 526.8L843.6 518L843.8 530L844 514.9L844.2 535.8L844.4 520.4L844.6 509.4L844.8 516.1L845 515.5L845.2 522.9L845.4 513.9L845.6 508.7L845.8 525.5L846 522.3L846.2 523.3L846.4 518L846.6 521.9L846.8 508.2L847 529.2L847.2 527.2L847.4 525.8L847.6 519.3L847.8 524.6L848 520.3L848.2 521.4L848.4 523.7L848.5 503.6L848.7 517.1L848.9 512.2L849.1 526.2L849.3 520.5L849.5 510.7L849.7 505L849.9 521.9L850.1 522.7L850.3 523.3L850.5 532L850.7 528.9L850.9 509.3L851.1 519.3L851.3 529.1L851.5 518.2L851.7 520.1L851.9 518.4L852.1 519.5L852.3 526.3L852.5 520.3L852.7 523.1L852.9 514.3L853.1 519.3L853.3 505.7L853.5 512.8L853.7 515.6L853.9 515.5L854.1 517.9L854.3 525.3L854.5 519.9L854.7 518.1L854.9 524.5L855.1 517.4L855.3 527.6L855.5 520.4L855.7 522.7L855.9 522L856 524L856.2 513.9L856.4 513.2L856.6 517.2L856.8 520.4L857 512.9L857.2 525.4L857.4 518.2L857.6 520.4L857.8 538.4L858 512.2L858.2 518.6L858.4 523.9L858.6 514.5L858.8 528L859 515.2L859.2 516.2L859.4 520.4L859.6 516.9L859.8 534.2L860 522.6L860.2 524.4L860.4 521.6L860.6 531L860.8 521.3L861 516.1L861.2 533.9L861.4 505.9L861.6 512.8L861.8 511.4L862 519.9L862.2 514.9L862.4 519.7L862.6 530.7L862.8 511.8L863 515.6L863.2 532L863.4 519.4L863.6 520.4L863.7 523.9L863.9 519.8L864.1 531.5L864.3 520L864.5 516.4L864.7 524.4L864.9 524.2L865.1 520.5L865.3 523L865.5 525.4L865.7 517.1L865.9 534L866.1 516.7L866.3 523.7L866.5 517.8L866.7 525.5L866.9 515.9L867.1 520.9L867.3 512.8L867.5 525.9L867.7 527.9L867.9 518.5L868.1 515.4L868.3 518.4L868.5 522.1L868.7 514.1L868.9 522.1L869.1 531.8L869.3 523.8L869.5 523.7L869.7 521.9L869.9 518.1L870.1 516L870.3 530L870.5 506.6L870.7 527.3L870.9 527.3L871.1 523.9L871.2 533.6L871.4 515.7L871.6 526.2L871.8 524.7L872 533.1L872.2 536.1L872.4 525.6L872.6 530.4L872.8 526.2L873 542.2L873.2 535.2L873.4 543L873.6 538.7L873.8 536.5L874 516L874.2 519L874.4 530.1L874.6 538L874.8 522.9L875 546.5L875.2 531L875.4 536.9L875.6 532.5L875.8 538.2L876 532.2L876.2 544.5L876.4 531.6L876.6 539.5L876.8 547.8L877 533.7L877.2 544.1L877.4 524.8L877.6 548.8L877.8 532.2L878 543.4L878.2 543.9L878.4 528.9L878.6 511.9L878.7 538L878.9 530.8L879.1 530.1L879.3 534.1L879.5 523L879.7 535.8L879.9 521.4L880.1 527.5L880.3 531.9L880.5 525.7L880.7 540L880.9 535.7L881.1 523.2L881.3 510.8L881.5 506L881.7 514.2L881.9 521.8L882.1 524.7L882.3 527.3L882.5 533.3L882.7 525L882.9 526L883.1 531L883.3 536.3L883.5 527.5L883.7 520.5L883.9 514.2L884.1 515.9L884.3 519.8L884.5 531L884.7 541.4L884.9 529.4L885.1 523.1L885.3 520.8L885.5 526.9L885.7 523.6L885.9 513.4L886.1 524.9L886.2 513.1L886.4 523.8L886.6 518.2L886.8 531.4L887 538L887.2 516.3L887.4 516.4L887.6 523L887.8 534.1L888 521.8L888.2 519L888.4 509.1L888.6 518.5L888.8 533.1L889 533.3L889.2 527.6L889.4 525.8L889.6 529.2L889.8 528.7L890 534L890.2 514.7L890.4 515.5L890.6 528.9L890.8 525.2L891 510.7L891.2 518.8L891.4 514.9L891.6 514.5L891.8 527.1L892 524.3L892.2 527.3L892.4 521.7L892.6 527.3L892.8 503.3L893 515.2L893.2 517.4L893.4 516.2L893.6 519.4L893.7 520.1L893.9 524.8L894.1 528.4L894.3 511L894.5 516.1L894.7 534.6L894.9 517.2L895.1 525L895.3 524.3L895.5 525.2L895.7 525.3L895.9 508.6L896.1 530.7L896.3 526.3L896.5 528.7L896.7 521.7L896.9 522.6L897.1 527.5L897.3 518.2L897.5 523L897.7 520.6L897.9 523L898.1 523L898.3 533.8L898.5 525.1L898.7 523.9L898.9 532.6L899.1 515.4L899.3 516.5L899.5 511.5L899.7 525L899.9 517.7L900.1 529.2L900.3 531.3L900.5 520.1L900.7 512.2L900.9 516.1L901.1 517.2L901.2 520.1L901.4 518.4L901.6 513.1L901.8 507.7L902 513.5L902.2 518.9L902.4 522.9L902.6 517.8L902.8 508.1L903 518.6L903.2 511.8L903.4 520.6L903.6 523.7L903.8 511.6L904 525.1L904.2 513.6L904.4 535L904.6 513.7L904.8 524.1L905 514.2L905.2 519L905.4 517.7L905.6 522.5L905.8 530.2L906 529.2L906.2 514.6L906.4 526.6L906.6 530.6L906.8 522.7L907 519.7L907.2 517.5L907.4 531.3L907.6 524.2L907.8 504.8L908 514.1L908.2 533.7L908.4 521.7L908.6 521.6L908.7 525.5L908.9 525.7L909.1 518.1L909.3 522.1L909.5 535.3L909.7 530.3L909.9 521.9L910.1 505.7L910.3 528.5L910.5 523.8L910.7 524.4L910.9 516.9L911.1 512.3L911.3 528.1L911.5 513.7L911.7 528.4L911.9 513.9L912.1 519.2L912.3 523.7L912.5 516.1L912.7 517.9L912.9 515.8L913.1 524.6L913.3 510.1L913.5 528L913.7 532L913.9 528.9L914.1 508L914.3 519.2L914.5 522.7L914.7 519.8L914.9 509.2L915.1 517.6L915.3 523.6L915.5 517.7L915.7 516.5L915.9 515.3L916.1 518.4L916.2 508.8L916.4 530.9L916.6 511.3L916.8 526.1L917 524.3L917.2 521L917.4 519.4L917.6 516.4L917.8 522.4L918 516.2L918.2 517.5L918.4 517.4L918.6 521.4L918.8 506.9L919 519.7L919.2 518.8L919.4 518L919.6 527.7L919.8 531.1L920 522.6L920.2 532.5L920.4 520L920.6 531.7L920.8 523.6L921 524.2L921.2 517L921.4 519.7L921.6 527.9L921.8 521L922 516.4L922.2 510.7L922.4 520.2L922.6 509.7L922.8 518.6L923 523.8L923.2 529.1L923.4 527.4L923.6 530.7L923.7 515.6L923.9 515.4L924.1 515.7L924.3 518.8L924.5 530.6L924.7 523.1L924.9 518.6L925.1 526.7L925.3 513.3L925.5 522L925.7 521.8L925.9 521L926.1 519L926.3 523.1L926.5 510.4L926.7 522.4L926.9 524.8L927.1 521.1L927.3 512.6L927.5 522.6L927.7 517.5L927.9 522.7L928.1 522.5L928.3 530.5L928.5 513.7L928.7 528.1L928.9 516.9L929.1 515.5L929.3 519.2L929.5 520.1L929.7 517.8L929.9 529L930.1 529.8L930.3 514.5L930.5 520L930.7 530.9L930.9 539.8L931.1 524.5L931.3 520.6L931.4 526.7L931.6 521.2L931.8 519.2L932 526.5L932.2 523.4L932.4 539.2L932.6 515.8L932.8 528.3L933 515.7L933.2 520.5L933.4 523.3L933.6 519.6L933.8 517.7L934 514.8L934.2 516.3L934.4 524.7L934.6 507.9L934.8 517.4L935 515L935.2 515.7L935.4 529L935.6 524.1L935.8 524.5L936 521.2L936.2 512.7L936.4 519.4L936.6 509.2L936.8 515.8L937 512.1L937.2 528.4L937.4 523.6L937.6 524L937.8 515.4L938 522.6L938.2 520.9L938.4 526.2L938.6 516.4L938.8 511.6L938.9 509.7L939.1 526.5L939.3 524.8L939.5 536.9L939.7 520.2L939.9 526.1L940.1 518L940.3 520.1L940.5 525.1L940.7 527.5L940.9 528.5L941.1 529.3L941.3 529.4L941.5 522.2L941.7 528.2L941.9 525.1L942.1 526.1L942.3 518.6L942.5 525.6L942.7 527.7L942.9 523.6L943.1 522.8L943.3 514.8L943.5 524.5L943.7 520.7L943.9 523.4L944.1 520.1L944.3 518.2L944.5 517.1L944.7 521.8L944.9 523L945.1 527.5L945.3 515.5L945.5 516.8L945.7 511.9L945.9 521.6L946.1 526L946.3 519L946.4 526.4L946.6 525.3L946.8 515.9L947 509.6L947.2 510.7L947.4 522.1L947.6 507.8L947.8 522.8L948 522.2L948.2 524.6L948.4 524.7L948.6 522.2L948.8 526.9L949 517.6L949.2 501.2L949.4 524.4L949.6 524.5L949.8 514.9L950 518.2L950.2 523.6L950.4 510.3L950.6 526L950.8 516.8L951 530.4L951.2 516.3L951.4 522.2L951.6 513.1L951.8 511.8L952 525.7L952.2 519.6L952.4 519.7L952.6 514.5L952.8 521.8L953 532.7L953.2 511L953.4 526.6L953.6 513.8L953.8 520.9L953.9 533L954.1 526L954.3 517.2L954.5 522L954.7 519.1L954.9 522.2L955.1 524.3L955.3 520.3L955.5 519.4L955.7 521.7L955.9 526.1L956.1 526.8L956.3 508L956.5 521.2L956.7 528.3L956.9 520.1L957.1 519.1L957.3 523.9L957.5 521L957.7 515.1L957.9 509L958.1 528L958.3 523.7L958.5 516.9L958.7 517.8L958.9 518.4L959.1 505.7L959.3 528.4L959.5 514.6L959.7 531.8L959.9 526L960.1 510.2L960.3 515.1L960.5 513.1L960.7 519.6L960.9 520.1L961.1 510.2L961.3 526L961.4 512.6L961.6 523.5L961.8 526.2L962 516.7L962.2 508.8L962.4 531.1L962.6 524.3L962.8 525.1L963 510.2L963.2 514.6L963.4 525.9L963.6 526.4L963.8 508.2L964 533.6L964.2 511L964.4 513.7L964.6 525.7L964.8 508.8L965 527.4L965.2 517.7L965.4 514.1L965.6 522L965.8 513.3L966 516L966.2 536.9L966.4 517.7L966.6 513.4L966.8 520.1L967 525.9L967.2 521.7L967.4 498.8L967.6 518.6L967.8 522.6L968 517.8L968.2 532.5L968.4 526.5L968.6 526.2L968.8 518.6L968.9 525.8L969.1 517.4L969.3 511.3L969.5 529.9L969.7 524.1L969.9 524.7L970.1 507.5L970.3 513.9L970.5 526L970.7 514L970.9 509.1L971.1 522.5L971.3 515.4L971.5 504L971.7 528L971.9 524.2L972.1 520.6L972.3 520.8L972.5 518.9L972.7 535.6L972.9 536.8L973.1 527.7L973.3 505.5L973.5 525.4L973.7 532L973.9 529.2L974.1 527.8L974.3 521.2L974.5 505.4L974.7 527L974.9 517.5L975.1 516.1L975.3 510.4L975.5 522.5L975.7 522.7L975.9 523.5L976.1 507.1L976.3 511.7L976.4 515.8L976.6 520.8L976.8 514.3L977 525.4L977.2 525.2L977.4 520.2L977.6 515.1L977.8 519.7L978 525L978.2 518.3L978.4 517.5L978.6 511.1L978.8 511.6L979 527.9L979.2 521.9L979.4 518.4L979.6 520.7L979.8 521.7L980 519.4L980.2 531.7L980.4 517.9L980.6 528.1L980.8 514.1L981 523.1L981.2 524.2L981.4 506.1L981.6 522.6L981.8 532.6L982 521.7L982.2 537L982.4 524.6L982.6 522.3L982.8 536.7L983 525.4L983.2 520.4L983.4 519.8L983.6 515L983.8 517.4L983.9 525.6L984.1 521.8L984.3 522.4L984.5 514L984.7 516.5L984.9 518.8L985.1 526L985.3 528.3L985.5 517.2L985.7 514.7L985.9 534.6L986.1 527.1L986.3 515.1L986.5 514.7L986.7 519L986.9 509.4L987.1 512.3L987.3 527L987.5 521.4L987.7 528.9L987.9 529.9L988.1 523.5L988.3 518.4L988.5 512.2L988.7 517.6L988.9 518.1L989.1 519.4L989.3 514.5L989.5 529L989.7 515L989.9 520.6L990.1 510.5L990.3 535.9L990.5 513.3L990.7 520.2L990.9 513.6L991.1 526.9L991.3 523.1L991.4 525.7L991.6 528.5L991.8 526.5L992 520.6L992.2 522.3L992.4 516.3L992.6 513.3L992.8 526.1L993 503.2L993.2 517L993.4 519.5L993.6 525.4L993.8 518.5L994 519.2L994.2 515.6L994.4 521L994.6 524.3L994.8 517.3L995 519L995.2 526.9L995.4 524.2L995.6 515.9L995.8 525.8L996 530L996.2 518L996.4 515.6L996.6 512.3L996.8 515L997 518.5L997.2 512.4L997.4 532.9L997.6 509.7L997.8 524.7L998 515.2L998.2 522.3L998.4 521.6L998.6 520.8L998.8 524L998.9 522.7L999.1 518.5L999.3 524.1L999.5 518L999.7 522L999.9 506.5L1000.1 527.6L1000.3 534.4L1000.5 535.2L1000.7 522.7L1000.9 535.2L1001.1 535.4L1001.3 541.5L1001.5 538.7L1001.7 539.1L1001.9 554.2L1002.1 548.7L1002.3 538.5L1002.5 523.7L1002.7 535"/>
<path class="b" d="M1073.3 519.8L1073.5 534.4L1073.7 519.4L1073.9 541.9L1074.1 513.7L1074.2 518.1L1074.4 557.9L1074.6 512.1L1074.8 526L1075 513.9L1075.2 521.2L1075.4 517.7L1075.6 513.7L1075.7 485.1L1075.9 556.6L1076.1 569.1L1076.3 533.4L1076.5 597.9L1076.7 566.6L1076.9 560.6L1077.1 507.6L1077.2 527.4L1077.4 529.2L1077.6 512.9L1077.8 585L1078 498.9L1078.2 564.5L1078.4 530.4L1078.6 549.4L1078.8 539.2L1078.9 506.9L1079.1 522.6L1079.3 516.9L1079.5 544.3L1079.7 577.4L1079.9 533.9L1080.1 571.1L1080.3 518.6L1080.4 530.8L1080.6 545.3L1080.8 499.8L1081 537.9L1081.2 550.6L1081.4 560.9L1081.6 534.2L1081.8 509.3L1082 544.4L1082.1 521.5L1082.3 551.8L1082.5 520.9L1082.7 506.1L1082.9 519.7L1083.1 500.1L1083.3 528.5L1083.5 582L1083.6 520.5L1083.8 519.7L1084 522L1084.2 555.9L1084.4 562.4L1084.6 546.4L1084.8 502L1085 563.1L1085.1 543.1L1085.3 574.5L1085.5 554.5L1085.7 517.4L1085.9 530.5L1086.1 544.1L1086.3 515L1086.5 542.7L1086.7 521.9L1086.8 565.9L1087 504.9L1087.2 493.3L1087.4 522.8L1087.6 547.6L1087.8 532.1L1088 482.1L1088.2 554.7L1088.3 515.4L1088.5 520.9L1088.7 529.9L1088.9 503.8L1089.1 529.8L1089.3 558.2L1089.5 506.5L1089.7 520L1089.8 529.5L1090 518.2L1090.2 498.5L1090.4 534.7L1090.6 530.8L1090.8 553.6L1091 553L1091.2 513.2L1091.4 538.9L1091.5 522.9L1091.7 518.6L1091.9 540.7L1092.1 611.4L1092.3 589.1L1092.5 541.1L1092.7 521.1L1092.9 520.1L1093 534.1L1093.2 600.9L1093.4 524.9L1093.6 511.5L1093.8 515.5L1094 563.7L1094.2 556.4L1094.4 532.6L1094.5 528.7L1094.7 572.6L1094.9 521.3L1095.1 497.5L1095.3 513.8L1095.5 501.2L1095.7 537.2L1095.9 553L1096.1 507.5L1096.2 573.5L1096.4 521L1096.6 557.1L1096.8 523L1097 613.5L1097.2 521.3L1097.4 573.6L1097.6 527L1097.7 513L1097.9 593.4L1098.1 505.9L1098.3 554.2L1098.5 562.7L1098.7 489.1L1098.9 534.4L1099.1 518.2L1099.3 522.3L1099.4 520L1099.6 576.7L1099.8 578.6L1100 505.7L1100.2 539.3L1100.4 525.3L1100.6 538L1100.8 589.8L1100.9 539.3L1101.1 555.8L1101.3 493.2L1101.5 502.5L1101.7 500.6L1101.9 573.9L1102.1 525.8L1102.3 509.6L1102.4 517.4L1102.6 527.4L1102.8 525L1103 532.3L1103.2 508.5L1103.4 525.5L1103.6 467.3L1103.8 561.2L1104 606.8L1104.1 555.9L1104.3 512.2L1104.5 553.1L1104.7 494.7L1104.9 533.9L1105.1 583.2L1105.3 521L1105.5 560.5L1105.6 539.7L1105.8 545.4L1106 505.7L1106.2 617.4L1106.4 572.8L1106.6 472.5L1106.8 578L1107 563.6L1107.1 547.9L1107.3 546L1107.5 538.6L1107.7 533.7L1107.9 518.5L1108.1 568.6L1108.3 568.1L1108.5 521.1L1108.7 516.4L1108.8 586.6L1109 531.9L1109.2 546.3L1109.4 509.8L1109.6 525.9L1109.8 554L1110 532.7L1110.2 512.9L1110.3 520.2L1110.5 569.8L1110.7 519.2L1110.9 521.1L1111.1 520.9L1111.3 528.1L1111.5 564.2L1111.7 522.3L1111.9 557.8L1112 516.6L1112.2 541.5L1112.4 570.3L1112.6 549L1112.8 566.7L1113 533.6L1113.2 548.1L1113.4 512.9L1113.5 525L1113.7 535.2L1113.9 543.8L1114.1 510.5L1114.3 552.5L1114.5 489.4L1114.7 558.5L1114.9 496.3L1115 534.1L1115.2 526.7L1115.4 507L1115.6 497.9L1115.8 525.5L1116 565.1L1116.2 514.5L1116.4 545L1116.6 530.4L1116.7 545.9L1116.9 522.5L1117.1 562.1L1117.3 536.5L1117.5 517.7L1117.7 520.1L1117.9 543.8L1118.1 546.3L1118.2 524.6L1118.4 556.1L1118.6 511.8L1118.8 494L1119 529.3L1119.2 528.1L1119.4 522.7L1119.6 543.8L1119.7 569.1L1119.9 489.1L1120.1 521.2L1120.3 538.7L1120.5 540.7L1120.7 505L1120.9 569.5L1121.1 522.8L1121.3 517.1L1121.4 564.5L1121.6 527.2L1121.8 515.6L1122 562.1L1122.2 501.5L1122.4 581.9L1122.6 531.5L1122.8 575.2L1122.9 575.1L1123.1 484.9L1123.3 528L1123.5 593.9L1123.7 565.3L1123.9 564.4L1124.1 523.6L1124.3 532.6L1124.4 554.7L1124.6 524L1124.8 479.6L1125 536.6L1125.2 501.2L1125.4 515.1L1125.6 558.4L1125.8 537.3L1126 534.1L1126.1 509.4L1126.3 551.5L1126.5 564L1126.7 449L1126.9 540.7L1127.1 549.6L1127.3 616L1127.5 563.5L1127.6 551.8L1127.8 484.2L1128 627L1128.2 565.4L1128.4 555.4L1128.6 515.5L1128.8 576.8L1129 496.6L1129.2 507L1129.3 583.8L1129.5 550.6L1129.7 449L1129.9 528.3L1130.1 565.3L1130.3 534.7L1130.5 530.2L1130.7 524.9L1130.8 536L1131 526L1131.2 486.2L1131.4 602.5L1131.6 449L1131.8 550.9L1132 449L1132.2 527.4L1132.3 506.6L1132.5 616.3L1132.7 577L1132.9 478.8L1133.1 486.8L1133.3 469.4L1133.5 507.7L1133.7 516.6L1133.9 596.3L1134 624.9L1134.2 473.7L1134.4 535.8L1134.6 584.2L1134.8 537.2L1135 533.6L1135.2 449L1135.4 505.8L1135.5 535.1L1135.7 555.1L1135.9 615.3L1136.1 546L1136.3 576.9L1136.5 589L1136.7 579.7L1136.9 548.3L1137 479.5L1137.2 561.6L1137.4 491.3L1137.6 472.4L1137.8 499.3L1138 559.8L1138.2 504L1138.4 544.2L1138.6 514.8L1138.7 571.6L1138.9 487.8L1139.1 535.7L1139.3 577L1139.5 478.4L1139.7 504.2L1139.9 578.6L1140.1 481.6L1140.2 545L1140.4 532.2L1140.6 541.1L1140.8 497.1L1141 507.4L1141.2 544L1141.4 532.1L1141.6 518.2L1141.7 604.6L1141.9 569.1L1142.1 601.9L1142.3 542L1142.5 528.1L1142.7 449L1142.9 531.5L1143.1 529.6L1143.3 605.6L1143.4 530.1L1143.6 573.7L1143.8 576L1144 548.8L1144.2 577.7L1144.4 545.6L1144.6 510.1L1144.8 516.4L1144.9 569.6L1145.1 501.8L1145.3 639.9L1145.5 508.3L1145.7 523.7L1145.9 481.1L1146.1 512.7L1146.3 495L1146.5 546L1146.6 529.9L1146.8 536.9L1147 508.8L1147.2 591.6L1147.4 524.2L1147.6 484.5L1147.8 491L1148 486L1148.1 584.7L1148.3 528.2L1148.5 493.4L1148.7 570.2L1148.9 496.9L1149.1 503.4L1149.3 586.9L1149.5 555.5L1149.6 605.6L1149.8 564.9L1150 509.6L1150.2 528.1L1150.4 512.3L1150.6 550L1150.8 538.1L1151 537.3L1151.2 565.6L1151.3 534.6L1151.5 551.5L1151.7 496.2L1151.9 542.9L1152.1 536.3L1152.3 586.3L1152.5 494.9L1152.7 614L1152.8 559.2L1153 492L1153.2 565.8L1153.4 563.3L1153.6 572.1L1153.8 548.5L1154 575.7L1154.2 497.1L1154.3 478.5L1154.5 529.1L1154.7 507.7L1154.9 555.1L1155.1 518.3L1155.3 588.3L1155.5 555.6L1155.7 603.1L1155.9 498L1156 539L1156.2 607.4L1156.4 568.6L1156.6 529.5L1156.8 481.4L1157 537.6L1157.2 496.5L1157.4 484.9L1157.5 531L1157.7 599.5L1157.9 578.8L1158.1 537.1L1158.3 554.5L1158.5 528.4L1158.7 495.4L1158.9 520.5L1159.1 559L1159.2 500.7L1159.4 488.7L1159.6 531.2L1159.8 509.9L1160 531.6L1160.2 620.5L1160.4 485.7L1160.6 580L1160.7 566.3L1160.9 550.4L1161.1 504.8L1161.3 504L1161.5 570.3L1161.7 632.3L1161.9 490.3L1162.1 479.5L1162.2 509.5L1162.4 542.4L1162.6 596.8L1162.8 527.6L1163 494.9L1163.2 497.2L1163.4 555.9L1163.6 513.3L1163.8 514.9L1163.9 525.4L1164.1 566.1L1164.3 598L1164.5 562.2L1164.7 563.1L1164.9 507.9L1165.1 554.1L1165.3 511.1L1165.4 506.5L1165.6 489.9L1165.8 487.5L1166 530.8L1166.2 588.5L1166.4 520.5L1166.6 523L1166.8 523.3L1166.9 590.8L1167.1 541.1L1167.3 516.4L1167.5 598.9L1167.7 547.5L1167.9 482.6L1168.1 502.1L1168.3 616.4L1168.5 566.5L1168.6 544.5L1168.8 486.1L1169 523.2L1169.2 562.6L1169.4 562.9L1169.6 504.1L1169.8 505.6L1170 478.2L1170.1 552.5L1170.3 555.4L1170.5 604.7L1170.7 601.1L1170.9 544.5L1171.1 563.8L1171.3 550.8L1171.5 607.2L1171.6 516.2L1171.8 534L1172 507.6L1172.2 503.3L1172.4 650L1172.6 586.3L1172.8 561.4L1173 617.8L1173.2 516.1L1173.3 493.2L1173.5 576.1L1173.7 570.6L1173.9 473.3L1174.1 507.7L1174.3 533.3L1174.5 513.7L1174.7 527.8L1174.8 515.1L1175 569.8L1175.2 514.6L1175.4 528.3L1175.6 570.2L1175.8 528.6L1176 559.9L1176.2 558.7L1176.4 562L1176.5 565.6L1176.7 558.4L1176.9 536.2L1177.1 533.8L1177.3 496.7L1177.5 505.9L1177.7 529.6L1177.9 549.1L1178 529L1178.2 532.1L1178.4 533.1L1178.6 484.1L1178.8 505.4L1179 604.1L1179.2 583.3L1179.4 506.6L1179.5 520.8L1179.7 614.1L1179.9 548.4L1180.1 562.5L1180.3 511.2L1180.5 506.5L1180.7 512.5L1180.9 569.5L1181.1 561.1L1181.2 571.2L1181.4 590.6L1181.6 522.6L1181.8 528.9L1182 523.2L1182.2 532L1182.4 507.9L1182.6 608.6L1182.7 491.2L1182.9 553.3L1183.1 553.2L1183.3 554L1183.5 496.5L1183.7 591.9L1183.9 540.1L1184.1 557.1L1184.2 517.6L1184.4 540L1184.6 546.6L1184.8 527.3L1185 564.2L1185.2 578.2L1185.4 532.4L1185.6 544L1185.8 520.6L1185.9 529.8L1186.1 520.3L1186.3 512.4L1186.5 580.2L1186.7 607.8L1186.9 603L1187.1 479.6L1187.3 578.6L1187.4 587.9L1187.6 505.8L1187.8 605.5L1188 588.1L1188.2 603.3L1188.4 582L1188.6 521.1L1188.8 525.8L1189 528.4L1189.1 577L1189.3 506.2L1189.5 555.3L1189.7 512.3L1189.9 527.5L1190.1 540.3L1190.3 563.9L1190.5 565.1L1190.6 470.7L1190.8 474L1191 538.9L1191.2 539.5L1191.4 503.1L1191.6 483.3L1191.8 527.4L1192 526L1192.1 528.2L1192.3 524.5L1192.5 500.9L1192.7 573.8L1192.9 550.7L1193.1 544.5L1193.3 524.6L1193.5 518.6L1193.7 604.4L1193.8 545.9L1194 527.8L1194.2 523.1L1194.4 542.8L1194.6 541.7L1194.8 560.9L1195 533.1L1195.2 545.8L1195.3 554.4L1195.5 511.3L1195.7 544.8L1195.9 503.8L1196.1 526.8L1196.3 547.1L1196.5 514.5L1196.7 575.9L1196.8 493.8L1197 526.7L1197.2 513.6L1197.4 514.5L1197.6 541.6L1197.8 538.6L1198 512.4L1198.2 536.1L1198.4 533.2L1198.5 522L1198.7 532.6L1198.9 520.7L1199.1 572.7L1199.3 533.4L1199.5 509.2L1199.7 519.8L1199.9 543.2L1200 572.2L1200.2 548.9L1200.4 528L1200.6 564.9L1200.8 527.1L1201 533.3L1201.2 527.5L1201.4 537.2L1201.5 515.2L1201.7 562.7L1201.9 482.8L1202.1 586.6L1202.3 538.8L1202.5 575.7L1202.7 556L1202.9 569.2L1203.1 518.6L1203.2 522.7L1203.4 545.2L1203.6 534.5L1203.8 503.8L1204 555.2L1204.2 502.8L1204.4 508.9L1204.6 512.2L1204.7 489.9L1204.9 562.8L1205.1 581.2L1205.3 510.7L1205.5 509.4L1205.7 515.7L1205.9 508L1206.1 529.6L1206.3 511.8L1206.4 556.8L1206.6 540.6L1206.8 611.7L1207 587.9L1207.2 556.5L1207.4 524.9L1207.6 555.8L1207.8 575.9L1207.9 548.2L1208.1 581.6L1208.3 570.3L1208.5 544.1L1208.7 511.1L1208.9 528L1209.1 606L1209.3 525.5L1209.4 592.2L1209.6 484.9L1209.8 624.1L1210 563.3L1210.2 515.5L1210.4 477.6L1210.6 508.3L1210.8 500.1L1211 467.9L1211.1 568.2L1211.3 523.1L1211.5 591.6L1211.7 518.4L1211.9 495.7L1212.1 504.2L1212.3 600.8L1212.5 550.3L1212.6 545.1L1212.8 546.6L1213 505.4L1213.2 554.9L1213.4 524.3L1213.6 511.1L1213.8 544.7L1214 608.9L1214.1 570.3L1214.3 515.6L1214.5 449.9L1214.7 650L1214.9 562.4L1215.1 519.2L1215.3 544.1L1215.5 449L1215.7 470.6L1215.8 511.2L1216 552L1216.2 584.2L1216.4 546.5L1216.6 614.3L1216.8 534.7L1217 509.3L1217.2 650L1217.3 562.6L1217.5 550.6L1217.7 500.8L1217.9 547.6L1218.1 569.8L1218.3 537.3L1218.5 504.1L1218.7 552.9L1218.8 589L1219 569.1L1219.2 568L1219.4 599.3L1219.6 585.3L1219.8 505.6L1220 605.2L1220.2 523.9L1220.4 573.2L1220.5 449L1220.7 562.5L1220.9 529.5L1221.1 518.1L1221.3 522.8L1221.5 506.8L1221.7 552.2L1221.9 591.4L1222 542.5L1222.2 531.3L1222.4 602.3L1222.6 525.6L1222.8 538.5L1223 526L1223.2 515.3L1223.4 528.6L1223.6 510.9L1223.7 530.1L1223.9 542L1224.1 508.3L1224.3 562.4L1224.5 566.4L1224.7 518.6L1224.9 559.4L1225.1 580.4L1225.2 547.2L1225.4 531.8L1225.6 576.4L1225.8 532.3L1226 561.6L1226.2 530.1L1226.4 489.3L1226.6 599.2L1226.7 531.1L1226.9 589.8L1227.1 548.9L1227.3 538.4L1227.5 572.9L1227.7 562.4L1227.9 528.8L1228.1 491.9L1228.3 495.9L1228.4 524.5L1228.6 531.7L1228.8 531.2L1229 535.1L1229.2 551.1L1229.4 520.8L1229.6 550.1L1229.8 533.6L1229.9 576.7L1230.1 547.5L1230.3 504.2L1230.5 551.9L1230.7 550.9L1230.9 502.8L1231.1 534L1231.3 579.5L1231.4 540.7L1231.6 511.9L1231.8 548.7L1232 514.1L1232.2 551.6L1232.4 524.7L1232.6 516.1L1232.8 507.6L1233 528.1L1233.1 516.2L1233.3 525.6L1233.5 541.5L1233.7 567.9L1233.9 526.3L1234.1 516.2L1234.3 559.1L1234.5 567.9L1234.6 541.4L1234.8 532.4L1235 536.3L1235.2 472.6L1235.4 532.1L1235.6 568.1L1235.8 569.6L1236 543.9L1236.2 533L1236.3 539.2L1236.5 556.5L1236.7 523.9L1236.9 563.6L1237.1 527L1237.3 523.3L1237.5 495.5L1237.7 549.3L1237.8 531.4L1238 543.2L1238.2 530L1238.4 515.6L1238.6 529L1238.8 533.9L1239 538.4L1239.2 557.9L1239.3 544.2L1239.5 529.2L1239.7 546.5L1239.9 540.7L1240.1 529.6L1240.3 522L1240.5 509.5L1240.7 518.6L1240.9 539.3L1241 534.5L1241.2 569.1L1241.4 542L1241.6 521.3L1241.8 528.1L1242 519.3L1242.2 511.6L1242.4 512L1242.5 521.7L1242.7 570.2L1242.9 592.9L1243.1 520.6L1243.3 521.8L1243.5 548.4L1243.7 510.6L1243.9 574L1244 527.2L1244.2 521.5L1244.4 517.4L1244.6 529.5L1244.8 515.5L1245 542.1L1245.2 551L1245.4 525.6L1245.6 500.2L1245.7 586.4L1245.9 619.4L1246.1 589.8L1246.3 478.4L1246.5 548L1246.7 491.2L1246.9 503.8L1247.1 511L1247.2 476.8L1247.4 511.1L1247.6 602.7L1247.8 564.9L1248 532.4L1248.2 516L1248.4 543L1248.6 522.3L1248.7 563.7L1248.9 610.3L1249.1 517.5L1249.3 604.1L1249.5 606.2L1249.7 573.4L1249.9 563.4L1250.1 501L1250.3 496.6L1250.4 544.6L1250.6 620.2L1250.8 563L1251 524.3L1251.2 539.2L1251.4 517.5L1251.6 547L1251.8 563.5L1251.9 561.8L1252.1 573.1L1252.3 632.5L1252.5 574.3L1252.7 557L1252.9 530.9L1253.1 530.4L1253.3 562.2L1253.5 502.2L1253.6 522.8L1253.8 626.7L1254 575.5L1254.2 513.6L1254.4 606.1L1254.6 568L1254.8 484.5L1255 522.2L1255.1 551.2L1255.3 563.5L1255.5 503.6L1255.7 604.9L1255.9 567.2L1256.1 501.2L1256.3 562.1L1256.5 530.5L1256.6 529.4L1256.8 494.1L1257 522.6L1257.2 569.3L1257.4 495.9L1257.6 569.6L1257.8 591.5L1258 520.4L1258.2 524.6L1258.3 574L1258.5 548.6L1258.7 606.5L1258.9 542.8L1259.1 543.1L1259.3 494.1L1259.5 518L1259.7 628.6L1259.8 600.2L1260 525.1L1260.2 551L1260.4 507L1260.6 558.7L1260.8 476L1261 569.4L1261.2 550L1261.3 545.8L1261.5 554.7L1261.7 524.8L1261.9 613.7L1262.1 514.8L1262.3 555.5L1262.5 542.8L1262.7 502.2L1262.9 513.4L1263 525.5L1263.2 520.1L1263.4 548.4L1263.6 582.1L1263.8 520.7L1264 521.6L1264.2 577.4L1264.4 546.4L1264.5 528.6L1264.7 580.1L1264.9 545.2L1265.1 574.4L1265.3 519.8L1265.5 509.1L1265.7 528.2L1265.9 542.9L1266.1 561.5L1266.2 510.4L1266.4 563L1266.6 530.3L1266.8 588.5L1267 557.7L1267.2 566.1L1267.4 552.7L1267.6 576.5L1267.7 508.4L1267.9 509.9L1268.1 531.4L1268.3 548.3L1268.5 587.2L1268.7 566.3L1268.9 576.5L1269.1 515L1269.2 540.6L1269.4 530L1269.6 517.8L1269.8 522.2L1270 520.9L1270.2 538.5L1270.4 579.4L1270.6 558.7L1270.8 520.8L1270.9 554.8L1271.1 485.7L1271.3 514.5L1271.5 570L1271.7 518.2L1271.9 527.5L1272.1 516.9L1272.3 564.6L1272.4 523.2L1272.6 526.8L1272.8 532.4L1273 564.9L1273.2 539.8L1273.4 543.6L1273.6 543.4L1273.8 543L1273.9 534.6L1274.1 544.9L1274.3 509.7L1274.5 560.1L1274.7 566.1L1274.9 560.7L1275.1 526.5L1275.3 525.2L1275.5 509.4L1275.6 533.5L1275.8 522.5L1276 545.5L1276.2 524.9L1276.4 512.1L1276.6 551.2L1276.8 543.4L1277 538.2L1277.1 522.9L1277.3 519.2L1277.5 522.3L1277.7 520.4L1277.9 549.2L1278.1 585.8L1278.3 543L1278.5 549.5L1278.6 533.2L1278.8 553.7L1279 518.4L1279.2 513.7L1279.4 541.7L1279.6 540.6L1279.8 510.5L1280 575.5L1280.2 535.3L1280.3 494.2L1280.5 508.1L1280.7 547.9L1280.9 525.1L1281.1 561.2L1281.3 560.9L1281.5 515.6L1281.7 535.1L1281.8 510.9L1282 553L1282.2 528.2L1282.4 540.9L1282.6 504.3L1282.8 550.4L1283 500.4L1283.2 566.1L1283.4 536.7L1283.5 564.2L1283.7 530.5L1283.9 565.2L1284.1 525.4L1284.3 509.4L1284.5 570.4L1284.7 505.5L1284.9 568.5L1285 517.8L1285.2 536.5L1285.4 523.5L1285.6 590.9L1285.8 508.4L1286 511.1L1286.2 526.3L1286.4 525.3L1286.5 519.5L1286.7 527.5L1286.9 544.6L1287.1 521.1L1287.3 543.7L1287.5 547.3L1287.7 556.9L1287.9 544.8L1288.1 517L1288.2 536.1L1288.4 491.2L1288.6 586.2L1288.8 521.7L1289 557.4L1289.2 587L1289.4 510.3L1289.6 563.8L1289.7 508.4L1289.9 553.5L1290.1 512.8L1290.3 543.6L1290.5 555.2L1290.7 525.7L1290.9 501.8L1291.1 510.9L1291.2 542L1291.4 525.6L1291.6 533.9L1291.8 555.6L1292 519.1L1292.2 510.6L1292.4 525.5L1292.6 540.9L1292.8 563.2L1292.9 514.9L1293.1 545.7L1293.3 531.6L1293.5 512.5L1293.7 543.1L1293.9 499L1294.1 505.4L1294.3 563L1294.4 521L1294.6 519L1294.8 546.6L1295 526.3L1295.2 571.3L1295.4 517.9L1295.6 570.3L1295.8 515.9L1295.9 580.6L1296.1 591.1L1296.3 531.6L1296.5 512.3L1296.7 493.2L1296.9 499.2L1297.1 570.7L1297.3 555.3L1297.5 518.2L1297.6 522.5L1297.8 531.8L1298 565.6L1298.2 508.2L1298.4 499.2L1298.6 548.8L1298.8 504.9L1299 542.7L1299.1 465.6L1299.3 504.4L1299.5 562.1L1299.7 506.2L1299.9 568.5L1300.1 513.9L1300.3 525.6L1300.5 514.7L1300.7 552.4L1300.8 558.2L1301 518.8L1301.2 569.4L1301.4 541.5L1301.6 553.5L1301.8 554.6L1302 554L1302.2 543.1L1302.3 537.7L1302.5 548.5L1302.7 559L1302.9 525.4L1303.1 529.5L1303.3 539L1303.5 516.5L1303.7 503.4L1303.8 550.2L1304 523.3L1304.2 541.7L1304.4 553.3L1304.6 490.8L1304.8 523.2L1305 530.6L1305.2 539L1305.4 582.3L1305.5 541.8L1305.7 571.9L1305.9 533.7L1306.1 580.5L1306.3 485.8L1306.5 560.2L1306.7 568L1306.9 556L1307 509.8L1307.2 559.2L1307.4 513.1L1307.6 531L1307.8 513.1L1308 570.2L1308.2 507.6L1308.4 506.9L1308.5 586.3L1308.7 570.8L1308.9 561.2L1309.1 569.6L1309.3 505.7L1309.5 511.3L1309.7 542.4L1309.9 538.3L1310.1 532.6L1310.2 543.2L1310.4 583.6L1310.6 614.3L1310.8 556.5L1311 557.4L1311.2 578.7L1311.4 512.1L1311.6 522.9L1311.7 568.7L1311.9 495.5L1312.1 540.4L1312.3 518.2L1312.5 475.8L1312.7 510.8L1312.9 531.7L1313.1 548.7L1313.3 557.2L1313.4 554.7L1313.6 519.5L1313.8 552.5L1314 502.1L1314.2 474.7L1314.4 542.2L1314.6 514.2L1314.8 586.4L1314.9 578.5L1315.1 516.7L1315.3 523.8L1315.5 570.9L1315.7 506.3L1315.9 517.1L1316.1 544.4L1316.3 528.3L1316.4 533.5L1316.6 549.7L1316.8 494.5L1317 522L1317.2 569.5L1317.4 569.3L1317.6 540.1L1317.8 570.6L1318 525.8L1318.1 532.3L1318.3 530L1318.5 523.7L1318.7 503L1318.9 606.6L1319.1 549.3L1319.3 577.4L1319.5 543.7L1319.6 537.8L1319.8 574.9L1320 527.9L1320.2 568.4L1320.4 503.6L1320.6 505.2L1320.8 522.5L1321 597.3L1321.1 542.6L1321.3 560.9L1321.5 529.5L1321.7 516.3L1321.9 527.3L1322.1 486.8L1322.3 501.8L1322.5 528.7L1322.7 529.1L1322.8 540.2L1323 540.7L1323.2 500.7L1323.4 518.8L1323.6 510.3L1323.8 581.6L1324 516.9L1324.2 513.3L1324.3 579.6L1324.5 535.2L1324.7 546.8L1324.9 537.7L1325.1 552L1325.3 503.4L1325.5 536.9L1325.7 539.1L1325.8 504.5L1326 554.1L1326.2 534.1L1326.4 598.4L1326.6 525.4L1326.8 548.8L1327 520.5L1327.2 523.5L1327.4 506.3L1327.5 500.8L1327.7 501.7L1327.9 528.5L1328.1 540.2L1328.3 510.5L1328.5 543.8L1328.7 559L1328.9 500.3L1329 509.7L1329.2 507.4L1329.4 527.1L1329.6 504.6L1329.8 553.9L1330 516.4L1330.2 541.8L1330.4 557.2L1330.6 576.6L1330.7 508L1330.9 500.5L1331.1 527.8L1331.3 554.5L1331.5 523.3L1331.7 513.2L1331.9 551.8L1332.1 538L1332.2 530.5L1332.4 517.7L1332.6 537L1332.8 532.8L1333 554.2L1333.2 527.8L1333.4 597.6L1333.6 530.8L1333.7 488.1L1333.9 518.4L1334.1 554L1334.3 517.6L1334.5 505.3L1334.7 546.7L1334.9 515.8L1335.1 524L1335.3 511.8L1335.4 519.8L1335.6 541L1335.8 501.4L1336 525.8L1336.2 505.1L1336.4 541.8L1336.6 528.5L1336.8 565.2L1336.9 560.7L1337.1 515.7L1337.3 487.7L1337.5 572.9L1337.7 523.1L1337.9 550.3L1338.1 509L1338.3 512.6L1338.4 520.1L1338.6 533.9L1338.8 534.2L1339 523.5L1339.2 515.3L1339.4 536.2L1339.6 537.9L1339.8 610.3L1340 483.9L1340.1 526L1340.3 553.1L1340.5 550L1340.7 539.6L1340.9 566.8L1341.1 522L1341.3 526.2L1341.5 498.1L1341.6 571.1L1341.8 534.6L1342 577.3L1342.2 549.2L1342.4 538.9L1342.6 521.9L1342.8 549.5L1343 510.2L1343.2 514.8L1343.3 583.3L1343.5 563.5L1343.7 515.6L1343.9 514.8L1344.1 539.4L1344.3 512.2L1344.5 528.1L1344.7 561.7L1344.8 529.3L1345 533.1L1345.2 483.1L1345.4 516L1345.6 581.2L1345.8 496.6L1346 520.8L1346.2 518.7L1346.3 536.4L1346.5 496.2L1346.7 485.3L1346.9 523L1347.1 535.5L1347.3 511.8L1347.5 530.3L1347.7 603.1L1347.9 590.7L1348 539.8L1348.2 610.2L1348.4 609.5L1348.6 500L1348.8 517.8L1349 530.4L1349.2 523.3L1349.4 535.3L1349.5 551L1349.7 514.9L1349.9 612L1350.1 588.8L1350.3 530.3L1350.5 539.7L1350.7 492L1350.9 534.5L1351 598.6L1351.2 504.9L1351.4 507.6L1351.6 565.6L1351.8 528.9L1352 514.5L1352.2 567.2L1352.4 540.4L1352.6 561.5L1352.7 546.6L1352.9 546.9L1353.1 572.8L1353.3 499.8L1353.5 573.1L1353.7 539.5L1353.9 536.7L1354.1 511.9L1354.2 527.2L1354.4 498.4L1354.6 527.9L1354.8 567.5L1355 483.3L1355.2 527.4L1355.4 491.3L1355.6 532.2L1355.7 635.8L1355.9 512.1L1356.1 530.3L1356.3 566.2L1356.5 527.1L1356.7 540.2L1356.9 595.3L1357.1 500.5L1357.3 470.4L1357.4 495.4L1357.6 573L1357.8 569.2L1358 489.1L1358.2 578.7L1358.4 585.1L1358.6 622.7L1358.8 541.5L1358.9 623.9L1359.1 529.7L1359.3 527.9L1359.5 545.9L1359.7 514.1L1359.9 482.7L1360.1 522.6L1360.3 544.3L1360.5 612.7L1360.6 509.2L1360.8 524.8L1361 538.6L1361.2 576L1361.4 630.5L1361.6 546.4L1361.8 586.4L1362 566.6L1362.1 536.2L1362.3 488L1362.5 526.5L1362.7 614L1362.9 543L1363.1 504.2L1363.3 589.4L1363.5 537.4L1363.6 503.2L1363.8 591.1L1364 531.4L1364.2 539L1364.4 511.7L1364.6 474.1L1364.8 485.4L1365 605.1L1365.2 530.2L1365.3 586.6L1365.5 539.1L1365.7 595.3L1365.9 547.4L1366.1 516.6L1366.3 534.5L1366.5 550.8L1366.7 520.9L1366.8 579.7L1367 537.9L1367.2 563.3L1367.4 524.9L1367.6 496.5L1367.8 452.8L1368 544.2L1368.2 531.8L1368.3 570.7L1368.5 508.9L1368.7 564.2L1368.9 583.8L1369.1 525.8L1369.3 568.5L1369.5 552.9L1369.7 568L1369.9 573.6L1370 510.4L1370.2 519.5L1370.4 550.7L1370.6 497.5L1370.8 565.8L1371 528.5L1371.2 605.3L1371.4 510.6L1371.5 559L1371.7 561.6L1371.9 602.2L1372.1 599.4L1372.3 537.9L1372.5 533.7L1372.7 532.4L1372.9 516.8L1373 564.4L1373.2 514.4L1373.4 506.8L1373.6 480.2L1373.8 553.3L1374 499.9L1374.2 574.2L1374.4 476.4L1374.6 512.6L1374.7 552L1374.9 616.5L1375.1 650L1375.3 541L1375.5 478.7L1375.7 622.3L1375.9 551.2L1376.1 490.6L1376.2 496L1376.4 600.7L1376.6 579.2L1376.8 586.1L1377 564.5L1377.2 449L1377.4 650L1377.6 515.6L1377.8 568.4L1377.9 532.7L1378.1 514.1L1378.3 491.7L1378.5 526L1378.7 507.7L1378.9 483.4L1379.1 556.5L1379.3 505.8L1379.4 492.5L1379.6 546.8L1379.8 623.7L1380 555.4L1380.2 650L1380.4 590.3L1380.6 512.7L1380.8 516.2L1380.9 620.7L1381.1 525.1L1381.3 565.1L1381.5 526L1381.7 512.1L1381.9 578.8L1382.1 502.4L1382.3 650L1382.5 538.5L1382.6 532.9L1382.8 630.4L1383 592.2L1383.2 610.4L1383.4 585.6L1383.6 513.8L1383.8 533.5L1384 578.3L1384.1 565.9L1384.3 527.2L1384.5 491.8L1384.7 510.2L1384.9 510.1L1385.1 510.5L1385.3 586.4L1385.5 568.2L1385.6 493.3L1385.8 648.2L1386 560.9L1386.2 516L1386.4 449L1386.6 597.6L1386.8 650L1387 570.7L1387.2 554.4L1387.3 580.5L1387.5 474.2L1387.7 587.5L1387.9 650L1388.1 541.1L1388.3 593.5L1388.5 596.1L1388.7 593.9L1388.8 650L1389 650L1389.2 572.3L1389.4 461.6L1389.6 512.7L1389.8 588L1390 548L1390.2 520.6L1390.4 556L1390.5 449L1390.7 519.3L1390.9 546L1391.1 650L1391.3 535.9L1391.5 552.1L1391.7 650L1391.9 449L1392 536.3L1392.2 529.8L1392.4 650L1392.6 477.7L1392.8 564.1L1393 570.4L1393.2 449L1393.4 449L1393.5 449L1393.7 495.5L1393.9 650L1394.1 491.7L1394.3 496.3L1394.5 581L1394.7 459.7L1394.9 569.2L1395.1 616.4L1395.2 567.3L1395.4 606.7L1395.6 487.8L1395.8 511.6L1396 531.2L1396.2 639.9L1396.4 540.9L1396.6 606.8L1396.7 635.3L1396.9 650L1397.1 510.2L1397.3 490L1397.5 529.3L1397.7 650L1397.9 650L1398.1 488.7L1398.2 495.9L1398.4 574.9L1398.6 552.9L1398.8 538.3L1399 567.4L1399.2 639.1L1399.4 556.4L1399.6 591.5L1399.8 476.6L1399.9 603.3L1400.1 649.4L1400.3 650L1400.5 536.2L1400.7 478.9L1400.9 449L1401.1 629.4L1401.3 629.1L1401.4 512.5L1401.6 590L1401.8 459L1402 521.4L1402.2 458.3L1402.4 514.5L1402.6 589.3"/>
<line x1="103.0" x2="1498.0" y1="515.5" y2="515.5" stroke="#000" stroke-opacity=".6" stroke-width="1"/>
</g>
<rect x="1315.5" y="50.8" width="174.9" height="84.1" rx="3.6" ry="3.6" fill="#fff" fill-opacity=".8" stroke="#ccc" stroke-opacity=".8" stroke-width="2.08"/>
<line x1="1322.2" x2="1357" y1="66.1" y2="66.1" stroke="#1f77b4" stroke-width="2.5"/>
<line x1="1322.2" x2="1357" y1="91.8" y2="91.8" stroke="#ff7f0e" stroke-width="2.5"/>
<line x1="1322.2" x2="1357" y1="118.1" y2="118.1" stroke="#000" stroke-opacity=".7" stroke-width="2.5"/>
<text transform="translate(1369.50 71.90) scale(1.020 1)" font-size="16.97" x="-0.07" y="0">A</text>
<text transform="translate(1369.50 97.90) scale(1.020 1)" font-size="16.97" x="-0.05" y="0">B</text>
<text transform="translate(1369.50 123.90) scale(1.070 1)" font-size="16.97" x="0.70 6.18 15.97 20.30 24.57 34.60 40.91 45.00 53.64 58.99 73.70 83.41 93.14 102.93" y="0">telluric model</text>
<rect class="sp" x="103.0" y="43.0" width="1395.0" height="422.0"/>
<rect class="sp" x="103.0" y="479.0" width="1395.0" height="141.0"/>
<line class="t" x1="115.0" x2="115.0" y1="465.0" y2="472.0"/><line class="t" x1="115.0" x2="115.0" y1="620.0" y2="627.0"/>
<line class="t" x1="387.0" x2="387.0" y1="465.0" y2="472.0"/><line class="t" x1="387.0" x2="387.0" y1="620.0" y2="627.0"/>
<line class="t" x1="660.0" x2="660.0" y1="465.0" y2="472.0"/><line class="t" x1="660.0" x2="660.0" y1="620.0" y2="627.0"/>
<line class="t" x1="932.0" x2="932.0" y1="465.0" y2="472.0"/><line class="t" x1="932.0" x2="932.0" y1="620.0" y2="627.0"/>
<line class="t" x1="1205.0" x2="1205.0" y1="465.0" y2="472.0"/><line class="t" x1="1205.0" x2="1205.0" y1="620.0" y2="627.0"/>
<line class="t" x1="1477.0" x2="1477.0" y1="465.0" y2="472.0"/><line class="t" x1="1477.0" x2="1477.0" y1="620.0" y2="627.0"/>
<line class="t" x1="96.0" x2="103.0" y1="109.0" y2="109.0"/>
<line class="t" x1="96.0" x2="103.0" y1="193.0" y2="193.0"/>
<line class="t" x1="96.0" x2="103.0" y1="277.0" y2="277.0"/>
<line class="t" x1="96.0" x2="103.0" y1="361.0" y2="361.0"/>
<line class="t" x1="96.0" x2="103.0" y1="444.0" y2="444.0"/>
<line class="t" x1="96.0" x2="103.0" y1="522.0" y2="522.0"/>
<line class="t" x1="96.0" x2="103.0" y1="584.0" y2="584.0"/>
<text transform="translate(88.50 115.50) scale(1.050 1)" font-size="16.97" x="-29.97 -19.87 -9.77" y="0">100</text>
<text transform="translate(88.50 199.25) scale(1.050 1)" font-size="16.97" x="-19.87 -9.77" y="0">50</text>
<text transform="translate(88.50 283.00) scale(1.050 1)" font-size="16.97" x="-9.77" y="0">0</text>
<text transform="translate(88.50 366.75) scale(1.365 1)" font-size="16.97" x="-25.61" y="0">−</text><text transform="translate(88.50 366.75) scale(1.050 1)" font-size="16.97" x="-19.87 -9.77" y="0">50</text>
<text transform="translate(88.50 450.50) scale(1.365 1)" font-size="16.97" x="-33.38" y="0">−</text><text transform="translate(88.50 450.50) scale(1.050 1)" font-size="16.97" x="-29.97 -19.87 -9.77" y="0">100</text>
<text transform="translate(88.50 528.10) scale(1.050 1)" font-size="16.97" x="-9.77" y="0">0</text>
<text transform="translate(88.50 589.80) scale(1.365 1)" font-size="16.97" x="-25.61" y="0">−</text><text transform="translate(88.50 589.80) scale(1.050 1)" font-size="16.97" x="-19.87 -9.77" y="0">10</text>
<text transform="translate(115.20 650.20) scale(1.050 1)" font-size="16.97" x="-19.87 -9.77 0.33 10.43" y="0">4680</text>
<text transform="translate(387.20 650.20) scale(1.050 1)" font-size="16.97" x="-19.87 -9.77 0.33 10.43" y="0">4700</text>
<text transform="translate(660.20 650.20) scale(1.050 1)" font-size="16.97" x="-19.87 -9.77 0.33 10.43" y="0">4720</text>
<text transform="translate(932.20 650.20) scale(1.050 1)" font-size="16.97" x="-19.87 -9.77 0.33 10.43" y="0">4740</text>
<text transform="translate(1205.20 650.20) scale(1.050 1)" font-size="16.97" x="-19.87 -9.77 0.33 10.43" y="0">4760</text>
<text transform="translate(1477.20 650.20) scale(1.050 1)" font-size="16.97" x="-19.87 -9.77 0.33 10.43" y="0">4780</text>
<text transform="translate(800.55 30.80) scale(1.070 1)" font-size="21.20" x="-270.70 -256.15 -236.93 -222.90 -210.52 -198.13 -185.75 -174.69 -164.82 -152.00 -135.20 -119.00 -107.94 -96.88 -86.55 -69.03 -56.64 -44.26 -31.87 -20.81 -9.75 2.63 15.02 27.40 39.47 46.81 59.20 71.27 78.60 90.99 102.05 113.11 125.49 137.88 150.26 162.65 174.89 181.08 187.17 199.50 207.31 219.48 231.83 239.51 245.85 258.24" y="0">NWA2005_SMM_2_M4368_2023-09-30_02205  order 04</text>
<text transform="translate(800.70 677.50) scale(1.070 1)" font-size="21.20" x="-82.74 -67.05 -54.73 -43.58 -31.34 -26.19 -14.03 -1.69 11.26 18.29 30.51 37.40 44.42 57.13 76.30" y="0">wavelength [nm]</text>
<text transform="translate(30.20 255.60) rotate(-90) scale(1.050 1)" font-size="21.20" x="-50.43 -43.60 -38.09 -25.34 -13.96 -6.94 -0.41 13.43 28.32 44.17" y="0">flux [ADU]</text>
<text transform="translate(41.90 552.80) rotate(-90) scale(1.080 1)" font-size="21.20" x="-37.99 -30.46 -18.91 -8.26 -3.00 9.24 21.26 33.39" y="0">residual</text>
</svg>
</body></html>
